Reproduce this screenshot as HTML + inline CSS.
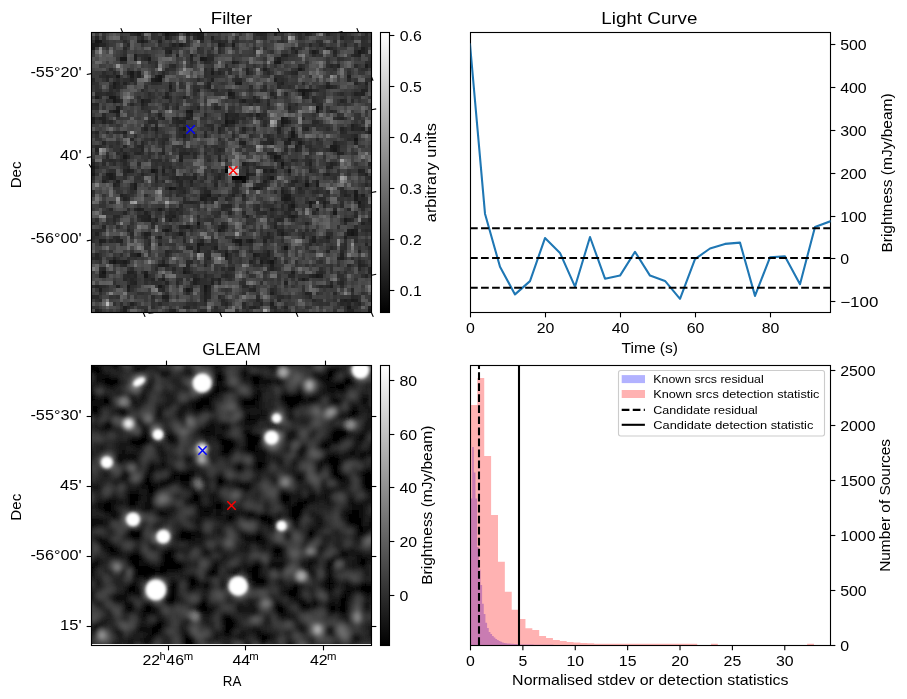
<!DOCTYPE html>
<html><head><meta charset="utf-8"><title>figure</title>
<style>html,body{margin:0;padding:0;background:#fff;}svg{display:block;will-change:transform;}text{font-family:"Liberation Sans",sans-serif;}</style></head><body>
<svg width="907" height="699" viewBox="0 0 907 699">
<defs>
<clipPath id="cF"><rect x="91.5" y="32.5" width="280.0" height="280.0"/></clipPath>
<clipPath id="cL"><rect x="470.5" y="32.5" width="360.0" height="280.0"/></clipPath>
<clipPath id="cG"><rect x="91.5" y="365.5" width="280.0" height="278.5"/></clipPath>
<clipPath id="cH"><rect x="470.5" y="365.5" width="360.0" height="280.0"/></clipPath>
<linearGradient id="gr" x1="0" y1="0" x2="0" y2="1"><stop offset="0" stop-color="#fff"/><stop offset="1" stop-color="#000"/></linearGradient>
<filter id="b3" x="-10%" y="-10%" width="120%" height="120%"><feGaussianBlur stdDeviation="2"/></filter>
<filter id="b2" x="-50%" y="-50%" width="200%" height="200%"><feGaussianBlur stdDeviation="1.6"/></filter>
<filter id="b4" x="-80%" y="-80%" width="260%" height="260%"><feGaussianBlur stdDeviation="3.2"/></filter>
<filter id="b26" x="-80%" y="-80%" width="260%" height="260%"><feGaussianBlur stdDeviation="2.6"/></filter>
</defs>
<rect x="0" y="0" width="907" height="699" fill="#fff"/>
<g clip-path="url(#cF)" shape-rendering="crispEdges">
<rect x="91.5" y="32.5" width="280.0" height="280.0" fill="#3a3a3a"/>
<path fill="#030303" d="M224.50 169.00h3.50v3.52h-3.50zM231.50 176.00h10.50v3.52h-10.50z"/>
<path fill="#090909" d="M242.00 176.00h3.50v3.52h-3.50z"/>
<path fill="#0c0c0c" d="M242.00 179.50h3.50v3.52h-3.50z"/>
<path fill="#151515" d="M95.00 39.50h3.50v3.52h-3.50zM158.00 74.50h3.50v3.52h-3.50zM158.00 78.00h3.50v3.52h-3.50zM301.50 92.00h3.50v3.52h-3.50zM315.50 106.00h3.50v3.52h-3.50zM224.50 120.00h3.50v3.52h-3.50zM354.00 137.50h3.50v3.52h-3.50zM273.50 155.00h3.50v3.52h-3.50zM280.50 162.00h3.50v3.52h-3.50zM224.50 165.50h3.50v3.52h-3.50zM151.00 169.00h3.50v3.52h-3.50zM305.00 183.00h3.50v3.52h-3.50zM168.50 186.50h3.50v3.52h-3.50zM196.50 221.50h3.50v3.52h-3.50zM350.50 232.00h3.50v3.52h-3.50zM284.00 246.00h3.50v3.52h-3.50zM112.50 260.00h3.50v3.52h-3.50zM270.00 260.00h3.50v3.52h-3.50zM102.00 270.50h3.50v3.52h-3.50zM203.50 284.50h3.50v3.52h-3.50z"/>
<path fill="#181818" d="M165.00 32.50h3.50v3.52h-3.50zM98.50 39.50h3.50v3.52h-3.50zM91.50 46.50h3.50v3.52h-3.50zM357.50 50.00h3.50v3.52h-3.50zM119.50 57.00h7.00v3.52h-7.00zM200.00 57.00h3.50v3.52h-3.50zM277.00 60.50h3.50v3.52h-3.50zM298.00 67.50h3.50v3.52h-3.50zM130.00 71.00h3.50v3.52h-3.50zM116.00 74.50h3.50v3.52h-3.50zM154.50 78.00h3.50v3.52h-3.50zM301.50 88.50h3.50v3.52h-3.50zM228.00 92.00h3.50v3.52h-3.50zM109.00 95.50h7.00v3.52h-7.00zM112.50 99.00h3.50v3.52h-3.50zM116.00 109.50h3.50v3.52h-3.50zM186.00 109.50h7.00v3.52h-7.00zM280.50 116.50h3.50v3.52h-3.50zM280.50 120.00h3.50v3.52h-3.50zM182.50 127.00h3.50v3.52h-3.50zM291.00 130.50h3.50v3.52h-3.50zM291.00 134.00h3.50v3.52h-3.50zM287.50 137.50h3.50v3.52h-3.50zM333.00 148.00h3.50v3.52h-3.50zM123.00 155.00h3.50v3.52h-3.50zM91.50 165.50h3.50v3.52h-3.50zM287.50 169.00h3.50v3.52h-3.50zM91.50 172.50h3.50v3.52h-3.50zM270.00 176.00h3.50v3.52h-3.50zM252.50 186.50h3.50v3.52h-3.50zM207.00 193.50h3.50v3.52h-3.50zM354.00 193.50h3.50v3.52h-3.50zM284.00 197.00h3.50v3.52h-3.50zM308.50 200.50h3.50v3.52h-3.50zM357.50 200.50h3.50v3.52h-3.50zM291.00 204.00h3.50v3.52h-3.50zM333.00 211.00h3.50v3.52h-3.50zM165.00 228.50h3.50v3.52h-3.50zM350.50 228.50h3.50v3.52h-3.50zM235.00 239.00h7.00v3.52h-7.00zM196.50 242.50h3.50v3.52h-3.50zM137.00 253.00h3.50v3.52h-3.50zM224.50 253.00h3.50v3.52h-3.50zM182.50 270.50h3.50v3.52h-3.50zM144.00 274.00h3.50v3.52h-3.50zM315.50 274.00h3.50v3.52h-3.50zM158.00 284.50h3.50v3.52h-3.50zM186.00 288.00h3.50v3.52h-3.50zM203.50 288.00h3.50v3.52h-3.50zM347.00 305.50h3.50v3.52h-3.50z"/>
<path fill="#1b1b1b" d="M196.50 32.50h3.50v3.52h-3.50zM200.00 36.00h3.50v3.52h-3.50zM140.50 39.50h3.50v3.52h-3.50zM91.50 43.00h7.00v3.52h-7.00zM179.00 43.00h3.50v3.52h-3.50zM217.50 43.00h3.50v3.52h-3.50zM231.50 43.00h3.50v3.52h-3.50zM312.00 50.00h3.50v3.52h-3.50zM147.50 57.00h3.50v3.52h-3.50zM203.50 57.00h3.50v3.52h-3.50zM273.50 60.50h3.50v3.52h-3.50zM364.50 64.00h3.50v3.52h-3.50zM210.50 71.00h3.50v3.52h-3.50zM130.00 74.50h3.50v3.52h-3.50zM112.50 81.50h3.50v3.52h-3.50zM238.50 81.50h3.50v3.52h-3.50zM168.50 85.00h3.50v3.52h-3.50zM298.00 88.50h3.50v3.52h-3.50zM305.00 88.50h3.50v3.52h-3.50zM95.00 95.50h3.50v3.52h-3.50zM140.50 99.00h3.50v3.52h-3.50zM112.50 109.50h3.50v3.52h-3.50zM315.50 109.50h3.50v3.52h-3.50zM91.50 116.50h3.50v3.52h-3.50zM231.50 120.00h3.50v3.52h-3.50zM284.00 120.00h3.50v3.52h-3.50zM298.00 141.00h3.50v3.52h-3.50zM329.50 144.50h7.00v3.52h-7.00zM277.00 155.00h3.50v3.52h-3.50zM270.00 169.00h3.50v3.52h-3.50zM109.00 172.50h3.50v3.52h-3.50zM245.50 172.50h3.50v3.52h-3.50zM109.00 176.00h3.50v3.52h-3.50zM133.50 183.00h3.50v3.52h-3.50zM315.50 183.00h3.50v3.52h-3.50zM133.50 186.50h3.50v3.52h-3.50zM172.00 186.50h3.50v3.52h-3.50zM256.00 186.50h3.50v3.52h-3.50zM354.00 190.00h3.50v3.52h-3.50zM284.00 193.50h7.00v3.52h-7.00zM200.00 197.00h3.50v3.52h-3.50zM287.50 197.00h3.50v3.52h-3.50zM354.00 197.00h3.50v3.52h-3.50zM158.00 207.50h3.50v3.52h-3.50zM291.00 214.50h3.50v3.52h-3.50zM343.50 218.00h3.50v3.52h-3.50zM186.00 225.00h3.50v3.52h-3.50zM217.50 228.50h3.50v3.52h-3.50zM179.00 232.00h3.50v3.52h-3.50zM280.50 232.00h3.50v3.52h-3.50zM347.00 232.00h3.50v3.52h-3.50zM249.00 239.00h3.50v3.52h-3.50zM200.00 242.50h3.50v3.52h-3.50zM238.50 242.50h3.50v3.52h-3.50zM196.50 246.00h3.50v3.52h-3.50zM196.50 249.50h3.50v3.52h-3.50zM252.50 253.00h3.50v3.52h-3.50zM123.00 260.00h3.50v3.52h-3.50zM259.50 260.00h3.50v3.52h-3.50zM161.50 263.50h3.50v3.52h-3.50zM301.50 277.50h3.50v3.52h-3.50zM126.50 284.50h3.50v3.52h-3.50zM350.50 298.50h3.50v3.52h-3.50zM368.00 309.00h3.50v3.52h-3.50z"/>
<path fill="#1e1e1e" d="M137.00 32.50h3.50v3.52h-3.50zM186.00 32.50h3.50v3.52h-3.50zM200.00 32.50h3.50v3.52h-3.50zM196.50 36.00h3.50v3.52h-3.50zM361.00 46.50h3.50v3.52h-3.50zM168.50 50.00h3.50v3.52h-3.50zM133.50 53.50h3.50v3.52h-3.50zM189.50 53.50h3.50v3.52h-3.50zM133.50 57.00h3.50v3.52h-3.50zM277.00 57.00h3.50v3.52h-3.50zM231.50 60.50h3.50v3.52h-3.50zM263.00 67.50h3.50v3.52h-3.50zM347.00 74.50h3.50v3.52h-3.50zM151.00 78.00h3.50v3.52h-3.50zM273.50 78.00h3.50v3.52h-3.50zM235.00 81.50h3.50v3.52h-3.50zM112.50 85.00h3.50v3.52h-3.50zM326.00 85.00h3.50v3.52h-3.50zM308.50 88.50h3.50v3.52h-3.50zM231.50 92.00h3.50v3.52h-3.50zM165.00 95.50h3.50v3.52h-3.50zM242.00 99.00h3.50v3.52h-3.50zM116.00 106.00h3.50v3.52h-3.50zM189.50 113.00h3.50v3.52h-3.50zM224.50 113.00h3.50v3.52h-3.50zM256.00 113.00h3.50v3.52h-3.50zM186.00 116.50h3.50v3.52h-3.50zM224.50 116.50h3.50v3.52h-3.50zM91.50 120.00h3.50v3.52h-3.50zM228.00 120.00h3.50v3.52h-3.50zM224.50 123.50h3.50v3.52h-3.50zM350.50 123.50h3.50v3.52h-3.50zM154.50 127.00h3.50v3.52h-3.50zM368.00 130.50h3.50v3.52h-3.50zM182.50 134.00h3.50v3.52h-3.50zM242.00 141.00h3.50v3.52h-3.50zM294.50 144.50h3.50v3.52h-3.50zM329.50 148.00h3.50v3.52h-3.50zM179.00 158.50h3.50v3.52h-3.50zM273.50 158.50h3.50v3.52h-3.50zM242.00 162.00h3.50v3.52h-3.50zM91.50 169.00h3.50v3.52h-3.50zM126.50 169.00h3.50v3.52h-3.50zM154.50 169.00h3.50v3.52h-3.50zM161.50 169.00h3.50v3.52h-3.50zM263.00 169.00h3.50v3.52h-3.50zM105.50 172.50h3.50v3.52h-3.50zM245.50 176.00h3.50v3.52h-3.50zM116.00 179.50h3.50v3.52h-3.50zM235.00 179.50h3.50v3.52h-3.50zM263.00 179.50h3.50v3.52h-3.50zM315.50 179.50h3.50v3.52h-3.50zM280.50 190.00h3.50v3.52h-3.50zM203.50 193.50h3.50v3.52h-3.50zM361.00 193.50h3.50v3.52h-3.50zM203.50 197.00h3.50v3.52h-3.50zM280.50 197.00h3.50v3.52h-3.50zM322.50 200.50h3.50v3.52h-3.50zM308.50 204.00h3.50v3.52h-3.50zM137.00 207.50h3.50v3.52h-3.50zM270.00 207.50h3.50v3.52h-3.50zM315.50 207.50h3.50v3.52h-3.50zM147.50 214.50h3.50v3.52h-3.50zM172.00 214.50h3.50v3.52h-3.50zM147.50 218.00h3.50v3.52h-3.50zM168.50 218.00h3.50v3.52h-3.50zM221.00 225.00h3.50v3.52h-3.50zM347.00 228.50h3.50v3.52h-3.50zM354.00 228.50h3.50v3.52h-3.50zM144.00 232.00h3.50v3.52h-3.50zM354.00 232.00h3.50v3.52h-3.50zM158.00 235.50h3.50v3.52h-3.50zM326.00 235.50h3.50v3.52h-3.50zM343.50 235.50h3.50v3.52h-3.50zM98.50 239.00h3.50v3.52h-3.50zM312.00 239.00h3.50v3.52h-3.50zM214.00 246.00h3.50v3.52h-3.50zM266.50 253.00h3.50v3.52h-3.50zM340.00 256.50h3.50v3.52h-3.50zM109.00 260.00h3.50v3.52h-3.50zM266.50 260.00h3.50v3.52h-3.50zM158.00 263.50h3.50v3.52h-3.50zM270.00 263.50h3.50v3.52h-3.50zM144.00 270.50h3.50v3.52h-3.50zM291.00 270.50h3.50v3.52h-3.50zM98.50 274.00h7.00v3.52h-7.00zM319.00 274.00h3.50v3.52h-3.50zM161.50 277.50h3.50v3.52h-3.50zM193.00 277.50h3.50v3.52h-3.50zM193.00 281.00h3.50v3.52h-3.50zM329.50 284.50h3.50v3.52h-3.50zM98.50 288.00h3.50v3.52h-3.50zM203.50 291.50h3.50v3.52h-3.50zM270.00 291.50h3.50v3.52h-3.50zM161.50 295.00h7.00v3.52h-7.00zM343.50 298.50h3.50v3.52h-3.50zM354.00 298.50h3.50v3.52h-3.50zM270.00 302.00h3.50v3.52h-3.50zM123.00 305.50h3.50v3.52h-3.50zM123.00 309.00h3.50v3.52h-3.50z"/>
<path fill="#212121" d="M168.50 32.50h7.00v3.52h-7.00zM193.00 32.50h3.50v3.52h-3.50zM273.50 32.50h3.50v3.52h-3.50zM165.00 36.00h3.50v3.52h-3.50zM210.50 36.00h3.50v3.52h-3.50zM340.00 36.00h3.50v3.52h-3.50zM158.00 39.50h3.50v3.52h-3.50zM172.00 43.00h3.50v3.52h-3.50zM221.00 43.00h3.50v3.52h-3.50zM326.00 46.50h3.50v3.52h-3.50zM294.50 50.00h3.50v3.52h-3.50zM361.00 50.00h3.50v3.52h-3.50zM284.00 53.50h3.50v3.52h-3.50zM357.50 53.50h3.50v3.52h-3.50zM336.50 64.00h3.50v3.52h-3.50zM245.50 67.50h3.50v3.52h-3.50zM137.00 71.00h3.50v3.52h-3.50zM245.50 71.00h3.50v3.52h-3.50zM137.00 74.50h3.50v3.52h-3.50zM154.50 74.50h3.50v3.52h-3.50zM210.50 78.00h3.50v3.52h-3.50zM123.00 81.50h3.50v3.52h-3.50zM280.50 81.50h3.50v3.52h-3.50zM364.50 81.50h3.50v3.52h-3.50zM207.00 85.00h3.50v3.52h-3.50zM361.00 88.50h3.50v3.52h-3.50zM354.00 92.00h3.50v3.52h-3.50zM361.00 92.00h3.50v3.52h-3.50zM182.50 95.50h3.50v3.52h-3.50zM231.50 95.50h3.50v3.52h-3.50zM116.00 99.00h3.50v3.52h-3.50zM256.00 99.00h3.50v3.52h-3.50zM140.50 102.50h3.50v3.52h-3.50zM287.50 106.00h3.50v3.52h-3.50zM158.00 113.00h3.50v3.52h-3.50zM98.50 116.50h7.00v3.52h-7.00zM161.50 116.50h3.50v3.52h-3.50zM175.50 116.50h3.50v3.52h-3.50zM284.00 116.50h3.50v3.52h-3.50zM102.00 120.00h3.50v3.52h-3.50zM179.00 120.00h3.50v3.52h-3.50zM280.50 123.50h3.50v3.52h-3.50zM144.00 127.00h3.50v3.52h-3.50zM242.00 127.00h3.50v3.52h-3.50zM277.00 127.00h3.50v3.52h-3.50zM305.00 127.00h3.50v3.52h-3.50zM340.00 127.00h3.50v3.52h-3.50zM350.50 127.00h3.50v3.52h-3.50zM361.00 127.00h3.50v3.52h-3.50zM123.00 130.50h3.50v3.52h-3.50zM238.50 141.00h3.50v3.52h-3.50zM270.00 141.00h3.50v3.52h-3.50zM284.00 141.00h7.00v3.52h-7.00zM354.00 141.00h3.50v3.52h-3.50zM95.00 148.00h3.50v3.52h-3.50zM294.50 148.00h3.50v3.52h-3.50zM270.00 151.50h3.50v3.52h-3.50zM336.50 151.50h3.50v3.52h-3.50zM179.00 155.00h3.50v3.52h-3.50zM91.50 162.00h3.50v3.52h-3.50zM308.50 162.00h3.50v3.52h-3.50zM329.50 162.00h3.50v3.52h-3.50zM280.50 165.50h3.50v3.52h-3.50zM357.50 169.00h3.50v3.52h-3.50zM326.00 172.50h3.50v3.52h-3.50zM364.50 172.50h3.50v3.52h-3.50zM112.50 176.00h3.50v3.52h-3.50zM154.50 176.00h3.50v3.52h-3.50zM175.50 176.00h3.50v3.52h-3.50zM193.00 176.00h3.50v3.52h-3.50zM217.50 176.00h3.50v3.52h-3.50zM102.00 179.50h3.50v3.52h-3.50zM189.50 179.50h3.50v3.52h-3.50zM238.50 179.50h3.50v3.52h-3.50zM294.50 179.50h3.50v3.52h-3.50zM112.50 183.00h3.50v3.52h-3.50zM119.50 193.50h3.50v3.52h-3.50zM200.00 193.50h3.50v3.52h-3.50zM231.50 193.50h3.50v3.52h-3.50zM343.50 193.50h3.50v3.52h-3.50zM123.00 197.00h3.50v3.52h-3.50zM287.50 204.00h3.50v3.52h-3.50zM357.50 204.00h3.50v3.52h-3.50zM140.50 207.50h3.50v3.52h-3.50zM287.50 207.50h3.50v3.52h-3.50zM144.00 211.00h3.50v3.52h-3.50zM245.50 214.50h3.50v3.52h-3.50zM287.50 214.50h3.50v3.52h-3.50zM144.00 218.00h3.50v3.52h-3.50zM154.50 218.00h3.50v3.52h-3.50zM361.00 221.50h3.50v3.52h-3.50zM273.50 225.00h3.50v3.52h-3.50zM161.50 228.50h3.50v3.52h-3.50zM95.00 232.00h3.50v3.52h-3.50zM147.50 232.00h3.50v3.52h-3.50zM312.00 235.50h3.50v3.52h-3.50zM102.00 239.00h3.50v3.52h-3.50zM119.50 239.00h3.50v3.52h-3.50zM231.50 239.00h3.50v3.52h-3.50zM245.50 239.00h3.50v3.52h-3.50zM263.00 239.00h3.50v3.52h-3.50zM224.50 249.50h3.50v3.52h-3.50zM266.50 249.50h3.50v3.52h-3.50zM256.00 253.00h3.50v3.52h-3.50zM340.00 253.00h3.50v3.52h-3.50zM224.50 256.50h3.50v3.52h-3.50zM116.00 260.00h7.00v3.52h-7.00zM165.00 263.50h3.50v3.52h-3.50zM357.50 263.50h3.50v3.52h-3.50zM182.50 267.00h3.50v3.52h-3.50zM270.00 267.00h3.50v3.52h-3.50zM98.50 270.50h3.50v3.52h-3.50zM126.50 270.50h7.00v3.52h-7.00zM186.00 270.50h3.50v3.52h-3.50zM312.00 274.00h3.50v3.52h-3.50zM196.50 277.50h3.50v3.52h-3.50zM217.50 277.50h3.50v3.52h-3.50zM133.50 281.00h3.50v3.52h-3.50zM210.50 281.00h3.50v3.52h-3.50zM284.00 281.00h3.50v3.52h-3.50zM95.00 284.50h3.50v3.52h-3.50zM116.00 284.50h3.50v3.52h-3.50zM207.00 284.50h3.50v3.52h-3.50zM126.50 288.00h3.50v3.52h-3.50zM305.00 291.50h3.50v3.52h-3.50zM203.50 295.00h3.50v3.52h-3.50zM203.50 298.50h3.50v3.52h-3.50zM130.00 302.00h3.50v3.52h-3.50zM252.50 305.50h3.50v3.52h-3.50zM368.00 305.50h3.50v3.52h-3.50zM95.00 309.00h3.50v3.52h-3.50zM172.00 309.00h3.50v3.52h-3.50zM347.00 309.00h7.00v3.52h-7.00z"/>
<path fill="#242424" d="M259.50 32.50h3.50v3.52h-3.50zM305.00 32.50h3.50v3.52h-3.50zM95.00 36.00h3.50v3.52h-3.50zM137.00 39.50h3.50v3.52h-3.50zM144.00 39.50h3.50v3.52h-3.50zM98.50 43.00h7.00v3.52h-7.00zM291.00 46.50h3.50v3.52h-3.50zM165.00 50.00h3.50v3.52h-3.50zM315.50 50.00h3.50v3.52h-3.50zM333.00 50.00h3.50v3.52h-3.50zM175.50 53.50h3.50v3.52h-3.50zM280.50 53.50h3.50v3.52h-3.50zM354.00 53.50h3.50v3.52h-3.50zM189.50 57.00h3.50v3.52h-3.50zM235.00 60.50h3.50v3.52h-3.50zM329.50 64.00h3.50v3.52h-3.50zM210.50 67.50h3.50v3.52h-3.50zM126.50 71.00h3.50v3.52h-3.50zM217.50 71.00h3.50v3.52h-3.50zM294.50 71.00h3.50v3.52h-3.50zM105.50 74.50h3.50v3.52h-3.50zM130.00 78.00h3.50v3.52h-3.50zM116.00 81.50h3.50v3.52h-3.50zM207.00 81.50h3.50v3.52h-3.50zM354.00 81.50h3.50v3.52h-3.50zM329.50 85.00h3.50v3.52h-3.50zM168.50 88.50h3.50v3.52h-3.50zM196.50 88.50h3.50v3.52h-3.50zM364.50 88.50h3.50v3.52h-3.50zM165.00 92.00h3.50v3.52h-3.50zM270.00 92.00h3.50v3.52h-3.50zM305.00 92.00h3.50v3.52h-3.50zM357.50 92.00h3.50v3.52h-3.50zM252.50 95.50h3.50v3.52h-3.50zM305.00 95.50h3.50v3.52h-3.50zM144.00 99.00h7.00v3.52h-7.00zM340.00 99.00h3.50v3.52h-3.50zM95.00 102.50h3.50v3.52h-3.50zM266.50 102.50h3.50v3.52h-3.50zM196.50 106.00h3.50v3.52h-3.50zM214.00 106.00h3.50v3.52h-3.50zM109.00 109.50h3.50v3.52h-3.50zM329.50 109.50h3.50v3.52h-3.50zM116.00 113.00h3.50v3.52h-3.50zM186.00 113.00h3.50v3.52h-3.50zM235.00 113.00h3.50v3.52h-3.50zM231.50 116.50h3.50v3.52h-3.50zM340.00 116.50h3.50v3.52h-3.50zM175.50 120.00h3.50v3.52h-3.50zM182.50 120.00h3.50v3.52h-3.50zM287.50 120.00h3.50v3.52h-3.50zM179.00 127.00h3.50v3.52h-3.50zM217.50 127.00h3.50v3.52h-3.50zM368.00 127.00h3.50v3.52h-3.50zM95.00 130.50h3.50v3.52h-3.50zM277.00 130.50h3.50v3.52h-3.50zM203.50 134.00h3.50v3.52h-3.50zM354.00 134.00h3.50v3.52h-3.50zM291.00 137.50h3.50v3.52h-3.50zM102.00 141.00h3.50v3.52h-3.50zM333.00 141.00h3.50v3.52h-3.50zM123.00 144.50h3.50v3.52h-3.50zM140.50 144.50h3.50v3.52h-3.50zM336.50 144.50h3.50v3.52h-3.50zM140.50 148.00h3.50v3.52h-3.50zM217.50 148.00h3.50v3.52h-3.50zM123.00 151.50h3.50v3.52h-3.50zM137.00 151.50h3.50v3.52h-3.50zM161.50 151.50h3.50v3.52h-3.50zM179.00 151.50h10.50v3.52h-10.50zM266.50 151.50h3.50v3.52h-3.50zM340.00 151.50h3.50v3.52h-3.50zM126.50 155.00h3.50v3.52h-3.50zM217.50 158.50h3.50v3.52h-3.50zM326.00 165.50h7.00v3.52h-7.00zM123.00 169.00h3.50v3.52h-3.50zM130.00 169.00h3.50v3.52h-3.50zM245.50 169.00h3.50v3.52h-3.50zM308.50 169.00h3.50v3.52h-3.50zM361.00 169.00h3.50v3.52h-3.50zM112.50 172.50h3.50v3.52h-3.50zM140.50 172.50h3.50v3.52h-3.50zM249.00 172.50h3.50v3.52h-3.50zM105.50 176.00h3.50v3.52h-3.50zM266.50 176.00h3.50v3.52h-3.50zM179.00 179.50h3.50v3.52h-3.50zM291.00 179.50h3.50v3.52h-3.50zM305.00 179.50h3.50v3.52h-3.50zM179.00 183.00h3.50v3.52h-3.50zM214.00 183.00h3.50v3.52h-3.50zM259.50 183.00h3.50v3.52h-3.50zM298.00 186.50h3.50v3.52h-3.50zM182.50 190.00h3.50v3.52h-3.50zM203.50 190.00h7.00v3.52h-7.00zM242.00 193.50h3.50v3.52h-3.50zM280.50 193.50h3.50v3.52h-3.50zM210.50 197.00h7.00v3.52h-7.00zM189.50 200.50h3.50v3.52h-3.50zM291.00 200.50h3.50v3.52h-3.50zM312.00 200.50h3.50v3.52h-3.50zM224.50 204.00h7.00v3.52h-7.00zM322.50 204.00h3.50v3.52h-3.50zM133.50 207.50h3.50v3.52h-3.50zM175.50 207.50h3.50v3.52h-3.50zM291.00 207.50h3.50v3.52h-3.50zM123.00 211.00h3.50v3.52h-3.50zM168.50 211.00h3.50v3.52h-3.50zM228.00 211.00h3.50v3.52h-3.50zM140.50 214.50h7.00v3.52h-7.00zM165.00 214.50h7.00v3.52h-7.00zM294.50 214.50h3.50v3.52h-3.50zM140.50 218.00h3.50v3.52h-3.50zM277.00 218.00h3.50v3.52h-3.50zM347.00 218.00h3.50v3.52h-3.50zM368.00 218.00h3.50v3.52h-3.50zM305.00 221.50h3.50v3.52h-3.50zM102.00 225.00h3.50v3.52h-3.50zM179.00 225.00h7.00v3.52h-7.00zM196.50 225.00h3.50v3.52h-3.50zM126.50 228.50h3.50v3.52h-3.50zM221.00 228.50h3.50v3.52h-3.50zM277.00 228.50h7.00v3.52h-7.00zM266.50 232.00h3.50v3.52h-3.50zM144.00 235.50h3.50v3.52h-3.50zM266.50 235.50h3.50v3.52h-3.50zM301.50 235.50h3.50v3.52h-3.50zM116.00 239.00h3.50v3.52h-3.50zM200.00 239.00h3.50v3.52h-3.50zM158.00 242.50h3.50v3.52h-3.50zM364.50 242.50h3.50v3.52h-3.50zM189.50 246.00h3.50v3.52h-3.50zM165.00 249.50h3.50v3.52h-3.50zM326.00 249.50h3.50v3.52h-3.50zM357.50 249.50h3.50v3.52h-3.50zM95.00 253.00h3.50v3.52h-3.50zM133.50 253.00h3.50v3.52h-3.50zM95.00 256.50h3.50v3.52h-3.50zM112.50 256.50h3.50v3.52h-3.50zM207.00 256.50h3.50v3.52h-3.50zM259.50 256.50h7.00v3.52h-7.00zM273.50 256.50h3.50v3.52h-3.50zM336.50 256.50h3.50v3.52h-3.50zM161.50 260.00h3.50v3.52h-3.50zM249.00 260.00h3.50v3.52h-3.50zM357.50 260.00h3.50v3.52h-3.50zM186.00 263.50h3.50v3.52h-3.50zM203.50 263.50h3.50v3.52h-3.50zM361.00 263.50h3.50v3.52h-3.50zM231.50 267.00h3.50v3.52h-3.50zM133.50 274.00h3.50v3.52h-3.50zM224.50 274.00h3.50v3.52h-3.50zM364.50 274.00h3.50v3.52h-3.50zM130.00 277.50h3.50v3.52h-3.50zM151.00 277.50h3.50v3.52h-3.50zM210.50 277.50h3.50v3.52h-3.50zM130.00 281.00h3.50v3.52h-3.50zM165.00 281.00h3.50v3.52h-3.50zM340.00 281.00h3.50v3.52h-3.50zM189.50 288.00h3.50v3.52h-3.50zM207.00 288.00h3.50v3.52h-3.50zM252.50 288.00h3.50v3.52h-3.50zM308.50 291.50h3.50v3.52h-3.50zM256.00 298.50h3.50v3.52h-3.50zM340.00 298.50h3.50v3.52h-3.50zM347.00 298.50h3.50v3.52h-3.50zM224.50 302.00h3.50v3.52h-3.50zM259.50 302.00h3.50v3.52h-3.50zM347.00 302.00h3.50v3.52h-3.50zM357.50 302.00h3.50v3.52h-3.50zM186.00 305.50h3.50v3.52h-3.50zM249.00 305.50h3.50v3.52h-3.50zM273.50 305.50h3.50v3.52h-3.50zM284.00 305.50h3.50v3.52h-3.50zM168.50 309.00h3.50v3.52h-3.50z"/>
<path fill="#272727" d="M133.50 32.50h3.50v3.52h-3.50zM256.00 32.50h3.50v3.52h-3.50zM263.00 32.50h3.50v3.52h-3.50zM326.00 32.50h3.50v3.52h-3.50zM140.50 36.00h3.50v3.52h-3.50zM217.50 39.50h3.50v3.52h-3.50zM126.50 43.00h3.50v3.52h-3.50zM182.50 43.00h3.50v3.52h-3.50zM308.50 43.00h3.50v3.52h-3.50zM319.00 43.00h3.50v3.52h-3.50zM343.50 43.00h3.50v3.52h-3.50zM123.00 46.50h3.50v3.52h-3.50zM165.00 46.50h7.00v3.52h-7.00zM329.50 46.50h3.50v3.52h-3.50zM354.00 50.00h3.50v3.52h-3.50zM144.00 57.00h3.50v3.52h-3.50zM207.00 57.00h7.00v3.52h-7.00zM203.50 60.50h3.50v3.52h-3.50zM172.00 64.00h3.50v3.52h-3.50zM301.50 67.50h3.50v3.52h-3.50zM112.50 71.00h3.50v3.52h-3.50zM161.50 71.00h3.50v3.52h-3.50zM266.50 71.00h3.50v3.52h-3.50zM291.00 71.00h3.50v3.52h-3.50zM91.50 78.00h3.50v3.52h-3.50zM105.50 78.00h3.50v3.52h-3.50zM235.00 78.00h7.00v3.52h-7.00zM347.00 78.00h3.50v3.52h-3.50zM168.50 81.50h3.50v3.52h-3.50zM277.00 81.50h3.50v3.52h-3.50zM326.00 81.50h3.50v3.52h-3.50zM116.00 85.00h3.50v3.52h-3.50zM277.00 85.00h3.50v3.52h-3.50zM228.00 88.50h3.50v3.52h-3.50zM312.00 88.50h7.00v3.52h-7.00zM95.00 92.00h3.50v3.52h-3.50zM105.50 92.00h7.00v3.52h-7.00zM284.00 92.00h3.50v3.52h-3.50zM228.00 95.50h3.50v3.52h-3.50zM273.50 95.50h3.50v3.52h-3.50zM301.50 95.50h3.50v3.52h-3.50zM238.50 99.00h3.50v3.52h-3.50zM252.50 99.00h3.50v3.52h-3.50zM312.00 99.00h3.50v3.52h-3.50zM91.50 102.50h3.50v3.52h-3.50zM130.00 102.50h3.50v3.52h-3.50zM175.50 106.00h3.50v3.52h-3.50zM319.00 106.00h3.50v3.52h-3.50zM102.00 113.00h3.50v3.52h-3.50zM203.50 113.00h3.50v3.52h-3.50zM228.00 113.00h7.00v3.52h-7.00zM249.00 113.00h3.50v3.52h-3.50zM158.00 116.50h3.50v3.52h-3.50zM172.00 116.50h3.50v3.52h-3.50zM182.50 116.50h3.50v3.52h-3.50zM189.50 116.50h3.50v3.52h-3.50zM235.00 116.50h3.50v3.52h-3.50zM259.50 116.50h3.50v3.52h-3.50zM336.50 116.50h3.50v3.52h-3.50zM109.00 120.00h3.50v3.52h-3.50zM147.50 120.00h7.00v3.52h-7.00zM312.00 120.00h7.00v3.52h-7.00zM154.50 123.50h3.50v3.52h-3.50zM221.00 123.50h3.50v3.52h-3.50zM263.00 123.50h3.50v3.52h-3.50zM354.00 123.50h3.50v3.52h-3.50zM210.50 127.00h3.50v3.52h-3.50zM301.50 127.00h3.50v3.52h-3.50zM354.00 127.00h7.00v3.52h-7.00zM217.50 130.50h3.50v3.52h-3.50zM340.00 130.50h3.50v3.52h-3.50zM231.50 134.00h3.50v3.52h-3.50zM266.50 134.00h3.50v3.52h-3.50zM294.50 134.00h3.50v3.52h-3.50zM130.00 137.50h3.50v3.52h-3.50zM165.00 137.50h3.50v3.52h-3.50zM266.50 137.50h7.00v3.52h-7.00zM294.50 137.50h3.50v3.52h-3.50zM315.50 137.50h3.50v3.52h-3.50zM140.50 141.00h3.50v3.52h-3.50zM161.50 141.00h3.50v3.52h-3.50zM263.00 141.00h7.00v3.52h-7.00zM95.00 144.50h3.50v3.52h-3.50zM137.00 144.50h3.50v3.52h-3.50zM298.00 144.50h3.50v3.52h-3.50zM119.50 148.00h3.50v3.52h-3.50zM284.00 148.00h3.50v3.52h-3.50zM336.50 148.00h3.50v3.52h-3.50zM133.50 151.50h3.50v3.52h-3.50zM193.00 151.50h3.50v3.52h-3.50zM273.50 151.50h3.50v3.52h-3.50zM105.50 155.00h3.50v3.52h-3.50zM217.50 155.00h3.50v3.52h-3.50zM109.00 158.50h3.50v3.52h-3.50zM119.50 158.50h7.00v3.52h-7.00zM277.00 158.50h3.50v3.52h-3.50zM291.00 158.50h3.50v3.52h-3.50zM308.50 158.50h3.50v3.52h-3.50zM123.00 162.00h3.50v3.52h-3.50zM245.50 162.00h3.50v3.52h-3.50zM333.00 162.00h3.50v3.52h-3.50zM368.00 162.00h3.50v3.52h-3.50zM95.00 165.50h3.50v3.52h-3.50zM126.50 165.50h3.50v3.52h-3.50zM161.50 165.50h3.50v3.52h-3.50zM168.50 165.50h3.50v3.52h-3.50zM256.00 165.50h3.50v3.52h-3.50zM172.00 169.00h3.50v3.52h-3.50zM266.50 169.00h3.50v3.52h-3.50zM123.00 172.50h3.50v3.52h-3.50zM154.50 172.50h3.50v3.52h-3.50zM161.50 172.50h3.50v3.52h-3.50zM217.50 172.50h3.50v3.52h-3.50zM252.50 172.50h3.50v3.52h-3.50zM322.50 172.50h3.50v3.52h-3.50zM172.00 176.00h3.50v3.52h-3.50zM182.50 176.00h7.00v3.52h-7.00zM154.50 179.50h3.50v3.52h-3.50zM175.50 179.50h3.50v3.52h-3.50zM116.00 183.00h3.50v3.52h-3.50zM130.00 183.00h3.50v3.52h-3.50zM189.50 183.00h3.50v3.52h-3.50zM256.00 183.00h3.50v3.52h-3.50zM263.00 183.00h3.50v3.52h-3.50zM364.50 183.00h3.50v3.52h-3.50zM130.00 186.50h3.50v3.52h-3.50zM179.00 186.50h3.50v3.52h-3.50zM203.50 186.50h3.50v3.52h-3.50zM259.50 186.50h3.50v3.52h-3.50zM280.50 186.50h3.50v3.52h-3.50zM235.00 190.00h3.50v3.52h-3.50zM284.00 190.00h3.50v3.52h-3.50zM315.50 190.00h3.50v3.52h-3.50zM343.50 190.00h3.50v3.52h-3.50zM123.00 193.50h3.50v3.52h-3.50zM217.50 193.50h3.50v3.52h-3.50zM347.00 193.50h3.50v3.52h-3.50zM126.50 197.00h3.50v3.52h-3.50zM224.50 197.00h3.50v3.52h-3.50zM319.00 197.00h3.50v3.52h-3.50zM361.00 197.00h3.50v3.52h-3.50zM182.50 200.50h7.00v3.52h-7.00zM193.00 200.50h3.50v3.52h-3.50zM203.50 200.50h3.50v3.52h-3.50zM284.00 200.50h3.50v3.52h-3.50zM221.00 204.00h3.50v3.52h-3.50zM361.00 204.00h3.50v3.52h-3.50zM109.00 207.50h3.50v3.52h-3.50zM221.00 207.50h3.50v3.52h-3.50zM256.00 207.50h3.50v3.52h-3.50zM333.00 207.50h3.50v3.52h-3.50zM347.00 207.50h3.50v3.52h-3.50zM172.00 211.00h3.50v3.52h-3.50zM242.00 211.00h3.50v3.52h-3.50zM263.00 211.00h3.50v3.52h-3.50zM284.00 211.00h7.00v3.52h-7.00zM312.00 211.00h3.50v3.52h-3.50zM112.50 214.50h7.00v3.52h-7.00zM137.00 214.50h3.50v3.52h-3.50zM354.00 214.50h3.50v3.52h-3.50zM112.50 218.00h3.50v3.52h-3.50zM280.50 218.00h3.50v3.52h-3.50zM291.00 218.00h3.50v3.52h-3.50zM151.00 221.50h3.50v3.52h-3.50zM273.50 221.50h3.50v3.52h-3.50zM343.50 221.50h3.50v3.52h-3.50zM217.50 225.00h3.50v3.52h-3.50zM224.50 225.00h3.50v3.52h-3.50zM168.50 228.50h3.50v3.52h-3.50zM364.50 228.50h3.50v3.52h-3.50zM130.00 232.00h3.50v3.52h-3.50zM277.00 232.00h3.50v3.52h-3.50zM301.50 232.00h3.50v3.52h-3.50zM116.00 235.50h3.50v3.52h-3.50zM263.00 235.50h3.50v3.52h-3.50zM109.00 239.00h3.50v3.52h-3.50zM182.50 239.00h3.50v3.52h-3.50zM147.50 242.50h3.50v3.52h-3.50zM308.50 242.50h3.50v3.52h-3.50zM186.00 246.00h3.50v3.52h-3.50zM329.50 246.00h3.50v3.52h-3.50zM235.00 249.50h3.50v3.52h-3.50zM340.00 249.50h3.50v3.52h-3.50zM130.00 253.00h3.50v3.52h-3.50zM165.00 253.00h3.50v3.52h-3.50zM263.00 253.00h3.50v3.52h-3.50zM252.50 256.50h3.50v3.52h-3.50zM126.50 260.00h3.50v3.52h-3.50zM186.00 260.00h7.00v3.52h-7.00zM263.00 260.00h3.50v3.52h-3.50zM123.00 263.50h3.50v3.52h-3.50zM347.00 263.50h3.50v3.52h-3.50zM102.00 267.00h3.50v3.52h-3.50zM172.00 267.00h3.50v3.52h-3.50zM186.00 267.00h3.50v3.52h-3.50zM228.00 267.00h3.50v3.52h-3.50zM357.50 267.00h3.50v3.52h-3.50zM368.00 267.00h3.50v3.52h-3.50zM319.00 270.50h3.50v3.52h-3.50zM368.00 270.50h3.50v3.52h-3.50zM126.50 274.00h3.50v3.52h-3.50zM193.00 274.00h3.50v3.52h-3.50zM203.50 274.00h3.50v3.52h-3.50zM287.50 274.00h7.00v3.52h-7.00zM308.50 274.00h3.50v3.52h-3.50zM123.00 277.50h3.50v3.52h-3.50zM305.00 277.50h3.50v3.52h-3.50zM175.50 281.00h3.50v3.52h-3.50zM196.50 281.00h3.50v3.52h-3.50zM217.50 281.00h3.50v3.52h-3.50zM329.50 281.00h3.50v3.52h-3.50zM98.50 284.50h3.50v3.52h-3.50zM161.50 284.50h3.50v3.52h-3.50zM242.00 284.50h3.50v3.52h-3.50zM319.00 284.50h3.50v3.52h-3.50zM326.00 284.50h3.50v3.52h-3.50zM161.50 288.00h3.50v3.52h-3.50zM249.00 288.00h3.50v3.52h-3.50zM270.00 288.00h3.50v3.52h-3.50zM350.50 288.00h3.50v3.52h-3.50zM207.00 291.50h3.50v3.52h-3.50zM333.00 291.50h3.50v3.52h-3.50zM91.50 295.00h7.00v3.52h-7.00zM207.00 295.00h3.50v3.52h-3.50zM308.50 295.00h3.50v3.52h-3.50zM350.50 295.00h3.50v3.52h-3.50zM165.00 298.50h3.50v3.52h-3.50zM221.00 298.50h3.50v3.52h-3.50zM277.00 298.50h3.50v3.52h-3.50zM312.00 298.50h3.50v3.52h-3.50zM242.00 302.00h3.50v3.52h-3.50zM340.00 302.00h3.50v3.52h-3.50zM126.50 305.50h3.50v3.52h-3.50zM182.50 305.50h3.50v3.52h-3.50zM270.00 305.50h3.50v3.52h-3.50z"/>
<path fill="#2a2a2a" d="M130.00 32.50h3.50v3.52h-3.50zM175.50 32.50h3.50v3.52h-3.50zM298.00 32.50h3.50v3.52h-3.50zM308.50 32.50h3.50v3.52h-3.50zM364.50 32.50h3.50v3.52h-3.50zM168.50 36.00h3.50v3.52h-3.50zM193.00 36.00h3.50v3.52h-3.50zM263.00 36.00h3.50v3.52h-3.50zM298.00 36.00h3.50v3.52h-3.50zM350.50 36.00h3.50v3.52h-3.50zM361.00 36.00h3.50v3.52h-3.50zM123.00 39.50h3.50v3.52h-3.50zM200.00 39.50h3.50v3.52h-3.50zM224.50 39.50h3.50v3.52h-3.50zM231.50 39.50h3.50v3.52h-3.50zM280.50 39.50h3.50v3.52h-3.50zM175.50 43.00h3.50v3.52h-3.50zM217.50 46.50h3.50v3.52h-3.50zM252.50 46.50h3.50v3.52h-3.50zM364.50 46.50h3.50v3.52h-3.50zM217.50 50.00h3.50v3.52h-3.50zM364.50 50.00h3.50v3.52h-3.50zM144.00 53.50h3.50v3.52h-3.50zM207.00 53.50h7.00v3.52h-7.00zM312.00 53.50h3.50v3.52h-3.50zM333.00 53.50h3.50v3.52h-3.50zM350.50 53.50h3.50v3.52h-3.50zM273.50 57.00h3.50v3.52h-3.50zM189.50 60.50h3.50v3.52h-3.50zM207.00 60.50h3.50v3.52h-3.50zM168.50 64.00h3.50v3.52h-3.50zM224.50 64.00h3.50v3.52h-3.50zM298.00 64.00h3.50v3.52h-3.50zM333.00 64.00h3.50v3.52h-3.50zM354.00 64.00h3.50v3.52h-3.50zM368.00 64.00h3.50v3.52h-3.50zM109.00 67.50h3.50v3.52h-3.50zM165.00 67.50h3.50v3.52h-3.50zM203.50 67.50h3.50v3.52h-3.50zM228.00 67.50h3.50v3.52h-3.50zM102.00 71.00h3.50v3.52h-3.50zM102.00 74.50h3.50v3.52h-3.50zM109.00 74.50h3.50v3.52h-3.50zM161.50 74.50h3.50v3.52h-3.50zM116.00 78.00h3.50v3.52h-3.50zM196.50 78.00h3.50v3.52h-3.50zM280.50 78.00h3.50v3.52h-3.50zM151.00 81.50h7.00v3.52h-7.00zM301.50 81.50h3.50v3.52h-3.50zM109.00 85.00h3.50v3.52h-3.50zM203.50 85.00h3.50v3.52h-3.50zM249.00 85.00h3.50v3.52h-3.50zM263.00 85.00h3.50v3.52h-3.50zM333.00 85.00h3.50v3.52h-3.50zM364.50 85.00h3.50v3.52h-3.50zM109.00 88.50h3.50v3.52h-3.50zM140.50 88.50h3.50v3.52h-3.50zM193.00 88.50h3.50v3.52h-3.50zM210.50 88.50h7.00v3.52h-7.00zM259.50 88.50h7.00v3.52h-7.00zM98.50 92.00h3.50v3.52h-3.50zM147.50 92.00h3.50v3.52h-3.50zM340.00 92.00h3.50v3.52h-3.50zM98.50 95.50h3.50v3.52h-3.50zM116.00 95.50h3.50v3.52h-3.50zM168.50 95.50h3.50v3.52h-3.50zM312.00 95.50h3.50v3.52h-3.50zM105.50 99.00h3.50v3.52h-3.50zM119.50 99.00h3.50v3.52h-3.50zM266.50 99.00h3.50v3.52h-3.50zM343.50 99.00h3.50v3.52h-3.50zM350.50 99.00h3.50v3.52h-3.50zM144.00 102.50h3.50v3.52h-3.50zM249.00 102.50h3.50v3.52h-3.50zM294.50 102.50h3.50v3.52h-3.50zM319.00 102.50h3.50v3.52h-3.50zM95.00 106.00h3.50v3.52h-3.50zM140.50 106.00h3.50v3.52h-3.50zM165.00 106.00h3.50v3.52h-3.50zM217.50 106.00h3.50v3.52h-3.50zM333.00 109.50h3.50v3.52h-3.50zM259.50 113.00h7.00v3.52h-7.00zM95.00 116.50h3.50v3.52h-3.50zM228.00 116.50h3.50v3.52h-3.50zM242.00 116.50h3.50v3.52h-3.50zM301.50 116.50h3.50v3.52h-3.50zM154.50 120.00h3.50v3.52h-3.50zM172.00 120.00h3.50v3.52h-3.50zM235.00 120.00h3.50v3.52h-3.50zM263.00 120.00h3.50v3.52h-3.50zM175.50 123.50h3.50v3.52h-3.50zM207.00 123.50h7.00v3.52h-7.00zM228.00 123.50h3.50v3.52h-3.50zM312.00 123.50h3.50v3.52h-3.50zM151.00 127.00h3.50v3.52h-3.50zM252.50 127.00h3.50v3.52h-3.50zM291.00 127.00h3.50v3.52h-3.50zM326.00 127.00h3.50v3.52h-3.50zM343.50 127.00h3.50v3.52h-3.50zM105.50 130.50h3.50v3.52h-3.50zM116.00 130.50h3.50v3.52h-3.50zM154.50 130.50h3.50v3.52h-3.50zM179.00 130.50h3.50v3.52h-3.50zM203.50 130.50h3.50v3.52h-3.50zM242.00 130.50h3.50v3.52h-3.50zM343.50 130.50h3.50v3.52h-3.50zM179.00 134.00h3.50v3.52h-3.50zM193.00 134.00h3.50v3.52h-3.50zM350.50 134.00h3.50v3.52h-3.50zM151.00 137.50h3.50v3.52h-3.50zM161.50 137.50h3.50v3.52h-3.50zM298.00 137.50h3.50v3.52h-3.50zM347.00 137.50h3.50v3.52h-3.50zM301.50 141.00h3.50v3.52h-3.50zM98.50 144.50h3.50v3.52h-3.50zM203.50 144.50h3.50v3.52h-3.50zM308.50 144.50h3.50v3.52h-3.50zM161.50 148.00h3.50v3.52h-3.50zM182.50 148.00h3.50v3.52h-3.50zM221.00 148.00h3.50v3.52h-3.50zM298.00 148.00h3.50v3.52h-3.50zM308.50 148.00h3.50v3.52h-3.50zM116.00 151.50h3.50v3.52h-3.50zM140.50 151.50h3.50v3.52h-3.50zM203.50 151.50h3.50v3.52h-3.50zM193.00 155.00h3.50v3.52h-3.50zM270.00 155.00h3.50v3.52h-3.50zM112.50 158.50h3.50v3.52h-3.50zM158.00 158.50h3.50v3.52h-3.50zM207.00 158.50h3.50v3.52h-3.50zM224.50 158.50h3.50v3.52h-3.50zM280.50 158.50h3.50v3.52h-3.50zM294.50 158.50h3.50v3.52h-3.50zM102.00 162.00h3.50v3.52h-3.50zM112.50 162.00h3.50v3.52h-3.50zM137.00 162.00h3.50v3.52h-3.50zM252.50 162.00h3.50v3.52h-3.50zM245.50 165.50h3.50v3.52h-3.50zM308.50 165.50h3.50v3.52h-3.50zM210.50 169.00h3.50v3.52h-3.50zM273.50 169.00h3.50v3.52h-3.50zM193.00 172.50h3.50v3.52h-3.50zM361.00 172.50h3.50v3.52h-3.50zM91.50 176.00h3.50v3.52h-3.50zM102.00 176.00h3.50v3.52h-3.50zM179.00 176.00h3.50v3.52h-3.50zM189.50 176.00h3.50v3.52h-3.50zM203.50 176.00h3.50v3.52h-3.50zM214.00 176.00h3.50v3.52h-3.50zM368.00 176.00h3.50v3.52h-3.50zM161.50 179.50h3.50v3.52h-3.50zM214.00 179.50h3.50v3.52h-3.50zM235.00 183.00h3.50v3.52h-3.50zM291.00 183.00h3.50v3.52h-3.50zM165.00 186.50h3.50v3.52h-3.50zM175.50 186.50h3.50v3.52h-3.50zM182.50 186.50h3.50v3.52h-3.50zM231.50 186.50h7.00v3.52h-7.00zM340.00 186.50h3.50v3.52h-3.50zM179.00 190.00h3.50v3.52h-3.50zM231.50 190.00h3.50v3.52h-3.50zM273.50 190.00h3.50v3.52h-3.50zM298.00 190.00h3.50v3.52h-3.50zM312.00 190.00h3.50v3.52h-3.50zM326.00 190.00h3.50v3.52h-3.50zM340.00 190.00h3.50v3.52h-3.50zM175.50 193.50h3.50v3.52h-3.50zM228.00 193.50h3.50v3.52h-3.50zM182.50 197.00h3.50v3.52h-3.50zM207.00 197.00h3.50v3.52h-3.50zM242.00 197.00h3.50v3.52h-3.50zM291.00 197.00h3.50v3.52h-3.50zM322.50 197.00h3.50v3.52h-3.50zM357.50 197.00h3.50v3.52h-3.50zM210.50 200.50h3.50v3.52h-3.50zM305.00 200.50h3.50v3.52h-3.50zM326.00 200.50h3.50v3.52h-3.50zM361.00 200.50h3.50v3.52h-3.50zM179.00 204.00h3.50v3.52h-3.50zM256.00 204.00h3.50v3.52h-3.50zM280.50 204.00h3.50v3.52h-3.50zM340.00 204.00h3.50v3.52h-3.50zM126.50 207.50h3.50v3.52h-3.50zM161.50 207.50h3.50v3.52h-3.50zM168.50 207.50h3.50v3.52h-3.50zM224.50 207.50h3.50v3.52h-3.50zM273.50 207.50h3.50v3.52h-3.50zM280.50 207.50h3.50v3.52h-3.50zM361.00 207.50h3.50v3.52h-3.50zM179.00 211.00h3.50v3.52h-3.50zM217.50 211.00h3.50v3.52h-3.50zM259.50 211.00h3.50v3.52h-3.50zM354.00 211.00h3.50v3.52h-3.50zM196.50 214.50h3.50v3.52h-3.50zM270.00 214.50h3.50v3.52h-3.50zM280.50 214.50h3.50v3.52h-3.50zM273.50 218.00h3.50v3.52h-3.50zM350.50 218.00h3.50v3.52h-3.50zM91.50 221.50h3.50v3.52h-3.50zM221.00 221.50h3.50v3.52h-3.50zM368.00 221.50h3.50v3.52h-3.50zM168.50 225.00h3.50v3.52h-3.50zM189.50 225.00h3.50v3.52h-3.50zM354.00 225.00h3.50v3.52h-3.50zM95.00 228.50h7.00v3.52h-7.00zM189.50 228.50h3.50v3.52h-3.50zM305.00 228.50h3.50v3.52h-3.50zM368.00 228.50h3.50v3.52h-3.50zM175.50 232.00h3.50v3.52h-3.50zM182.50 232.00h3.50v3.52h-3.50zM284.00 232.00h3.50v3.52h-3.50zM326.00 232.00h7.00v3.52h-7.00zM112.50 235.50h3.50v3.52h-3.50zM270.00 235.50h3.50v3.52h-3.50zM147.50 239.00h3.50v3.52h-3.50zM210.50 239.00h3.50v3.52h-3.50zM308.50 239.00h3.50v3.52h-3.50zM326.00 239.00h3.50v3.52h-3.50zM98.50 242.50h3.50v3.52h-3.50zM207.00 242.50h3.50v3.52h-3.50zM214.00 242.50h3.50v3.52h-3.50zM343.50 242.50h3.50v3.52h-3.50zM210.50 246.00h3.50v3.52h-3.50zM343.50 246.00h3.50v3.52h-3.50zM368.00 246.00h3.50v3.52h-3.50zM168.50 249.50h3.50v3.52h-3.50zM207.00 249.50h3.50v3.52h-3.50zM217.50 249.50h3.50v3.52h-3.50zM231.50 249.50h3.50v3.52h-3.50zM249.00 249.50h3.50v3.52h-3.50zM203.50 253.00h7.00v3.52h-7.00zM228.00 253.00h3.50v3.52h-3.50zM259.50 253.00h3.50v3.52h-3.50zM91.50 256.50h3.50v3.52h-3.50zM98.50 256.50h3.50v3.52h-3.50zM228.00 256.50h3.50v3.52h-3.50zM266.50 256.50h3.50v3.52h-3.50zM119.50 263.50h3.50v3.52h-3.50zM259.50 263.50h3.50v3.52h-3.50zM364.50 263.50h3.50v3.52h-3.50zM98.50 267.00h3.50v3.52h-3.50zM130.00 267.00h3.50v3.52h-3.50zM154.50 267.00h3.50v3.52h-3.50zM221.00 267.00h3.50v3.52h-3.50zM273.50 267.00h3.50v3.52h-3.50zM133.50 270.50h3.50v3.52h-3.50zM189.50 270.50h3.50v3.52h-3.50zM123.00 274.00h3.50v3.52h-3.50zM130.00 274.00h3.50v3.52h-3.50zM221.00 274.00h3.50v3.52h-3.50zM228.00 274.00h3.50v3.52h-3.50zM133.50 277.50h3.50v3.52h-3.50zM144.00 277.50h3.50v3.52h-3.50zM158.00 277.50h3.50v3.52h-3.50zM214.00 277.50h3.50v3.52h-3.50zM298.00 277.50h3.50v3.52h-3.50zM340.00 277.50h3.50v3.52h-3.50zM336.50 281.00h3.50v3.52h-3.50zM91.50 284.50h3.50v3.52h-3.50zM102.00 284.50h3.50v3.52h-3.50zM245.50 284.50h3.50v3.52h-3.50zM340.00 284.50h3.50v3.52h-3.50zM186.00 291.50h3.50v3.52h-3.50zM151.00 295.00h3.50v3.52h-3.50zM217.50 295.00h3.50v3.52h-3.50zM256.00 295.00h3.50v3.52h-3.50zM277.00 295.00h7.00v3.52h-7.00zM354.00 295.00h3.50v3.52h-3.50zM98.50 298.50h3.50v3.52h-3.50zM158.00 302.00h3.50v3.52h-3.50zM193.00 302.00h3.50v3.52h-3.50zM221.00 302.00h3.50v3.52h-3.50zM343.50 302.00h3.50v3.52h-3.50zM354.00 302.00h3.50v3.52h-3.50zM214.00 305.50h3.50v3.52h-3.50zM242.00 305.50h3.50v3.52h-3.50zM256.00 305.50h3.50v3.52h-3.50zM98.50 309.00h3.50v3.52h-3.50zM119.50 309.00h3.50v3.52h-3.50zM144.00 309.00h3.50v3.52h-3.50zM200.00 309.00h7.00v3.52h-7.00zM273.50 309.00h3.50v3.52h-3.50z"/>
<path fill="#2d2d2d" d="M161.50 32.50h3.50v3.52h-3.50zM189.50 32.50h3.50v3.52h-3.50zM340.00 32.50h7.00v3.52h-7.00zM158.00 36.00h3.50v3.52h-3.50zM259.50 36.00h3.50v3.52h-3.50zM343.50 36.00h3.50v3.52h-3.50zM364.50 36.00h3.50v3.52h-3.50zM91.50 39.50h3.50v3.52h-3.50zM102.00 39.50h3.50v3.52h-3.50zM186.00 39.50h3.50v3.52h-3.50zM210.50 39.50h7.00v3.52h-7.00zM221.00 39.50h3.50v3.52h-3.50zM235.00 39.50h3.50v3.52h-3.50zM315.50 39.50h7.00v3.52h-7.00zM333.00 39.50h3.50v3.52h-3.50zM361.00 39.50h3.50v3.52h-3.50zM168.50 43.00h3.50v3.52h-3.50zM354.00 43.00h3.50v3.52h-3.50zM361.00 43.00h7.00v3.52h-7.00zM172.00 46.50h3.50v3.52h-3.50zM196.50 46.50h3.50v3.52h-3.50zM298.00 46.50h3.50v3.52h-3.50zM291.00 50.00h3.50v3.52h-3.50zM308.50 50.00h3.50v3.52h-3.50zM123.00 53.50h3.50v3.52h-3.50zM140.50 53.50h3.50v3.52h-3.50zM140.50 57.00h3.50v3.52h-3.50zM280.50 57.00h3.50v3.52h-3.50zM336.50 57.00h3.50v3.52h-3.50zM147.50 60.50h3.50v3.52h-3.50zM154.50 60.50h3.50v3.52h-3.50zM364.50 60.50h7.00v3.52h-7.00zM154.50 64.00h3.50v3.52h-3.50zM326.00 64.00h3.50v3.52h-3.50zM266.50 67.50h3.50v3.52h-3.50zM333.00 67.50h3.50v3.52h-3.50zM361.00 67.50h7.00v3.52h-7.00zM133.50 71.00h3.50v3.52h-3.50zM203.50 71.00h3.50v3.52h-3.50zM214.00 71.00h3.50v3.52h-3.50zM221.00 71.00h3.50v3.52h-3.50zM228.00 71.00h3.50v3.52h-3.50zM249.00 71.00h3.50v3.52h-3.50zM347.00 71.00h3.50v3.52h-3.50zM98.50 74.50h3.50v3.52h-3.50zM112.50 74.50h3.50v3.52h-3.50zM133.50 74.50h3.50v3.52h-3.50zM203.50 74.50h3.50v3.52h-3.50zM210.50 74.50h3.50v3.52h-3.50zM273.50 74.50h7.00v3.52h-7.00zM123.00 78.00h7.00v3.52h-7.00zM277.00 78.00h3.50v3.52h-3.50zM91.50 81.50h3.50v3.52h-3.50zM133.50 81.50h3.50v3.52h-3.50zM158.00 81.50h3.50v3.52h-3.50zM119.50 85.00h3.50v3.52h-3.50zM193.00 85.00h3.50v3.52h-3.50zM287.50 85.00h3.50v3.52h-3.50zM322.50 85.00h3.50v3.52h-3.50zM116.00 88.50h3.50v3.52h-3.50zM249.00 88.50h3.50v3.52h-3.50zM102.00 92.00h3.50v3.52h-3.50zM112.50 92.00h3.50v3.52h-3.50zM193.00 92.00h3.50v3.52h-3.50zM273.50 92.00h3.50v3.52h-3.50zM137.00 95.50h3.50v3.52h-3.50zM147.50 95.50h3.50v3.52h-3.50zM161.50 95.50h3.50v3.52h-3.50zM109.00 99.00h3.50v3.52h-3.50zM168.50 99.00h3.50v3.52h-3.50zM245.50 99.00h7.00v3.52h-7.00zM315.50 99.00h3.50v3.52h-3.50zM165.00 102.50h3.50v3.52h-3.50zM175.50 102.50h3.50v3.52h-3.50zM287.50 102.50h3.50v3.52h-3.50zM315.50 102.50h3.50v3.52h-3.50zM91.50 106.00h3.50v3.52h-3.50zM266.50 106.00h3.50v3.52h-3.50zM147.50 109.50h3.50v3.52h-3.50zM228.00 109.50h3.50v3.52h-3.50zM287.50 109.50h3.50v3.52h-3.50zM245.50 113.00h3.50v3.52h-3.50zM336.50 113.00h3.50v3.52h-3.50zM151.00 116.50h3.50v3.52h-3.50zM238.50 116.50h3.50v3.52h-3.50zM256.00 116.50h3.50v3.52h-3.50zM333.00 116.50h3.50v3.52h-3.50zM105.50 120.00h3.50v3.52h-3.50zM144.00 123.50h3.50v3.52h-3.50zM182.50 123.50h3.50v3.52h-3.50zM231.50 123.50h3.50v3.52h-3.50zM301.50 123.50h7.00v3.52h-7.00zM319.00 123.50h3.50v3.52h-3.50zM140.50 127.00h3.50v3.52h-3.50zM221.00 127.00h3.50v3.52h-3.50zM91.50 130.50h3.50v3.52h-3.50zM112.50 130.50h3.50v3.52h-3.50zM119.50 130.50h3.50v3.52h-3.50zM182.50 130.50h3.50v3.52h-3.50zM364.50 130.50h3.50v3.52h-3.50zM95.00 134.00h3.50v3.52h-3.50zM133.50 134.00h3.50v3.52h-3.50zM249.00 134.00h3.50v3.52h-3.50zM287.50 134.00h3.50v3.52h-3.50zM182.50 137.50h3.50v3.52h-3.50zM217.50 137.50h3.50v3.52h-3.50zM284.00 137.50h3.50v3.52h-3.50zM350.50 137.50h3.50v3.52h-3.50zM116.00 141.00h3.50v3.52h-3.50zM259.50 141.00h3.50v3.52h-3.50zM336.50 141.00h3.50v3.52h-3.50zM109.00 144.50h3.50v3.52h-3.50zM161.50 144.50h3.50v3.52h-3.50zM175.50 144.50h7.00v3.52h-7.00zM214.00 144.50h3.50v3.52h-3.50zM242.00 144.50h3.50v3.52h-3.50zM305.00 144.50h3.50v3.52h-3.50zM133.50 148.00h3.50v3.52h-3.50zM179.00 148.00h3.50v3.52h-3.50zM189.50 148.00h3.50v3.52h-3.50zM214.00 148.00h3.50v3.52h-3.50zM312.00 148.00h3.50v3.52h-3.50zM326.00 148.00h3.50v3.52h-3.50zM95.00 151.50h3.50v3.52h-3.50zM147.50 151.50h3.50v3.52h-3.50zM158.00 151.50h3.50v3.52h-3.50zM214.00 151.50h7.00v3.52h-7.00zM280.50 151.50h3.50v3.52h-3.50zM119.50 155.00h3.50v3.52h-3.50zM147.50 155.00h3.50v3.52h-3.50zM91.50 158.50h3.50v3.52h-3.50zM102.00 158.50h7.00v3.52h-7.00zM151.00 158.50h7.00v3.52h-7.00zM165.00 158.50h3.50v3.52h-3.50zM305.00 158.50h3.50v3.52h-3.50zM154.50 162.00h3.50v3.52h-3.50zM161.50 162.00h3.50v3.52h-3.50zM284.00 162.00h3.50v3.52h-3.50zM305.00 162.00h3.50v3.52h-3.50zM326.00 162.00h3.50v3.52h-3.50zM123.00 165.50h3.50v3.52h-3.50zM259.50 165.50h7.00v3.52h-7.00zM109.00 169.00h7.00v3.52h-7.00zM312.00 169.00h3.50v3.52h-3.50zM165.00 172.50h3.50v3.52h-3.50zM172.00 172.50h3.50v3.52h-3.50zM203.50 172.50h3.50v3.52h-3.50zM221.00 172.50h3.50v3.52h-3.50zM266.50 172.50h3.50v3.52h-3.50zM287.50 172.50h3.50v3.52h-3.50zM357.50 172.50h3.50v3.52h-3.50zM123.00 176.00h3.50v3.52h-3.50zM137.00 176.00h3.50v3.52h-3.50zM168.50 176.00h3.50v3.52h-3.50zM263.00 176.00h3.50v3.52h-3.50zM294.50 176.00h3.50v3.52h-3.50zM333.00 176.00h3.50v3.52h-3.50zM105.50 179.50h3.50v3.52h-3.50zM140.50 179.50h3.50v3.52h-3.50zM200.00 179.50h3.50v3.52h-3.50zM266.50 179.50h3.50v3.52h-3.50zM287.50 183.00h3.50v3.52h-3.50zM308.50 183.00h3.50v3.52h-3.50zM200.00 186.50h3.50v3.52h-3.50zM91.50 190.00h3.50v3.52h-3.50zM130.00 190.00h3.50v3.52h-3.50zM301.50 190.00h3.50v3.52h-3.50zM126.50 193.50h3.50v3.52h-3.50zM144.00 193.50h3.50v3.52h-3.50zM340.00 193.50h3.50v3.52h-3.50zM357.50 193.50h3.50v3.52h-3.50zM228.00 197.00h3.50v3.52h-3.50zM364.50 197.00h3.50v3.52h-3.50zM109.00 200.50h3.50v3.52h-3.50zM196.50 200.50h3.50v3.52h-3.50zM273.50 200.50h3.50v3.52h-3.50zM287.50 200.50h3.50v3.52h-3.50zM319.00 200.50h3.50v3.52h-3.50zM340.00 200.50h3.50v3.52h-3.50zM266.50 204.00h7.00v3.52h-7.00zM154.50 207.50h3.50v3.52h-3.50zM172.00 207.50h3.50v3.52h-3.50zM179.00 207.50h3.50v3.52h-3.50zM252.50 207.50h3.50v3.52h-3.50zM147.50 211.00h3.50v3.52h-3.50zM256.00 211.00h3.50v3.52h-3.50zM270.00 211.00h3.50v3.52h-3.50zM214.00 214.50h3.50v3.52h-3.50zM95.00 218.00h3.50v3.52h-3.50zM151.00 218.00h3.50v3.52h-3.50zM165.00 218.00h3.50v3.52h-3.50zM175.50 218.00h3.50v3.52h-3.50zM210.50 218.00h3.50v3.52h-3.50zM112.50 221.50h3.50v3.52h-3.50zM245.50 221.50h3.50v3.52h-3.50zM364.50 221.50h3.50v3.52h-3.50zM116.00 225.00h3.50v3.52h-3.50zM126.50 225.00h3.50v3.52h-3.50zM151.00 225.00h3.50v3.52h-3.50zM91.50 228.50h3.50v3.52h-3.50zM102.00 228.50h3.50v3.52h-3.50zM179.00 228.50h3.50v3.52h-3.50zM312.00 228.50h3.50v3.52h-3.50zM361.00 228.50h3.50v3.52h-3.50zM140.50 232.00h3.50v3.52h-3.50zM343.50 232.00h3.50v3.52h-3.50zM91.50 235.50h3.50v3.52h-3.50zM130.00 235.50h3.50v3.52h-3.50zM182.50 235.50h3.50v3.52h-3.50zM322.50 235.50h3.50v3.52h-3.50zM112.50 239.00h3.50v3.52h-3.50zM280.50 239.00h3.50v3.52h-3.50zM319.00 239.00h3.50v3.52h-3.50zM343.50 239.00h3.50v3.52h-3.50zM354.00 239.00h3.50v3.52h-3.50zM203.50 242.50h3.50v3.52h-3.50zM210.50 242.50h3.50v3.52h-3.50zM235.00 242.50h3.50v3.52h-3.50zM249.00 242.50h3.50v3.52h-3.50zM280.50 246.00h3.50v3.52h-3.50zM340.00 246.00h3.50v3.52h-3.50zM221.00 249.50h3.50v3.52h-3.50zM263.00 249.50h3.50v3.52h-3.50zM312.00 249.50h3.50v3.52h-3.50zM119.50 253.00h3.50v3.52h-3.50zM126.50 256.50h3.50v3.52h-3.50zM203.50 256.50h3.50v3.52h-3.50zM350.50 256.50h3.50v3.52h-3.50zM203.50 260.00h3.50v3.52h-3.50zM228.00 260.00h3.50v3.52h-3.50zM252.50 260.00h3.50v3.52h-3.50zM273.50 260.00h3.50v3.52h-3.50zM284.00 260.00h3.50v3.52h-3.50zM294.50 260.00h3.50v3.52h-3.50zM319.00 260.00h3.50v3.52h-3.50zM361.00 260.00h3.50v3.52h-3.50zM252.50 263.50h3.50v3.52h-3.50zM266.50 267.00h3.50v3.52h-3.50zM319.00 267.00h3.50v3.52h-3.50zM140.50 270.50h3.50v3.52h-3.50zM224.50 270.50h3.50v3.52h-3.50zM315.50 270.50h3.50v3.52h-3.50zM322.50 270.50h3.50v3.52h-3.50zM343.50 270.50h3.50v3.52h-3.50zM147.50 274.00h3.50v3.52h-3.50zM336.50 274.00h7.00v3.52h-7.00zM361.00 274.00h3.50v3.52h-3.50zM126.50 277.50h3.50v3.52h-3.50zM147.50 277.50h3.50v3.52h-3.50zM175.50 277.50h7.00v3.52h-7.00zM200.00 277.50h7.00v3.52h-7.00zM228.00 277.50h3.50v3.52h-3.50zM144.00 281.00h3.50v3.52h-3.50zM151.00 281.00h7.00v3.52h-7.00zM189.50 281.00h3.50v3.52h-3.50zM200.00 281.00h7.00v3.52h-7.00zM242.00 281.00h3.50v3.52h-3.50zM130.00 284.50h3.50v3.52h-3.50zM189.50 284.50h3.50v3.52h-3.50zM252.50 284.50h3.50v3.52h-3.50zM322.50 284.50h3.50v3.52h-3.50zM158.00 288.00h3.50v3.52h-3.50zM182.50 288.00h3.50v3.52h-3.50zM273.50 288.00h3.50v3.52h-3.50zM98.50 291.50h3.50v3.52h-3.50zM273.50 291.50h3.50v3.52h-3.50zM287.50 295.00h3.50v3.52h-3.50zM119.50 302.00h3.50v3.52h-3.50zM133.50 302.00h3.50v3.52h-3.50zM186.00 302.00h7.00v3.52h-7.00zM203.50 302.00h3.50v3.52h-3.50zM151.00 305.50h3.50v3.52h-3.50zM193.00 305.50h3.50v3.52h-3.50zM343.50 305.50h3.50v3.52h-3.50zM350.50 305.50h7.00v3.52h-7.00zM214.00 309.00h3.50v3.52h-3.50zM235.00 309.00h3.50v3.52h-3.50zM245.50 309.00h3.50v3.52h-3.50z"/>
<path fill="#303030" d="M151.00 32.50h3.50v3.52h-3.50zM252.50 32.50h3.50v3.52h-3.50zM280.50 32.50h3.50v3.52h-3.50zM102.00 36.00h3.50v3.52h-3.50zM119.50 36.00h3.50v3.52h-3.50zM137.00 36.00h3.50v3.52h-3.50zM151.00 36.00h3.50v3.52h-3.50zM186.00 36.00h3.50v3.52h-3.50zM235.00 36.00h3.50v3.52h-3.50zM252.50 36.00h3.50v3.52h-3.50zM347.00 36.00h3.50v3.52h-3.50zM277.00 39.50h3.50v3.52h-3.50zM364.50 39.50h3.50v3.52h-3.50zM105.50 43.00h3.50v3.52h-3.50zM158.00 43.00h3.50v3.52h-3.50zM186.00 43.00h3.50v3.52h-3.50zM224.50 43.00h3.50v3.52h-3.50zM368.00 43.00h3.50v3.52h-3.50zM175.50 46.50h3.50v3.52h-3.50zM210.50 46.50h3.50v3.52h-3.50zM231.50 46.50h3.50v3.52h-3.50zM263.00 46.50h3.50v3.52h-3.50zM333.00 46.50h3.50v3.52h-3.50zM354.00 46.50h3.50v3.52h-3.50zM123.00 50.00h3.50v3.52h-3.50zM270.00 50.00h3.50v3.52h-3.50zM137.00 53.50h3.50v3.52h-3.50zM147.50 53.50h3.50v3.52h-3.50zM287.50 53.50h3.50v3.52h-3.50zM319.00 53.50h3.50v3.52h-3.50zM284.00 57.00h3.50v3.52h-3.50zM340.00 57.00h3.50v3.52h-3.50zM119.50 60.50h3.50v3.52h-3.50zM189.50 64.00h3.50v3.52h-3.50zM252.50 64.00h3.50v3.52h-3.50zM263.00 64.00h3.50v3.52h-3.50zM273.50 64.00h3.50v3.52h-3.50zM301.50 64.00h3.50v3.52h-3.50zM168.50 67.50h7.00v3.52h-7.00zM217.50 67.50h3.50v3.52h-3.50zM294.50 67.50h3.50v3.52h-3.50zM207.00 71.00h3.50v3.52h-3.50zM263.00 71.00h3.50v3.52h-3.50zM287.50 71.00h3.50v3.52h-3.50zM207.00 74.50h3.50v3.52h-3.50zM214.00 74.50h3.50v3.52h-3.50zM235.00 74.50h3.50v3.52h-3.50zM280.50 74.50h3.50v3.52h-3.50zM133.50 78.00h3.50v3.52h-3.50zM231.50 78.00h3.50v3.52h-3.50zM284.00 78.00h3.50v3.52h-3.50zM364.50 78.00h7.00v3.52h-7.00zM95.00 81.50h3.50v3.52h-3.50zM126.50 81.50h3.50v3.52h-3.50zM179.00 81.50h3.50v3.52h-3.50zM357.50 81.50h3.50v3.52h-3.50zM95.00 85.00h3.50v3.52h-3.50zM144.00 85.00h3.50v3.52h-3.50zM179.00 85.00h3.50v3.52h-3.50zM196.50 85.00h3.50v3.52h-3.50zM280.50 85.00h3.50v3.52h-3.50zM308.50 85.00h3.50v3.52h-3.50zM319.00 85.00h3.50v3.52h-3.50zM95.00 88.50h7.00v3.52h-7.00zM172.00 88.50h3.50v3.52h-3.50zM294.50 88.50h3.50v3.52h-3.50zM214.00 92.00h7.00v3.52h-7.00zM322.50 92.00h3.50v3.52h-3.50zM336.50 92.00h3.50v3.52h-3.50zM350.50 92.00h3.50v3.52h-3.50zM151.00 95.50h3.50v3.52h-3.50zM179.00 95.50h3.50v3.52h-3.50zM186.00 95.50h3.50v3.52h-3.50zM235.00 95.50h3.50v3.52h-3.50zM315.50 95.50h3.50v3.52h-3.50zM322.50 95.50h3.50v3.52h-3.50zM357.50 95.50h3.50v3.52h-3.50zM214.00 102.50h3.50v3.52h-3.50zM336.50 102.50h3.50v3.52h-3.50zM343.50 102.50h3.50v3.52h-3.50zM119.50 106.00h3.50v3.52h-3.50zM144.00 106.00h3.50v3.52h-3.50zM189.50 106.00h7.00v3.52h-7.00zM231.50 106.00h3.50v3.52h-3.50zM291.00 106.00h3.50v3.52h-3.50zM231.50 109.50h3.50v3.52h-3.50zM291.00 109.50h3.50v3.52h-3.50zM326.00 109.50h3.50v3.52h-3.50zM312.00 113.00h3.50v3.52h-3.50zM357.50 113.00h3.50v3.52h-3.50zM179.00 116.50h3.50v3.52h-3.50zM200.00 116.50h7.00v3.52h-7.00zM343.50 116.50h3.50v3.52h-3.50zM357.50 116.50h3.50v3.52h-3.50zM98.50 120.00h3.50v3.52h-3.50zM361.00 120.00h3.50v3.52h-3.50zM203.50 123.50h3.50v3.52h-3.50zM308.50 123.50h3.50v3.52h-3.50zM315.50 123.50h3.50v3.52h-3.50zM357.50 123.50h3.50v3.52h-3.50zM123.00 134.00h3.50v3.52h-3.50zM154.50 134.00h3.50v3.52h-3.50zM161.50 134.00h7.00v3.52h-7.00zM175.50 134.00h3.50v3.52h-3.50zM186.00 134.00h3.50v3.52h-3.50zM263.00 134.00h3.50v3.52h-3.50zM270.00 134.00h3.50v3.52h-3.50zM277.00 134.00h3.50v3.52h-3.50zM340.00 134.00h10.50v3.52h-10.50zM144.00 137.50h3.50v3.52h-3.50zM158.00 137.50h3.50v3.52h-3.50zM280.50 137.50h3.50v3.52h-3.50zM133.50 141.00h3.50v3.52h-3.50zM158.00 141.00h3.50v3.52h-3.50zM221.00 141.00h3.50v3.52h-3.50zM294.50 141.00h3.50v3.52h-3.50zM308.50 141.00h3.50v3.52h-3.50zM319.00 141.00h3.50v3.52h-3.50zM340.00 141.00h3.50v3.52h-3.50zM91.50 144.50h3.50v3.52h-3.50zM133.50 144.50h3.50v3.52h-3.50zM210.50 144.50h3.50v3.52h-3.50zM284.00 144.50h3.50v3.52h-3.50zM130.00 148.00h3.50v3.52h-3.50zM137.00 148.00h3.50v3.52h-3.50zM172.00 148.00h3.50v3.52h-3.50zM105.50 151.50h3.50v3.52h-3.50zM119.50 151.50h3.50v3.52h-3.50zM126.50 151.50h3.50v3.52h-3.50zM308.50 151.50h3.50v3.52h-3.50zM354.00 151.50h3.50v3.52h-3.50zM207.00 155.00h3.50v3.52h-3.50zM305.00 155.00h3.50v3.52h-3.50zM322.50 155.00h3.50v3.52h-3.50zM116.00 158.50h3.50v3.52h-3.50zM95.00 162.00h3.50v3.52h-3.50zM165.00 162.00h7.00v3.52h-7.00zM249.00 162.00h3.50v3.52h-3.50zM287.50 162.00h3.50v3.52h-3.50zM151.00 165.50h7.00v3.52h-7.00zM165.00 165.50h3.50v3.52h-3.50zM242.00 165.50h3.50v3.52h-3.50zM266.50 165.50h7.00v3.52h-7.00zM287.50 165.50h3.50v3.52h-3.50zM140.50 169.00h3.50v3.52h-3.50zM221.00 169.00h3.50v3.52h-3.50zM284.00 169.00h3.50v3.52h-3.50zM336.50 169.00h3.50v3.52h-3.50zM95.00 172.50h3.50v3.52h-3.50zM144.00 172.50h3.50v3.52h-3.50zM182.50 172.50h3.50v3.52h-3.50zM214.00 172.50h3.50v3.52h-3.50zM263.00 172.50h3.50v3.52h-3.50zM329.50 172.50h10.50v3.52h-10.50zM347.00 172.50h3.50v3.52h-3.50zM133.50 176.00h3.50v3.52h-3.50zM221.00 176.00h3.50v3.52h-3.50zM305.00 176.00h3.50v3.52h-3.50zM364.50 176.00h3.50v3.52h-3.50zM112.50 179.50h3.50v3.52h-3.50zM133.50 179.50h3.50v3.52h-3.50zM186.00 179.50h3.50v3.52h-3.50zM231.50 179.50h3.50v3.52h-3.50zM298.00 179.50h3.50v3.52h-3.50zM312.00 179.50h3.50v3.52h-3.50zM154.50 183.00h3.50v3.52h-3.50zM301.50 183.00h3.50v3.52h-3.50zM284.00 186.50h3.50v3.52h-3.50zM305.00 186.50h3.50v3.52h-3.50zM315.50 186.50h3.50v3.52h-3.50zM168.50 190.00h3.50v3.52h-3.50zM175.50 190.00h3.50v3.52h-3.50zM200.00 190.00h3.50v3.52h-3.50zM287.50 190.00h3.50v3.52h-3.50zM319.00 190.00h3.50v3.52h-3.50zM168.50 193.50h3.50v3.52h-3.50zM179.00 193.50h3.50v3.52h-3.50zM214.00 193.50h3.50v3.52h-3.50zM322.50 193.50h7.00v3.52h-7.00zM315.50 197.00h3.50v3.52h-3.50zM364.50 200.50h3.50v3.52h-3.50zM196.50 204.00h3.50v3.52h-3.50zM252.50 204.00h3.50v3.52h-3.50zM263.00 204.00h3.50v3.52h-3.50zM294.50 204.00h3.50v3.52h-3.50zM364.50 204.00h3.50v3.52h-3.50zM228.00 207.50h3.50v3.52h-3.50zM102.00 211.00h3.50v3.52h-3.50zM137.00 211.00h3.50v3.52h-3.50zM158.00 211.00h3.50v3.52h-3.50zM165.00 211.00h3.50v3.52h-3.50zM175.50 211.00h3.50v3.52h-3.50zM214.00 211.00h3.50v3.52h-3.50zM294.50 211.00h3.50v3.52h-3.50zM175.50 214.50h3.50v3.52h-3.50zM242.00 214.50h3.50v3.52h-3.50zM277.00 214.50h3.50v3.52h-3.50zM284.00 214.50h3.50v3.52h-3.50zM105.50 218.00h3.50v3.52h-3.50zM137.00 218.00h3.50v3.52h-3.50zM172.00 218.00h3.50v3.52h-3.50zM196.50 218.00h3.50v3.52h-3.50zM207.00 218.00h3.50v3.52h-3.50zM252.50 218.00h3.50v3.52h-3.50zM105.50 221.50h3.50v3.52h-3.50zM130.00 221.50h3.50v3.52h-3.50zM210.50 221.50h3.50v3.52h-3.50zM224.50 221.50h3.50v3.52h-3.50zM270.00 221.50h3.50v3.52h-3.50zM165.00 225.00h3.50v3.52h-3.50zM280.50 225.00h3.50v3.52h-3.50zM336.50 225.00h3.50v3.52h-3.50zM364.50 225.00h7.00v3.52h-7.00zM130.00 228.50h3.50v3.52h-3.50zM249.00 228.50h7.00v3.52h-7.00zM259.50 228.50h3.50v3.52h-3.50zM291.00 228.50h3.50v3.52h-3.50zM91.50 232.00h3.50v3.52h-3.50zM165.00 232.00h3.50v3.52h-3.50zM172.00 232.00h3.50v3.52h-3.50zM259.50 232.00h3.50v3.52h-3.50zM270.00 232.00h3.50v3.52h-3.50zM298.00 232.00h3.50v3.52h-3.50zM364.50 232.00h3.50v3.52h-3.50zM95.00 235.50h3.50v3.52h-3.50zM154.50 235.50h3.50v3.52h-3.50zM172.00 235.50h3.50v3.52h-3.50zM224.50 235.50h3.50v3.52h-3.50zM231.50 235.50h3.50v3.52h-3.50zM329.50 235.50h3.50v3.52h-3.50zM354.00 235.50h3.50v3.52h-3.50zM91.50 239.00h3.50v3.52h-3.50zM158.00 239.00h3.50v3.52h-3.50zM196.50 239.00h3.50v3.52h-3.50zM214.00 239.00h3.50v3.52h-3.50zM252.50 239.00h3.50v3.52h-3.50zM270.00 239.00h3.50v3.52h-3.50zM322.50 239.00h3.50v3.52h-3.50zM364.50 239.00h3.50v3.52h-3.50zM119.50 242.50h3.50v3.52h-3.50zM186.00 242.50h3.50v3.52h-3.50zM284.00 242.50h3.50v3.52h-3.50zM315.50 242.50h3.50v3.52h-3.50zM144.00 246.00h3.50v3.52h-3.50zM200.00 246.00h7.00v3.52h-7.00zM305.00 246.00h3.50v3.52h-3.50zM333.00 246.00h3.50v3.52h-3.50zM130.00 249.50h3.50v3.52h-3.50zM147.50 249.50h3.50v3.52h-3.50zM175.50 249.50h3.50v3.52h-3.50zM193.00 249.50h3.50v3.52h-3.50zM203.50 249.50h3.50v3.52h-3.50zM284.00 249.50h3.50v3.52h-3.50zM98.50 253.00h3.50v3.52h-3.50zM235.00 253.00h3.50v3.52h-3.50zM116.00 256.50h3.50v3.52h-3.50zM133.50 256.50h3.50v3.52h-3.50zM161.50 256.50h3.50v3.52h-3.50zM343.50 256.50h3.50v3.52h-3.50zM357.50 256.50h3.50v3.52h-3.50zM98.50 260.00h3.50v3.52h-3.50zM154.50 263.50h3.50v3.52h-3.50zM256.00 263.50h3.50v3.52h-3.50zM305.00 263.50h3.50v3.52h-3.50zM329.50 263.50h3.50v3.52h-3.50zM336.50 263.50h3.50v3.52h-3.50zM165.00 267.00h3.50v3.52h-3.50zM277.00 267.00h3.50v3.52h-3.50zM329.50 267.00h3.50v3.52h-3.50zM203.50 270.50h3.50v3.52h-3.50zM228.00 270.50h3.50v3.52h-3.50zM245.50 270.50h3.50v3.52h-3.50zM263.00 270.50h3.50v3.52h-3.50zM336.50 270.50h3.50v3.52h-3.50zM189.50 274.00h3.50v3.52h-3.50zM196.50 274.00h3.50v3.52h-3.50zM207.00 274.00h7.00v3.52h-7.00zM231.50 274.00h3.50v3.52h-3.50zM249.00 274.00h3.50v3.52h-3.50zM343.50 277.50h3.50v3.52h-3.50zM112.50 281.00h3.50v3.52h-3.50zM126.50 281.00h3.50v3.52h-3.50zM158.00 281.00h3.50v3.52h-3.50zM207.00 281.00h3.50v3.52h-3.50zM238.50 281.00h3.50v3.52h-3.50zM259.50 281.00h3.50v3.52h-3.50zM105.50 284.50h3.50v3.52h-3.50zM133.50 284.50h3.50v3.52h-3.50zM200.00 284.50h3.50v3.52h-3.50zM273.50 284.50h3.50v3.52h-3.50zM315.50 284.50h3.50v3.52h-3.50zM130.00 288.00h3.50v3.52h-3.50zM200.00 288.00h3.50v3.52h-3.50zM224.50 288.00h3.50v3.52h-3.50zM301.50 288.00h3.50v3.52h-3.50zM137.00 291.50h7.00v3.52h-7.00zM165.00 291.50h3.50v3.52h-3.50zM242.00 291.50h3.50v3.52h-3.50zM315.50 291.50h3.50v3.52h-3.50zM350.50 291.50h3.50v3.52h-3.50zM361.00 291.50h3.50v3.52h-3.50zM116.00 295.00h3.50v3.52h-3.50zM200.00 295.00h3.50v3.52h-3.50zM305.00 295.00h3.50v3.52h-3.50zM357.50 295.00h3.50v3.52h-3.50zM95.00 298.50h3.50v3.52h-3.50zM151.00 298.50h3.50v3.52h-3.50zM161.50 298.50h3.50v3.52h-3.50zM224.50 298.50h3.50v3.52h-3.50zM259.50 298.50h3.50v3.52h-3.50zM315.50 298.50h7.00v3.52h-7.00zM333.00 298.50h3.50v3.52h-3.50zM357.50 298.50h3.50v3.52h-3.50zM112.50 302.00h3.50v3.52h-3.50zM151.00 302.00h3.50v3.52h-3.50zM252.50 302.00h7.00v3.52h-7.00zM319.00 302.00h3.50v3.52h-3.50zM326.00 302.00h3.50v3.52h-3.50zM336.50 302.00h3.50v3.52h-3.50zM140.50 305.50h3.50v3.52h-3.50zM305.00 305.50h3.50v3.52h-3.50zM284.00 309.00h3.50v3.52h-3.50zM333.00 309.00h3.50v3.52h-3.50zM343.50 309.00h3.50v3.52h-3.50z"/>
<path fill="#333333" d="M140.50 32.50h3.50v3.52h-3.50zM154.50 32.50h3.50v3.52h-3.50zM294.50 32.50h3.50v3.52h-3.50zM329.50 32.50h3.50v3.52h-3.50zM154.50 36.00h3.50v3.52h-3.50zM280.50 36.00h3.50v3.52h-3.50zM301.50 36.00h3.50v3.52h-3.50zM105.50 39.50h3.50v3.52h-3.50zM284.00 39.50h3.50v3.52h-3.50zM343.50 39.50h3.50v3.52h-3.50zM140.50 43.00h3.50v3.52h-3.50zM301.50 43.00h3.50v3.52h-3.50zM315.50 43.00h3.50v3.52h-3.50zM322.50 43.00h3.50v3.52h-3.50zM340.00 43.00h3.50v3.52h-3.50zM105.50 46.50h3.50v3.52h-3.50zM151.00 46.50h3.50v3.52h-3.50zM161.50 46.50h3.50v3.52h-3.50zM294.50 46.50h3.50v3.52h-3.50zM196.50 50.00h7.00v3.52h-7.00zM207.00 50.00h3.50v3.52h-3.50zM252.50 50.00h3.50v3.52h-3.50zM165.00 53.50h3.50v3.52h-3.50zM291.00 53.50h3.50v3.52h-3.50zM315.50 53.50h3.50v3.52h-3.50zM263.00 57.00h3.50v3.52h-3.50zM326.00 57.00h3.50v3.52h-3.50zM368.00 57.00h3.50v3.52h-3.50zM123.00 60.50h3.50v3.52h-3.50zM151.00 60.50h3.50v3.52h-3.50zM193.00 60.50h3.50v3.52h-3.50zM210.50 60.50h3.50v3.52h-3.50zM305.00 60.50h3.50v3.52h-3.50zM326.00 60.50h3.50v3.52h-3.50zM210.50 64.00h3.50v3.52h-3.50zM207.00 67.50h3.50v3.52h-3.50zM221.00 67.50h7.00v3.52h-7.00zM291.00 67.50h3.50v3.52h-3.50zM322.50 67.50h3.50v3.52h-3.50zM347.00 67.50h3.50v3.52h-3.50zM357.50 67.50h3.50v3.52h-3.50zM105.50 71.00h3.50v3.52h-3.50zM165.00 71.00h3.50v3.52h-3.50zM270.00 71.00h3.50v3.52h-3.50zM284.00 71.00h3.50v3.52h-3.50zM217.50 74.50h3.50v3.52h-3.50zM308.50 74.50h3.50v3.52h-3.50zM102.00 78.00h3.50v3.52h-3.50zM112.50 78.00h3.50v3.52h-3.50zM119.50 78.00h3.50v3.52h-3.50zM207.00 78.00h3.50v3.52h-3.50zM354.00 78.00h3.50v3.52h-3.50zM109.00 81.50h3.50v3.52h-3.50zM119.50 81.50h3.50v3.52h-3.50zM221.00 81.50h3.50v3.52h-3.50zM284.00 81.50h3.50v3.52h-3.50zM182.50 85.00h3.50v3.52h-3.50zM284.00 85.00h3.50v3.52h-3.50zM291.00 85.00h3.50v3.52h-3.50zM361.00 85.00h3.50v3.52h-3.50zM112.50 88.50h3.50v3.52h-3.50zM207.00 88.50h3.50v3.52h-3.50zM221.00 88.50h7.00v3.52h-7.00zM270.00 88.50h3.50v3.52h-3.50zM319.00 88.50h7.00v3.52h-7.00zM354.00 88.50h3.50v3.52h-3.50zM151.00 92.00h3.50v3.52h-3.50zM221.00 92.00h3.50v3.52h-3.50zM298.00 92.00h3.50v3.52h-3.50zM284.00 95.50h3.50v3.52h-3.50zM319.00 95.50h3.50v3.52h-3.50zM354.00 95.50h3.50v3.52h-3.50zM137.00 99.00h3.50v3.52h-3.50zM259.50 99.00h3.50v3.52h-3.50zM319.00 99.00h3.50v3.52h-3.50zM336.50 99.00h3.50v3.52h-3.50zM357.50 99.00h3.50v3.52h-3.50zM161.50 102.50h3.50v3.52h-3.50zM193.00 102.50h3.50v3.52h-3.50zM291.00 102.50h3.50v3.52h-3.50zM102.00 106.00h3.50v3.52h-3.50zM172.00 106.00h3.50v3.52h-3.50zM228.00 106.00h3.50v3.52h-3.50zM294.50 106.00h3.50v3.52h-3.50zM326.00 106.00h3.50v3.52h-3.50zM263.00 109.50h3.50v3.52h-3.50zM364.50 109.50h3.50v3.52h-3.50zM147.50 113.00h3.50v3.52h-3.50zM238.50 113.00h7.00v3.52h-7.00zM340.00 113.00h3.50v3.52h-3.50zM354.00 113.00h3.50v3.52h-3.50zM105.50 116.50h3.50v3.52h-3.50zM116.00 116.50h3.50v3.52h-3.50zM263.00 116.50h3.50v3.52h-3.50zM354.00 116.50h3.50v3.52h-3.50zM95.00 120.00h3.50v3.52h-3.50zM217.50 120.00h3.50v3.52h-3.50zM242.00 120.00h3.50v3.52h-3.50zM266.50 120.00h3.50v3.52h-3.50zM319.00 120.00h3.50v3.52h-3.50zM354.00 120.00h3.50v3.52h-3.50zM116.00 123.50h3.50v3.52h-3.50zM168.50 123.50h3.50v3.52h-3.50zM277.00 123.50h3.50v3.52h-3.50zM284.00 123.50h3.50v3.52h-3.50zM322.50 123.50h7.00v3.52h-7.00zM175.50 127.00h3.50v3.52h-3.50zM207.00 127.00h3.50v3.52h-3.50zM245.50 127.00h3.50v3.52h-3.50zM315.50 127.00h3.50v3.52h-3.50zM322.50 127.00h3.50v3.52h-3.50zM347.00 127.00h3.50v3.52h-3.50zM140.50 130.50h7.00v3.52h-7.00zM175.50 130.50h3.50v3.52h-3.50zM221.00 130.50h3.50v3.52h-3.50zM231.50 130.50h3.50v3.52h-3.50zM238.50 130.50h3.50v3.52h-3.50zM287.50 130.50h3.50v3.52h-3.50zM357.50 130.50h3.50v3.52h-3.50zM280.50 134.00h3.50v3.52h-3.50zM95.00 137.50h7.00v3.52h-7.00zM147.50 137.50h3.50v3.52h-3.50zM186.00 137.50h3.50v3.52h-3.50zM231.50 137.50h3.50v3.52h-3.50zM238.50 137.50h3.50v3.52h-3.50zM343.50 137.50h3.50v3.52h-3.50zM109.00 141.00h3.50v3.52h-3.50zM144.00 141.00h3.50v3.52h-3.50zM315.50 141.00h3.50v3.52h-3.50zM343.50 141.00h3.50v3.52h-3.50zM102.00 144.50h3.50v3.52h-3.50zM116.00 144.50h3.50v3.52h-3.50zM172.00 144.50h3.50v3.52h-3.50zM221.00 144.50h3.50v3.52h-3.50zM249.00 144.50h3.50v3.52h-3.50zM319.00 144.50h3.50v3.52h-3.50zM112.50 148.00h7.00v3.52h-7.00zM186.00 148.00h3.50v3.52h-3.50zM193.00 148.00h3.50v3.52h-3.50zM203.50 148.00h7.00v3.52h-7.00zM238.50 148.00h3.50v3.52h-3.50zM315.50 148.00h3.50v3.52h-3.50zM322.50 148.00h3.50v3.52h-3.50zM151.00 151.50h3.50v3.52h-3.50zM189.50 151.50h3.50v3.52h-3.50zM196.50 151.50h3.50v3.52h-3.50zM284.00 151.50h3.50v3.52h-3.50zM350.50 151.50h3.50v3.52h-3.50zM203.50 155.00h3.50v3.52h-3.50zM144.00 158.50h3.50v3.52h-3.50zM301.50 158.50h3.50v3.52h-3.50zM109.00 162.00h3.50v3.52h-3.50zM119.50 162.00h3.50v3.52h-3.50zM126.50 162.00h3.50v3.52h-3.50zM151.00 162.00h3.50v3.52h-3.50zM158.00 162.00h3.50v3.52h-3.50zM179.00 162.00h3.50v3.52h-3.50zM336.50 162.00h3.50v3.52h-3.50zM354.00 162.00h3.50v3.52h-3.50zM252.50 165.50h3.50v3.52h-3.50zM277.00 165.50h3.50v3.52h-3.50zM368.00 165.50h3.50v3.52h-3.50zM147.50 169.00h3.50v3.52h-3.50zM168.50 169.00h3.50v3.52h-3.50zM203.50 169.00h3.50v3.52h-3.50zM214.00 169.00h3.50v3.52h-3.50zM242.00 169.00h3.50v3.52h-3.50zM326.00 169.00h3.50v3.52h-3.50zM347.00 169.00h3.50v3.52h-3.50zM126.50 172.50h3.50v3.52h-3.50zM137.00 172.50h3.50v3.52h-3.50zM168.50 172.50h3.50v3.52h-3.50zM270.00 172.50h7.00v3.52h-7.00zM140.50 176.00h3.50v3.52h-3.50zM298.00 176.00h3.50v3.52h-3.50zM322.50 176.00h3.50v3.52h-3.50zM329.50 176.00h3.50v3.52h-3.50zM91.50 179.50h3.50v3.52h-3.50zM137.00 179.50h3.50v3.52h-3.50zM210.50 179.50h3.50v3.52h-3.50zM364.50 179.50h3.50v3.52h-3.50zM175.50 183.00h3.50v3.52h-3.50zM186.00 183.00h3.50v3.52h-3.50zM193.00 183.00h3.50v3.52h-3.50zM224.50 183.00h3.50v3.52h-3.50zM238.50 183.00h3.50v3.52h-3.50zM312.00 183.00h3.50v3.52h-3.50zM361.00 183.00h3.50v3.52h-3.50zM368.00 183.00h3.50v3.52h-3.50zM112.50 186.50h7.00v3.52h-7.00zM186.00 186.50h3.50v3.52h-3.50zM214.00 186.50h3.50v3.52h-3.50zM249.00 186.50h3.50v3.52h-3.50zM301.50 186.50h3.50v3.52h-3.50zM319.00 186.50h3.50v3.52h-3.50zM116.00 190.00h3.50v3.52h-3.50zM133.50 190.00h3.50v3.52h-3.50zM186.00 190.00h3.50v3.52h-3.50zM322.50 190.00h3.50v3.52h-3.50zM347.00 190.00h7.00v3.52h-7.00zM91.50 193.50h3.50v3.52h-3.50zM102.00 193.50h3.50v3.52h-3.50zM130.00 193.50h3.50v3.52h-3.50zM182.50 193.50h3.50v3.52h-3.50zM210.50 193.50h3.50v3.52h-3.50zM291.00 193.50h3.50v3.52h-3.50zM298.00 193.50h3.50v3.52h-3.50zM312.00 193.50h3.50v3.52h-3.50zM119.50 197.00h3.50v3.52h-3.50zM305.00 197.00h3.50v3.52h-3.50zM336.50 197.00h7.00v3.52h-7.00zM347.00 197.00h3.50v3.52h-3.50zM102.00 200.50h3.50v3.52h-3.50zM263.00 200.50h3.50v3.52h-3.50zM354.00 200.50h3.50v3.52h-3.50zM98.50 204.00h7.00v3.52h-7.00zM137.00 204.00h3.50v3.52h-3.50zM238.50 204.00h3.50v3.52h-3.50zM333.00 204.00h3.50v3.52h-3.50zM105.50 207.50h3.50v3.52h-3.50zM151.00 207.50h3.50v3.52h-3.50zM196.50 207.50h3.50v3.52h-3.50zM277.00 207.50h3.50v3.52h-3.50zM284.00 207.50h3.50v3.52h-3.50zM105.50 211.00h7.00v3.52h-7.00zM119.50 211.00h3.50v3.52h-3.50zM140.50 211.00h3.50v3.52h-3.50zM154.50 211.00h3.50v3.52h-3.50zM210.50 211.00h3.50v3.52h-3.50zM273.50 211.00h3.50v3.52h-3.50zM315.50 211.00h3.50v3.52h-3.50zM154.50 214.50h3.50v3.52h-3.50zM217.50 214.50h3.50v3.52h-3.50zM266.50 214.50h3.50v3.52h-3.50zM273.50 214.50h3.50v3.52h-3.50zM109.00 218.00h3.50v3.52h-3.50zM116.00 218.00h3.50v3.52h-3.50zM203.50 218.00h3.50v3.52h-3.50zM245.50 218.00h7.00v3.52h-7.00zM266.50 218.00h3.50v3.52h-3.50zM340.00 218.00h3.50v3.52h-3.50zM361.00 218.00h7.00v3.52h-7.00zM154.50 221.50h3.50v3.52h-3.50zM249.00 221.50h3.50v3.52h-3.50zM193.00 225.00h3.50v3.52h-3.50zM242.00 225.00h3.50v3.52h-3.50zM270.00 225.00h3.50v3.52h-3.50zM277.00 225.00h3.50v3.52h-3.50zM361.00 225.00h3.50v3.52h-3.50zM182.50 228.50h3.50v3.52h-3.50zM287.50 228.50h3.50v3.52h-3.50zM298.00 228.50h3.50v3.52h-3.50zM242.00 232.00h3.50v3.52h-3.50zM287.50 232.00h3.50v3.52h-3.50zM305.00 232.00h7.00v3.52h-7.00zM210.50 235.50h3.50v3.52h-3.50zM228.00 235.50h3.50v3.52h-3.50zM259.50 235.50h3.50v3.52h-3.50zM308.50 235.50h3.50v3.52h-3.50zM347.00 235.50h7.00v3.52h-7.00zM144.00 239.00h3.50v3.52h-3.50zM242.00 239.00h3.50v3.52h-3.50zM315.50 239.00h3.50v3.52h-3.50zM144.00 242.50h3.50v3.52h-3.50zM168.50 242.50h7.00v3.52h-7.00zM242.00 242.50h7.00v3.52h-7.00zM263.00 242.50h3.50v3.52h-3.50zM305.00 242.50h3.50v3.52h-3.50zM340.00 242.50h3.50v3.52h-3.50zM147.50 246.00h3.50v3.52h-3.50zM207.00 246.00h3.50v3.52h-3.50zM249.00 246.00h3.50v3.52h-3.50zM357.50 246.00h3.50v3.52h-3.50zM109.00 249.50h3.50v3.52h-3.50zM172.00 249.50h3.50v3.52h-3.50zM214.00 249.50h3.50v3.52h-3.50zM270.00 249.50h3.50v3.52h-3.50zM308.50 249.50h3.50v3.52h-3.50zM368.00 249.50h3.50v3.52h-3.50zM168.50 253.00h3.50v3.52h-3.50zM221.00 253.00h3.50v3.52h-3.50zM270.00 253.00h3.50v3.52h-3.50zM130.00 256.50h3.50v3.52h-3.50zM238.50 256.50h3.50v3.52h-3.50zM270.00 256.50h3.50v3.52h-3.50zM158.00 260.00h3.50v3.52h-3.50zM207.00 260.00h3.50v3.52h-3.50zM238.50 260.00h3.50v3.52h-3.50zM315.50 260.00h3.50v3.52h-3.50zM168.50 263.50h3.50v3.52h-3.50zM231.50 263.50h3.50v3.52h-3.50zM266.50 263.50h3.50v3.52h-3.50zM273.50 263.50h3.50v3.52h-3.50zM294.50 263.50h3.50v3.52h-3.50zM312.00 263.50h3.50v3.52h-3.50zM350.50 263.50h3.50v3.52h-3.50zM126.50 267.00h3.50v3.52h-3.50zM214.00 267.00h3.50v3.52h-3.50zM347.00 267.00h3.50v3.52h-3.50zM109.00 270.50h7.00v3.52h-7.00zM172.00 270.50h3.50v3.52h-3.50zM329.50 270.50h3.50v3.52h-3.50zM151.00 274.00h3.50v3.52h-3.50zM252.50 274.00h3.50v3.52h-3.50zM277.00 274.00h3.50v3.52h-3.50zM298.00 274.00h10.50v3.52h-10.50zM186.00 277.50h3.50v3.52h-3.50zM224.50 277.50h3.50v3.52h-3.50zM242.00 277.50h3.50v3.52h-3.50zM263.00 277.50h3.50v3.52h-3.50zM277.00 277.50h3.50v3.52h-3.50zM291.00 277.50h3.50v3.52h-3.50zM354.00 277.50h3.50v3.52h-3.50zM284.00 284.50h3.50v3.52h-3.50zM291.00 284.50h3.50v3.52h-3.50zM301.50 284.50h3.50v3.52h-3.50zM102.00 288.00h3.50v3.52h-3.50zM200.00 291.50h3.50v3.52h-3.50zM301.50 291.50h3.50v3.52h-3.50zM109.00 295.00h3.50v3.52h-3.50zM221.00 295.00h3.50v3.52h-3.50zM284.00 295.00h3.50v3.52h-3.50zM200.00 298.50h3.50v3.52h-3.50zM270.00 298.50h3.50v3.52h-3.50zM196.50 302.00h7.00v3.52h-7.00zM228.00 302.00h3.50v3.52h-3.50zM284.00 302.00h3.50v3.52h-3.50zM315.50 302.00h3.50v3.52h-3.50zM322.50 302.00h3.50v3.52h-3.50zM91.50 305.50h7.00v3.52h-7.00zM119.50 305.50h3.50v3.52h-3.50zM130.00 305.50h3.50v3.52h-3.50zM137.00 305.50h3.50v3.52h-3.50zM144.00 305.50h3.50v3.52h-3.50zM189.50 305.50h3.50v3.52h-3.50zM224.50 305.50h3.50v3.52h-3.50zM245.50 305.50h3.50v3.52h-3.50zM280.50 305.50h3.50v3.52h-3.50zM336.50 305.50h3.50v3.52h-3.50zM210.50 309.00h3.50v3.52h-3.50zM217.50 309.00h3.50v3.52h-3.50zM277.00 309.00h3.50v3.52h-3.50z"/>
<path fill="#363636" d="M102.00 32.50h3.50v3.52h-3.50zM238.50 32.50h3.50v3.52h-3.50zM277.00 32.50h3.50v3.52h-3.50zM301.50 32.50h3.50v3.52h-3.50zM333.00 32.50h3.50v3.52h-3.50zM347.00 32.50h3.50v3.52h-3.50zM256.00 36.00h3.50v3.52h-3.50zM333.00 36.00h3.50v3.52h-3.50zM357.50 36.00h3.50v3.52h-3.50zM126.50 39.50h3.50v3.52h-3.50zM347.00 39.50h3.50v3.52h-3.50zM123.00 43.00h3.50v3.52h-3.50zM298.00 43.00h3.50v3.52h-3.50zM312.00 43.00h3.50v3.52h-3.50zM200.00 46.50h3.50v3.52h-3.50zM221.00 46.50h3.50v3.52h-3.50zM235.00 46.50h3.50v3.52h-3.50zM315.50 46.50h3.50v3.52h-3.50zM322.50 46.50h3.50v3.52h-3.50zM357.50 46.50h3.50v3.52h-3.50zM91.50 50.00h3.50v3.52h-3.50zM221.00 50.00h3.50v3.52h-3.50zM284.00 50.00h3.50v3.52h-3.50zM119.50 53.50h3.50v3.52h-3.50zM193.00 53.50h3.50v3.52h-3.50zM238.50 53.50h3.50v3.52h-3.50zM364.50 53.50h7.00v3.52h-7.00zM116.00 57.00h3.50v3.52h-3.50zM231.50 57.00h3.50v3.52h-3.50zM357.50 57.00h3.50v3.52h-3.50zM245.50 60.50h3.50v3.52h-3.50zM151.00 64.00h3.50v3.52h-3.50zM245.50 64.00h3.50v3.52h-3.50zM357.50 64.00h3.50v3.52h-3.50zM126.50 67.50h3.50v3.52h-3.50zM249.00 67.50h3.50v3.52h-3.50zM259.50 67.50h3.50v3.52h-3.50zM329.50 67.50h3.50v3.52h-3.50zM109.00 71.00h3.50v3.52h-3.50zM116.00 71.00h3.50v3.52h-3.50zM158.00 71.00h3.50v3.52h-3.50zM329.50 71.00h3.50v3.52h-3.50zM357.50 71.00h7.00v3.52h-7.00zM126.50 74.50h3.50v3.52h-3.50zM221.00 74.50h3.50v3.52h-3.50zM266.50 74.50h3.50v3.52h-3.50zM291.00 74.50h7.00v3.52h-7.00zM200.00 78.00h3.50v3.52h-3.50zM147.50 81.50h3.50v3.52h-3.50zM172.00 81.50h3.50v3.52h-3.50zM203.50 81.50h3.50v3.52h-3.50zM291.00 81.50h7.00v3.52h-7.00zM361.00 81.50h3.50v3.52h-3.50zM91.50 85.00h3.50v3.52h-3.50zM123.00 85.00h3.50v3.52h-3.50zM172.00 85.00h3.50v3.52h-3.50zM315.50 85.00h3.50v3.52h-3.50zM357.50 85.00h3.50v3.52h-3.50zM144.00 88.50h3.50v3.52h-3.50zM154.50 88.50h3.50v3.52h-3.50zM245.50 88.50h3.50v3.52h-3.50zM357.50 88.50h3.50v3.52h-3.50zM144.00 92.00h3.50v3.52h-3.50zM158.00 92.00h3.50v3.52h-3.50zM308.50 92.00h3.50v3.52h-3.50zM319.00 92.00h3.50v3.52h-3.50zM343.50 92.00h3.50v3.52h-3.50zM91.50 95.50h3.50v3.52h-3.50zM144.00 95.50h3.50v3.52h-3.50zM175.50 95.50h3.50v3.52h-3.50zM193.00 95.50h3.50v3.52h-3.50zM249.00 95.50h3.50v3.52h-3.50zM256.00 95.50h3.50v3.52h-3.50zM270.00 95.50h3.50v3.52h-3.50zM343.50 95.50h3.50v3.52h-3.50zM350.50 95.50h3.50v3.52h-3.50zM368.00 95.50h3.50v3.52h-3.50zM175.50 99.00h3.50v3.52h-3.50zM186.00 99.00h7.00v3.52h-7.00zM203.50 99.00h3.50v3.52h-3.50zM224.50 99.00h3.50v3.52h-3.50zM231.50 99.00h3.50v3.52h-3.50zM133.50 102.50h3.50v3.52h-3.50zM238.50 102.50h3.50v3.52h-3.50zM245.50 102.50h3.50v3.52h-3.50zM256.00 102.50h7.00v3.52h-7.00zM340.00 102.50h3.50v3.52h-3.50zM347.00 102.50h3.50v3.52h-3.50zM147.50 106.00h3.50v3.52h-3.50zM203.50 106.00h3.50v3.52h-3.50zM210.50 106.00h3.50v3.52h-3.50zM270.00 106.00h3.50v3.52h-3.50zM144.00 109.50h3.50v3.52h-3.50zM154.50 113.00h3.50v3.52h-3.50zM221.00 113.00h3.50v3.52h-3.50zM252.50 113.00h3.50v3.52h-3.50zM119.50 116.50h3.50v3.52h-3.50zM147.50 116.50h3.50v3.52h-3.50zM221.00 116.50h3.50v3.52h-3.50zM249.00 116.50h3.50v3.52h-3.50zM287.50 116.50h3.50v3.52h-3.50zM312.00 116.50h3.50v3.52h-3.50zM112.50 120.00h3.50v3.52h-3.50zM214.00 120.00h3.50v3.52h-3.50zM147.50 123.50h3.50v3.52h-3.50zM172.00 123.50h3.50v3.52h-3.50zM186.00 123.50h3.50v3.52h-3.50zM259.50 123.50h3.50v3.52h-3.50zM158.00 127.00h3.50v3.52h-3.50zM200.00 127.00h3.50v3.52h-3.50zM238.50 127.00h3.50v3.52h-3.50zM319.00 127.00h3.50v3.52h-3.50zM329.50 127.00h3.50v3.52h-3.50zM158.00 130.50h7.00v3.52h-7.00zM280.50 130.50h3.50v3.52h-3.50zM354.00 130.50h3.50v3.52h-3.50zM252.50 134.00h3.50v3.52h-3.50zM228.00 137.50h3.50v3.52h-3.50zM112.50 141.00h3.50v3.52h-3.50zM165.00 141.00h3.50v3.52h-3.50zM305.00 141.00h3.50v3.52h-3.50zM112.50 144.50h3.50v3.52h-3.50zM158.00 144.50h3.50v3.52h-3.50zM217.50 144.50h3.50v3.52h-3.50zM245.50 144.50h3.50v3.52h-3.50zM312.00 144.50h7.00v3.52h-7.00zM340.00 144.50h7.00v3.52h-7.00zM357.50 144.50h7.00v3.52h-7.00zM252.50 148.00h3.50v3.52h-3.50zM263.00 148.00h3.50v3.52h-3.50zM291.00 148.00h3.50v3.52h-3.50zM350.50 148.00h3.50v3.52h-3.50zM221.00 151.50h3.50v3.52h-3.50zM242.00 151.50h7.00v3.52h-7.00zM130.00 155.00h3.50v3.52h-3.50zM140.50 155.00h7.00v3.52h-7.00zM158.00 155.00h3.50v3.52h-3.50zM165.00 155.00h3.50v3.52h-3.50zM182.50 155.00h7.00v3.52h-7.00zM336.50 155.00h3.50v3.52h-3.50zM312.00 158.50h3.50v3.52h-3.50zM322.50 158.50h3.50v3.52h-3.50zM175.50 162.00h3.50v3.52h-3.50zM277.00 162.00h3.50v3.52h-3.50zM294.50 162.00h3.50v3.52h-3.50zM98.50 165.50h7.00v3.52h-7.00zM119.50 165.50h3.50v3.52h-3.50zM137.00 165.50h3.50v3.52h-3.50zM172.00 165.50h3.50v3.52h-3.50zM179.00 165.50h3.50v3.52h-3.50zM207.00 165.50h3.50v3.52h-3.50zM312.00 165.50h3.50v3.52h-3.50zM105.50 169.00h3.50v3.52h-3.50zM315.50 169.00h3.50v3.52h-3.50zM130.00 172.50h3.50v3.52h-3.50zM147.50 172.50h3.50v3.52h-3.50zM210.50 172.50h3.50v3.52h-3.50zM238.50 172.50h7.00v3.52h-7.00zM315.50 172.50h3.50v3.52h-3.50zM119.50 176.00h3.50v3.52h-3.50zM200.00 176.00h3.50v3.52h-3.50zM259.50 176.00h3.50v3.52h-3.50zM158.00 179.50h3.50v3.52h-3.50zM172.00 179.50h3.50v3.52h-3.50zM182.50 179.50h3.50v3.52h-3.50zM196.50 179.50h3.50v3.52h-3.50zM151.00 183.00h3.50v3.52h-3.50zM165.00 183.00h7.00v3.52h-7.00zM196.50 183.00h3.50v3.52h-3.50zM203.50 183.00h3.50v3.52h-3.50zM252.50 183.00h3.50v3.52h-3.50zM266.50 183.00h3.50v3.52h-3.50zM298.00 183.00h3.50v3.52h-3.50zM196.50 186.50h3.50v3.52h-3.50zM294.50 186.50h3.50v3.52h-3.50zM336.50 186.50h3.50v3.52h-3.50zM119.50 190.00h3.50v3.52h-3.50zM126.50 190.00h3.50v3.52h-3.50zM238.50 190.00h3.50v3.52h-3.50zM294.50 190.00h3.50v3.52h-3.50zM308.50 190.00h3.50v3.52h-3.50zM165.00 193.50h3.50v3.52h-3.50zM193.00 193.50h3.50v3.52h-3.50zM235.00 193.50h3.50v3.52h-3.50zM294.50 193.50h3.50v3.52h-3.50zM301.50 193.50h3.50v3.52h-3.50zM350.50 197.00h3.50v3.52h-3.50zM112.50 200.50h3.50v3.52h-3.50zM280.50 200.50h3.50v3.52h-3.50zM158.00 204.00h7.00v3.52h-7.00zM193.00 204.00h3.50v3.52h-3.50zM242.00 204.00h3.50v3.52h-3.50zM284.00 204.00h3.50v3.52h-3.50zM368.00 204.00h3.50v3.52h-3.50zM182.50 207.50h3.50v3.52h-3.50zM203.50 207.50h3.50v3.52h-3.50zM266.50 207.50h3.50v3.52h-3.50zM301.50 207.50h3.50v3.52h-3.50zM312.00 207.50h3.50v3.52h-3.50zM112.50 211.00h7.00v3.52h-7.00zM266.50 211.00h3.50v3.52h-3.50zM280.50 211.00h3.50v3.52h-3.50zM329.50 211.00h3.50v3.52h-3.50zM368.00 211.00h3.50v3.52h-3.50zM207.00 214.50h3.50v3.52h-3.50zM249.00 214.50h3.50v3.52h-3.50zM256.00 214.50h3.50v3.52h-3.50zM343.50 214.50h3.50v3.52h-3.50zM350.50 214.50h3.50v3.52h-3.50zM130.00 218.00h3.50v3.52h-3.50zM95.00 221.50h3.50v3.52h-3.50zM109.00 221.50h3.50v3.52h-3.50zM266.50 221.50h3.50v3.52h-3.50zM301.50 221.50h3.50v3.52h-3.50zM308.50 221.50h3.50v3.52h-3.50zM130.00 225.00h3.50v3.52h-3.50zM161.50 225.00h3.50v3.52h-3.50zM200.00 225.00h3.50v3.52h-3.50zM214.00 225.00h3.50v3.52h-3.50zM357.50 225.00h3.50v3.52h-3.50zM224.50 228.50h3.50v3.52h-3.50zM284.00 228.50h3.50v3.52h-3.50zM98.50 232.00h3.50v3.52h-3.50zM263.00 232.00h3.50v3.52h-3.50zM361.00 232.00h3.50v3.52h-3.50zM98.50 235.50h3.50v3.52h-3.50zM140.50 235.50h3.50v3.52h-3.50zM147.50 235.50h3.50v3.52h-3.50zM280.50 235.50h3.50v3.52h-3.50zM319.00 235.50h3.50v3.52h-3.50zM95.00 239.00h3.50v3.52h-3.50zM105.50 239.00h3.50v3.52h-3.50zM165.00 242.50h3.50v3.52h-3.50zM182.50 242.50h3.50v3.52h-3.50zM319.00 242.50h3.50v3.52h-3.50zM329.50 242.50h3.50v3.52h-3.50zM263.00 246.00h3.50v3.52h-3.50zM326.00 246.00h3.50v3.52h-3.50zM98.50 249.50h3.50v3.52h-3.50zM179.00 249.50h3.50v3.52h-3.50zM200.00 249.50h3.50v3.52h-3.50zM280.50 249.50h3.50v3.52h-3.50zM343.50 249.50h3.50v3.52h-3.50zM91.50 253.00h3.50v3.52h-3.50zM112.50 253.00h3.50v3.52h-3.50zM147.50 253.00h3.50v3.52h-3.50zM284.00 253.00h3.50v3.52h-3.50zM368.00 253.00h3.50v3.52h-3.50zM105.50 256.50h7.00v3.52h-7.00zM140.50 256.50h3.50v3.52h-3.50zM165.00 256.50h3.50v3.52h-3.50zM193.00 256.50h3.50v3.52h-3.50zM256.00 256.50h3.50v3.52h-3.50zM368.00 256.50h3.50v3.52h-3.50zM196.50 260.00h3.50v3.52h-3.50zM336.50 260.00h3.50v3.52h-3.50zM354.00 260.00h3.50v3.52h-3.50zM112.50 263.50h3.50v3.52h-3.50zM172.00 263.50h3.50v3.52h-3.50zM214.00 263.50h3.50v3.52h-3.50zM228.00 263.50h3.50v3.52h-3.50zM277.00 263.50h3.50v3.52h-3.50zM326.00 263.50h3.50v3.52h-3.50zM168.50 267.00h3.50v3.52h-3.50zM189.50 267.00h3.50v3.52h-3.50zM224.50 267.00h3.50v3.52h-3.50zM322.50 267.00h3.50v3.52h-3.50zM361.00 267.00h3.50v3.52h-3.50zM105.50 270.50h3.50v3.52h-3.50zM151.00 270.50h3.50v3.52h-3.50zM179.00 270.50h3.50v3.52h-3.50zM196.50 270.50h7.00v3.52h-7.00zM231.50 270.50h3.50v3.52h-3.50zM284.00 270.50h7.00v3.52h-7.00zM161.50 274.00h3.50v3.52h-3.50zM186.00 274.00h3.50v3.52h-3.50zM263.00 274.00h3.50v3.52h-3.50zM137.00 277.50h3.50v3.52h-3.50zM207.00 277.50h3.50v3.52h-3.50zM270.00 277.50h3.50v3.52h-3.50zM284.00 277.50h3.50v3.52h-3.50zM147.50 281.00h3.50v3.52h-3.50zM161.50 281.00h3.50v3.52h-3.50zM179.00 281.00h3.50v3.52h-3.50zM294.50 281.00h3.50v3.52h-3.50zM343.50 281.00h3.50v3.52h-3.50zM154.50 284.50h3.50v3.52h-3.50zM175.50 284.50h3.50v3.52h-3.50zM95.00 288.00h3.50v3.52h-3.50zM105.50 288.00h3.50v3.52h-3.50zM221.00 288.00h3.50v3.52h-3.50zM228.00 288.00h3.50v3.52h-3.50zM242.00 288.00h7.00v3.52h-7.00zM322.50 288.00h3.50v3.52h-3.50zM144.00 291.50h3.50v3.52h-3.50zM319.00 291.50h3.50v3.52h-3.50zM364.50 291.50h3.50v3.52h-3.50zM98.50 295.00h3.50v3.52h-3.50zM112.50 295.00h3.50v3.52h-3.50zM133.50 295.00h3.50v3.52h-3.50zM175.50 295.00h3.50v3.52h-3.50zM273.50 295.00h3.50v3.52h-3.50zM301.50 295.00h3.50v3.52h-3.50zM333.00 295.00h3.50v3.52h-3.50zM340.00 295.00h3.50v3.52h-3.50zM347.00 295.00h3.50v3.52h-3.50zM252.50 298.50h3.50v3.52h-3.50zM368.00 298.50h3.50v3.52h-3.50zM126.50 302.00h3.50v3.52h-3.50zM154.50 302.00h3.50v3.52h-3.50zM161.50 302.00h7.00v3.52h-7.00zM312.00 302.00h3.50v3.52h-3.50zM350.50 302.00h3.50v3.52h-3.50zM168.50 305.50h3.50v3.52h-3.50zM294.50 305.50h3.50v3.52h-3.50zM308.50 305.50h3.50v3.52h-3.50zM165.00 309.00h3.50v3.52h-3.50zM196.50 309.00h3.50v3.52h-3.50zM270.00 309.00h3.50v3.52h-3.50zM354.00 309.00h3.50v3.52h-3.50z"/>
<path fill="#393939" d="M312.00 32.50h3.50v3.52h-3.50zM123.00 36.00h3.50v3.52h-3.50zM172.00 36.00h3.50v3.52h-3.50zM214.00 36.00h7.00v3.52h-7.00zM368.00 36.00h3.50v3.52h-3.50zM112.50 39.50h3.50v3.52h-3.50zM119.50 39.50h3.50v3.52h-3.50zM168.50 39.50h3.50v3.52h-3.50zM238.50 39.50h7.00v3.52h-7.00zM249.00 39.50h7.00v3.52h-7.00zM270.00 39.50h3.50v3.52h-3.50zM350.50 39.50h3.50v3.52h-3.50zM109.00 43.00h3.50v3.52h-3.50zM161.50 43.00h3.50v3.52h-3.50zM228.00 43.00h3.50v3.52h-3.50zM252.50 43.00h3.50v3.52h-3.50zM263.00 43.00h3.50v3.52h-3.50zM329.50 43.00h3.50v3.52h-3.50zM126.50 46.50h3.50v3.52h-3.50zM154.50 46.50h3.50v3.52h-3.50zM119.50 50.00h3.50v3.52h-3.50zM175.50 50.00h3.50v3.52h-3.50zM186.00 50.00h3.50v3.52h-3.50zM266.50 50.00h3.50v3.52h-3.50zM280.50 50.00h3.50v3.52h-3.50zM336.50 50.00h3.50v3.52h-3.50zM168.50 53.50h3.50v3.52h-3.50zM200.00 53.50h3.50v3.52h-3.50zM214.00 53.50h3.50v3.52h-3.50zM249.00 53.50h7.00v3.52h-7.00zM294.50 53.50h3.50v3.52h-3.50zM175.50 57.00h3.50v3.52h-3.50zM186.00 57.00h3.50v3.52h-3.50zM287.50 57.00h7.00v3.52h-7.00zM343.50 57.00h3.50v3.52h-3.50zM200.00 60.50h3.50v3.52h-3.50zM238.50 60.50h3.50v3.52h-3.50zM280.50 60.50h3.50v3.52h-3.50zM336.50 60.50h3.50v3.52h-3.50zM175.50 64.00h3.50v3.52h-3.50zM186.00 64.00h3.50v3.52h-3.50zM207.00 64.00h3.50v3.52h-3.50zM231.50 64.00h3.50v3.52h-3.50zM284.00 64.00h3.50v3.52h-3.50zM112.50 67.50h3.50v3.52h-3.50zM326.00 67.50h3.50v3.52h-3.50zM95.00 71.00h7.00v3.52h-7.00zM151.00 71.00h3.50v3.52h-3.50zM91.50 74.50h3.50v3.52h-3.50zM119.50 74.50h3.50v3.52h-3.50zM140.50 74.50h3.50v3.52h-3.50zM263.00 74.50h3.50v3.52h-3.50zM284.00 74.50h3.50v3.52h-3.50zM193.00 78.00h3.50v3.52h-3.50zM242.00 78.00h3.50v3.52h-3.50zM294.50 78.00h3.50v3.52h-3.50zM350.50 78.00h3.50v3.52h-3.50zM193.00 81.50h3.50v3.52h-3.50zM217.50 81.50h3.50v3.52h-3.50zM224.50 81.50h3.50v3.52h-3.50zM287.50 81.50h3.50v3.52h-3.50zM200.00 85.00h3.50v3.52h-3.50zM214.00 85.00h3.50v3.52h-3.50zM336.50 85.00h3.50v3.52h-3.50zM91.50 88.50h3.50v3.52h-3.50zM217.50 88.50h3.50v3.52h-3.50zM231.50 88.50h3.50v3.52h-3.50zM252.50 88.50h3.50v3.52h-3.50zM350.50 88.50h3.50v3.52h-3.50zM116.00 92.00h3.50v3.52h-3.50zM168.50 92.00h3.50v3.52h-3.50zM182.50 92.00h3.50v3.52h-3.50zM235.00 92.00h3.50v3.52h-3.50zM249.00 92.00h3.50v3.52h-3.50zM333.00 92.00h3.50v3.52h-3.50zM347.00 92.00h3.50v3.52h-3.50zM154.50 95.50h3.50v3.52h-3.50zM196.50 95.50h3.50v3.52h-3.50zM238.50 95.50h3.50v3.52h-3.50zM151.00 99.00h3.50v3.52h-3.50zM158.00 99.00h3.50v3.52h-3.50zM179.00 99.00h3.50v3.52h-3.50zM193.00 99.00h3.50v3.52h-3.50zM235.00 99.00h3.50v3.52h-3.50zM284.00 99.00h7.00v3.52h-7.00zM126.50 102.50h3.50v3.52h-3.50zM137.00 102.50h3.50v3.52h-3.50zM172.00 102.50h3.50v3.52h-3.50zM196.50 102.50h3.50v3.52h-3.50zM263.00 102.50h3.50v3.52h-3.50zM312.00 102.50h3.50v3.52h-3.50zM364.50 102.50h3.50v3.52h-3.50zM238.50 106.00h3.50v3.52h-3.50zM263.00 106.00h3.50v3.52h-3.50zM126.50 109.50h3.50v3.52h-3.50zM193.00 109.50h7.00v3.52h-7.00zM221.00 109.50h3.50v3.52h-3.50zM319.00 109.50h3.50v3.52h-3.50zM350.50 109.50h3.50v3.52h-3.50zM91.50 113.00h3.50v3.52h-3.50zM105.50 113.00h3.50v3.52h-3.50zM112.50 113.00h3.50v3.52h-3.50zM126.50 113.00h3.50v3.52h-3.50zM207.00 113.00h3.50v3.52h-3.50zM308.50 113.00h3.50v3.52h-3.50zM364.50 113.00h3.50v3.52h-3.50zM123.00 116.50h7.00v3.52h-7.00zM137.00 116.50h3.50v3.52h-3.50zM210.50 116.50h3.50v3.52h-3.50zM266.50 116.50h3.50v3.52h-3.50zM144.00 120.00h3.50v3.52h-3.50zM165.00 120.00h3.50v3.52h-3.50zM203.50 120.00h3.50v3.52h-3.50zM221.00 120.00h3.50v3.52h-3.50zM245.50 120.00h3.50v3.52h-3.50zM259.50 120.00h3.50v3.52h-3.50zM277.00 120.00h3.50v3.52h-3.50zM291.00 120.00h3.50v3.52h-3.50zM109.00 123.50h3.50v3.52h-3.50zM179.00 123.50h3.50v3.52h-3.50zM189.50 123.50h3.50v3.52h-3.50zM347.00 123.50h3.50v3.52h-3.50zM147.50 127.00h3.50v3.52h-3.50zM203.50 127.00h3.50v3.52h-3.50zM228.00 127.00h3.50v3.52h-3.50zM273.50 127.00h3.50v3.52h-3.50zM280.50 127.00h3.50v3.52h-3.50zM186.00 130.50h3.50v3.52h-3.50zM210.50 130.50h3.50v3.52h-3.50zM252.50 130.50h3.50v3.52h-3.50zM301.50 130.50h3.50v3.52h-3.50zM326.00 130.50h3.50v3.52h-3.50zM350.50 130.50h3.50v3.52h-3.50zM361.00 130.50h3.50v3.52h-3.50zM91.50 134.00h3.50v3.52h-3.50zM235.00 134.00h3.50v3.52h-3.50zM175.50 137.50h3.50v3.52h-3.50zM273.50 137.50h3.50v3.52h-3.50zM301.50 137.50h3.50v3.52h-3.50zM308.50 137.50h3.50v3.52h-3.50zM319.00 137.50h3.50v3.52h-3.50zM357.50 137.50h3.50v3.52h-3.50zM105.50 141.00h3.50v3.52h-3.50zM151.00 141.00h3.50v3.52h-3.50zM182.50 141.00h3.50v3.52h-3.50zM217.50 141.00h3.50v3.52h-3.50zM123.00 148.00h7.00v3.52h-7.00zM147.50 148.00h3.50v3.52h-3.50zM245.50 148.00h7.00v3.52h-7.00zM319.00 148.00h3.50v3.52h-3.50zM340.00 148.00h7.00v3.52h-7.00zM130.00 151.50h3.50v3.52h-3.50zM172.00 151.50h3.50v3.52h-3.50zM294.50 151.50h3.50v3.52h-3.50zM343.50 151.50h3.50v3.52h-3.50zM189.50 155.00h3.50v3.52h-3.50zM280.50 155.00h3.50v3.52h-3.50zM287.50 155.00h3.50v3.52h-3.50zM294.50 155.00h3.50v3.52h-3.50zM308.50 155.00h3.50v3.52h-3.50zM203.50 158.50h3.50v3.52h-3.50zM259.50 158.50h3.50v3.52h-3.50zM270.00 158.50h3.50v3.52h-3.50zM287.50 158.50h3.50v3.52h-3.50zM298.00 158.50h3.50v3.52h-3.50zM333.00 158.50h3.50v3.52h-3.50zM322.50 162.00h3.50v3.52h-3.50zM105.50 165.50h3.50v3.52h-3.50zM305.00 165.50h3.50v3.52h-3.50zM357.50 165.50h7.00v3.52h-7.00zM95.00 169.00h3.50v3.52h-3.50zM133.50 169.00h3.50v3.52h-3.50zM144.00 169.00h3.50v3.52h-3.50zM189.50 169.00h3.50v3.52h-3.50zM207.00 169.00h3.50v3.52h-3.50zM238.50 169.00h3.50v3.52h-3.50zM252.50 169.00h3.50v3.52h-3.50zM350.50 169.00h7.00v3.52h-7.00zM102.00 172.50h3.50v3.52h-3.50zM116.00 176.00h3.50v3.52h-3.50zM161.50 176.00h7.00v3.52h-7.00zM273.50 176.00h3.50v3.52h-3.50zM326.00 176.00h3.50v3.52h-3.50zM119.50 179.50h3.50v3.52h-3.50zM221.00 179.50h3.50v3.52h-3.50zM259.50 179.50h3.50v3.52h-3.50zM301.50 179.50h3.50v3.52h-3.50zM158.00 183.00h3.50v3.52h-3.50zM182.50 183.00h3.50v3.52h-3.50zM277.00 183.00h3.50v3.52h-3.50zM284.00 183.00h3.50v3.52h-3.50zM294.50 183.00h3.50v3.52h-3.50zM357.50 183.00h3.50v3.52h-3.50zM126.50 186.50h3.50v3.52h-3.50zM147.50 186.50h3.50v3.52h-3.50zM207.00 186.50h7.00v3.52h-7.00zM263.00 186.50h3.50v3.52h-3.50zM308.50 186.50h3.50v3.52h-3.50zM172.00 190.00h3.50v3.52h-3.50zM368.00 190.00h3.50v3.52h-3.50zM221.00 193.50h3.50v3.52h-3.50zM350.50 193.50h3.50v3.52h-3.50zM259.50 197.00h3.50v3.52h-3.50zM343.50 197.00h3.50v3.52h-3.50zM207.00 200.50h3.50v3.52h-3.50zM228.00 200.50h3.50v3.52h-3.50zM294.50 200.50h3.50v3.52h-3.50zM144.00 204.00h3.50v3.52h-3.50zM154.50 204.00h3.50v3.52h-3.50zM168.50 204.00h3.50v3.52h-3.50zM273.50 204.00h3.50v3.52h-3.50zM301.50 204.00h3.50v3.52h-3.50zM326.00 204.00h3.50v3.52h-3.50zM91.50 207.50h3.50v3.52h-3.50zM144.00 207.50h7.00v3.52h-7.00zM217.50 207.50h3.50v3.52h-3.50zM126.50 211.00h3.50v3.52h-3.50zM182.50 211.00h7.00v3.52h-7.00zM231.50 211.00h3.50v3.52h-3.50zM291.00 211.00h3.50v3.52h-3.50zM361.00 211.00h3.50v3.52h-3.50zM119.50 214.50h3.50v3.52h-3.50zM158.00 214.50h3.50v3.52h-3.50zM228.00 214.50h3.50v3.52h-3.50zM329.50 214.50h3.50v3.52h-3.50zM368.00 214.50h3.50v3.52h-3.50zM91.50 218.00h3.50v3.52h-3.50zM200.00 218.00h3.50v3.52h-3.50zM287.50 218.00h3.50v3.52h-3.50zM294.50 218.00h3.50v3.52h-3.50zM301.50 218.00h3.50v3.52h-3.50zM102.00 221.50h3.50v3.52h-3.50zM200.00 221.50h3.50v3.52h-3.50zM252.50 221.50h3.50v3.52h-3.50zM298.00 221.50h3.50v3.52h-3.50zM340.00 221.50h3.50v3.52h-3.50zM357.50 221.50h3.50v3.52h-3.50zM252.50 225.00h3.50v3.52h-3.50zM287.50 225.00h3.50v3.52h-3.50zM305.00 225.00h3.50v3.52h-3.50zM193.00 228.50h3.50v3.52h-3.50zM203.50 228.50h3.50v3.52h-3.50zM231.50 228.50h3.50v3.52h-3.50zM266.50 228.50h3.50v3.52h-3.50zM273.50 228.50h3.50v3.52h-3.50zM326.00 228.50h3.50v3.52h-3.50zM168.50 232.00h3.50v3.52h-3.50zM189.50 232.00h3.50v3.52h-3.50zM312.00 232.00h3.50v3.52h-3.50zM357.50 232.00h3.50v3.52h-3.50zM368.00 232.00h3.50v3.52h-3.50zM102.00 235.50h3.50v3.52h-3.50zM175.50 235.50h3.50v3.52h-3.50zM277.00 239.00h3.50v3.52h-3.50zM361.00 239.00h3.50v3.52h-3.50zM368.00 239.00h3.50v3.52h-3.50zM95.00 242.50h3.50v3.52h-3.50zM189.50 242.50h7.00v3.52h-7.00zM277.00 242.50h7.00v3.52h-7.00zM312.00 242.50h3.50v3.52h-3.50zM172.00 246.00h3.50v3.52h-3.50zM193.00 246.00h3.50v3.52h-3.50zM238.50 246.00h3.50v3.52h-3.50zM294.50 246.00h3.50v3.52h-3.50zM364.50 246.00h3.50v3.52h-3.50zM102.00 249.50h3.50v3.52h-3.50zM123.00 249.50h3.50v3.52h-3.50zM245.50 249.50h3.50v3.52h-3.50zM259.50 249.50h3.50v3.52h-3.50zM294.50 249.50h3.50v3.52h-3.50zM158.00 253.00h7.00v3.52h-7.00zM231.50 253.00h3.50v3.52h-3.50zM294.50 253.00h3.50v3.52h-3.50zM137.00 256.50h3.50v3.52h-3.50zM249.00 256.50h3.50v3.52h-3.50zM301.50 256.50h3.50v3.52h-3.50zM319.00 256.50h3.50v3.52h-3.50zM95.00 260.00h3.50v3.52h-3.50zM235.00 260.00h3.50v3.52h-3.50zM277.00 260.00h3.50v3.52h-3.50zM364.50 260.00h3.50v3.52h-3.50zM151.00 263.50h3.50v3.52h-3.50zM207.00 263.50h3.50v3.52h-3.50zM217.50 263.50h3.50v3.52h-3.50zM280.50 263.50h3.50v3.52h-3.50zM298.00 263.50h3.50v3.52h-3.50zM322.50 263.50h3.50v3.52h-3.50zM151.00 267.00h3.50v3.52h-3.50zM175.50 267.00h7.00v3.52h-7.00zM343.50 267.00h3.50v3.52h-3.50zM193.00 270.50h3.50v3.52h-3.50zM214.00 270.50h3.50v3.52h-3.50zM221.00 270.50h3.50v3.52h-3.50zM266.50 270.50h3.50v3.52h-3.50zM357.50 270.50h7.00v3.52h-7.00zM182.50 274.00h3.50v3.52h-3.50zM368.00 274.00h3.50v3.52h-3.50zM112.50 277.50h3.50v3.52h-3.50zM231.50 277.50h3.50v3.52h-3.50zM266.50 277.50h3.50v3.52h-3.50zM319.00 277.50h3.50v3.52h-3.50zM326.00 277.50h3.50v3.52h-3.50zM137.00 281.00h3.50v3.52h-3.50zM277.00 281.00h3.50v3.52h-3.50zM137.00 284.50h3.50v3.52h-3.50zM165.00 284.50h3.50v3.52h-3.50zM186.00 284.50h3.50v3.52h-3.50zM270.00 284.50h3.50v3.52h-3.50zM147.50 291.50h3.50v3.52h-3.50zM182.50 291.50h3.50v3.52h-3.50zM224.50 291.50h3.50v3.52h-3.50zM256.00 291.50h3.50v3.52h-3.50zM277.00 291.50h3.50v3.52h-3.50zM126.50 295.00h3.50v3.52h-3.50zM144.00 295.00h3.50v3.52h-3.50zM154.50 295.00h3.50v3.52h-3.50zM343.50 295.00h3.50v3.52h-3.50zM368.00 295.00h3.50v3.52h-3.50zM144.00 298.50h3.50v3.52h-3.50zM189.50 298.50h3.50v3.52h-3.50zM249.00 298.50h3.50v3.52h-3.50zM287.50 298.50h3.50v3.52h-3.50zM326.00 298.50h7.00v3.52h-7.00zM182.50 302.00h3.50v3.52h-3.50zM245.50 302.00h3.50v3.52h-3.50zM266.50 302.00h3.50v3.52h-3.50zM287.50 302.00h7.00v3.52h-7.00zM361.00 302.00h3.50v3.52h-3.50zM154.50 305.50h3.50v3.52h-3.50zM196.50 305.50h3.50v3.52h-3.50zM319.00 305.50h3.50v3.52h-3.50zM333.00 305.50h3.50v3.52h-3.50zM357.50 305.50h3.50v3.52h-3.50zM109.00 309.00h3.50v3.52h-3.50zM116.00 309.00h3.50v3.52h-3.50zM242.00 309.00h3.50v3.52h-3.50zM280.50 309.00h3.50v3.52h-3.50zM287.50 309.00h3.50v3.52h-3.50zM294.50 309.00h3.50v3.52h-3.50zM301.50 309.00h3.50v3.52h-3.50zM357.50 309.00h3.50v3.52h-3.50z"/>
<path fill="#3c3c3c" d="M95.00 32.50h3.50v3.52h-3.50zM119.50 32.50h3.50v3.52h-3.50zM182.50 32.50h3.50v3.52h-3.50zM217.50 32.50h3.50v3.52h-3.50zM361.00 32.50h3.50v3.52h-3.50zM224.50 36.00h3.50v3.52h-3.50zM284.00 36.00h3.50v3.52h-3.50zM326.00 36.00h7.00v3.52h-7.00zM354.00 36.00h3.50v3.52h-3.50zM109.00 39.50h3.50v3.52h-3.50zM147.50 39.50h3.50v3.52h-3.50zM161.50 39.50h3.50v3.52h-3.50zM263.00 39.50h3.50v3.52h-3.50zM112.50 43.00h3.50v3.52h-3.50zM165.00 43.00h3.50v3.52h-3.50zM210.50 43.00h3.50v3.52h-3.50zM305.00 43.00h3.50v3.52h-3.50zM333.00 43.00h3.50v3.52h-3.50zM347.00 43.00h3.50v3.52h-3.50zM179.00 46.50h3.50v3.52h-3.50zM256.00 46.50h3.50v3.52h-3.50zM301.50 46.50h3.50v3.52h-3.50zM308.50 46.50h3.50v3.52h-3.50zM340.00 46.50h7.00v3.52h-7.00zM133.50 50.00h3.50v3.52h-3.50zM144.00 50.00h3.50v3.52h-3.50zM235.00 50.00h3.50v3.52h-3.50zM249.00 50.00h3.50v3.52h-3.50zM91.50 53.50h3.50v3.52h-3.50zM116.00 53.50h3.50v3.52h-3.50zM231.50 53.50h7.00v3.52h-7.00zM242.00 53.50h7.00v3.52h-7.00zM308.50 53.50h3.50v3.52h-3.50zM151.00 57.00h3.50v3.52h-3.50zM294.50 57.00h3.50v3.52h-3.50zM347.00 57.00h3.50v3.52h-3.50zM354.00 57.00h3.50v3.52h-3.50zM175.50 60.50h3.50v3.52h-3.50zM224.50 60.50h7.00v3.52h-7.00zM98.50 64.00h3.50v3.52h-3.50zM140.50 64.00h3.50v3.52h-3.50zM147.50 64.00h3.50v3.52h-3.50zM203.50 64.00h3.50v3.52h-3.50zM249.00 64.00h3.50v3.52h-3.50zM256.00 64.00h3.50v3.52h-3.50zM270.00 64.00h3.50v3.52h-3.50zM305.00 64.00h3.50v3.52h-3.50zM361.00 64.00h3.50v3.52h-3.50zM151.00 67.50h3.50v3.52h-3.50zM242.00 67.50h3.50v3.52h-3.50zM270.00 67.50h3.50v3.52h-3.50zM91.50 71.00h3.50v3.52h-3.50zM252.50 71.00h3.50v3.52h-3.50zM333.00 71.00h3.50v3.52h-3.50zM350.50 71.00h3.50v3.52h-3.50zM95.00 74.50h3.50v3.52h-3.50zM245.50 74.50h3.50v3.52h-3.50zM326.00 74.50h3.50v3.52h-3.50zM336.50 74.50h3.50v3.52h-3.50zM95.00 78.00h3.50v3.52h-3.50zM189.50 78.00h3.50v3.52h-3.50zM291.00 78.00h3.50v3.52h-3.50zM315.50 78.00h3.50v3.52h-3.50zM336.50 78.00h3.50v3.52h-3.50zM130.00 81.50h3.50v3.52h-3.50zM144.00 81.50h3.50v3.52h-3.50zM182.50 81.50h3.50v3.52h-3.50zM263.00 81.50h3.50v3.52h-3.50zM312.00 81.50h3.50v3.52h-3.50zM98.50 85.00h3.50v3.52h-3.50zM151.00 85.00h7.00v3.52h-7.00zM165.00 85.00h3.50v3.52h-3.50zM189.50 85.00h3.50v3.52h-3.50zM270.00 85.00h3.50v3.52h-3.50zM298.00 85.00h7.00v3.52h-7.00zM165.00 88.50h3.50v3.52h-3.50zM203.50 88.50h3.50v3.52h-3.50zM235.00 88.50h7.00v3.52h-7.00zM291.00 88.50h3.50v3.52h-3.50zM343.50 88.50h3.50v3.52h-3.50zM137.00 92.00h3.50v3.52h-3.50zM179.00 92.00h3.50v3.52h-3.50zM196.50 92.00h3.50v3.52h-3.50zM315.50 92.00h3.50v3.52h-3.50zM133.50 95.50h3.50v3.52h-3.50zM203.50 95.50h3.50v3.52h-3.50zM280.50 95.50h3.50v3.52h-3.50zM308.50 95.50h3.50v3.52h-3.50zM98.50 99.00h3.50v3.52h-3.50zM130.00 99.00h3.50v3.52h-3.50zM228.00 99.00h3.50v3.52h-3.50zM263.00 99.00h3.50v3.52h-3.50zM301.50 99.00h3.50v3.52h-3.50zM361.00 99.00h3.50v3.52h-3.50zM102.00 102.50h3.50v3.52h-3.50zM112.50 102.50h3.50v3.52h-3.50zM119.50 102.50h3.50v3.52h-3.50zM168.50 102.50h3.50v3.52h-3.50zM179.00 102.50h3.50v3.52h-3.50zM231.50 102.50h3.50v3.52h-3.50zM242.00 102.50h3.50v3.52h-3.50zM252.50 102.50h3.50v3.52h-3.50zM368.00 102.50h3.50v3.52h-3.50zM151.00 106.00h3.50v3.52h-3.50zM161.50 106.00h3.50v3.52h-3.50zM186.00 106.00h3.50v3.52h-3.50zM221.00 106.00h3.50v3.52h-3.50zM284.00 106.00h3.50v3.52h-3.50zM140.50 109.50h3.50v3.52h-3.50zM182.50 109.50h3.50v3.52h-3.50zM203.50 109.50h3.50v3.52h-3.50zM214.00 109.50h7.00v3.52h-7.00zM109.00 113.00h3.50v3.52h-3.50zM130.00 113.00h3.50v3.52h-3.50zM301.50 113.00h7.00v3.52h-7.00zM308.50 116.50h3.50v3.52h-3.50zM361.00 116.50h3.50v3.52h-3.50zM161.50 120.00h3.50v3.52h-3.50zM186.00 120.00h7.00v3.52h-7.00zM200.00 120.00h3.50v3.52h-3.50zM294.50 120.00h3.50v3.52h-3.50zM350.50 120.00h3.50v3.52h-3.50zM91.50 123.50h7.00v3.52h-7.00zM112.50 123.50h3.50v3.52h-3.50zM119.50 123.50h3.50v3.52h-3.50zM217.50 123.50h3.50v3.52h-3.50zM287.50 123.50h3.50v3.52h-3.50zM329.50 123.50h3.50v3.52h-3.50zM340.00 123.50h3.50v3.52h-3.50zM98.50 127.00h3.50v3.52h-3.50zM161.50 127.00h3.50v3.52h-3.50zM231.50 127.00h3.50v3.52h-3.50zM249.00 127.00h3.50v3.52h-3.50zM308.50 127.00h3.50v3.52h-3.50zM336.50 127.00h3.50v3.52h-3.50zM102.00 130.50h3.50v3.52h-3.50zM151.00 130.50h3.50v3.52h-3.50zM322.50 130.50h3.50v3.52h-3.50zM329.50 130.50h3.50v3.52h-3.50zM347.00 130.50h3.50v3.52h-3.50zM109.00 134.00h3.50v3.52h-3.50zM144.00 134.00h3.50v3.52h-3.50zM151.00 134.00h3.50v3.52h-3.50zM168.50 134.00h3.50v3.52h-3.50zM207.00 134.00h3.50v3.52h-3.50zM256.00 134.00h3.50v3.52h-3.50zM116.00 137.50h3.50v3.52h-3.50zM140.50 137.50h3.50v3.52h-3.50zM154.50 137.50h3.50v3.52h-3.50zM221.00 137.50h3.50v3.52h-3.50zM312.00 137.50h3.50v3.52h-3.50zM329.50 137.50h7.00v3.52h-7.00zM119.50 141.00h3.50v3.52h-3.50zM200.00 141.00h3.50v3.52h-3.50zM273.50 141.00h3.50v3.52h-3.50zM147.50 144.50h3.50v3.52h-3.50zM189.50 144.50h3.50v3.52h-3.50zM196.50 144.50h3.50v3.52h-3.50zM207.00 144.50h3.50v3.52h-3.50zM368.00 144.50h3.50v3.52h-3.50zM175.50 148.00h3.50v3.52h-3.50zM196.50 148.00h3.50v3.52h-3.50zM210.50 148.00h3.50v3.52h-3.50zM235.00 148.00h3.50v3.52h-3.50zM270.00 148.00h3.50v3.52h-3.50zM175.50 151.50h3.50v3.52h-3.50zM210.50 151.50h3.50v3.52h-3.50zM291.00 151.50h3.50v3.52h-3.50zM312.00 151.50h3.50v3.52h-3.50zM333.00 151.50h3.50v3.52h-3.50zM91.50 155.00h3.50v3.52h-3.50zM116.00 155.00h3.50v3.52h-3.50zM224.50 155.00h3.50v3.52h-3.50zM291.00 155.00h3.50v3.52h-3.50zM126.50 158.50h3.50v3.52h-3.50zM137.00 158.50h7.00v3.52h-7.00zM161.50 158.50h3.50v3.52h-3.50zM210.50 158.50h3.50v3.52h-3.50zM319.00 158.50h3.50v3.52h-3.50zM329.50 158.50h3.50v3.52h-3.50zM98.50 162.00h3.50v3.52h-3.50zM116.00 162.00h3.50v3.52h-3.50zM203.50 162.00h3.50v3.52h-3.50zM224.50 162.00h3.50v3.52h-3.50zM256.00 162.00h3.50v3.52h-3.50zM298.00 162.00h3.50v3.52h-3.50zM312.00 162.00h3.50v3.52h-3.50zM319.00 162.00h3.50v3.52h-3.50zM175.50 165.50h3.50v3.52h-3.50zM182.50 165.50h3.50v3.52h-3.50zM301.50 165.50h3.50v3.52h-3.50zM158.00 169.00h3.50v3.52h-3.50zM165.00 169.00h3.50v3.52h-3.50zM249.00 169.00h3.50v3.52h-3.50zM133.50 172.50h3.50v3.52h-3.50zM151.00 172.50h3.50v3.52h-3.50zM158.00 172.50h3.50v3.52h-3.50zM284.00 172.50h3.50v3.52h-3.50zM298.00 172.50h3.50v3.52h-3.50zM312.00 172.50h3.50v3.52h-3.50zM291.00 176.00h3.50v3.52h-3.50zM193.00 179.50h3.50v3.52h-3.50zM333.00 179.50h3.50v3.52h-3.50zM200.00 183.00h3.50v3.52h-3.50zM210.50 183.00h3.50v3.52h-3.50zM119.50 186.50h3.50v3.52h-3.50zM154.50 186.50h3.50v3.52h-3.50zM193.00 186.50h3.50v3.52h-3.50zM312.00 186.50h3.50v3.52h-3.50zM361.00 186.50h3.50v3.52h-3.50zM165.00 190.00h3.50v3.52h-3.50zM270.00 190.00h3.50v3.52h-3.50zM361.00 190.00h3.50v3.52h-3.50zM189.50 193.50h3.50v3.52h-3.50zM224.50 193.50h3.50v3.52h-3.50zM308.50 193.50h3.50v3.52h-3.50zM364.50 193.50h3.50v3.52h-3.50zM186.00 197.00h3.50v3.52h-3.50zM231.50 197.00h3.50v3.52h-3.50zM245.50 197.00h3.50v3.52h-3.50zM256.00 197.00h3.50v3.52h-3.50zM298.00 197.00h3.50v3.52h-3.50zM98.50 200.50h3.50v3.52h-3.50zM179.00 200.50h3.50v3.52h-3.50zM242.00 200.50h3.50v3.52h-3.50zM266.50 200.50h3.50v3.52h-3.50zM277.00 200.50h3.50v3.52h-3.50zM151.00 204.00h3.50v3.52h-3.50zM172.00 204.00h3.50v3.52h-3.50zM186.00 204.00h7.00v3.52h-7.00zM231.50 204.00h3.50v3.52h-3.50zM259.50 204.00h3.50v3.52h-3.50zM298.00 204.00h3.50v3.52h-3.50zM305.00 204.00h3.50v3.52h-3.50zM336.50 204.00h3.50v3.52h-3.50zM102.00 207.50h3.50v3.52h-3.50zM165.00 207.50h3.50v3.52h-3.50zM242.00 207.50h3.50v3.52h-3.50zM343.50 207.50h3.50v3.52h-3.50zM224.50 211.00h3.50v3.52h-3.50zM343.50 211.00h3.50v3.52h-3.50zM105.50 214.50h7.00v3.52h-7.00zM203.50 214.50h3.50v3.52h-3.50zM259.50 214.50h3.50v3.52h-3.50zM298.00 214.50h7.00v3.52h-7.00zM347.00 214.50h3.50v3.52h-3.50zM305.00 218.00h3.50v3.52h-3.50zM214.00 221.50h3.50v3.52h-3.50zM294.50 221.50h3.50v3.52h-3.50zM119.50 225.00h3.50v3.52h-3.50zM175.50 225.00h3.50v3.52h-3.50zM259.50 225.00h3.50v3.52h-3.50zM315.50 225.00h3.50v3.52h-3.50zM147.50 228.50h3.50v3.52h-3.50zM186.00 228.50h3.50v3.52h-3.50zM214.00 228.50h3.50v3.52h-3.50zM270.00 228.50h3.50v3.52h-3.50zM329.50 228.50h3.50v3.52h-3.50zM126.50 232.00h3.50v3.52h-3.50zM210.50 232.00h3.50v3.52h-3.50zM217.50 232.00h3.50v3.52h-3.50zM294.50 232.00h3.50v3.52h-3.50zM109.00 235.50h3.50v3.52h-3.50zM196.50 235.50h3.50v3.52h-3.50zM238.50 235.50h14.00v3.52h-14.00zM298.00 235.50h3.50v3.52h-3.50zM340.00 235.50h3.50v3.52h-3.50zM364.50 235.50h3.50v3.52h-3.50zM161.50 239.00h7.00v3.52h-7.00zM256.00 239.00h7.00v3.52h-7.00zM266.50 239.00h3.50v3.52h-3.50zM329.50 239.00h3.50v3.52h-3.50zM357.50 239.00h3.50v3.52h-3.50zM266.50 242.50h3.50v3.52h-3.50zM326.00 242.50h3.50v3.52h-3.50zM333.00 242.50h3.50v3.52h-3.50zM287.50 246.00h3.50v3.52h-3.50zM228.00 249.50h3.50v3.52h-3.50zM252.50 249.50h7.00v3.52h-7.00zM277.00 249.50h3.50v3.52h-3.50zM322.50 249.50h3.50v3.52h-3.50zM102.00 253.00h3.50v3.52h-3.50zM116.00 253.00h3.50v3.52h-3.50zM119.50 256.50h3.50v3.52h-3.50zM231.50 256.50h7.00v3.52h-7.00zM284.00 256.50h3.50v3.52h-3.50zM312.00 256.50h3.50v3.52h-3.50zM354.00 256.50h3.50v3.52h-3.50zM361.00 256.50h3.50v3.52h-3.50zM165.00 260.00h3.50v3.52h-3.50zM322.50 260.00h3.50v3.52h-3.50zM196.50 263.50h3.50v3.52h-3.50zM249.00 263.50h3.50v3.52h-3.50zM263.00 263.50h3.50v3.52h-3.50zM315.50 263.50h3.50v3.52h-3.50zM354.00 263.50h3.50v3.52h-3.50zM368.00 263.50h3.50v3.52h-3.50zM217.50 267.00h3.50v3.52h-3.50zM291.00 267.00h3.50v3.52h-3.50zM154.50 270.50h3.50v3.52h-3.50zM175.50 270.50h3.50v3.52h-3.50zM277.00 270.50h3.50v3.52h-3.50zM294.50 270.50h3.50v3.52h-3.50zM301.50 270.50h3.50v3.52h-3.50zM340.00 270.50h3.50v3.52h-3.50zM347.00 270.50h7.00v3.52h-7.00zM105.50 274.00h3.50v3.52h-3.50zM137.00 274.00h7.00v3.52h-7.00zM179.00 274.00h3.50v3.52h-3.50zM200.00 274.00h3.50v3.52h-3.50zM294.50 274.00h3.50v3.52h-3.50zM322.50 274.00h3.50v3.52h-3.50zM343.50 274.00h3.50v3.52h-3.50zM354.00 274.00h3.50v3.52h-3.50zM140.50 277.50h3.50v3.52h-3.50zM165.00 277.50h3.50v3.52h-3.50zM312.00 277.50h7.00v3.52h-7.00zM140.50 281.00h3.50v3.52h-3.50zM270.00 281.00h3.50v3.52h-3.50zM326.00 281.00h3.50v3.52h-3.50zM350.50 281.00h3.50v3.52h-3.50zM112.50 284.50h3.50v3.52h-3.50zM119.50 284.50h3.50v3.52h-3.50zM249.00 284.50h3.50v3.52h-3.50zM256.00 284.50h3.50v3.52h-3.50zM294.50 284.50h3.50v3.52h-3.50zM312.00 284.50h3.50v3.52h-3.50zM333.00 284.50h3.50v3.52h-3.50zM361.00 284.50h3.50v3.52h-3.50zM133.50 288.00h3.50v3.52h-3.50zM147.50 288.00h3.50v3.52h-3.50zM277.00 288.00h3.50v3.52h-3.50zM329.50 288.00h7.00v3.52h-7.00zM102.00 291.50h3.50v3.52h-3.50zM133.50 291.50h3.50v3.52h-3.50zM189.50 291.50h3.50v3.52h-3.50zM238.50 291.50h3.50v3.52h-3.50zM298.00 291.50h3.50v3.52h-3.50zM326.00 291.50h3.50v3.52h-3.50zM140.50 295.00h3.50v3.52h-3.50zM158.00 295.00h3.50v3.52h-3.50zM189.50 295.00h3.50v3.52h-3.50zM235.00 295.00h3.50v3.52h-3.50zM270.00 295.00h3.50v3.52h-3.50zM294.50 295.00h7.00v3.52h-7.00zM326.00 295.00h3.50v3.52h-3.50zM336.50 295.00h3.50v3.52h-3.50zM364.50 295.00h3.50v3.52h-3.50zM217.50 298.50h3.50v3.52h-3.50zM228.00 298.50h3.50v3.52h-3.50zM305.00 298.50h7.00v3.52h-7.00zM137.00 302.00h3.50v3.52h-3.50zM172.00 302.00h3.50v3.52h-3.50zM179.00 302.00h3.50v3.52h-3.50zM263.00 302.00h3.50v3.52h-3.50zM179.00 305.50h3.50v3.52h-3.50zM102.00 309.00h3.50v3.52h-3.50zM221.00 309.00h3.50v3.52h-3.50zM249.00 309.00h3.50v3.52h-3.50zM298.00 309.00h3.50v3.52h-3.50z"/>
<path fill="#3f3f3f" d="M266.50 32.50h3.50v3.52h-3.50zM368.00 32.50h3.50v3.52h-3.50zM91.50 36.00h3.50v3.52h-3.50zM207.00 36.00h3.50v3.52h-3.50zM294.50 36.00h3.50v3.52h-3.50zM305.00 36.00h3.50v3.52h-3.50zM116.00 39.50h3.50v3.52h-3.50zM175.50 39.50h3.50v3.52h-3.50zM189.50 39.50h3.50v3.52h-3.50zM245.50 39.50h3.50v3.52h-3.50zM298.00 39.50h7.00v3.52h-7.00zM340.00 39.50h3.50v3.52h-3.50zM144.00 43.00h3.50v3.52h-3.50zM235.00 43.00h3.50v3.52h-3.50zM266.50 43.00h3.50v3.52h-3.50zM350.50 43.00h3.50v3.52h-3.50zM95.00 46.50h3.50v3.52h-3.50zM112.50 46.50h3.50v3.52h-3.50zM158.00 46.50h3.50v3.52h-3.50zM319.00 46.50h3.50v3.52h-3.50zM336.50 46.50h3.50v3.52h-3.50zM116.00 50.00h3.50v3.52h-3.50zM151.00 50.00h3.50v3.52h-3.50zM210.50 50.00h3.50v3.52h-3.50zM242.00 50.00h7.00v3.52h-7.00zM151.00 53.50h3.50v3.52h-3.50zM186.00 53.50h3.50v3.52h-3.50zM347.00 53.50h3.50v3.52h-3.50zM137.00 57.00h3.50v3.52h-3.50zM179.00 57.00h3.50v3.52h-3.50zM235.00 57.00h3.50v3.52h-3.50zM259.50 57.00h3.50v3.52h-3.50zM298.00 57.00h3.50v3.52h-3.50zM329.50 57.00h3.50v3.52h-3.50zM105.50 60.50h3.50v3.52h-3.50zM186.00 60.50h3.50v3.52h-3.50zM102.00 64.00h3.50v3.52h-3.50zM193.00 64.00h3.50v3.52h-3.50zM228.00 64.00h3.50v3.52h-3.50zM287.50 64.00h3.50v3.52h-3.50zM105.50 67.50h3.50v3.52h-3.50zM130.00 67.50h3.50v3.52h-3.50zM137.00 67.50h3.50v3.52h-3.50zM277.00 67.50h7.00v3.52h-7.00zM343.50 67.50h3.50v3.52h-3.50zM350.50 67.50h3.50v3.52h-3.50zM368.00 67.50h3.50v3.52h-3.50zM123.00 71.00h3.50v3.52h-3.50zM172.00 71.00h3.50v3.52h-3.50zM235.00 71.00h3.50v3.52h-3.50zM326.00 71.00h3.50v3.52h-3.50zM259.50 74.50h3.50v3.52h-3.50zM368.00 74.50h3.50v3.52h-3.50zM98.50 78.00h3.50v3.52h-3.50zM179.00 78.00h3.50v3.52h-3.50zM203.50 78.00h3.50v3.52h-3.50zM224.50 78.00h3.50v3.52h-3.50zM287.50 78.00h3.50v3.52h-3.50zM161.50 81.50h7.00v3.52h-7.00zM214.00 81.50h3.50v3.52h-3.50zM245.50 81.50h3.50v3.52h-3.50zM273.50 81.50h3.50v3.52h-3.50zM305.00 81.50h3.50v3.52h-3.50zM315.50 81.50h3.50v3.52h-3.50zM322.50 81.50h3.50v3.52h-3.50zM158.00 85.00h7.00v3.52h-7.00zM217.50 85.00h7.00v3.52h-7.00zM259.50 85.00h3.50v3.52h-3.50zM354.00 85.00h3.50v3.52h-3.50zM105.50 88.50h3.50v3.52h-3.50zM242.00 88.50h3.50v3.52h-3.50zM266.50 88.50h3.50v3.52h-3.50zM347.00 88.50h3.50v3.52h-3.50zM133.50 92.00h3.50v3.52h-3.50zM140.50 92.00h3.50v3.52h-3.50zM154.50 92.00h3.50v3.52h-3.50zM161.50 92.00h3.50v3.52h-3.50zM175.50 92.00h3.50v3.52h-3.50zM189.50 92.00h3.50v3.52h-3.50zM287.50 92.00h3.50v3.52h-3.50zM105.50 95.50h3.50v3.52h-3.50zM140.50 95.50h3.50v3.52h-3.50zM172.00 95.50h3.50v3.52h-3.50zM245.50 95.50h3.50v3.52h-3.50zM277.00 95.50h3.50v3.52h-3.50zM287.50 95.50h3.50v3.52h-3.50zM340.00 95.50h3.50v3.52h-3.50zM165.00 99.00h3.50v3.52h-3.50zM172.00 99.00h3.50v3.52h-3.50zM221.00 99.00h3.50v3.52h-3.50zM273.50 99.00h3.50v3.52h-3.50zM333.00 99.00h3.50v3.52h-3.50zM354.00 99.00h3.50v3.52h-3.50zM364.50 99.00h3.50v3.52h-3.50zM210.50 102.50h3.50v3.52h-3.50zM298.00 102.50h14.00v3.52h-14.00zM333.00 102.50h3.50v3.52h-3.50zM350.50 102.50h3.50v3.52h-3.50zM112.50 106.00h3.50v3.52h-3.50zM130.00 106.00h3.50v3.52h-3.50zM154.50 106.00h3.50v3.52h-3.50zM235.00 106.00h3.50v3.52h-3.50zM259.50 106.00h3.50v3.52h-3.50zM368.00 106.00h3.50v3.52h-3.50zM95.00 109.50h3.50v3.52h-3.50zM130.00 109.50h3.50v3.52h-3.50zM137.00 109.50h3.50v3.52h-3.50zM158.00 109.50h3.50v3.52h-3.50zM238.50 109.50h3.50v3.52h-3.50zM137.00 113.00h3.50v3.52h-3.50zM151.00 113.00h3.50v3.52h-3.50zM315.50 113.00h3.50v3.52h-3.50zM133.50 116.50h3.50v3.52h-3.50zM207.00 116.50h3.50v3.52h-3.50zM245.50 116.50h3.50v3.52h-3.50zM291.00 116.50h3.50v3.52h-3.50zM305.00 116.50h3.50v3.52h-3.50zM193.00 120.00h3.50v3.52h-3.50zM210.50 120.00h3.50v3.52h-3.50zM357.50 120.00h3.50v3.52h-3.50zM102.00 123.50h3.50v3.52h-3.50zM193.00 123.50h3.50v3.52h-3.50zM242.00 123.50h3.50v3.52h-3.50zM336.50 123.50h3.50v3.52h-3.50zM361.00 123.50h3.50v3.52h-3.50zM116.00 127.00h3.50v3.52h-3.50zM109.00 130.50h3.50v3.52h-3.50zM189.50 130.50h7.00v3.52h-7.00zM224.50 130.50h3.50v3.52h-3.50zM294.50 130.50h3.50v3.52h-3.50zM305.00 130.50h3.50v3.52h-3.50zM333.00 130.50h3.50v3.52h-3.50zM137.00 134.00h3.50v3.52h-3.50zM158.00 134.00h3.50v3.52h-3.50zM200.00 134.00h3.50v3.52h-3.50zM217.50 134.00h3.50v3.52h-3.50zM273.50 134.00h3.50v3.52h-3.50zM336.50 134.00h3.50v3.52h-3.50zM357.50 134.00h3.50v3.52h-3.50zM242.00 137.50h3.50v3.52h-3.50zM249.00 137.50h3.50v3.52h-3.50zM259.50 137.50h3.50v3.52h-3.50zM277.00 137.50h3.50v3.52h-3.50zM326.00 137.50h3.50v3.52h-3.50zM340.00 137.50h3.50v3.52h-3.50zM361.00 137.50h3.50v3.52h-3.50zM98.50 141.00h3.50v3.52h-3.50zM312.00 141.00h3.50v3.52h-3.50zM329.50 141.00h3.50v3.52h-3.50zM350.50 141.00h3.50v3.52h-3.50zM119.50 144.50h3.50v3.52h-3.50zM126.50 144.50h3.50v3.52h-3.50zM238.50 144.50h3.50v3.52h-3.50zM252.50 144.50h3.50v3.52h-3.50zM322.50 144.50h3.50v3.52h-3.50zM364.50 148.00h7.00v3.52h-7.00zM91.50 151.50h3.50v3.52h-3.50zM144.00 151.50h3.50v3.52h-3.50zM207.00 151.50h3.50v3.52h-3.50zM256.00 151.50h3.50v3.52h-3.50zM277.00 151.50h3.50v3.52h-3.50zM298.00 151.50h3.50v3.52h-3.50zM102.00 155.00h3.50v3.52h-3.50zM133.50 155.00h3.50v3.52h-3.50zM151.00 155.00h3.50v3.52h-3.50zM168.50 155.00h3.50v3.52h-3.50zM210.50 155.00h3.50v3.52h-3.50zM245.50 155.00h3.50v3.52h-3.50zM284.00 158.50h3.50v3.52h-3.50zM361.00 158.50h3.50v3.52h-3.50zM172.00 162.00h3.50v3.52h-3.50zM186.00 162.00h3.50v3.52h-3.50zM207.00 162.00h3.50v3.52h-3.50zM291.00 162.00h3.50v3.52h-3.50zM249.00 165.50h3.50v3.52h-3.50zM333.00 165.50h3.50v3.52h-3.50zM354.00 165.50h3.50v3.52h-3.50zM98.50 169.00h3.50v3.52h-3.50zM277.00 169.00h3.50v3.52h-3.50zM329.50 169.00h3.50v3.52h-3.50zM186.00 172.50h3.50v3.52h-3.50zM196.50 172.50h3.50v3.52h-3.50zM305.00 172.50h3.50v3.52h-3.50zM319.00 172.50h3.50v3.52h-3.50zM343.50 172.50h3.50v3.52h-3.50zM249.00 176.00h3.50v3.52h-3.50zM287.50 176.00h3.50v3.52h-3.50zM357.50 176.00h3.50v3.52h-3.50zM109.00 179.50h3.50v3.52h-3.50zM151.00 179.50h3.50v3.52h-3.50zM277.00 179.50h3.50v3.52h-3.50zM287.50 179.50h3.50v3.52h-3.50zM357.50 179.50h3.50v3.52h-3.50zM368.00 179.50h3.50v3.52h-3.50zM144.00 183.00h3.50v3.52h-3.50zM161.50 183.00h3.50v3.52h-3.50zM172.00 183.00h3.50v3.52h-3.50zM221.00 183.00h3.50v3.52h-3.50zM350.50 183.00h3.50v3.52h-3.50zM123.00 186.50h3.50v3.52h-3.50zM287.50 186.50h3.50v3.52h-3.50zM228.00 190.00h3.50v3.52h-3.50zM263.00 190.00h3.50v3.52h-3.50zM305.00 190.00h3.50v3.52h-3.50zM133.50 193.50h3.50v3.52h-3.50zM147.50 193.50h3.50v3.52h-3.50zM238.50 193.50h3.50v3.52h-3.50zM256.00 193.50h3.50v3.52h-3.50zM277.00 193.50h3.50v3.52h-3.50zM305.00 193.50h3.50v3.52h-3.50zM315.50 193.50h3.50v3.52h-3.50zM333.00 193.50h3.50v3.52h-3.50zM102.00 197.00h3.50v3.52h-3.50zM168.50 197.00h3.50v3.52h-3.50zM196.50 197.00h3.50v3.52h-3.50zM294.50 197.00h3.50v3.52h-3.50zM312.00 197.00h3.50v3.52h-3.50zM123.00 200.50h3.50v3.52h-3.50zM200.00 200.50h3.50v3.52h-3.50zM231.50 200.50h3.50v3.52h-3.50zM259.50 200.50h3.50v3.52h-3.50zM298.00 200.50h3.50v3.52h-3.50zM347.00 200.50h3.50v3.52h-3.50zM91.50 204.00h7.00v3.52h-7.00zM123.00 204.00h3.50v3.52h-3.50zM140.50 204.00h3.50v3.52h-3.50zM182.50 204.00h3.50v3.52h-3.50zM329.50 204.00h3.50v3.52h-3.50zM130.00 207.50h3.50v3.52h-3.50zM214.00 207.50h3.50v3.52h-3.50zM263.00 207.50h3.50v3.52h-3.50zM357.50 207.50h3.50v3.52h-3.50zM133.50 211.00h3.50v3.52h-3.50zM200.00 211.00h7.00v3.52h-7.00zM322.50 211.00h3.50v3.52h-3.50zM350.50 211.00h3.50v3.52h-3.50zM179.00 214.50h3.50v3.52h-3.50zM210.50 214.50h3.50v3.52h-3.50zM231.50 214.50h3.50v3.52h-3.50zM179.00 218.00h3.50v3.52h-3.50zM270.00 218.00h3.50v3.52h-3.50zM133.50 221.50h3.50v3.52h-3.50zM158.00 221.50h3.50v3.52h-3.50zM165.00 221.50h3.50v3.52h-3.50zM186.00 221.50h3.50v3.52h-3.50zM193.00 221.50h3.50v3.52h-3.50zM98.50 225.00h3.50v3.52h-3.50zM109.00 225.00h3.50v3.52h-3.50zM158.00 225.00h3.50v3.52h-3.50zM203.50 225.00h3.50v3.52h-3.50zM291.00 225.00h7.00v3.52h-7.00zM123.00 228.50h3.50v3.52h-3.50zM200.00 228.50h3.50v3.52h-3.50zM263.00 228.50h3.50v3.52h-3.50zM336.50 228.50h3.50v3.52h-3.50zM158.00 232.00h3.50v3.52h-3.50zM273.50 232.00h3.50v3.52h-3.50zM291.00 232.00h3.50v3.52h-3.50zM137.00 235.50h3.50v3.52h-3.50zM179.00 235.50h3.50v3.52h-3.50zM256.00 235.50h3.50v3.52h-3.50zM333.00 235.50h3.50v3.52h-3.50zM130.00 239.00h3.50v3.52h-3.50zM175.50 239.00h3.50v3.52h-3.50zM193.00 239.00h3.50v3.52h-3.50zM228.00 239.00h3.50v3.52h-3.50zM273.50 239.00h3.50v3.52h-3.50zM333.00 239.00h3.50v3.52h-3.50zM123.00 242.50h3.50v3.52h-3.50zM161.50 242.50h3.50v3.52h-3.50zM287.50 242.50h3.50v3.52h-3.50zM301.50 242.50h3.50v3.52h-3.50zM354.00 242.50h7.00v3.52h-7.00zM368.00 242.50h3.50v3.52h-3.50zM221.00 246.00h7.00v3.52h-7.00zM259.50 246.00h3.50v3.52h-3.50zM298.00 246.00h3.50v3.52h-3.50zM361.00 246.00h3.50v3.52h-3.50zM305.00 249.50h3.50v3.52h-3.50zM249.00 253.00h3.50v3.52h-3.50zM301.50 253.00h3.50v3.52h-3.50zM336.50 253.00h3.50v3.52h-3.50zM343.50 253.00h3.50v3.52h-3.50zM123.00 256.50h3.50v3.52h-3.50zM144.00 256.50h3.50v3.52h-3.50zM186.00 256.50h3.50v3.52h-3.50zM277.00 256.50h3.50v3.52h-3.50zM287.50 256.50h3.50v3.52h-3.50zM322.50 256.50h3.50v3.52h-3.50zM364.50 256.50h3.50v3.52h-3.50zM91.50 260.00h3.50v3.52h-3.50zM175.50 260.00h3.50v3.52h-3.50zM193.00 260.00h3.50v3.52h-3.50zM231.50 260.00h3.50v3.52h-3.50zM116.00 263.50h3.50v3.52h-3.50zM175.50 263.50h3.50v3.52h-3.50zM200.00 263.50h3.50v3.52h-3.50zM221.00 263.50h3.50v3.52h-3.50zM301.50 263.50h3.50v3.52h-3.50zM308.50 263.50h3.50v3.52h-3.50zM319.00 263.50h3.50v3.52h-3.50zM333.00 263.50h3.50v3.52h-3.50zM112.50 267.00h3.50v3.52h-3.50zM193.00 267.00h3.50v3.52h-3.50zM256.00 267.00h3.50v3.52h-3.50zM364.50 267.00h3.50v3.52h-3.50zM91.50 270.50h3.50v3.52h-3.50zM147.50 270.50h3.50v3.52h-3.50zM207.00 270.50h7.00v3.52h-7.00zM217.50 270.50h3.50v3.52h-3.50zM280.50 270.50h3.50v3.52h-3.50zM95.00 274.00h3.50v3.52h-3.50zM175.50 274.00h3.50v3.52h-3.50zM214.00 274.00h7.00v3.52h-7.00zM357.50 274.00h3.50v3.52h-3.50zM221.00 277.50h3.50v3.52h-3.50zM336.50 277.50h3.50v3.52h-3.50zM116.00 281.00h3.50v3.52h-3.50zM168.50 281.00h3.50v3.52h-3.50zM214.00 281.00h3.50v3.52h-3.50zM109.00 284.50h3.50v3.52h-3.50zM193.00 284.50h3.50v3.52h-3.50zM238.50 284.50h3.50v3.52h-3.50zM109.00 288.00h3.50v3.52h-3.50zM165.00 288.00h3.50v3.52h-3.50zM256.00 288.00h3.50v3.52h-3.50zM266.50 288.00h3.50v3.52h-3.50zM319.00 288.00h3.50v3.52h-3.50zM326.00 288.00h3.50v3.52h-3.50zM340.00 288.00h3.50v3.52h-3.50zM126.50 291.50h7.00v3.52h-7.00zM161.50 291.50h3.50v3.52h-3.50zM266.50 291.50h3.50v3.52h-3.50zM336.50 291.50h3.50v3.52h-3.50zM137.00 295.00h3.50v3.52h-3.50zM168.50 295.00h3.50v3.52h-3.50zM291.00 295.00h3.50v3.52h-3.50zM315.50 295.00h3.50v3.52h-3.50zM91.50 298.50h3.50v3.52h-3.50zM109.00 298.50h3.50v3.52h-3.50zM207.00 298.50h3.50v3.52h-3.50zM280.50 298.50h7.00v3.52h-7.00zM116.00 302.00h3.50v3.52h-3.50zM168.50 302.00h3.50v3.52h-3.50zM175.50 302.00h3.50v3.52h-3.50zM98.50 305.50h3.50v3.52h-3.50zM217.50 305.50h3.50v3.52h-3.50zM175.50 309.00h3.50v3.52h-3.50zM186.00 309.00h3.50v3.52h-3.50zM305.00 309.00h3.50v3.52h-3.50z"/>
<path fill="#424242" d="M123.00 32.50h7.00v3.52h-7.00zM207.00 32.50h7.00v3.52h-7.00zM322.50 32.50h3.50v3.52h-3.50zM336.50 32.50h3.50v3.52h-3.50zM350.50 32.50h3.50v3.52h-3.50zM126.50 36.00h3.50v3.52h-3.50zM144.00 36.00h3.50v3.52h-3.50zM161.50 36.00h3.50v3.52h-3.50zM203.50 36.00h3.50v3.52h-3.50zM154.50 39.50h3.50v3.52h-3.50zM203.50 39.50h3.50v3.52h-3.50zM312.00 39.50h3.50v3.52h-3.50zM368.00 39.50h3.50v3.52h-3.50zM147.50 43.00h7.00v3.52h-7.00zM203.50 43.00h3.50v3.52h-3.50zM245.50 43.00h3.50v3.52h-3.50zM270.00 43.00h3.50v3.52h-3.50zM326.00 43.00h3.50v3.52h-3.50zM102.00 46.50h3.50v3.52h-3.50zM207.00 46.50h3.50v3.52h-3.50zM249.00 46.50h3.50v3.52h-3.50zM266.50 46.50h3.50v3.52h-3.50zM287.50 46.50h3.50v3.52h-3.50zM312.00 46.50h3.50v3.52h-3.50zM368.00 46.50h3.50v3.52h-3.50zM137.00 50.00h3.50v3.52h-3.50zM147.50 50.00h3.50v3.52h-3.50zM154.50 50.00h3.50v3.52h-3.50zM172.00 50.00h3.50v3.52h-3.50zM182.50 50.00h3.50v3.52h-3.50zM287.50 50.00h3.50v3.52h-3.50zM329.50 50.00h3.50v3.52h-3.50zM112.50 53.50h3.50v3.52h-3.50zM182.50 53.50h3.50v3.52h-3.50zM203.50 53.50h3.50v3.52h-3.50zM217.50 53.50h3.50v3.52h-3.50zM259.50 53.50h3.50v3.52h-3.50zM329.50 53.50h3.50v3.52h-3.50zM154.50 57.00h3.50v3.52h-3.50zM238.50 57.00h3.50v3.52h-3.50zM305.00 57.00h3.50v3.52h-3.50zM322.50 57.00h3.50v3.52h-3.50zM333.00 57.00h3.50v3.52h-3.50zM214.00 60.50h3.50v3.52h-3.50zM242.00 60.50h3.50v3.52h-3.50zM354.00 60.50h10.50v3.52h-10.50zM109.00 64.00h3.50v3.52h-3.50zM130.00 64.00h3.50v3.52h-3.50zM144.00 64.00h3.50v3.52h-3.50zM165.00 64.00h3.50v3.52h-3.50zM235.00 64.00h3.50v3.52h-3.50zM277.00 64.00h3.50v3.52h-3.50zM193.00 67.50h3.50v3.52h-3.50zM305.00 67.50h3.50v3.52h-3.50zM168.50 71.00h3.50v3.52h-3.50zM231.50 71.00h3.50v3.52h-3.50zM151.00 74.50h3.50v3.52h-3.50zM224.50 74.50h3.50v3.52h-3.50zM249.00 74.50h3.50v3.52h-3.50zM322.50 74.50h3.50v3.52h-3.50zM364.50 74.50h3.50v3.52h-3.50zM186.00 78.00h3.50v3.52h-3.50zM214.00 78.00h3.50v3.52h-3.50zM210.50 81.50h3.50v3.52h-3.50zM242.00 81.50h3.50v3.52h-3.50zM147.50 85.00h3.50v3.52h-3.50zM245.50 85.00h3.50v3.52h-3.50zM147.50 88.50h3.50v3.52h-3.50zM182.50 88.50h3.50v3.52h-3.50zM189.50 88.50h3.50v3.52h-3.50zM256.00 88.50h3.50v3.52h-3.50zM340.00 88.50h3.50v3.52h-3.50zM207.00 92.00h3.50v3.52h-3.50zM326.00 92.00h3.50v3.52h-3.50zM158.00 95.50h3.50v3.52h-3.50zM333.00 95.50h7.00v3.52h-7.00zM95.00 99.00h3.50v3.52h-3.50zM102.00 99.00h3.50v3.52h-3.50zM154.50 99.00h3.50v3.52h-3.50zM161.50 99.00h3.50v3.52h-3.50zM270.00 99.00h3.50v3.52h-3.50zM189.50 102.50h3.50v3.52h-3.50zM203.50 102.50h3.50v3.52h-3.50zM270.00 102.50h3.50v3.52h-3.50zM284.00 102.50h3.50v3.52h-3.50zM123.00 106.00h3.50v3.52h-3.50zM137.00 106.00h3.50v3.52h-3.50zM273.50 106.00h3.50v3.52h-3.50zM298.00 106.00h3.50v3.52h-3.50zM91.50 109.50h3.50v3.52h-3.50zM294.50 109.50h3.50v3.52h-3.50zM140.50 113.00h3.50v3.52h-3.50zM161.50 113.00h3.50v3.52h-3.50zM175.50 113.00h3.50v3.52h-3.50zM210.50 113.00h3.50v3.52h-3.50zM154.50 116.50h3.50v3.52h-3.50zM214.00 116.50h3.50v3.52h-3.50zM119.50 120.00h3.50v3.52h-3.50zM238.50 120.00h3.50v3.52h-3.50zM130.00 123.50h3.50v3.52h-3.50zM137.00 123.50h3.50v3.52h-3.50zM165.00 123.50h3.50v3.52h-3.50zM200.00 123.50h3.50v3.52h-3.50zM238.50 123.50h3.50v3.52h-3.50zM266.50 123.50h3.50v3.52h-3.50zM95.00 127.00h3.50v3.52h-3.50zM130.00 127.00h3.50v3.52h-3.50zM165.00 127.00h3.50v3.52h-3.50zM196.50 127.00h3.50v3.52h-3.50zM147.50 130.50h3.50v3.52h-3.50zM214.00 130.50h3.50v3.52h-3.50zM245.50 130.50h3.50v3.52h-3.50zM263.00 130.50h3.50v3.52h-3.50zM284.00 134.00h3.50v3.52h-3.50zM133.50 137.50h3.50v3.52h-3.50zM203.50 141.00h3.50v3.52h-3.50zM224.50 141.00h3.50v3.52h-3.50zM245.50 141.00h3.50v3.52h-3.50zM347.00 141.00h3.50v3.52h-3.50zM357.50 141.00h3.50v3.52h-3.50zM105.50 144.50h3.50v3.52h-3.50zM144.00 144.50h3.50v3.52h-3.50zM182.50 144.50h3.50v3.52h-3.50zM224.50 144.50h3.50v3.52h-3.50zM109.00 148.00h3.50v3.52h-3.50zM266.50 148.00h3.50v3.52h-3.50zM305.00 148.00h3.50v3.52h-3.50zM354.00 148.00h3.50v3.52h-3.50zM361.00 148.00h3.50v3.52h-3.50zM165.00 151.50h3.50v3.52h-3.50zM322.50 151.50h3.50v3.52h-3.50zM347.00 151.50h3.50v3.52h-3.50zM109.00 155.00h3.50v3.52h-3.50zM137.00 155.00h3.50v3.52h-3.50zM298.00 155.00h3.50v3.52h-3.50zM350.50 155.00h3.50v3.52h-3.50zM130.00 158.50h3.50v3.52h-3.50zM221.00 158.50h3.50v3.52h-3.50zM350.50 158.50h3.50v3.52h-3.50zM182.50 162.00h3.50v3.52h-3.50zM189.50 162.00h3.50v3.52h-3.50zM350.50 162.00h3.50v3.52h-3.50zM357.50 162.00h3.50v3.52h-3.50zM158.00 165.50h3.50v3.52h-3.50zM189.50 165.50h3.50v3.52h-3.50zM238.50 165.50h3.50v3.52h-3.50zM284.00 165.50h3.50v3.52h-3.50zM319.00 165.50h3.50v3.52h-3.50zM364.50 165.50h3.50v3.52h-3.50zM119.50 169.00h3.50v3.52h-3.50zM280.50 169.00h3.50v3.52h-3.50zM340.00 169.00h7.00v3.52h-7.00zM364.50 169.00h3.50v3.52h-3.50zM207.00 172.50h3.50v3.52h-3.50zM224.50 172.50h3.50v3.52h-3.50zM277.00 172.50h3.50v3.52h-3.50zM308.50 172.50h3.50v3.52h-3.50zM368.00 172.50h3.50v3.52h-3.50zM151.00 176.00h3.50v3.52h-3.50zM158.00 176.00h3.50v3.52h-3.50zM196.50 176.00h3.50v3.52h-3.50zM210.50 176.00h3.50v3.52h-3.50zM252.50 176.00h3.50v3.52h-3.50zM301.50 176.00h3.50v3.52h-3.50zM319.00 176.00h3.50v3.52h-3.50zM224.50 179.50h3.50v3.52h-3.50zM245.50 179.50h3.50v3.52h-3.50zM270.00 179.50h3.50v3.52h-3.50zM350.50 179.50h3.50v3.52h-3.50zM119.50 183.00h3.50v3.52h-3.50zM126.50 183.00h3.50v3.52h-3.50zM137.00 183.00h3.50v3.52h-3.50zM207.00 183.00h3.50v3.52h-3.50zM231.50 183.00h3.50v3.52h-3.50zM151.00 186.50h3.50v3.52h-3.50zM322.50 186.50h3.50v3.52h-3.50zM98.50 190.00h3.50v3.52h-3.50zM161.50 190.00h3.50v3.52h-3.50zM249.00 190.00h3.50v3.52h-3.50zM277.00 190.00h3.50v3.52h-3.50zM105.50 193.50h3.50v3.52h-3.50zM161.50 193.50h3.50v3.52h-3.50zM196.50 193.50h3.50v3.52h-3.50zM151.00 197.00h3.50v3.52h-3.50zM221.00 197.00h3.50v3.52h-3.50zM301.50 197.00h3.50v3.52h-3.50zM308.50 197.00h3.50v3.52h-3.50zM144.00 200.50h3.50v3.52h-3.50zM301.50 200.50h3.50v3.52h-3.50zM105.50 204.00h3.50v3.52h-3.50zM133.50 204.00h3.50v3.52h-3.50zM249.00 204.00h3.50v3.52h-3.50zM277.00 204.00h3.50v3.52h-3.50zM95.00 207.50h3.50v3.52h-3.50zM186.00 207.50h3.50v3.52h-3.50zM193.00 207.50h3.50v3.52h-3.50zM200.00 207.50h3.50v3.52h-3.50zM322.50 207.50h3.50v3.52h-3.50zM364.50 207.50h3.50v3.52h-3.50zM151.00 211.00h3.50v3.52h-3.50zM196.50 211.00h3.50v3.52h-3.50zM252.50 211.00h3.50v3.52h-3.50zM277.00 211.00h3.50v3.52h-3.50zM301.50 211.00h3.50v3.52h-3.50zM340.00 211.00h3.50v3.52h-3.50zM347.00 211.00h3.50v3.52h-3.50zM130.00 214.50h3.50v3.52h-3.50zM158.00 218.00h3.50v3.52h-3.50zM214.00 218.00h3.50v3.52h-3.50zM298.00 218.00h3.50v3.52h-3.50zM308.50 218.00h3.50v3.52h-3.50zM172.00 221.50h3.50v3.52h-3.50zM280.50 221.50h3.50v3.52h-3.50zM210.50 225.00h3.50v3.52h-3.50zM228.00 225.00h7.00v3.52h-7.00zM245.50 225.00h3.50v3.52h-3.50zM350.50 225.00h3.50v3.52h-3.50zM119.50 228.50h3.50v3.52h-3.50zM172.00 228.50h3.50v3.52h-3.50zM196.50 228.50h3.50v3.52h-3.50zM245.50 228.50h3.50v3.52h-3.50zM301.50 228.50h3.50v3.52h-3.50zM308.50 228.50h3.50v3.52h-3.50zM193.00 232.00h3.50v3.52h-3.50zM207.00 232.00h3.50v3.52h-3.50zM221.00 232.00h3.50v3.52h-3.50zM245.50 232.00h3.50v3.52h-3.50zM333.00 232.00h3.50v3.52h-3.50zM119.50 235.50h7.00v3.52h-7.00zM161.50 235.50h3.50v3.52h-3.50zM186.00 235.50h3.50v3.52h-3.50zM273.50 235.50h3.50v3.52h-3.50zM305.00 235.50h3.50v3.52h-3.50zM315.50 235.50h3.50v3.52h-3.50zM336.50 235.50h3.50v3.52h-3.50zM123.00 239.00h3.50v3.52h-3.50zM179.00 239.00h3.50v3.52h-3.50zM203.50 239.00h3.50v3.52h-3.50zM102.00 242.50h3.50v3.52h-3.50zM221.00 242.50h3.50v3.52h-3.50zM361.00 242.50h3.50v3.52h-3.50zM95.00 246.00h3.50v3.52h-3.50zM112.50 246.00h3.50v3.52h-3.50zM158.00 246.00h3.50v3.52h-3.50zM168.50 246.00h3.50v3.52h-3.50zM245.50 246.00h3.50v3.52h-3.50zM266.50 246.00h7.00v3.52h-7.00zM277.00 246.00h3.50v3.52h-3.50zM319.00 246.00h3.50v3.52h-3.50zM95.00 249.50h3.50v3.52h-3.50zM126.50 249.50h3.50v3.52h-3.50zM158.00 249.50h7.00v3.52h-7.00zM361.00 249.50h3.50v3.52h-3.50zM123.00 253.00h3.50v3.52h-3.50zM140.50 253.00h3.50v3.52h-3.50zM182.50 253.00h3.50v3.52h-3.50zM245.50 253.00h3.50v3.52h-3.50zM326.00 253.00h3.50v3.52h-3.50zM357.50 253.00h3.50v3.52h-3.50zM151.00 256.50h3.50v3.52h-3.50zM182.50 256.50h3.50v3.52h-3.50zM242.00 256.50h3.50v3.52h-3.50zM347.00 256.50h3.50v3.52h-3.50zM105.50 260.00h3.50v3.52h-3.50zM210.50 260.00h3.50v3.52h-3.50zM242.00 260.00h3.50v3.52h-3.50zM298.00 260.00h3.50v3.52h-3.50zM340.00 260.00h3.50v3.52h-3.50zM238.50 263.50h3.50v3.52h-3.50zM340.00 263.50h3.50v3.52h-3.50zM133.50 267.00h3.50v3.52h-3.50zM140.50 267.00h3.50v3.52h-3.50zM203.50 267.00h7.00v3.52h-7.00zM252.50 267.00h3.50v3.52h-3.50zM308.50 267.00h3.50v3.52h-3.50zM350.50 267.00h3.50v3.52h-3.50zM333.00 270.50h3.50v3.52h-3.50zM245.50 274.00h3.50v3.52h-3.50zM280.50 274.00h7.00v3.52h-7.00zM102.00 277.50h3.50v3.52h-3.50zM116.00 277.50h7.00v3.52h-7.00zM256.00 277.50h3.50v3.52h-3.50zM273.50 277.50h3.50v3.52h-3.50zM119.50 281.00h7.00v3.52h-7.00zM266.50 281.00h3.50v3.52h-3.50zM273.50 281.00h3.50v3.52h-3.50zM291.00 281.00h3.50v3.52h-3.50zM312.00 281.00h3.50v3.52h-3.50zM333.00 281.00h3.50v3.52h-3.50zM354.00 281.00h3.50v3.52h-3.50zM210.50 284.50h3.50v3.52h-3.50zM263.00 284.50h3.50v3.52h-3.50zM336.50 284.50h3.50v3.52h-3.50zM343.50 284.50h3.50v3.52h-3.50zM350.50 284.50h3.50v3.52h-3.50zM217.50 288.00h3.50v3.52h-3.50zM284.00 288.00h3.50v3.52h-3.50zM347.00 288.00h3.50v3.52h-3.50zM361.00 288.00h3.50v3.52h-3.50zM91.50 291.50h3.50v3.52h-3.50zM252.50 291.50h3.50v3.52h-3.50zM287.50 291.50h3.50v3.52h-3.50zM322.50 291.50h3.50v3.52h-3.50zM357.50 291.50h3.50v3.52h-3.50zM319.00 295.00h7.00v3.52h-7.00zM329.50 295.00h3.50v3.52h-3.50zM112.50 298.50h3.50v3.52h-3.50zM245.50 298.50h3.50v3.52h-3.50zM291.00 298.50h3.50v3.52h-3.50zM249.00 302.00h3.50v3.52h-3.50zM273.50 302.00h3.50v3.52h-3.50zM305.00 302.00h3.50v3.52h-3.50zM333.00 302.00h3.50v3.52h-3.50zM158.00 305.50h3.50v3.52h-3.50zM172.00 305.50h3.50v3.52h-3.50zM221.00 305.50h3.50v3.52h-3.50zM298.00 305.50h3.50v3.52h-3.50zM340.00 305.50h3.50v3.52h-3.50zM126.50 309.00h3.50v3.52h-3.50zM140.50 309.00h3.50v3.52h-3.50zM361.00 309.00h7.00v3.52h-7.00z"/>
<path fill="#454545" d="M105.50 32.50h3.50v3.52h-3.50zM158.00 32.50h3.50v3.52h-3.50zM270.00 32.50h3.50v3.52h-3.50zM284.00 32.50h3.50v3.52h-3.50zM291.00 32.50h3.50v3.52h-3.50zM98.50 36.00h3.50v3.52h-3.50zM175.50 36.00h3.50v3.52h-3.50zM266.50 36.00h3.50v3.52h-3.50zM319.00 36.00h7.00v3.52h-7.00zM336.50 36.00h3.50v3.52h-3.50zM165.00 39.50h3.50v3.52h-3.50zM273.50 39.50h3.50v3.52h-3.50zM329.50 39.50h3.50v3.52h-3.50zM200.00 43.00h3.50v3.52h-3.50zM133.50 46.50h3.50v3.52h-3.50zM140.50 46.50h3.50v3.52h-3.50zM203.50 46.50h3.50v3.52h-3.50zM270.00 46.50h3.50v3.52h-3.50zM126.50 50.00h7.00v3.52h-7.00zM140.50 50.00h3.50v3.52h-3.50zM263.00 50.00h3.50v3.52h-3.50zM319.00 50.00h3.50v3.52h-3.50zM263.00 53.50h3.50v3.52h-3.50zM273.50 53.50h7.00v3.52h-7.00zM256.00 57.00h3.50v3.52h-3.50zM116.00 60.50h3.50v3.52h-3.50zM140.50 60.50h3.50v3.52h-3.50zM168.50 60.50h3.50v3.52h-3.50zM263.00 60.50h3.50v3.52h-3.50zM294.50 60.50h3.50v3.52h-3.50zM329.50 60.50h3.50v3.52h-3.50zM179.00 64.00h3.50v3.52h-3.50zM259.50 64.00h3.50v3.52h-3.50zM91.50 67.50h3.50v3.52h-3.50zM147.50 67.50h3.50v3.52h-3.50zM175.50 67.50h3.50v3.52h-3.50zM284.00 67.50h3.50v3.52h-3.50zM154.50 71.00h3.50v3.52h-3.50zM280.50 71.00h3.50v3.52h-3.50zM301.50 71.00h7.00v3.52h-7.00zM343.50 71.00h3.50v3.52h-3.50zM196.50 74.50h3.50v3.52h-3.50zM242.00 74.50h3.50v3.52h-3.50zM287.50 74.50h3.50v3.52h-3.50zM305.00 74.50h3.50v3.52h-3.50zM109.00 78.00h3.50v3.52h-3.50zM256.00 78.00h3.50v3.52h-3.50zM322.50 78.00h3.50v3.52h-3.50zM343.50 78.00h3.50v3.52h-3.50zM98.50 81.50h3.50v3.52h-3.50zM298.00 81.50h3.50v3.52h-3.50zM333.00 81.50h7.00v3.52h-7.00zM238.50 85.00h7.00v3.52h-7.00zM273.50 85.00h3.50v3.52h-3.50zM312.00 85.00h3.50v3.52h-3.50zM102.00 88.50h3.50v3.52h-3.50zM151.00 88.50h3.50v3.52h-3.50zM158.00 88.50h3.50v3.52h-3.50zM273.50 88.50h3.50v3.52h-3.50zM287.50 88.50h3.50v3.52h-3.50zM326.00 88.50h3.50v3.52h-3.50zM172.00 92.00h3.50v3.52h-3.50zM210.50 92.00h3.50v3.52h-3.50zM224.50 92.00h3.50v3.52h-3.50zM280.50 92.00h3.50v3.52h-3.50zM364.50 92.00h3.50v3.52h-3.50zM242.00 95.50h3.50v3.52h-3.50zM305.00 99.00h3.50v3.52h-3.50zM322.50 99.00h3.50v3.52h-3.50zM361.00 102.50h3.50v3.52h-3.50zM109.00 106.00h3.50v3.52h-3.50zM207.00 106.00h3.50v3.52h-3.50zM329.50 106.00h3.50v3.52h-3.50zM343.50 106.00h3.50v3.52h-3.50zM123.00 109.50h3.50v3.52h-3.50zM175.50 109.50h7.00v3.52h-7.00zM210.50 109.50h3.50v3.52h-3.50zM235.00 109.50h3.50v3.52h-3.50zM95.00 113.00h3.50v3.52h-3.50zM350.50 113.00h3.50v3.52h-3.50zM109.00 116.50h3.50v3.52h-3.50zM140.50 116.50h3.50v3.52h-3.50zM347.00 116.50h3.50v3.52h-3.50zM158.00 120.00h3.50v3.52h-3.50zM249.00 120.00h3.50v3.52h-3.50zM308.50 120.00h3.50v3.52h-3.50zM235.00 123.50h3.50v3.52h-3.50zM102.00 127.00h3.50v3.52h-3.50zM126.50 127.00h3.50v3.52h-3.50zM168.50 127.00h3.50v3.52h-3.50zM186.00 127.00h3.50v3.52h-3.50zM214.00 127.00h3.50v3.52h-3.50zM263.00 127.00h3.50v3.52h-3.50zM98.50 130.50h3.50v3.52h-3.50zM137.00 130.50h3.50v3.52h-3.50zM165.00 130.50h3.50v3.52h-3.50zM207.00 130.50h3.50v3.52h-3.50zM270.00 130.50h7.00v3.52h-7.00zM308.50 130.50h3.50v3.52h-3.50zM105.50 134.00h3.50v3.52h-3.50zM116.00 134.00h3.50v3.52h-3.50zM126.50 134.00h7.00v3.52h-7.00zM147.50 134.00h3.50v3.52h-3.50zM189.50 134.00h3.50v3.52h-3.50zM224.50 134.00h3.50v3.52h-3.50zM102.00 137.50h3.50v3.52h-3.50zM179.00 137.50h3.50v3.52h-3.50zM91.50 141.00h3.50v3.52h-3.50zM137.00 141.00h3.50v3.52h-3.50zM154.50 141.00h3.50v3.52h-3.50zM168.50 141.00h3.50v3.52h-3.50zM291.00 141.00h3.50v3.52h-3.50zM322.50 141.00h7.00v3.52h-7.00zM368.00 141.00h3.50v3.52h-3.50zM154.50 144.50h3.50v3.52h-3.50zM193.00 144.50h3.50v3.52h-3.50zM287.50 148.00h3.50v3.52h-3.50zM259.50 151.50h3.50v3.52h-3.50zM161.50 155.00h3.50v3.52h-3.50zM214.00 155.00h3.50v3.52h-3.50zM249.00 155.00h3.50v3.52h-3.50zM266.50 155.00h3.50v3.52h-3.50zM312.00 155.00h3.50v3.52h-3.50zM228.00 162.00h3.50v3.52h-3.50zM361.00 162.00h3.50v3.52h-3.50zM109.00 165.50h3.50v3.52h-3.50zM116.00 165.50h3.50v3.52h-3.50zM193.00 165.50h3.50v3.52h-3.50zM298.00 165.50h3.50v3.52h-3.50zM315.50 165.50h3.50v3.52h-3.50zM336.50 165.50h3.50v3.52h-3.50zM291.00 169.00h3.50v3.52h-3.50zM259.50 172.50h3.50v3.52h-3.50zM350.50 172.50h3.50v3.52h-3.50zM126.50 176.00h3.50v3.52h-3.50zM224.50 176.00h3.50v3.52h-3.50zM315.50 176.00h3.50v3.52h-3.50zM347.00 176.00h3.50v3.52h-3.50zM98.50 179.50h3.50v3.52h-3.50zM203.50 179.50h3.50v3.52h-3.50zM217.50 179.50h3.50v3.52h-3.50zM252.50 179.50h3.50v3.52h-3.50zM322.50 179.50h7.00v3.52h-7.00zM361.00 179.50h3.50v3.52h-3.50zM354.00 183.00h3.50v3.52h-3.50zM161.50 186.50h3.50v3.52h-3.50zM238.50 186.50h3.50v3.52h-3.50zM343.50 186.50h3.50v3.52h-3.50zM123.00 190.00h3.50v3.52h-3.50zM210.50 190.00h3.50v3.52h-3.50zM357.50 190.00h3.50v3.52h-3.50zM364.50 190.00h3.50v3.52h-3.50zM172.00 193.50h3.50v3.52h-3.50zM186.00 193.50h3.50v3.52h-3.50zM249.00 193.50h3.50v3.52h-3.50zM329.50 193.50h3.50v3.52h-3.50zM130.00 197.00h3.50v3.52h-3.50zM144.00 197.00h7.00v3.52h-7.00zM193.00 197.00h3.50v3.52h-3.50zM217.50 197.00h3.50v3.52h-3.50zM326.00 197.00h3.50v3.52h-3.50zM126.50 200.50h3.50v3.52h-3.50zM221.00 200.50h3.50v3.52h-3.50zM270.00 200.50h3.50v3.52h-3.50zM217.50 204.00h3.50v3.52h-3.50zM312.00 204.00h3.50v3.52h-3.50zM319.00 204.00h3.50v3.52h-3.50zM112.50 207.50h3.50v3.52h-3.50zM210.50 207.50h3.50v3.52h-3.50zM161.50 211.00h3.50v3.52h-3.50zM193.00 214.50h3.50v3.52h-3.50zM200.00 214.50h3.50v3.52h-3.50zM305.00 214.50h3.50v3.52h-3.50zM333.00 214.50h3.50v3.52h-3.50zM340.00 214.50h3.50v3.52h-3.50zM217.50 218.00h3.50v3.52h-3.50zM238.50 218.00h3.50v3.52h-3.50zM329.50 218.00h3.50v3.52h-3.50zM354.00 218.00h3.50v3.52h-3.50zM242.00 221.50h3.50v3.52h-3.50zM347.00 221.50h3.50v3.52h-3.50zM133.50 225.00h3.50v3.52h-3.50zM147.50 225.00h3.50v3.52h-3.50zM284.00 225.00h3.50v3.52h-3.50zM298.00 225.00h3.50v3.52h-3.50zM347.00 225.00h3.50v3.52h-3.50zM109.00 228.50h3.50v3.52h-3.50zM116.00 228.50h3.50v3.52h-3.50zM333.00 228.50h3.50v3.52h-3.50zM340.00 228.50h3.50v3.52h-3.50zM151.00 232.00h7.00v3.52h-7.00zM165.00 235.50h3.50v3.52h-3.50zM277.00 235.50h3.50v3.52h-3.50zM357.50 235.50h3.50v3.52h-3.50zM154.50 239.00h3.50v3.52h-3.50zM172.00 239.00h3.50v3.52h-3.50zM186.00 239.00h3.50v3.52h-3.50zM105.50 242.50h10.50v3.52h-10.50zM179.00 242.50h3.50v3.52h-3.50zM231.50 242.50h3.50v3.52h-3.50zM98.50 246.00h3.50v3.52h-3.50zM109.00 246.00h3.50v3.52h-3.50zM130.00 246.00h3.50v3.52h-3.50zM242.00 246.00h3.50v3.52h-3.50zM322.50 246.00h3.50v3.52h-3.50zM354.00 246.00h3.50v3.52h-3.50zM105.50 249.50h3.50v3.52h-3.50zM133.50 249.50h3.50v3.52h-3.50zM210.50 249.50h3.50v3.52h-3.50zM364.50 249.50h3.50v3.52h-3.50zM151.00 253.00h3.50v3.52h-3.50zM179.00 253.00h3.50v3.52h-3.50zM193.00 253.00h3.50v3.52h-3.50zM308.50 253.00h3.50v3.52h-3.50zM158.00 256.50h3.50v3.52h-3.50zM245.50 256.50h3.50v3.52h-3.50zM298.00 256.50h3.50v3.52h-3.50zM308.50 256.50h3.50v3.52h-3.50zM130.00 260.00h3.50v3.52h-3.50zM256.00 260.00h3.50v3.52h-3.50zM287.50 260.00h3.50v3.52h-3.50zM368.00 260.00h3.50v3.52h-3.50zM126.50 263.50h3.50v3.52h-3.50zM235.00 263.50h3.50v3.52h-3.50zM158.00 267.00h3.50v3.52h-3.50zM245.50 267.00h3.50v3.52h-3.50zM326.00 267.00h3.50v3.52h-3.50zM123.00 270.50h3.50v3.52h-3.50zM137.00 270.50h3.50v3.52h-3.50zM364.50 270.50h3.50v3.52h-3.50zM91.50 274.00h3.50v3.52h-3.50zM119.50 274.00h3.50v3.52h-3.50zM266.50 274.00h3.50v3.52h-3.50zM326.00 274.00h3.50v3.52h-3.50zM154.50 277.50h3.50v3.52h-3.50zM259.50 277.50h3.50v3.52h-3.50zM294.50 277.50h3.50v3.52h-3.50zM308.50 277.50h3.50v3.52h-3.50zM322.50 277.50h3.50v3.52h-3.50zM350.50 277.50h3.50v3.52h-3.50zM364.50 277.50h3.50v3.52h-3.50zM95.00 281.00h3.50v3.52h-3.50zM172.00 281.00h3.50v3.52h-3.50zM347.00 281.00h3.50v3.52h-3.50zM123.00 284.50h3.50v3.52h-3.50zM259.50 284.50h3.50v3.52h-3.50zM277.00 284.50h3.50v3.52h-3.50zM287.50 284.50h3.50v3.52h-3.50zM298.00 284.50h3.50v3.52h-3.50zM238.50 288.00h3.50v3.52h-3.50zM95.00 291.50h3.50v3.52h-3.50zM210.50 291.50h3.50v3.52h-3.50zM228.00 291.50h3.50v3.52h-3.50zM249.00 291.50h3.50v3.52h-3.50zM280.50 291.50h3.50v3.52h-3.50zM294.50 291.50h3.50v3.52h-3.50zM102.00 295.00h7.00v3.52h-7.00zM312.00 295.00h3.50v3.52h-3.50zM116.00 298.50h3.50v3.52h-3.50zM147.50 298.50h3.50v3.52h-3.50zM186.00 298.50h3.50v3.52h-3.50zM193.00 298.50h3.50v3.52h-3.50zM231.50 298.50h3.50v3.52h-3.50zM95.00 302.00h3.50v3.52h-3.50zM123.00 302.00h3.50v3.52h-3.50zM144.00 302.00h3.50v3.52h-3.50zM116.00 305.50h3.50v3.52h-3.50zM133.50 305.50h3.50v3.52h-3.50zM210.50 305.50h3.50v3.52h-3.50zM277.00 305.50h3.50v3.52h-3.50zM287.50 305.50h3.50v3.52h-3.50zM105.50 309.00h3.50v3.52h-3.50zM112.50 309.00h3.50v3.52h-3.50zM151.00 309.00h7.00v3.52h-7.00zM161.50 309.00h3.50v3.52h-3.50zM319.00 309.00h3.50v3.52h-3.50zM326.00 309.00h3.50v3.52h-3.50z"/>
<path fill="#484848" d="M214.00 32.50h3.50v3.52h-3.50zM224.50 32.50h3.50v3.52h-3.50zM242.00 32.50h3.50v3.52h-3.50zM354.00 32.50h3.50v3.52h-3.50zM221.00 36.00h3.50v3.52h-3.50zM207.00 39.50h3.50v3.52h-3.50zM214.00 43.00h3.50v3.52h-3.50zM357.50 43.00h3.50v3.52h-3.50zM182.50 46.50h3.50v3.52h-3.50zM105.50 50.00h3.50v3.52h-3.50zM112.50 50.00h3.50v3.52h-3.50zM158.00 50.00h3.50v3.52h-3.50zM203.50 50.00h3.50v3.52h-3.50zM298.00 50.00h3.50v3.52h-3.50zM224.50 53.50h7.00v3.52h-7.00zM326.00 53.50h3.50v3.52h-3.50zM315.50 57.00h7.00v3.52h-7.00zM112.50 60.50h3.50v3.52h-3.50zM144.00 60.50h3.50v3.52h-3.50zM298.00 60.50h3.50v3.52h-3.50zM105.50 64.00h3.50v3.52h-3.50zM291.00 64.00h7.00v3.52h-7.00zM340.00 64.00h3.50v3.52h-3.50zM161.50 67.50h3.50v3.52h-3.50zM252.50 67.50h3.50v3.52h-3.50zM273.50 67.50h3.50v3.52h-3.50zM319.00 67.50h3.50v3.52h-3.50zM273.50 71.00h3.50v3.52h-3.50zM354.00 71.00h3.50v3.52h-3.50zM364.50 71.00h3.50v3.52h-3.50zM123.00 74.50h3.50v3.52h-3.50zM175.50 74.50h7.00v3.52h-7.00zM343.50 74.50h3.50v3.52h-3.50zM350.50 74.50h3.50v3.52h-3.50zM161.50 78.00h3.50v3.52h-3.50zM182.50 78.00h3.50v3.52h-3.50zM217.50 78.00h7.00v3.52h-7.00zM305.00 78.00h7.00v3.52h-7.00zM231.50 81.50h3.50v3.52h-3.50zM270.00 81.50h3.50v3.52h-3.50zM329.50 81.50h3.50v3.52h-3.50zM368.00 81.50h3.50v3.52h-3.50zM347.00 85.00h3.50v3.52h-3.50zM119.50 88.50h3.50v3.52h-3.50zM137.00 88.50h3.50v3.52h-3.50zM203.50 92.00h3.50v3.52h-3.50zM245.50 92.00h3.50v3.52h-3.50zM266.50 92.00h3.50v3.52h-3.50zM294.50 92.00h3.50v3.52h-3.50zM329.50 92.00h3.50v3.52h-3.50zM189.50 95.50h3.50v3.52h-3.50zM347.00 95.50h3.50v3.52h-3.50zM364.50 95.50h3.50v3.52h-3.50zM196.50 99.00h3.50v3.52h-3.50zM277.00 99.00h7.00v3.52h-7.00zM347.00 99.00h3.50v3.52h-3.50zM105.50 102.50h3.50v3.52h-3.50zM116.00 102.50h3.50v3.52h-3.50zM151.00 102.50h3.50v3.52h-3.50zM158.00 102.50h3.50v3.52h-3.50zM221.00 102.50h3.50v3.52h-3.50zM228.00 102.50h3.50v3.52h-3.50zM126.50 106.00h3.50v3.52h-3.50zM182.50 106.00h3.50v3.52h-3.50zM200.00 106.00h3.50v3.52h-3.50zM333.00 106.00h3.50v3.52h-3.50zM161.50 109.50h3.50v3.52h-3.50zM207.00 109.50h3.50v3.52h-3.50zM252.50 109.50h3.50v3.52h-3.50zM259.50 109.50h3.50v3.52h-3.50zM354.00 109.50h3.50v3.52h-3.50zM98.50 113.00h3.50v3.52h-3.50zM182.50 113.00h3.50v3.52h-3.50zM200.00 113.00h3.50v3.52h-3.50zM214.00 113.00h3.50v3.52h-3.50zM294.50 116.50h3.50v3.52h-3.50zM368.00 116.50h3.50v3.52h-3.50zM137.00 120.00h7.00v3.52h-7.00zM301.50 120.00h3.50v3.52h-3.50zM343.50 120.00h3.50v3.52h-3.50zM126.50 123.50h3.50v3.52h-3.50zM214.00 123.50h3.50v3.52h-3.50zM252.50 123.50h3.50v3.52h-3.50zM291.00 123.50h3.50v3.52h-3.50zM343.50 123.50h3.50v3.52h-3.50zM133.50 127.00h3.50v3.52h-3.50zM284.00 127.00h3.50v3.52h-3.50zM294.50 127.00h3.50v3.52h-3.50zM249.00 130.50h3.50v3.52h-3.50zM336.50 130.50h3.50v3.52h-3.50zM98.50 134.00h3.50v3.52h-3.50zM140.50 134.00h3.50v3.52h-3.50zM196.50 134.00h3.50v3.52h-3.50zM214.00 134.00h3.50v3.52h-3.50zM228.00 134.00h3.50v3.52h-3.50zM119.50 137.50h3.50v3.52h-3.50zM189.50 137.50h3.50v3.52h-3.50zM305.00 137.50h3.50v3.52h-3.50zM336.50 137.50h3.50v3.52h-3.50zM130.00 141.00h3.50v3.52h-3.50zM147.50 141.00h3.50v3.52h-3.50zM196.50 141.00h3.50v3.52h-3.50zM361.00 141.00h3.50v3.52h-3.50zM165.00 144.50h3.50v3.52h-3.50zM200.00 144.50h3.50v3.52h-3.50zM350.50 144.50h3.50v3.52h-3.50zM364.50 144.50h3.50v3.52h-3.50zM91.50 148.00h3.50v3.52h-3.50zM168.50 148.00h3.50v3.52h-3.50zM280.50 148.00h3.50v3.52h-3.50zM154.50 151.50h3.50v3.52h-3.50zM224.50 151.50h7.00v3.52h-7.00zM172.00 155.00h3.50v3.52h-3.50zM284.00 155.00h3.50v3.52h-3.50zM319.00 155.00h3.50v3.52h-3.50zM147.50 158.50h3.50v3.52h-3.50zM168.50 158.50h3.50v3.52h-3.50zM175.50 158.50h3.50v3.52h-3.50zM182.50 158.50h7.00v3.52h-7.00zM263.00 158.50h3.50v3.52h-3.50zM336.50 158.50h3.50v3.52h-3.50zM105.50 162.00h3.50v3.52h-3.50zM210.50 162.00h3.50v3.52h-3.50zM270.00 162.00h3.50v3.52h-3.50zM112.50 165.50h3.50v3.52h-3.50zM130.00 165.50h3.50v3.52h-3.50zM186.00 165.50h3.50v3.52h-3.50zM273.50 165.50h3.50v3.52h-3.50zM322.50 165.50h3.50v3.52h-3.50zM137.00 169.00h3.50v3.52h-3.50zM186.00 169.00h3.50v3.52h-3.50zM217.50 169.00h3.50v3.52h-3.50zM298.00 169.00h3.50v3.52h-3.50zM333.00 169.00h3.50v3.52h-3.50zM291.00 172.50h3.50v3.52h-3.50zM354.00 172.50h3.50v3.52h-3.50zM95.00 176.00h3.50v3.52h-3.50zM207.00 176.00h3.50v3.52h-3.50zM284.00 176.00h3.50v3.52h-3.50zM319.00 179.50h3.50v3.52h-3.50zM228.00 183.00h3.50v3.52h-3.50zM329.50 183.00h3.50v3.52h-3.50zM189.50 186.50h3.50v3.52h-3.50zM217.50 186.50h3.50v3.52h-3.50zM357.50 186.50h3.50v3.52h-3.50zM95.00 190.00h3.50v3.52h-3.50zM112.50 190.00h3.50v3.52h-3.50zM189.50 190.00h3.50v3.52h-3.50zM214.00 190.00h3.50v3.52h-3.50zM252.50 190.00h3.50v3.52h-3.50zM116.00 193.50h3.50v3.52h-3.50zM336.50 193.50h3.50v3.52h-3.50zM175.50 197.00h7.00v3.52h-7.00zM263.00 197.00h3.50v3.52h-3.50zM277.00 197.00h3.50v3.52h-3.50zM217.50 200.50h3.50v3.52h-3.50zM238.50 200.50h3.50v3.52h-3.50zM336.50 200.50h3.50v3.52h-3.50zM109.00 204.00h3.50v3.52h-3.50zM147.50 204.00h3.50v3.52h-3.50zM175.50 204.00h3.50v3.52h-3.50zM203.50 204.00h3.50v3.52h-3.50zM123.00 207.50h3.50v3.52h-3.50zM245.50 207.50h3.50v3.52h-3.50zM368.00 207.50h3.50v3.52h-3.50zM238.50 211.00h3.50v3.52h-3.50zM319.00 211.00h3.50v3.52h-3.50zM326.00 211.00h3.50v3.52h-3.50zM336.50 211.00h3.50v3.52h-3.50zM364.50 211.00h3.50v3.52h-3.50zM235.00 214.50h7.00v3.52h-7.00zM133.50 218.00h3.50v3.52h-3.50zM98.50 221.50h3.50v3.52h-3.50zM144.00 221.50h7.00v3.52h-7.00zM179.00 221.50h3.50v3.52h-3.50zM291.00 221.50h3.50v3.52h-3.50zM350.50 221.50h3.50v3.52h-3.50zM95.00 225.00h3.50v3.52h-3.50zM172.00 225.00h3.50v3.52h-3.50zM140.50 228.50h3.50v3.52h-3.50zM158.00 228.50h3.50v3.52h-3.50zM175.50 228.50h3.50v3.52h-3.50zM228.00 228.50h3.50v3.52h-3.50zM256.00 228.50h3.50v3.52h-3.50zM315.50 228.50h3.50v3.52h-3.50zM357.50 228.50h3.50v3.52h-3.50zM137.00 232.00h3.50v3.52h-3.50zM161.50 232.00h3.50v3.52h-3.50zM249.00 232.00h3.50v3.52h-3.50zM133.50 235.50h3.50v3.52h-3.50zM217.50 235.50h3.50v3.52h-3.50zM140.50 239.00h3.50v3.52h-3.50zM224.50 239.00h3.50v3.52h-3.50zM284.00 239.00h3.50v3.52h-3.50zM305.00 239.00h3.50v3.52h-3.50zM347.00 239.00h3.50v3.52h-3.50zM217.50 242.50h3.50v3.52h-3.50zM175.50 246.00h3.50v3.52h-3.50zM217.50 246.00h3.50v3.52h-3.50zM301.50 246.00h3.50v3.52h-3.50zM308.50 246.00h3.50v3.52h-3.50zM137.00 249.50h3.50v3.52h-3.50zM319.00 249.50h3.50v3.52h-3.50zM333.00 249.50h3.50v3.52h-3.50zM105.50 253.00h3.50v3.52h-3.50zM172.00 253.00h3.50v3.52h-3.50zM186.00 253.00h3.50v3.52h-3.50zM312.00 253.00h3.50v3.52h-3.50zM140.50 260.00h3.50v3.52h-3.50zM182.50 260.00h3.50v3.52h-3.50zM245.50 260.00h3.50v3.52h-3.50zM305.00 260.00h3.50v3.52h-3.50zM312.00 260.00h3.50v3.52h-3.50zM329.50 260.00h3.50v3.52h-3.50zM98.50 263.50h3.50v3.52h-3.50zM189.50 263.50h3.50v3.52h-3.50zM119.50 267.00h3.50v3.52h-3.50zM137.00 267.00h3.50v3.52h-3.50zM235.00 267.00h3.50v3.52h-3.50zM249.00 267.00h3.50v3.52h-3.50zM259.50 267.00h3.50v3.52h-3.50zM280.50 267.00h3.50v3.52h-3.50zM340.00 267.00h3.50v3.52h-3.50zM326.00 270.50h3.50v3.52h-3.50zM112.50 274.00h3.50v3.52h-3.50zM350.50 274.00h3.50v3.52h-3.50zM172.00 277.50h3.50v3.52h-3.50zM238.50 277.50h3.50v3.52h-3.50zM245.50 277.50h3.50v3.52h-3.50zM252.50 277.50h3.50v3.52h-3.50zM280.50 277.50h3.50v3.52h-3.50zM287.50 277.50h3.50v3.52h-3.50zM186.00 281.00h3.50v3.52h-3.50zM301.50 281.00h3.50v3.52h-3.50zM361.00 281.00h3.50v3.52h-3.50zM182.50 284.50h3.50v3.52h-3.50zM196.50 284.50h3.50v3.52h-3.50zM112.50 288.00h3.50v3.52h-3.50zM210.50 288.00h3.50v3.52h-3.50zM298.00 288.00h3.50v3.52h-3.50zM175.50 291.50h3.50v3.52h-3.50zM196.50 291.50h3.50v3.52h-3.50zM235.00 291.50h3.50v3.52h-3.50zM329.50 291.50h3.50v3.52h-3.50zM193.00 295.00h3.50v3.52h-3.50zM210.50 295.00h3.50v3.52h-3.50zM123.00 298.50h3.50v3.52h-3.50zM137.00 298.50h7.00v3.52h-7.00zM158.00 298.50h3.50v3.52h-3.50zM294.50 298.50h3.50v3.52h-3.50zM301.50 298.50h3.50v3.52h-3.50zM214.00 302.00h7.00v3.52h-7.00zM294.50 302.00h3.50v3.52h-3.50zM308.50 302.00h3.50v3.52h-3.50zM329.50 302.00h3.50v3.52h-3.50zM203.50 305.50h3.50v3.52h-3.50zM259.50 305.50h3.50v3.52h-3.50zM301.50 305.50h3.50v3.52h-3.50zM312.00 305.50h3.50v3.52h-3.50z"/>
<path fill="#4b4b4b" d="M221.00 32.50h3.50v3.52h-3.50zM235.00 32.50h3.50v3.52h-3.50zM130.00 36.00h3.50v3.52h-3.50zM270.00 36.00h3.50v3.52h-3.50zM315.50 36.00h3.50v3.52h-3.50zM151.00 39.50h3.50v3.52h-3.50zM266.50 39.50h3.50v3.52h-3.50zM305.00 39.50h3.50v3.52h-3.50zM133.50 43.00h7.00v3.52h-7.00zM189.50 43.00h3.50v3.52h-3.50zM259.50 43.00h3.50v3.52h-3.50zM291.00 43.00h3.50v3.52h-3.50zM284.00 46.50h3.50v3.52h-3.50zM273.50 50.00h3.50v3.52h-3.50zM154.50 53.50h3.50v3.52h-3.50zM196.50 53.50h3.50v3.52h-3.50zM221.00 53.50h3.50v3.52h-3.50zM305.00 53.50h3.50v3.52h-3.50zM336.50 53.50h3.50v3.52h-3.50zM361.00 53.50h3.50v3.52h-3.50zM95.00 57.00h3.50v3.52h-3.50zM193.00 57.00h7.00v3.52h-7.00zM214.00 57.00h3.50v3.52h-3.50zM308.50 57.00h3.50v3.52h-3.50zM350.50 57.00h3.50v3.52h-3.50zM361.00 57.00h7.00v3.52h-7.00zM91.50 60.50h3.50v3.52h-3.50zM172.00 60.50h3.50v3.52h-3.50zM270.00 60.50h3.50v3.52h-3.50zM284.00 60.50h7.00v3.52h-7.00zM308.50 60.50h3.50v3.52h-3.50zM340.00 60.50h3.50v3.52h-3.50zM133.50 64.00h3.50v3.52h-3.50zM350.50 64.00h3.50v3.52h-3.50zM95.00 67.50h3.50v3.52h-3.50zM196.50 67.50h3.50v3.52h-3.50zM140.50 71.00h3.50v3.52h-3.50zM189.50 71.00h3.50v3.52h-3.50zM242.00 71.00h3.50v3.52h-3.50zM298.00 71.00h3.50v3.52h-3.50zM298.00 74.50h3.50v3.52h-3.50zM361.00 74.50h3.50v3.52h-3.50zM168.50 78.00h7.00v3.52h-7.00zM102.00 81.50h3.50v3.52h-3.50zM228.00 81.50h3.50v3.52h-3.50zM249.00 81.50h3.50v3.52h-3.50zM266.50 81.50h3.50v3.52h-3.50zM319.00 81.50h3.50v3.52h-3.50zM133.50 85.00h3.50v3.52h-3.50zM252.50 85.00h3.50v3.52h-3.50zM350.50 85.00h3.50v3.52h-3.50zM368.00 85.00h3.50v3.52h-3.50zM161.50 88.50h3.50v3.52h-3.50zM200.00 88.50h3.50v3.52h-3.50zM284.00 88.50h3.50v3.52h-3.50zM336.50 88.50h3.50v3.52h-3.50zM238.50 92.00h3.50v3.52h-3.50zM102.00 95.50h3.50v3.52h-3.50zM133.50 99.00h3.50v3.52h-3.50zM291.00 99.00h3.50v3.52h-3.50zM98.50 102.50h3.50v3.52h-3.50zM109.00 102.50h3.50v3.52h-3.50zM147.50 102.50h3.50v3.52h-3.50zM235.00 102.50h3.50v3.52h-3.50zM357.50 102.50h3.50v3.52h-3.50zM98.50 106.00h3.50v3.52h-3.50zM105.50 106.00h3.50v3.52h-3.50zM133.50 106.00h3.50v3.52h-3.50zM179.00 106.00h3.50v3.52h-3.50zM200.00 109.50h3.50v3.52h-3.50zM336.50 109.50h3.50v3.52h-3.50zM357.50 109.50h3.50v3.52h-3.50zM133.50 113.00h3.50v3.52h-3.50zM144.00 113.00h3.50v3.52h-3.50zM193.00 113.00h3.50v3.52h-3.50zM217.50 113.00h3.50v3.52h-3.50zM326.00 113.00h3.50v3.52h-3.50zM333.00 113.00h3.50v3.52h-3.50zM315.50 116.50h3.50v3.52h-3.50zM116.00 120.00h3.50v3.52h-3.50zM123.00 120.00h3.50v3.52h-3.50zM168.50 120.00h3.50v3.52h-3.50zM207.00 120.00h3.50v3.52h-3.50zM305.00 120.00h3.50v3.52h-3.50zM322.50 120.00h3.50v3.52h-3.50zM347.00 120.00h3.50v3.52h-3.50zM98.50 123.50h3.50v3.52h-3.50zM298.00 123.50h3.50v3.52h-3.50zM368.00 123.50h3.50v3.52h-3.50zM137.00 127.00h3.50v3.52h-3.50zM172.00 127.00h3.50v3.52h-3.50zM259.50 127.00h3.50v3.52h-3.50zM270.00 127.00h3.50v3.52h-3.50zM196.50 130.50h7.00v3.52h-7.00zM235.00 130.50h3.50v3.52h-3.50zM256.00 130.50h3.50v3.52h-3.50zM315.50 134.00h3.50v3.52h-3.50zM322.50 134.00h3.50v3.52h-3.50zM333.00 134.00h3.50v3.52h-3.50zM91.50 137.50h3.50v3.52h-3.50zM245.50 137.50h3.50v3.52h-3.50zM263.00 137.50h3.50v3.52h-3.50zM95.00 141.00h3.50v3.52h-3.50zM235.00 141.00h3.50v3.52h-3.50zM263.00 144.50h3.50v3.52h-3.50zM280.50 144.50h3.50v3.52h-3.50zM301.50 144.50h3.50v3.52h-3.50zM347.00 144.50h3.50v3.52h-3.50zM165.00 148.00h3.50v3.52h-3.50zM109.00 151.50h3.50v3.52h-3.50zM200.00 151.50h3.50v3.52h-3.50zM263.00 151.50h3.50v3.52h-3.50zM154.50 155.00h3.50v3.52h-3.50zM196.50 155.00h3.50v3.52h-3.50zM221.00 155.00h3.50v3.52h-3.50zM259.50 155.00h3.50v3.52h-3.50zM301.50 155.00h3.50v3.52h-3.50zM189.50 158.50h3.50v3.52h-3.50zM214.00 158.50h3.50v3.52h-3.50zM238.50 158.50h3.50v3.52h-3.50zM259.50 162.00h3.50v3.52h-3.50zM301.50 162.00h3.50v3.52h-3.50zM221.00 165.50h3.50v3.52h-3.50zM350.50 165.50h3.50v3.52h-3.50zM102.00 169.00h3.50v3.52h-3.50zM305.00 169.00h3.50v3.52h-3.50zM189.50 172.50h3.50v3.52h-3.50zM98.50 176.00h3.50v3.52h-3.50zM308.50 176.00h3.50v3.52h-3.50zM336.50 176.00h3.50v3.52h-3.50zM361.00 176.00h3.50v3.52h-3.50zM130.00 179.50h3.50v3.52h-3.50zM168.50 179.50h3.50v3.52h-3.50zM308.50 179.50h3.50v3.52h-3.50zM123.00 183.00h3.50v3.52h-3.50zM147.50 183.00h3.50v3.52h-3.50zM217.50 183.00h3.50v3.52h-3.50zM280.50 183.00h3.50v3.52h-3.50zM343.50 183.00h3.50v3.52h-3.50zM98.50 186.50h3.50v3.52h-3.50zM144.00 186.50h3.50v3.52h-3.50zM221.00 186.50h3.50v3.52h-3.50zM228.00 186.50h3.50v3.52h-3.50zM242.00 186.50h3.50v3.52h-3.50zM277.00 186.50h3.50v3.52h-3.50zM105.50 190.00h3.50v3.52h-3.50zM217.50 190.00h3.50v3.52h-3.50zM242.00 190.00h3.50v3.52h-3.50zM291.00 190.00h3.50v3.52h-3.50zM112.50 193.50h3.50v3.52h-3.50zM245.50 193.50h3.50v3.52h-3.50zM259.50 193.50h7.00v3.52h-7.00zM270.00 193.50h7.00v3.52h-7.00zM368.00 193.50h3.50v3.52h-3.50zM172.00 197.00h3.50v3.52h-3.50zM189.50 197.00h3.50v3.52h-3.50zM105.50 200.50h3.50v3.52h-3.50zM126.50 204.00h3.50v3.52h-3.50zM308.50 207.50h3.50v3.52h-3.50zM130.00 211.00h3.50v3.52h-3.50zM189.50 211.00h3.50v3.52h-3.50zM207.00 211.00h3.50v3.52h-3.50zM221.00 211.00h3.50v3.52h-3.50zM245.50 211.00h7.00v3.52h-7.00zM357.50 211.00h3.50v3.52h-3.50zM123.00 214.50h3.50v3.52h-3.50zM151.00 214.50h3.50v3.52h-3.50zM263.00 214.50h3.50v3.52h-3.50zM315.50 214.50h3.50v3.52h-3.50zM221.00 218.00h3.50v3.52h-3.50zM256.00 218.00h3.50v3.52h-3.50zM336.50 218.00h3.50v3.52h-3.50zM116.00 221.50h3.50v3.52h-3.50zM126.50 221.50h3.50v3.52h-3.50zM161.50 221.50h3.50v3.52h-3.50zM175.50 221.50h3.50v3.52h-3.50zM217.50 221.50h3.50v3.52h-3.50zM329.50 221.50h3.50v3.52h-3.50zM112.50 225.00h3.50v3.52h-3.50zM123.00 225.00h3.50v3.52h-3.50zM249.00 225.00h3.50v3.52h-3.50zM266.50 225.00h3.50v3.52h-3.50zM308.50 225.00h3.50v3.52h-3.50zM329.50 225.00h3.50v3.52h-3.50zM144.00 228.50h3.50v3.52h-3.50zM207.00 228.50h3.50v3.52h-3.50zM196.50 232.00h3.50v3.52h-3.50zM256.00 232.00h3.50v3.52h-3.50zM322.50 232.00h3.50v3.52h-3.50zM105.50 235.50h3.50v3.52h-3.50zM193.00 235.50h3.50v3.52h-3.50zM200.00 235.50h3.50v3.52h-3.50zM221.00 235.50h3.50v3.52h-3.50zM235.00 235.50h3.50v3.52h-3.50zM291.00 235.50h7.00v3.52h-7.00zM361.00 235.50h3.50v3.52h-3.50zM221.00 239.00h3.50v3.52h-3.50zM175.50 242.50h3.50v3.52h-3.50zM224.50 242.50h7.00v3.52h-7.00zM270.00 242.50h3.50v3.52h-3.50zM322.50 242.50h3.50v3.52h-3.50zM347.00 242.50h3.50v3.52h-3.50zM161.50 246.00h3.50v3.52h-3.50zM235.00 246.00h3.50v3.52h-3.50zM347.00 246.00h3.50v3.52h-3.50zM112.50 249.50h3.50v3.52h-3.50zM151.00 249.50h7.00v3.52h-7.00zM238.50 249.50h3.50v3.52h-3.50zM291.00 249.50h3.50v3.52h-3.50zM301.50 249.50h3.50v3.52h-3.50zM329.50 249.50h3.50v3.52h-3.50zM280.50 253.00h3.50v3.52h-3.50zM305.00 253.00h3.50v3.52h-3.50zM329.50 253.00h3.50v3.52h-3.50zM102.00 256.50h3.50v3.52h-3.50zM154.50 256.50h3.50v3.52h-3.50zM154.50 260.00h3.50v3.52h-3.50zM301.50 260.00h3.50v3.52h-3.50zM102.00 263.50h3.50v3.52h-3.50zM130.00 263.50h3.50v3.52h-3.50zM140.50 263.50h3.50v3.52h-3.50zM291.00 263.50h3.50v3.52h-3.50zM343.50 263.50h3.50v3.52h-3.50zM200.00 267.00h3.50v3.52h-3.50zM315.50 267.00h3.50v3.52h-3.50zM119.50 270.50h3.50v3.52h-3.50zM242.00 270.50h3.50v3.52h-3.50zM249.00 270.50h3.50v3.52h-3.50zM312.00 270.50h3.50v3.52h-3.50zM154.50 274.00h3.50v3.52h-3.50zM91.50 277.50h3.50v3.52h-3.50zM105.50 277.50h7.00v3.52h-7.00zM249.00 277.50h3.50v3.52h-3.50zM368.00 277.50h3.50v3.52h-3.50zM221.00 281.00h3.50v3.52h-3.50zM228.00 281.00h3.50v3.52h-3.50zM256.00 281.00h3.50v3.52h-3.50zM298.00 281.00h3.50v3.52h-3.50zM364.50 281.00h3.50v3.52h-3.50zM354.00 284.50h3.50v3.52h-3.50zM91.50 288.00h3.50v3.52h-3.50zM123.00 288.00h3.50v3.52h-3.50zM137.00 288.00h3.50v3.52h-3.50zM175.50 288.00h3.50v3.52h-3.50zM280.50 288.00h3.50v3.52h-3.50zM287.50 288.00h3.50v3.52h-3.50zM168.50 291.50h3.50v3.52h-3.50zM214.00 291.50h3.50v3.52h-3.50zM284.00 291.50h3.50v3.52h-3.50zM354.00 291.50h3.50v3.52h-3.50zM147.50 295.00h3.50v3.52h-3.50zM172.00 295.00h3.50v3.52h-3.50zM186.00 295.00h3.50v3.52h-3.50zM196.50 295.00h3.50v3.52h-3.50zM224.50 295.00h3.50v3.52h-3.50zM231.50 295.00h3.50v3.52h-3.50zM126.50 298.50h3.50v3.52h-3.50zM133.50 298.50h3.50v3.52h-3.50zM214.00 298.50h3.50v3.52h-3.50zM273.50 298.50h3.50v3.52h-3.50zM147.50 302.00h3.50v3.52h-3.50zM231.50 302.00h3.50v3.52h-3.50zM102.00 305.50h3.50v3.52h-3.50zM165.00 305.50h3.50v3.52h-3.50zM200.00 305.50h3.50v3.52h-3.50zM322.50 305.50h10.50v3.52h-10.50zM364.50 305.50h3.50v3.52h-3.50zM238.50 309.00h3.50v3.52h-3.50zM259.50 309.00h3.50v3.52h-3.50zM329.50 309.00h3.50v3.52h-3.50z"/>
<path fill="#4e4e4e" d="M105.50 36.00h3.50v3.52h-3.50zM231.50 36.00h3.50v3.52h-3.50zM242.00 36.00h3.50v3.52h-3.50zM308.50 39.50h3.50v3.52h-3.50zM116.00 46.50h7.00v3.52h-7.00zM137.00 46.50h3.50v3.52h-3.50zM186.00 46.50h3.50v3.52h-3.50zM161.50 50.00h3.50v3.52h-3.50zM193.00 50.00h3.50v3.52h-3.50zM340.00 50.00h3.50v3.52h-3.50zM347.00 50.00h7.00v3.52h-7.00zM161.50 53.50h3.50v3.52h-3.50zM130.00 57.00h3.50v3.52h-3.50zM242.00 57.00h7.00v3.52h-7.00zM312.00 57.00h3.50v3.52h-3.50zM165.00 60.50h3.50v3.52h-3.50zM179.00 60.50h3.50v3.52h-3.50zM221.00 60.50h3.50v3.52h-3.50zM123.00 64.00h7.00v3.52h-7.00zM266.50 64.00h3.50v3.52h-3.50zM280.50 64.00h3.50v3.52h-3.50zM322.50 64.00h3.50v3.52h-3.50zM98.50 67.50h3.50v3.52h-3.50zM287.50 67.50h3.50v3.52h-3.50zM308.50 67.50h7.00v3.52h-7.00zM336.50 67.50h3.50v3.52h-3.50zM354.00 67.50h3.50v3.52h-3.50zM259.50 71.00h3.50v3.52h-3.50zM322.50 71.00h3.50v3.52h-3.50zM231.50 74.50h3.50v3.52h-3.50zM354.00 74.50h3.50v3.52h-3.50zM228.00 78.00h3.50v3.52h-3.50zM252.50 78.00h3.50v3.52h-3.50zM301.50 78.00h3.50v3.52h-3.50zM340.00 78.00h3.50v3.52h-3.50zM105.50 81.50h3.50v3.52h-3.50zM189.50 81.50h3.50v3.52h-3.50zM252.50 81.50h3.50v3.52h-3.50zM340.00 81.50h7.00v3.52h-7.00zM105.50 85.00h3.50v3.52h-3.50zM266.50 85.00h3.50v3.52h-3.50zM179.00 88.50h3.50v3.52h-3.50zM329.50 88.50h7.00v3.52h-7.00zM368.00 88.50h3.50v3.52h-3.50zM119.50 92.00h3.50v3.52h-3.50zM252.50 92.00h3.50v3.52h-3.50zM312.00 92.00h3.50v3.52h-3.50zM119.50 95.50h3.50v3.52h-3.50zM308.50 99.00h3.50v3.52h-3.50zM326.00 102.50h7.00v3.52h-7.00zM158.00 106.00h3.50v3.52h-3.50zM168.50 106.00h3.50v3.52h-3.50zM322.50 106.00h3.50v3.52h-3.50zM357.50 106.00h3.50v3.52h-3.50zM224.50 109.50h3.50v3.52h-3.50zM322.50 109.50h3.50v3.52h-3.50zM266.50 113.00h3.50v3.52h-3.50zM165.00 116.50h3.50v3.52h-3.50zM319.00 116.50h3.50v3.52h-3.50zM105.50 123.50h3.50v3.52h-3.50zM245.50 123.50h3.50v3.52h-3.50zM112.50 127.00h3.50v3.52h-3.50zM193.00 127.00h3.50v3.52h-3.50zM224.50 127.00h3.50v3.52h-3.50zM266.50 127.00h3.50v3.52h-3.50zM364.50 127.00h3.50v3.52h-3.50zM126.50 130.50h3.50v3.52h-3.50zM259.50 130.50h3.50v3.52h-3.50zM319.00 130.50h3.50v3.52h-3.50zM172.00 134.00h3.50v3.52h-3.50zM301.50 134.00h3.50v3.52h-3.50zM137.00 137.50h3.50v3.52h-3.50zM200.00 137.50h3.50v3.52h-3.50zM322.50 137.50h3.50v3.52h-3.50zM368.00 137.50h3.50v3.52h-3.50zM189.50 141.00h3.50v3.52h-3.50zM214.00 141.00h3.50v3.52h-3.50zM249.00 141.00h3.50v3.52h-3.50zM256.00 141.00h3.50v3.52h-3.50zM277.00 141.00h7.00v3.52h-7.00zM364.50 141.00h3.50v3.52h-3.50zM130.00 144.50h3.50v3.52h-3.50zM168.50 144.50h3.50v3.52h-3.50zM326.00 144.50h3.50v3.52h-3.50zM228.00 148.00h3.50v3.52h-3.50zM242.00 148.00h3.50v3.52h-3.50zM329.50 151.50h3.50v3.52h-3.50zM368.00 151.50h3.50v3.52h-3.50zM315.50 155.00h3.50v3.52h-3.50zM326.00 155.00h3.50v3.52h-3.50zM354.00 155.00h3.50v3.52h-3.50zM217.50 162.00h3.50v3.52h-3.50zM133.50 165.50h3.50v3.52h-3.50zM144.00 165.50h3.50v3.52h-3.50zM196.50 165.50h3.50v3.52h-3.50zM210.50 165.50h7.00v3.52h-7.00zM294.50 165.50h3.50v3.52h-3.50zM179.00 169.00h3.50v3.52h-3.50zM193.00 169.00h3.50v3.52h-3.50zM280.50 172.50h3.50v3.52h-3.50zM256.00 176.00h3.50v3.52h-3.50zM144.00 179.50h3.50v3.52h-3.50zM207.00 179.50h3.50v3.52h-3.50zM280.50 179.50h3.50v3.52h-3.50zM354.00 179.50h3.50v3.52h-3.50zM140.50 183.00h3.50v3.52h-3.50zM137.00 186.50h7.00v3.52h-7.00zM368.00 186.50h3.50v3.52h-3.50zM196.50 190.00h3.50v3.52h-3.50zM259.50 190.00h3.50v3.52h-3.50zM266.50 190.00h3.50v3.52h-3.50zM336.50 190.00h3.50v3.52h-3.50zM98.50 193.50h3.50v3.52h-3.50zM151.00 193.50h3.50v3.52h-3.50zM91.50 197.00h3.50v3.52h-3.50zM158.00 200.50h3.50v3.52h-3.50zM343.50 200.50h3.50v3.52h-3.50zM130.00 204.00h3.50v3.52h-3.50zM119.50 207.50h3.50v3.52h-3.50zM249.00 207.50h3.50v3.52h-3.50zM259.50 207.50h3.50v3.52h-3.50zM298.00 207.50h3.50v3.52h-3.50zM319.00 207.50h3.50v3.52h-3.50zM340.00 207.50h3.50v3.52h-3.50zM354.00 207.50h3.50v3.52h-3.50zM193.00 211.00h3.50v3.52h-3.50zM133.50 214.50h3.50v3.52h-3.50zM161.50 214.50h3.50v3.52h-3.50zM186.00 214.50h3.50v3.52h-3.50zM312.00 214.50h3.50v3.52h-3.50zM361.00 214.50h3.50v3.52h-3.50zM193.00 218.00h3.50v3.52h-3.50zM123.00 221.50h3.50v3.52h-3.50zM168.50 221.50h3.50v3.52h-3.50zM333.00 221.50h7.00v3.52h-7.00zM91.50 225.00h3.50v3.52h-3.50zM105.50 225.00h3.50v3.52h-3.50zM333.00 225.00h3.50v3.52h-3.50zM340.00 225.00h7.00v3.52h-7.00zM151.00 228.50h3.50v3.52h-3.50zM343.50 228.50h3.50v3.52h-3.50zM102.00 232.00h3.50v3.52h-3.50zM186.00 232.00h3.50v3.52h-3.50zM228.00 232.00h7.00v3.52h-7.00zM315.50 232.00h3.50v3.52h-3.50zM368.00 235.50h3.50v3.52h-3.50zM207.00 239.00h3.50v3.52h-3.50zM287.50 239.00h3.50v3.52h-3.50zM340.00 239.00h3.50v3.52h-3.50zM182.50 246.00h3.50v3.52h-3.50zM312.00 246.00h3.50v3.52h-3.50zM315.50 249.50h3.50v3.52h-3.50zM336.50 249.50h3.50v3.52h-3.50zM354.00 249.50h3.50v3.52h-3.50zM238.50 253.00h3.50v3.52h-3.50zM210.50 256.50h3.50v3.52h-3.50zM305.00 256.50h3.50v3.52h-3.50zM315.50 256.50h3.50v3.52h-3.50zM137.00 260.00h3.50v3.52h-3.50zM224.50 260.00h3.50v3.52h-3.50zM343.50 260.00h3.50v3.52h-3.50zM123.00 267.00h3.50v3.52h-3.50zM144.00 267.00h3.50v3.52h-3.50zM161.50 267.00h3.50v3.52h-3.50zM196.50 267.00h3.50v3.52h-3.50zM238.50 267.00h3.50v3.52h-3.50zM333.00 267.00h7.00v3.52h-7.00zM98.50 277.50h3.50v3.52h-3.50zM168.50 277.50h3.50v3.52h-3.50zM189.50 277.50h3.50v3.52h-3.50zM357.50 277.50h7.00v3.52h-7.00zM231.50 281.00h7.00v3.52h-7.00zM280.50 281.00h3.50v3.52h-3.50zM357.50 281.00h3.50v3.52h-3.50zM172.00 284.50h3.50v3.52h-3.50zM266.50 284.50h3.50v3.52h-3.50zM305.00 284.50h3.50v3.52h-3.50zM144.00 288.00h3.50v3.52h-3.50zM291.00 288.00h7.00v3.52h-7.00zM354.00 288.00h7.00v3.52h-7.00zM221.00 291.50h3.50v3.52h-3.50zM179.00 295.00h3.50v3.52h-3.50zM210.50 298.50h3.50v3.52h-3.50zM266.50 298.50h3.50v3.52h-3.50zM322.50 298.50h3.50v3.52h-3.50zM336.50 298.50h3.50v3.52h-3.50zM280.50 302.00h3.50v3.52h-3.50zM109.00 305.50h7.00v3.52h-7.00zM189.50 309.00h3.50v3.52h-3.50zM312.00 309.00h3.50v3.52h-3.50z"/>
<path fill="#515151" d="M116.00 32.50h3.50v3.52h-3.50zM228.00 32.50h3.50v3.52h-3.50zM133.50 36.00h3.50v3.52h-3.50zM238.50 36.00h3.50v3.52h-3.50zM133.50 39.50h3.50v3.52h-3.50zM172.00 39.50h3.50v3.52h-3.50zM228.00 39.50h3.50v3.52h-3.50zM154.50 43.00h3.50v3.52h-3.50zM242.00 43.00h3.50v3.52h-3.50zM249.00 43.00h3.50v3.52h-3.50zM256.00 43.00h3.50v3.52h-3.50zM238.50 46.50h3.50v3.52h-3.50zM245.50 46.50h3.50v3.52h-3.50zM350.50 46.50h3.50v3.52h-3.50zM231.50 50.00h3.50v3.52h-3.50zM305.00 50.00h3.50v3.52h-3.50zM158.00 53.50h3.50v3.52h-3.50zM172.00 53.50h3.50v3.52h-3.50zM112.50 57.00h3.50v3.52h-3.50zM182.50 57.00h3.50v3.52h-3.50zM252.50 57.00h3.50v3.52h-3.50zM102.00 60.50h3.50v3.52h-3.50zM301.50 60.50h3.50v3.52h-3.50zM350.50 60.50h3.50v3.52h-3.50zM91.50 64.00h3.50v3.52h-3.50zM161.50 64.00h3.50v3.52h-3.50zM315.50 64.00h3.50v3.52h-3.50zM123.00 67.50h3.50v3.52h-3.50zM133.50 67.50h3.50v3.52h-3.50zM140.50 67.50h7.00v3.52h-7.00zM214.00 67.50h3.50v3.52h-3.50zM224.50 71.00h3.50v3.52h-3.50zM368.00 71.00h3.50v3.52h-3.50zM182.50 74.50h3.50v3.52h-3.50zM200.00 74.50h3.50v3.52h-3.50zM252.50 74.50h7.00v3.52h-7.00zM175.50 78.00h3.50v3.52h-3.50zM270.00 78.00h3.50v3.52h-3.50zM308.50 81.50h3.50v3.52h-3.50zM235.00 85.00h3.50v3.52h-3.50zM305.00 85.00h3.50v3.52h-3.50zM123.00 88.50h3.50v3.52h-3.50zM130.00 92.00h3.50v3.52h-3.50zM266.50 95.50h3.50v3.52h-3.50zM291.00 95.50h3.50v3.52h-3.50zM361.00 95.50h3.50v3.52h-3.50zM91.50 99.00h3.50v3.52h-3.50zM294.50 99.00h3.50v3.52h-3.50zM336.50 106.00h3.50v3.52h-3.50zM354.00 106.00h3.50v3.52h-3.50zM133.50 109.50h3.50v3.52h-3.50zM172.00 109.50h3.50v3.52h-3.50zM280.50 109.50h3.50v3.52h-3.50zM343.50 109.50h3.50v3.52h-3.50zM368.00 109.50h3.50v3.52h-3.50zM196.50 113.00h3.50v3.52h-3.50zM294.50 113.00h3.50v3.52h-3.50zM347.00 113.00h3.50v3.52h-3.50zM361.00 113.00h3.50v3.52h-3.50zM368.00 113.00h3.50v3.52h-3.50zM340.00 120.00h3.50v3.52h-3.50zM133.50 123.50h3.50v3.52h-3.50zM151.00 123.50h3.50v3.52h-3.50zM161.50 123.50h3.50v3.52h-3.50zM123.00 127.00h3.50v3.52h-3.50zM189.50 127.00h3.50v3.52h-3.50zM287.50 127.00h3.50v3.52h-3.50zM333.00 127.00h3.50v3.52h-3.50zM266.50 130.50h3.50v3.52h-3.50zM284.00 130.50h3.50v3.52h-3.50zM221.00 134.00h3.50v3.52h-3.50zM368.00 134.00h3.50v3.52h-3.50zM168.50 137.50h3.50v3.52h-3.50zM256.00 137.50h3.50v3.52h-3.50zM193.00 141.00h3.50v3.52h-3.50zM277.00 144.50h3.50v3.52h-3.50zM154.50 148.00h3.50v3.52h-3.50zM301.50 148.00h3.50v3.52h-3.50zM347.00 148.00h3.50v3.52h-3.50zM249.00 151.50h7.00v3.52h-7.00zM287.50 151.50h3.50v3.52h-3.50zM228.00 155.00h7.00v3.52h-7.00zM333.00 155.00h3.50v3.52h-3.50zM347.00 155.00h3.50v3.52h-3.50zM133.50 158.50h3.50v3.52h-3.50zM242.00 158.50h3.50v3.52h-3.50zM266.50 158.50h3.50v3.52h-3.50zM315.50 158.50h3.50v3.52h-3.50zM364.50 158.50h3.50v3.52h-3.50zM315.50 162.00h3.50v3.52h-3.50zM364.50 162.00h3.50v3.52h-3.50zM147.50 165.50h3.50v3.52h-3.50zM217.50 165.50h3.50v3.52h-3.50zM322.50 169.00h3.50v3.52h-3.50zM98.50 172.50h3.50v3.52h-3.50zM130.00 176.00h3.50v3.52h-3.50zM95.00 179.50h3.50v3.52h-3.50zM329.50 179.50h3.50v3.52h-3.50zM347.00 179.50h3.50v3.52h-3.50zM105.50 186.50h3.50v3.52h-3.50zM224.50 186.50h3.50v3.52h-3.50zM273.50 186.50h3.50v3.52h-3.50zM354.00 186.50h3.50v3.52h-3.50zM102.00 190.00h3.50v3.52h-3.50zM144.00 190.00h10.50v3.52h-10.50zM333.00 190.00h3.50v3.52h-3.50zM266.50 193.50h3.50v3.52h-3.50zM105.50 197.00h10.50v3.52h-10.50zM161.50 197.00h3.50v3.52h-3.50zM238.50 197.00h3.50v3.52h-3.50zM249.00 197.00h3.50v3.52h-3.50zM266.50 197.00h3.50v3.52h-3.50zM273.50 197.00h3.50v3.52h-3.50zM147.50 200.50h3.50v3.52h-3.50zM224.50 200.50h3.50v3.52h-3.50zM235.00 200.50h3.50v3.52h-3.50zM252.50 200.50h3.50v3.52h-3.50zM112.50 204.00h3.50v3.52h-3.50zM210.50 204.00h3.50v3.52h-3.50zM245.50 204.00h3.50v3.52h-3.50zM343.50 204.00h7.00v3.52h-7.00zM116.00 207.50h3.50v3.52h-3.50zM126.50 214.50h3.50v3.52h-3.50zM252.50 214.50h3.50v3.52h-3.50zM98.50 218.00h3.50v3.52h-3.50zM119.50 218.00h3.50v3.52h-3.50zM182.50 218.00h3.50v3.52h-3.50zM231.50 218.00h3.50v3.52h-3.50zM242.00 218.00h3.50v3.52h-3.50zM319.00 218.00h3.50v3.52h-3.50zM333.00 218.00h3.50v3.52h-3.50zM256.00 221.50h7.00v3.52h-7.00zM315.50 221.50h3.50v3.52h-3.50zM354.00 221.50h3.50v3.52h-3.50zM301.50 225.00h3.50v3.52h-3.50zM312.00 225.00h3.50v3.52h-3.50zM319.00 225.00h3.50v3.52h-3.50zM235.00 228.50h3.50v3.52h-3.50zM242.00 228.50h3.50v3.52h-3.50zM322.50 228.50h3.50v3.52h-3.50zM109.00 232.00h3.50v3.52h-3.50zM116.00 232.00h3.50v3.52h-3.50zM224.50 232.00h3.50v3.52h-3.50zM336.50 232.00h3.50v3.52h-3.50zM168.50 235.50h3.50v3.52h-3.50zM252.50 235.50h3.50v3.52h-3.50zM137.00 239.00h3.50v3.52h-3.50zM217.50 239.00h3.50v3.52h-3.50zM301.50 239.00h3.50v3.52h-3.50zM116.00 242.50h3.50v3.52h-3.50zM252.50 242.50h3.50v3.52h-3.50zM119.50 246.00h3.50v3.52h-3.50zM165.00 246.00h3.50v3.52h-3.50zM256.00 246.00h3.50v3.52h-3.50zM144.00 249.50h3.50v3.52h-3.50zM109.00 253.00h3.50v3.52h-3.50zM126.50 253.00h3.50v3.52h-3.50zM175.50 253.00h3.50v3.52h-3.50zM273.50 253.00h3.50v3.52h-3.50zM291.00 253.00h3.50v3.52h-3.50zM322.50 253.00h3.50v3.52h-3.50zM329.50 256.50h3.50v3.52h-3.50zM200.00 260.00h3.50v3.52h-3.50zM280.50 260.00h3.50v3.52h-3.50zM333.00 260.00h3.50v3.52h-3.50zM137.00 263.50h3.50v3.52h-3.50zM144.00 263.50h7.00v3.52h-7.00zM224.50 263.50h3.50v3.52h-3.50zM105.50 267.00h3.50v3.52h-3.50zM147.50 267.00h3.50v3.52h-3.50zM294.50 267.00h3.50v3.52h-3.50zM312.00 267.00h3.50v3.52h-3.50zM116.00 274.00h3.50v3.52h-3.50zM256.00 274.00h3.50v3.52h-3.50zM95.00 277.50h3.50v3.52h-3.50zM347.00 277.50h3.50v3.52h-3.50zM182.50 281.00h3.50v3.52h-3.50zM287.50 281.00h3.50v3.52h-3.50zM305.00 281.00h3.50v3.52h-3.50zM315.50 281.00h3.50v3.52h-3.50zM140.50 284.50h3.50v3.52h-3.50zM280.50 284.50h3.50v3.52h-3.50zM347.00 284.50h3.50v3.52h-3.50zM357.50 284.50h3.50v3.52h-3.50zM140.50 288.00h3.50v3.52h-3.50zM172.00 288.00h3.50v3.52h-3.50zM235.00 288.00h3.50v3.52h-3.50zM305.00 288.00h3.50v3.52h-3.50zM151.00 291.50h3.50v3.52h-3.50zM217.50 291.50h3.50v3.52h-3.50zM182.50 295.00h3.50v3.52h-3.50zM214.00 295.00h3.50v3.52h-3.50zM175.50 298.50h3.50v3.52h-3.50zM242.00 298.50h3.50v3.52h-3.50zM263.00 298.50h3.50v3.52h-3.50zM98.50 302.00h3.50v3.52h-3.50zM364.50 302.00h3.50v3.52h-3.50zM228.00 305.50h3.50v3.52h-3.50zM235.00 305.50h3.50v3.52h-3.50zM291.00 305.50h3.50v3.52h-3.50zM91.50 309.00h3.50v3.52h-3.50zM137.00 309.00h3.50v3.52h-3.50zM147.50 309.00h3.50v3.52h-3.50zM340.00 309.00h3.50v3.52h-3.50z"/>
<path fill="#545454" d="M109.00 32.50h3.50v3.52h-3.50zM273.50 36.00h7.00v3.52h-7.00zM294.50 39.50h3.50v3.52h-3.50zM116.00 43.00h3.50v3.52h-3.50zM207.00 43.00h3.50v3.52h-3.50zM224.50 46.50h3.50v3.52h-3.50zM242.00 46.50h3.50v3.52h-3.50zM347.00 46.50h3.50v3.52h-3.50zM214.00 50.00h3.50v3.52h-3.50zM224.50 50.00h3.50v3.52h-3.50zM238.50 50.00h3.50v3.52h-3.50zM301.50 50.00h3.50v3.52h-3.50zM343.50 50.00h3.50v3.52h-3.50zM95.00 53.50h3.50v3.52h-3.50zM130.00 53.50h3.50v3.52h-3.50zM270.00 53.50h3.50v3.52h-3.50zM91.50 57.00h3.50v3.52h-3.50zM105.50 57.00h3.50v3.52h-3.50zM172.00 57.00h3.50v3.52h-3.50zM221.00 57.00h3.50v3.52h-3.50zM109.00 60.50h3.50v3.52h-3.50zM126.50 60.50h3.50v3.52h-3.50zM196.50 60.50h3.50v3.52h-3.50zM333.00 60.50h3.50v3.52h-3.50zM95.00 64.00h3.50v3.52h-3.50zM112.50 64.00h3.50v3.52h-3.50zM221.00 64.00h3.50v3.52h-3.50zM242.00 64.00h3.50v3.52h-3.50zM308.50 64.00h3.50v3.52h-3.50zM102.00 67.50h3.50v3.52h-3.50zM235.00 67.50h3.50v3.52h-3.50zM147.50 71.00h3.50v3.52h-3.50zM175.50 71.00h3.50v3.52h-3.50zM189.50 74.50h3.50v3.52h-3.50zM147.50 78.00h3.50v3.52h-3.50zM259.50 78.00h7.00v3.52h-7.00zM137.00 85.00h3.50v3.52h-3.50zM224.50 85.00h7.00v3.52h-7.00zM294.50 85.00h3.50v3.52h-3.50zM340.00 85.00h3.50v3.52h-3.50zM126.50 88.50h3.50v3.52h-3.50zM291.00 92.00h3.50v3.52h-3.50zM207.00 95.50h3.50v3.52h-3.50zM214.00 95.50h3.50v3.52h-3.50zM259.50 95.50h3.50v3.52h-3.50zM326.00 95.50h3.50v3.52h-3.50zM182.50 99.00h3.50v3.52h-3.50zM154.50 102.50h3.50v3.52h-3.50zM273.50 102.50h3.50v3.52h-3.50zM354.00 102.50h3.50v3.52h-3.50zM340.00 106.00h3.50v3.52h-3.50zM105.50 109.50h3.50v3.52h-3.50zM284.00 109.50h3.50v3.52h-3.50zM312.00 109.50h3.50v3.52h-3.50zM172.00 113.00h3.50v3.52h-3.50zM179.00 113.00h3.50v3.52h-3.50zM168.50 116.50h3.50v3.52h-3.50zM130.00 120.00h3.50v3.52h-3.50zM336.50 120.00h3.50v3.52h-3.50zM249.00 123.50h3.50v3.52h-3.50zM294.50 123.50h3.50v3.52h-3.50zM333.00 123.50h3.50v3.52h-3.50zM119.50 127.00h3.50v3.52h-3.50zM312.00 127.00h3.50v3.52h-3.50zM133.50 130.50h3.50v3.52h-3.50zM168.50 130.50h3.50v3.52h-3.50zM112.50 134.00h3.50v3.52h-3.50zM210.50 134.00h3.50v3.52h-3.50zM245.50 134.00h3.50v3.52h-3.50zM329.50 134.00h3.50v3.52h-3.50zM193.00 137.50h3.50v3.52h-3.50zM203.50 137.50h3.50v3.52h-3.50zM364.50 137.50h3.50v3.52h-3.50zM123.00 141.00h3.50v3.52h-3.50zM231.50 141.00h3.50v3.52h-3.50zM151.00 144.50h3.50v3.52h-3.50zM228.00 144.50h3.50v3.52h-3.50zM105.50 148.00h3.50v3.52h-3.50zM144.00 148.00h3.50v3.52h-3.50zM158.00 148.00h3.50v3.52h-3.50zM200.00 148.00h3.50v3.52h-3.50zM238.50 151.50h3.50v3.52h-3.50zM326.00 151.50h3.50v3.52h-3.50zM95.00 155.00h3.50v3.52h-3.50zM112.50 155.00h3.50v3.52h-3.50zM340.00 155.00h7.00v3.52h-7.00zM193.00 158.50h3.50v3.52h-3.50zM354.00 158.50h3.50v3.52h-3.50zM133.50 162.00h3.50v3.52h-3.50zM214.00 162.00h3.50v3.52h-3.50zM238.50 162.00h3.50v3.52h-3.50zM347.00 165.50h3.50v3.52h-3.50zM182.50 169.00h3.50v3.52h-3.50zM294.50 172.50h3.50v3.52h-3.50zM312.00 176.00h3.50v3.52h-3.50zM350.50 176.00h3.50v3.52h-3.50zM336.50 179.50h3.50v3.52h-3.50zM102.00 183.00h3.50v3.52h-3.50zM109.00 183.00h3.50v3.52h-3.50zM270.00 183.00h3.50v3.52h-3.50zM322.50 183.00h3.50v3.52h-3.50zM95.00 186.50h3.50v3.52h-3.50zM347.00 186.50h3.50v3.52h-3.50zM137.00 190.00h3.50v3.52h-3.50zM193.00 190.00h3.50v3.52h-3.50zM137.00 193.50h3.50v3.52h-3.50zM252.50 193.50h3.50v3.52h-3.50zM119.50 200.50h3.50v3.52h-3.50zM137.00 200.50h3.50v3.52h-3.50zM256.00 200.50h3.50v3.52h-3.50zM294.50 207.50h3.50v3.52h-3.50zM98.50 211.00h3.50v3.52h-3.50zM235.00 211.00h3.50v3.52h-3.50zM308.50 211.00h3.50v3.52h-3.50zM224.50 214.50h3.50v3.52h-3.50zM186.00 218.00h3.50v3.52h-3.50zM224.50 218.00h3.50v3.52h-3.50zM235.00 218.00h3.50v3.52h-3.50zM284.00 218.00h3.50v3.52h-3.50zM137.00 221.50h3.50v3.52h-3.50zM189.50 221.50h3.50v3.52h-3.50zM277.00 221.50h3.50v3.52h-3.50zM207.00 225.00h3.50v3.52h-3.50zM256.00 225.00h3.50v3.52h-3.50zM294.50 228.50h3.50v3.52h-3.50zM319.00 228.50h3.50v3.52h-3.50zM112.50 232.00h3.50v3.52h-3.50zM189.50 235.50h3.50v3.52h-3.50zM91.50 246.00h3.50v3.52h-3.50zM123.00 246.00h3.50v3.52h-3.50zM154.50 246.00h3.50v3.52h-3.50zM252.50 246.00h3.50v3.52h-3.50zM273.50 246.00h3.50v3.52h-3.50zM291.00 246.00h3.50v3.52h-3.50zM116.00 249.50h7.00v3.52h-7.00zM182.50 249.50h7.00v3.52h-7.00zM347.00 249.50h3.50v3.52h-3.50zM277.00 253.00h3.50v3.52h-3.50zM298.00 253.00h3.50v3.52h-3.50zM333.00 253.00h3.50v3.52h-3.50zM364.50 253.00h3.50v3.52h-3.50zM147.50 256.50h3.50v3.52h-3.50zM179.00 256.50h3.50v3.52h-3.50zM189.50 256.50h3.50v3.52h-3.50zM291.00 256.50h3.50v3.52h-3.50zM102.00 260.00h3.50v3.52h-3.50zM172.00 260.00h3.50v3.52h-3.50zM179.00 260.00h3.50v3.52h-3.50zM116.00 267.00h3.50v3.52h-3.50zM354.00 267.00h3.50v3.52h-3.50zM95.00 270.50h3.50v3.52h-3.50zM235.00 270.50h3.50v3.52h-3.50zM270.00 270.50h3.50v3.52h-3.50zM298.00 270.50h3.50v3.52h-3.50zM354.00 270.50h3.50v3.52h-3.50zM109.00 274.00h3.50v3.52h-3.50zM329.50 274.00h3.50v3.52h-3.50zM182.50 277.50h3.50v3.52h-3.50zM224.50 281.00h3.50v3.52h-3.50zM263.00 281.00h3.50v3.52h-3.50zM319.00 281.00h3.50v3.52h-3.50zM368.00 281.00h3.50v3.52h-3.50zM364.50 288.00h3.50v3.52h-3.50zM116.00 291.50h3.50v3.52h-3.50zM154.50 291.50h3.50v3.52h-3.50zM172.00 291.50h3.50v3.52h-3.50zM179.00 291.50h3.50v3.52h-3.50zM231.50 291.50h3.50v3.52h-3.50zM340.00 291.50h3.50v3.52h-3.50zM368.00 291.50h3.50v3.52h-3.50zM130.00 295.00h3.50v3.52h-3.50zM259.50 295.00h3.50v3.52h-3.50zM361.00 295.00h3.50v3.52h-3.50zM168.50 298.50h3.50v3.52h-3.50zM235.00 298.50h3.50v3.52h-3.50zM140.50 302.00h3.50v3.52h-3.50zM175.50 305.50h3.50v3.52h-3.50zM256.00 309.00h3.50v3.52h-3.50zM336.50 309.00h3.50v3.52h-3.50z"/>
<path fill="#575757" d="M179.00 32.50h3.50v3.52h-3.50zM203.50 32.50h3.50v3.52h-3.50zM357.50 32.50h3.50v3.52h-3.50zM189.50 36.00h3.50v3.52h-3.50zM308.50 36.00h7.00v3.52h-7.00zM193.00 39.50h3.50v3.52h-3.50zM259.50 39.50h3.50v3.52h-3.50zM322.50 39.50h3.50v3.52h-3.50zM238.50 43.00h3.50v3.52h-3.50zM284.00 43.00h7.00v3.52h-7.00zM336.50 43.00h3.50v3.52h-3.50zM305.00 46.50h3.50v3.52h-3.50zM102.00 50.00h3.50v3.52h-3.50zM277.00 50.00h3.50v3.52h-3.50zM102.00 53.50h3.50v3.52h-3.50zM179.00 53.50h3.50v3.52h-3.50zM340.00 53.50h3.50v3.52h-3.50zM109.00 57.00h3.50v3.52h-3.50zM126.50 57.00h3.50v3.52h-3.50zM217.50 57.00h3.50v3.52h-3.50zM130.00 60.50h3.50v3.52h-3.50zM161.50 60.50h3.50v3.52h-3.50zM252.50 60.50h3.50v3.52h-3.50zM137.00 64.00h3.50v3.52h-3.50zM238.50 64.00h3.50v3.52h-3.50zM312.00 64.00h3.50v3.52h-3.50zM343.50 64.00h3.50v3.52h-3.50zM116.00 67.50h3.50v3.52h-3.50zM179.00 67.50h3.50v3.52h-3.50zM196.50 71.00h3.50v3.52h-3.50zM238.50 74.50h3.50v3.52h-3.50zM270.00 74.50h3.50v3.52h-3.50zM357.50 74.50h3.50v3.52h-3.50zM312.00 78.00h3.50v3.52h-3.50zM347.00 81.50h7.00v3.52h-7.00zM140.50 85.00h3.50v3.52h-3.50zM175.50 85.00h3.50v3.52h-3.50zM256.00 85.00h3.50v3.52h-3.50zM343.50 85.00h3.50v3.52h-3.50zM175.50 88.50h3.50v3.52h-3.50zM368.00 92.00h3.50v3.52h-3.50zM200.00 95.50h3.50v3.52h-3.50zM210.50 95.50h3.50v3.52h-3.50zM329.50 95.50h3.50v3.52h-3.50zM200.00 99.00h3.50v3.52h-3.50zM217.50 99.00h3.50v3.52h-3.50zM322.50 102.50h3.50v3.52h-3.50zM350.50 106.00h3.50v3.52h-3.50zM119.50 113.00h3.50v3.52h-3.50zM277.00 113.00h3.50v3.52h-3.50zM252.50 116.50h3.50v3.52h-3.50zM256.00 123.50h3.50v3.52h-3.50zM91.50 127.00h3.50v3.52h-3.50zM105.50 127.00h3.50v3.52h-3.50zM235.00 127.00h3.50v3.52h-3.50zM256.00 127.00h3.50v3.52h-3.50zM172.00 130.50h3.50v3.52h-3.50zM312.00 130.50h7.00v3.52h-7.00zM119.50 134.00h3.50v3.52h-3.50zM238.50 134.00h3.50v3.52h-3.50zM109.00 137.50h3.50v3.52h-3.50zM214.00 137.50h3.50v3.52h-3.50zM224.50 137.50h3.50v3.52h-3.50zM252.50 137.50h3.50v3.52h-3.50zM231.50 144.50h3.50v3.52h-3.50zM273.50 144.50h3.50v3.52h-3.50zM357.50 148.00h3.50v3.52h-3.50zM112.50 151.50h3.50v3.52h-3.50zM98.50 155.00h3.50v3.52h-3.50zM200.00 155.00h3.50v3.52h-3.50zM329.50 155.00h3.50v3.52h-3.50zM228.00 158.50h3.50v3.52h-3.50zM326.00 158.50h3.50v3.52h-3.50zM130.00 162.00h3.50v3.52h-3.50zM140.50 162.00h3.50v3.52h-3.50zM263.00 162.00h7.00v3.52h-7.00zM343.50 162.00h3.50v3.52h-3.50zM140.50 165.50h3.50v3.52h-3.50zM116.00 169.00h3.50v3.52h-3.50zM116.00 172.50h3.50v3.52h-3.50zM179.00 172.50h3.50v3.52h-3.50zM200.00 172.50h3.50v3.52h-3.50zM301.50 172.50h3.50v3.52h-3.50zM126.50 179.50h3.50v3.52h-3.50zM228.00 179.50h3.50v3.52h-3.50zM273.50 179.50h3.50v3.52h-3.50zM98.50 183.00h3.50v3.52h-3.50zM319.00 183.00h3.50v3.52h-3.50zM333.00 183.00h3.50v3.52h-3.50zM221.00 190.00h7.00v3.52h-7.00zM319.00 193.50h3.50v3.52h-3.50zM133.50 197.00h3.50v3.52h-3.50zM235.00 197.00h3.50v3.52h-3.50zM140.50 200.50h3.50v3.52h-3.50zM161.50 200.50h3.50v3.52h-3.50zM350.50 200.50h3.50v3.52h-3.50zM207.00 204.00h3.50v3.52h-3.50zM235.00 204.00h3.50v3.52h-3.50zM354.00 204.00h3.50v3.52h-3.50zM98.50 207.50h3.50v3.52h-3.50zM329.50 207.50h3.50v3.52h-3.50zM95.00 214.50h3.50v3.52h-3.50zM221.00 214.50h3.50v3.52h-3.50zM308.50 214.50h3.50v3.52h-3.50zM326.00 214.50h3.50v3.52h-3.50zM123.00 218.00h7.00v3.52h-7.00zM140.50 221.50h3.50v3.52h-3.50zM228.00 221.50h3.50v3.52h-3.50zM210.50 228.50h3.50v3.52h-3.50zM238.50 232.00h3.50v3.52h-3.50zM340.00 232.00h3.50v3.52h-3.50zM91.50 242.50h3.50v3.52h-3.50zM140.50 242.50h3.50v3.52h-3.50zM256.00 242.50h3.50v3.52h-3.50zM116.00 246.00h3.50v3.52h-3.50zM231.50 246.00h3.50v3.52h-3.50zM315.50 246.00h3.50v3.52h-3.50zM287.50 249.50h3.50v3.52h-3.50zM168.50 256.50h3.50v3.52h-3.50zM294.50 256.50h3.50v3.52h-3.50zM333.00 256.50h3.50v3.52h-3.50zM221.00 260.00h3.50v3.52h-3.50zM347.00 260.00h3.50v3.52h-3.50zM193.00 263.50h3.50v3.52h-3.50zM284.00 263.50h3.50v3.52h-3.50zM242.00 267.00h3.50v3.52h-3.50zM301.50 267.00h3.50v3.52h-3.50zM165.00 270.50h3.50v3.52h-3.50zM273.50 270.50h3.50v3.52h-3.50zM242.00 274.00h3.50v3.52h-3.50zM235.00 277.50h3.50v3.52h-3.50zM193.00 288.00h3.50v3.52h-3.50zM231.50 288.00h3.50v3.52h-3.50zM259.50 288.00h7.00v3.52h-7.00zM105.50 291.50h3.50v3.52h-3.50zM112.50 291.50h3.50v3.52h-3.50zM119.50 291.50h3.50v3.52h-3.50zM263.00 291.50h3.50v3.52h-3.50zM291.00 291.50h3.50v3.52h-3.50zM238.50 295.00h3.50v3.52h-3.50zM249.00 295.00h3.50v3.52h-3.50zM196.50 298.50h3.50v3.52h-3.50zM364.50 298.50h3.50v3.52h-3.50zM238.50 302.00h3.50v3.52h-3.50zM277.00 302.00h3.50v3.52h-3.50zM158.00 309.00h3.50v3.52h-3.50zM193.00 309.00h3.50v3.52h-3.50zM291.00 309.00h3.50v3.52h-3.50zM308.50 309.00h3.50v3.52h-3.50z"/>
<path fill="#5a5a5a" d="M98.50 32.50h3.50v3.52h-3.50zM249.00 32.50h3.50v3.52h-3.50zM287.50 32.50h3.50v3.52h-3.50zM147.50 36.00h3.50v3.52h-3.50zM228.00 36.00h3.50v3.52h-3.50zM249.00 36.00h3.50v3.52h-3.50zM130.00 46.50h3.50v3.52h-3.50zM228.00 46.50h3.50v3.52h-3.50zM102.00 57.00h3.50v3.52h-3.50zM224.50 57.00h7.00v3.52h-7.00zM133.50 60.50h3.50v3.52h-3.50zM312.00 60.50h3.50v3.52h-3.50zM322.50 60.50h3.50v3.52h-3.50zM343.50 60.50h3.50v3.52h-3.50zM196.50 64.00h3.50v3.52h-3.50zM154.50 67.50h3.50v3.52h-3.50zM277.00 71.00h3.50v3.52h-3.50zM319.00 71.00h3.50v3.52h-3.50zM336.50 71.00h3.50v3.52h-3.50zM172.00 74.50h3.50v3.52h-3.50zM245.50 78.00h3.50v3.52h-3.50zM326.00 78.00h3.50v3.52h-3.50zM333.00 78.00h3.50v3.52h-3.50zM137.00 81.50h7.00v3.52h-7.00zM126.50 85.00h3.50v3.52h-3.50zM210.50 85.00h3.50v3.52h-3.50zM280.50 88.50h3.50v3.52h-3.50zM91.50 92.00h3.50v3.52h-3.50zM224.50 95.50h3.50v3.52h-3.50zM126.50 99.00h3.50v3.52h-3.50zM368.00 99.00h3.50v3.52h-3.50zM186.00 102.50h3.50v3.52h-3.50zM217.50 102.50h3.50v3.52h-3.50zM252.50 106.00h3.50v3.52h-3.50zM301.50 106.00h7.00v3.52h-7.00zM347.00 106.00h3.50v3.52h-3.50zM364.50 106.00h3.50v3.52h-3.50zM249.00 109.50h3.50v3.52h-3.50zM270.00 109.50h7.00v3.52h-7.00zM165.00 113.00h7.00v3.52h-7.00zM280.50 113.00h3.50v3.52h-3.50zM217.50 116.50h3.50v3.52h-3.50zM126.50 120.00h3.50v3.52h-3.50zM133.50 120.00h3.50v3.52h-3.50zM326.00 120.00h3.50v3.52h-3.50zM140.50 123.50h3.50v3.52h-3.50zM196.50 123.50h3.50v3.52h-3.50zM228.00 130.50h3.50v3.52h-3.50zM298.00 134.00h3.50v3.52h-3.50zM105.50 137.50h3.50v3.52h-3.50zM112.50 137.50h3.50v3.52h-3.50zM172.00 137.50h3.50v3.52h-3.50zM235.00 137.50h3.50v3.52h-3.50zM179.00 141.00h3.50v3.52h-3.50zM151.00 148.00h3.50v3.52h-3.50zM224.50 148.00h3.50v3.52h-3.50zM357.50 158.50h3.50v3.52h-3.50zM273.50 162.00h3.50v3.52h-3.50zM203.50 165.50h3.50v3.52h-3.50zM291.00 165.50h3.50v3.52h-3.50zM294.50 169.00h3.50v3.52h-3.50zM119.50 172.50h3.50v3.52h-3.50zM228.00 176.00h3.50v3.52h-3.50zM354.00 176.00h3.50v3.52h-3.50zM123.00 179.50h3.50v3.52h-3.50zM242.00 183.00h3.50v3.52h-3.50zM102.00 186.50h3.50v3.52h-3.50zM350.50 186.50h3.50v3.52h-3.50zM252.50 197.00h3.50v3.52h-3.50zM175.50 200.50h3.50v3.52h-3.50zM119.50 204.00h3.50v3.52h-3.50zM315.50 204.00h3.50v3.52h-3.50zM91.50 214.50h3.50v3.52h-3.50zM203.50 221.50h3.50v3.52h-3.50zM322.50 225.00h3.50v3.52h-3.50zM133.50 228.50h3.50v3.52h-3.50zM123.00 232.00h3.50v3.52h-3.50zM154.50 242.50h3.50v3.52h-3.50zM298.00 242.50h3.50v3.52h-3.50zM102.00 246.00h3.50v3.52h-3.50zM242.00 249.50h3.50v3.52h-3.50zM154.50 253.00h3.50v3.52h-3.50zM168.50 260.00h3.50v3.52h-3.50zM350.50 260.00h3.50v3.52h-3.50zM91.50 263.50h3.50v3.52h-3.50zM287.50 263.50h3.50v3.52h-3.50zM210.50 267.00h3.50v3.52h-3.50zM305.00 267.00h3.50v3.52h-3.50zM259.50 270.50h3.50v3.52h-3.50zM158.00 274.00h3.50v3.52h-3.50zM322.50 281.00h3.50v3.52h-3.50zM217.50 284.50h3.50v3.52h-3.50zM228.00 284.50h3.50v3.52h-3.50zM196.50 288.00h3.50v3.52h-3.50zM315.50 288.00h3.50v3.52h-3.50zM245.50 291.50h3.50v3.52h-3.50zM123.00 295.00h3.50v3.52h-3.50zM130.00 298.50h3.50v3.52h-3.50zM154.50 298.50h3.50v3.52h-3.50zM361.00 298.50h3.50v3.52h-3.50zM91.50 302.00h3.50v3.52h-3.50zM368.00 302.00h3.50v3.52h-3.50zM147.50 305.50h3.50v3.52h-3.50zM161.50 305.50h3.50v3.52h-3.50zM252.50 309.00h3.50v3.52h-3.50zM315.50 309.00h3.50v3.52h-3.50z"/>
<path fill="#5d5d5d" d="M91.50 32.50h3.50v3.52h-3.50zM112.50 32.50h3.50v3.52h-3.50zM130.00 39.50h3.50v3.52h-3.50zM179.00 39.50h3.50v3.52h-3.50zM336.50 39.50h3.50v3.52h-3.50zM354.00 39.50h3.50v3.52h-3.50zM130.00 43.00h3.50v3.52h-3.50zM144.00 46.50h3.50v3.52h-3.50zM193.00 46.50h3.50v3.52h-3.50zM273.50 46.50h3.50v3.52h-3.50zM105.50 53.50h7.00v3.52h-7.00zM126.50 53.50h3.50v3.52h-3.50zM98.50 57.00h3.50v3.52h-3.50zM158.00 57.00h3.50v3.52h-3.50zM266.50 57.00h3.50v3.52h-3.50zM256.00 60.50h7.00v3.52h-7.00zM238.50 71.00h3.50v3.52h-3.50zM312.00 71.00h3.50v3.52h-3.50zM165.00 74.50h3.50v3.52h-3.50zM228.00 74.50h3.50v3.52h-3.50zM315.50 74.50h3.50v3.52h-3.50zM259.50 81.50h3.50v3.52h-3.50zM130.00 85.00h3.50v3.52h-3.50zM130.00 88.50h7.00v3.52h-7.00zM186.00 92.00h3.50v3.52h-3.50zM256.00 92.00h7.00v3.52h-7.00zM217.50 95.50h3.50v3.52h-3.50zM294.50 95.50h3.50v3.52h-3.50zM298.00 99.00h3.50v3.52h-3.50zM242.00 109.50h3.50v3.52h-3.50zM277.00 109.50h3.50v3.52h-3.50zM361.00 109.50h3.50v3.52h-3.50zM287.50 113.00h3.50v3.52h-3.50zM343.50 113.00h3.50v3.52h-3.50zM112.50 116.50h3.50v3.52h-3.50zM270.00 116.50h3.50v3.52h-3.50zM322.50 116.50h3.50v3.52h-3.50zM364.50 116.50h3.50v3.52h-3.50zM196.50 120.00h3.50v3.52h-3.50zM123.00 123.50h3.50v3.52h-3.50zM158.00 123.50h3.50v3.52h-3.50zM298.00 130.50h3.50v3.52h-3.50zM102.00 134.00h3.50v3.52h-3.50zM259.50 134.00h3.50v3.52h-3.50zM319.00 134.00h3.50v3.52h-3.50zM207.00 137.50h3.50v3.52h-3.50zM207.00 141.00h3.50v3.52h-3.50zM228.00 141.00h3.50v3.52h-3.50zM252.50 141.00h3.50v3.52h-3.50zM235.00 144.50h3.50v3.52h-3.50zM354.00 144.50h3.50v3.52h-3.50zM301.50 151.50h3.50v3.52h-3.50zM361.00 151.50h3.50v3.52h-3.50zM175.50 155.00h3.50v3.52h-3.50zM238.50 155.00h3.50v3.52h-3.50zM256.00 155.00h3.50v3.52h-3.50zM364.50 155.00h3.50v3.52h-3.50zM347.00 158.50h3.50v3.52h-3.50zM144.00 162.00h3.50v3.52h-3.50zM200.00 162.00h3.50v3.52h-3.50zM301.50 169.00h3.50v3.52h-3.50zM319.00 169.00h3.50v3.52h-3.50zM340.00 172.50h3.50v3.52h-3.50zM165.00 179.50h3.50v3.52h-3.50zM249.00 179.50h3.50v3.52h-3.50zM256.00 179.50h3.50v3.52h-3.50zM245.50 186.50h3.50v3.52h-3.50zM270.00 186.50h3.50v3.52h-3.50zM364.50 186.50h3.50v3.52h-3.50zM140.50 193.50h3.50v3.52h-3.50zM98.50 197.00h3.50v3.52h-3.50zM137.00 197.00h3.50v3.52h-3.50zM165.00 197.00h3.50v3.52h-3.50zM329.50 200.50h3.50v3.52h-3.50zM116.00 204.00h3.50v3.52h-3.50zM189.50 207.50h3.50v3.52h-3.50zM326.00 207.50h3.50v3.52h-3.50zM336.50 207.50h3.50v3.52h-3.50zM298.00 211.00h3.50v3.52h-3.50zM182.50 214.50h3.50v3.52h-3.50zM336.50 214.50h3.50v3.52h-3.50zM315.50 218.00h3.50v3.52h-3.50zM322.50 218.00h3.50v3.52h-3.50zM207.00 221.50h3.50v3.52h-3.50zM231.50 221.50h3.50v3.52h-3.50zM263.00 221.50h3.50v3.52h-3.50zM287.50 221.50h3.50v3.52h-3.50zM312.00 221.50h3.50v3.52h-3.50zM319.00 221.50h3.50v3.52h-3.50zM105.50 228.50h3.50v3.52h-3.50zM137.00 228.50h3.50v3.52h-3.50zM133.50 232.00h3.50v3.52h-3.50zM214.00 232.00h3.50v3.52h-3.50zM287.50 235.50h3.50v3.52h-3.50zM151.00 239.00h3.50v3.52h-3.50zM259.50 242.50h3.50v3.52h-3.50zM273.50 242.50h3.50v3.52h-3.50zM336.50 246.00h3.50v3.52h-3.50zM189.50 249.50h3.50v3.52h-3.50zM273.50 249.50h3.50v3.52h-3.50zM287.50 253.00h3.50v3.52h-3.50zM354.00 253.00h3.50v3.52h-3.50zM175.50 256.50h3.50v3.52h-3.50zM291.00 260.00h3.50v3.52h-3.50zM308.50 260.00h3.50v3.52h-3.50zM109.00 263.50h3.50v3.52h-3.50zM168.50 270.50h3.50v3.52h-3.50zM252.50 270.50h3.50v3.52h-3.50zM333.00 274.00h3.50v3.52h-3.50zM102.00 281.00h3.50v3.52h-3.50zM144.00 284.50h3.50v3.52h-3.50zM168.50 284.50h3.50v3.52h-3.50zM179.00 284.50h3.50v3.52h-3.50zM221.00 284.50h3.50v3.52h-3.50zM364.50 284.50h3.50v3.52h-3.50zM116.00 288.00h7.00v3.52h-7.00zM214.00 288.00h3.50v3.52h-3.50zM312.00 291.50h3.50v3.52h-3.50zM245.50 295.00h3.50v3.52h-3.50zM252.50 295.00h3.50v3.52h-3.50zM102.00 298.50h3.50v3.52h-3.50zM119.50 298.50h3.50v3.52h-3.50zM179.00 298.50h7.00v3.52h-7.00zM210.50 302.00h3.50v3.52h-3.50zM235.00 302.00h3.50v3.52h-3.50zM298.00 302.00h3.50v3.52h-3.50zM266.50 305.50h3.50v3.52h-3.50zM315.50 305.50h3.50v3.52h-3.50z"/>
<path fill="#606060" d="M109.00 36.00h3.50v3.52h-3.50zM245.50 36.00h3.50v3.52h-3.50zM291.00 39.50h3.50v3.52h-3.50zM357.50 39.50h3.50v3.52h-3.50zM196.50 43.00h3.50v3.52h-3.50zM273.50 43.00h3.50v3.52h-3.50zM109.00 46.50h3.50v3.52h-3.50zM214.00 46.50h3.50v3.52h-3.50zM259.50 46.50h3.50v3.52h-3.50zM179.00 50.00h3.50v3.52h-3.50zM266.50 53.50h3.50v3.52h-3.50zM322.50 53.50h3.50v3.52h-3.50zM119.50 64.00h3.50v3.52h-3.50zM200.00 64.00h3.50v3.52h-3.50zM214.00 64.00h3.50v3.52h-3.50zM200.00 71.00h3.50v3.52h-3.50zM168.50 74.50h3.50v3.52h-3.50zM301.50 74.50h3.50v3.52h-3.50zM298.00 78.00h3.50v3.52h-3.50zM319.00 78.00h3.50v3.52h-3.50zM357.50 78.00h3.50v3.52h-3.50zM186.00 81.50h3.50v3.52h-3.50zM196.50 81.50h7.00v3.52h-7.00zM102.00 85.00h3.50v3.52h-3.50zM200.00 92.00h3.50v3.52h-3.50zM263.00 92.00h3.50v3.52h-3.50zM224.50 102.50h3.50v3.52h-3.50zM224.50 106.00h3.50v3.52h-3.50zM242.00 106.00h3.50v3.52h-3.50zM277.00 106.00h3.50v3.52h-3.50zM102.00 109.50h3.50v3.52h-3.50zM305.00 109.50h3.50v3.52h-3.50zM340.00 109.50h3.50v3.52h-3.50zM322.50 113.00h3.50v3.52h-3.50zM130.00 116.50h3.50v3.52h-3.50zM196.50 116.50h3.50v3.52h-3.50zM333.00 120.00h3.50v3.52h-3.50zM242.00 134.00h3.50v3.52h-3.50zM312.00 134.00h3.50v3.52h-3.50zM361.00 134.00h3.50v3.52h-3.50zM287.50 144.50h7.00v3.52h-7.00zM357.50 151.50h3.50v3.52h-3.50zM263.00 155.00h3.50v3.52h-3.50zM357.50 155.00h3.50v3.52h-3.50zM245.50 158.50h3.50v3.52h-3.50zM256.00 158.50h3.50v3.52h-3.50zM259.50 169.00h3.50v3.52h-3.50zM256.00 172.50h3.50v3.52h-3.50zM91.50 183.00h3.50v3.52h-3.50zM273.50 183.00h3.50v3.52h-3.50zM326.00 183.00h3.50v3.52h-3.50zM91.50 186.50h3.50v3.52h-3.50zM291.00 186.50h3.50v3.52h-3.50zM154.50 193.50h3.50v3.52h-3.50zM368.00 197.00h3.50v3.52h-3.50zM333.00 200.50h3.50v3.52h-3.50zM165.00 204.00h3.50v3.52h-3.50zM200.00 204.00h3.50v3.52h-3.50zM207.00 207.50h3.50v3.52h-3.50zM319.00 214.50h3.50v3.52h-3.50zM102.00 218.00h3.50v3.52h-3.50zM326.00 218.00h3.50v3.52h-3.50zM182.50 221.50h3.50v3.52h-3.50zM284.00 221.50h3.50v3.52h-3.50zM238.50 225.00h3.50v3.52h-3.50zM319.00 232.00h3.50v3.52h-3.50zM214.00 235.50h3.50v3.52h-3.50zM284.00 235.50h3.50v3.52h-3.50zM126.50 239.00h3.50v3.52h-3.50zM350.50 239.00h3.50v3.52h-3.50zM133.50 242.50h3.50v3.52h-3.50zM133.50 246.00h3.50v3.52h-3.50zM179.00 246.00h3.50v3.52h-3.50zM91.50 249.50h3.50v3.52h-3.50zM140.50 249.50h3.50v3.52h-3.50zM217.50 253.00h3.50v3.52h-3.50zM350.50 253.00h3.50v3.52h-3.50zM133.50 260.00h3.50v3.52h-3.50zM144.00 260.00h3.50v3.52h-3.50zM151.00 260.00h3.50v3.52h-3.50zM210.50 263.50h3.50v3.52h-3.50zM109.00 267.00h3.50v3.52h-3.50zM263.00 267.00h3.50v3.52h-3.50zM284.00 267.00h7.00v3.52h-7.00zM116.00 270.50h3.50v3.52h-3.50zM98.50 281.00h3.50v3.52h-3.50zM105.50 281.00h3.50v3.52h-3.50zM308.50 281.00h3.50v3.52h-3.50zM147.50 284.50h3.50v3.52h-3.50zM235.00 284.50h3.50v3.52h-3.50zM168.50 288.00h3.50v3.52h-3.50zM336.50 288.00h3.50v3.52h-3.50zM347.00 291.50h3.50v3.52h-3.50zM228.00 295.00h3.50v3.52h-3.50zM266.50 295.00h3.50v3.52h-3.50zM238.50 298.50h3.50v3.52h-3.50zM301.50 302.00h3.50v3.52h-3.50zM207.00 309.00h3.50v3.52h-3.50zM322.50 309.00h3.50v3.52h-3.50z"/>
<path fill="#636363" d="M315.50 32.50h3.50v3.52h-3.50zM193.00 43.00h3.50v3.52h-3.50zM294.50 43.00h3.50v3.52h-3.50zM147.50 46.50h3.50v3.52h-3.50zM189.50 46.50h3.50v3.52h-3.50zM189.50 50.00h3.50v3.52h-3.50zM368.00 50.00h3.50v3.52h-3.50zM158.00 60.50h3.50v3.52h-3.50zM291.00 60.50h3.50v3.52h-3.50zM315.50 60.50h3.50v3.52h-3.50zM347.00 64.00h3.50v3.52h-3.50zM189.50 67.50h3.50v3.52h-3.50zM193.00 71.00h3.50v3.52h-3.50zM256.00 71.00h3.50v3.52h-3.50zM312.00 74.50h3.50v3.52h-3.50zM340.00 74.50h3.50v3.52h-3.50zM361.00 78.00h3.50v3.52h-3.50zM256.00 81.50h3.50v3.52h-3.50zM231.50 85.00h3.50v3.52h-3.50zM123.00 92.00h3.50v3.52h-3.50zM123.00 99.00h3.50v3.52h-3.50zM245.50 106.00h3.50v3.52h-3.50zM280.50 106.00h3.50v3.52h-3.50zM119.50 109.50h3.50v3.52h-3.50zM151.00 109.50h7.00v3.52h-7.00zM266.50 109.50h3.50v3.52h-3.50zM123.00 113.00h3.50v3.52h-3.50zM329.50 113.00h3.50v3.52h-3.50zM193.00 116.50h3.50v3.52h-3.50zM273.50 116.50h7.00v3.52h-7.00zM256.00 120.00h3.50v3.52h-3.50zM210.50 141.00h3.50v3.52h-3.50zM259.50 148.00h3.50v3.52h-3.50zM277.00 148.00h3.50v3.52h-3.50zM102.00 151.50h3.50v3.52h-3.50zM305.00 151.50h3.50v3.52h-3.50zM242.00 155.00h3.50v3.52h-3.50zM200.00 158.50h3.50v3.52h-3.50zM147.50 162.00h3.50v3.52h-3.50zM340.00 165.50h3.50v3.52h-3.50zM175.50 169.00h3.50v3.52h-3.50zM175.50 172.50h3.50v3.52h-3.50zM280.50 176.00h3.50v3.52h-3.50zM105.50 183.00h3.50v3.52h-3.50zM109.00 186.50h3.50v3.52h-3.50zM158.00 186.50h3.50v3.52h-3.50zM270.00 197.00h3.50v3.52h-3.50zM151.00 200.50h3.50v3.52h-3.50zM214.00 204.00h3.50v3.52h-3.50zM238.50 207.50h3.50v3.52h-3.50zM350.50 207.50h3.50v3.52h-3.50zM91.50 211.00h3.50v3.52h-3.50zM364.50 214.50h3.50v3.52h-3.50zM322.50 221.50h3.50v3.52h-3.50zM140.50 225.00h3.50v3.52h-3.50zM263.00 225.00h3.50v3.52h-3.50zM112.50 228.50h3.50v3.52h-3.50zM238.50 228.50h3.50v3.52h-3.50zM252.50 232.00h3.50v3.52h-3.50zM126.50 235.50h3.50v3.52h-3.50zM291.00 242.50h3.50v3.52h-3.50zM298.00 249.50h3.50v3.52h-3.50zM214.00 253.00h3.50v3.52h-3.50zM242.00 253.00h3.50v3.52h-3.50zM200.00 256.50h3.50v3.52h-3.50zM280.50 256.50h3.50v3.52h-3.50zM326.00 260.00h3.50v3.52h-3.50zM158.00 270.50h3.50v3.52h-3.50zM305.00 270.50h3.50v3.52h-3.50zM259.50 274.00h3.50v3.52h-3.50zM347.00 274.00h3.50v3.52h-3.50zM329.50 277.50h3.50v3.52h-3.50zM109.00 281.00h3.50v3.52h-3.50zM252.50 281.00h3.50v3.52h-3.50zM343.50 288.00h3.50v3.52h-3.50zM119.50 295.00h3.50v3.52h-3.50zM172.00 298.50h3.50v3.52h-3.50zM207.00 302.00h3.50v3.52h-3.50zM105.50 305.50h3.50v3.52h-3.50zM238.50 305.50h3.50v3.52h-3.50zM263.00 305.50h3.50v3.52h-3.50zM361.00 305.50h3.50v3.52h-3.50z"/>
<path fill="#666666" d="M245.50 32.50h3.50v3.52h-3.50zM116.00 36.00h3.50v3.52h-3.50zM326.00 39.50h3.50v3.52h-3.50zM256.00 53.50h3.50v3.52h-3.50zM161.50 57.00h7.00v3.52h-7.00zM270.00 57.00h3.50v3.52h-3.50zM98.50 60.50h3.50v3.52h-3.50zM347.00 60.50h3.50v3.52h-3.50zM182.50 64.00h3.50v3.52h-3.50zM186.00 67.50h3.50v3.52h-3.50zM231.50 67.50h3.50v3.52h-3.50zM119.50 71.00h3.50v3.52h-3.50zM165.00 78.00h3.50v3.52h-3.50zM175.50 81.50h3.50v3.52h-3.50zM186.00 88.50h3.50v3.52h-3.50zM329.50 99.00h3.50v3.52h-3.50zM123.00 102.50h3.50v3.52h-3.50zM280.50 102.50h3.50v3.52h-3.50zM98.50 109.50h3.50v3.52h-3.50zM301.50 109.50h3.50v3.52h-3.50zM347.00 109.50h3.50v3.52h-3.50zM291.00 113.00h3.50v3.52h-3.50zM298.00 113.00h3.50v3.52h-3.50zM350.50 116.50h3.50v3.52h-3.50zM298.00 127.00h3.50v3.52h-3.50zM123.00 137.50h3.50v3.52h-3.50zM210.50 137.50h3.50v3.52h-3.50zM186.00 141.00h3.50v3.52h-3.50zM168.50 151.50h3.50v3.52h-3.50zM368.00 155.00h3.50v3.52h-3.50zM95.00 158.50h3.50v3.52h-3.50zM347.00 162.00h3.50v3.52h-3.50zM368.00 169.00h3.50v3.52h-3.50zM147.50 176.00h3.50v3.52h-3.50zM140.50 197.00h3.50v3.52h-3.50zM329.50 197.00h7.00v3.52h-7.00zM95.00 200.50h3.50v3.52h-3.50zM154.50 200.50h3.50v3.52h-3.50zM249.00 200.50h3.50v3.52h-3.50zM357.50 214.50h3.50v3.52h-3.50zM312.00 218.00h3.50v3.52h-3.50zM238.50 221.50h3.50v3.52h-3.50zM326.00 221.50h3.50v3.52h-3.50zM144.00 225.00h3.50v3.52h-3.50zM326.00 225.00h3.50v3.52h-3.50zM151.00 235.50h3.50v3.52h-3.50zM291.00 239.00h3.50v3.52h-3.50zM294.50 242.50h3.50v3.52h-3.50zM228.00 246.00h3.50v3.52h-3.50zM189.50 253.00h3.50v3.52h-3.50zM210.50 253.00h3.50v3.52h-3.50zM326.00 256.50h3.50v3.52h-3.50zM95.00 263.50h3.50v3.52h-3.50zM179.00 263.50h7.00v3.52h-7.00zM238.50 270.50h3.50v3.52h-3.50zM308.50 270.50h3.50v3.52h-3.50zM245.50 281.00h3.50v3.52h-3.50zM179.00 288.00h3.50v3.52h-3.50zM312.00 288.00h3.50v3.52h-3.50zM259.50 291.50h3.50v3.52h-3.50zM130.00 309.00h7.00v3.52h-7.00zM179.00 309.00h3.50v3.52h-3.50z"/>
<path fill="#696969" d="M147.50 32.50h3.50v3.52h-3.50zM112.50 36.00h3.50v3.52h-3.50zM256.00 39.50h3.50v3.52h-3.50zM119.50 43.00h3.50v3.52h-3.50zM277.00 43.00h7.00v3.52h-7.00zM280.50 46.50h3.50v3.52h-3.50zM95.00 50.00h3.50v3.52h-3.50zM98.50 53.50h3.50v3.52h-3.50zM343.50 53.50h3.50v3.52h-3.50zM249.00 57.00h3.50v3.52h-3.50zM301.50 57.00h3.50v3.52h-3.50zM95.00 60.50h3.50v3.52h-3.50zM249.00 60.50h3.50v3.52h-3.50zM238.50 67.50h3.50v3.52h-3.50zM315.50 67.50h3.50v3.52h-3.50zM186.00 71.00h3.50v3.52h-3.50zM308.50 71.00h3.50v3.52h-3.50zM193.00 74.50h3.50v3.52h-3.50zM137.00 78.00h3.50v3.52h-3.50zM266.50 78.00h3.50v3.52h-3.50zM242.00 92.00h3.50v3.52h-3.50zM130.00 95.50h3.50v3.52h-3.50zM182.50 102.50h3.50v3.52h-3.50zM200.00 102.50h3.50v3.52h-3.50zM361.00 106.00h3.50v3.52h-3.50zM245.50 109.50h3.50v3.52h-3.50zM256.00 109.50h3.50v3.52h-3.50zM329.50 116.50h3.50v3.52h-3.50zM109.00 127.00h3.50v3.52h-3.50zM308.50 134.00h3.50v3.52h-3.50zM196.50 137.50h3.50v3.52h-3.50zM172.00 141.00h7.00v3.52h-7.00zM186.00 144.50h3.50v3.52h-3.50zM266.50 144.50h3.50v3.52h-3.50zM231.50 148.00h3.50v3.52h-3.50zM235.00 151.50h3.50v3.52h-3.50zM315.50 151.50h3.50v3.52h-3.50zM252.50 155.00h3.50v3.52h-3.50zM98.50 158.50h3.50v3.52h-3.50zM343.50 158.50h3.50v3.52h-3.50zM193.00 162.00h7.00v3.52h-7.00zM343.50 165.50h3.50v3.52h-3.50zM284.00 179.50h3.50v3.52h-3.50zM336.50 183.00h3.50v3.52h-3.50zM347.00 183.00h3.50v3.52h-3.50zM333.00 186.50h3.50v3.52h-3.50zM140.50 190.00h3.50v3.52h-3.50zM329.50 190.00h3.50v3.52h-3.50zM95.00 193.50h3.50v3.52h-3.50zM154.50 197.00h3.50v3.52h-3.50zM168.50 200.50h7.00v3.52h-7.00zM214.00 200.50h3.50v3.52h-3.50zM245.50 200.50h3.50v3.52h-3.50zM368.00 200.50h3.50v3.52h-3.50zM350.50 204.00h3.50v3.52h-3.50zM231.50 207.50h3.50v3.52h-3.50zM189.50 214.50h3.50v3.52h-3.50zM322.50 214.50h3.50v3.52h-3.50zM263.00 218.00h3.50v3.52h-3.50zM168.50 239.00h3.50v3.52h-3.50zM130.00 242.50h3.50v3.52h-3.50zM144.00 253.00h3.50v3.52h-3.50zM95.00 267.00h3.50v3.52h-3.50zM256.00 270.50h3.50v3.52h-3.50zM165.00 274.00h3.50v3.52h-3.50zM235.00 274.00h3.50v3.52h-3.50zM91.50 281.00h3.50v3.52h-3.50zM224.50 284.50h3.50v3.52h-3.50zM231.50 284.50h3.50v3.52h-3.50zM158.00 291.50h3.50v3.52h-3.50zM193.00 291.50h3.50v3.52h-3.50zM182.50 309.00h3.50v3.52h-3.50z"/>
<path fill="#6c6c6c" d="M168.50 57.00h3.50v3.52h-3.50zM217.50 64.00h3.50v3.52h-3.50zM119.50 67.50h3.50v3.52h-3.50zM140.50 78.00h3.50v3.52h-3.50zM249.00 78.00h3.50v3.52h-3.50zM186.00 85.00h3.50v3.52h-3.50zM277.00 92.00h3.50v3.52h-3.50zM298.00 95.50h3.50v3.52h-3.50zM273.50 113.00h3.50v3.52h-3.50zM326.00 116.50h3.50v3.52h-3.50zM326.00 134.00h3.50v3.52h-3.50zM172.00 158.50h3.50v3.52h-3.50zM196.50 158.50h3.50v3.52h-3.50zM249.00 158.50h7.00v3.52h-7.00zM368.00 158.50h3.50v3.52h-3.50zM340.00 162.00h3.50v3.52h-3.50zM196.50 169.00h7.00v3.52h-7.00zM326.00 186.50h3.50v3.52h-3.50zM91.50 200.50h3.50v3.52h-3.50zM235.00 225.00h3.50v3.52h-3.50zM119.50 232.00h3.50v3.52h-3.50zM133.50 239.00h3.50v3.52h-3.50zM126.50 242.50h3.50v3.52h-3.50zM137.00 242.50h3.50v3.52h-3.50zM105.50 246.00h3.50v3.52h-3.50zM140.50 246.00h3.50v3.52h-3.50zM151.00 246.00h3.50v3.52h-3.50zM350.50 249.50h3.50v3.52h-3.50zM221.00 256.50h3.50v3.52h-3.50zM214.00 260.00h3.50v3.52h-3.50zM245.50 263.50h3.50v3.52h-3.50zM273.50 274.00h3.50v3.52h-3.50zM151.00 284.50h3.50v3.52h-3.50zM214.00 284.50h3.50v3.52h-3.50zM308.50 288.00h3.50v3.52h-3.50zM102.00 302.00h3.50v3.52h-3.50zM109.00 302.00h3.50v3.52h-3.50z"/>
<path fill="#6f6f6f" d="M182.50 39.50h3.50v3.52h-3.50zM287.50 39.50h3.50v3.52h-3.50zM277.00 46.50h3.50v3.52h-3.50zM228.00 50.00h3.50v3.52h-3.50zM326.00 50.00h3.50v3.52h-3.50zM298.00 53.50h3.50v3.52h-3.50zM319.00 64.00h3.50v3.52h-3.50zM200.00 67.50h3.50v3.52h-3.50zM340.00 67.50h3.50v3.52h-3.50zM182.50 71.00h3.50v3.52h-3.50zM340.00 71.00h3.50v3.52h-3.50zM147.50 74.50h3.50v3.52h-3.50zM277.00 88.50h3.50v3.52h-3.50zM126.50 92.00h3.50v3.52h-3.50zM263.00 95.50h3.50v3.52h-3.50zM207.00 99.00h3.50v3.52h-3.50zM312.00 106.00h3.50v3.52h-3.50zM165.00 109.50h3.50v3.52h-3.50zM308.50 109.50h3.50v3.52h-3.50zM284.00 113.00h3.50v3.52h-3.50zM144.00 116.50h3.50v3.52h-3.50zM329.50 120.00h3.50v3.52h-3.50zM368.00 120.00h3.50v3.52h-3.50zM305.00 134.00h3.50v3.52h-3.50zM364.50 134.00h3.50v3.52h-3.50zM144.00 176.00h3.50v3.52h-3.50zM343.50 179.50h3.50v3.52h-3.50zM266.50 186.50h3.50v3.52h-3.50zM109.00 190.00h3.50v3.52h-3.50zM109.00 193.50h3.50v3.52h-3.50zM158.00 197.00h3.50v3.52h-3.50zM95.00 211.00h3.50v3.52h-3.50zM154.50 225.00h3.50v3.52h-3.50zM105.50 232.00h3.50v3.52h-3.50zM203.50 232.00h3.50v3.52h-3.50zM207.00 235.50h3.50v3.52h-3.50zM126.50 246.00h3.50v3.52h-3.50zM361.00 253.00h3.50v3.52h-3.50zM217.50 260.00h3.50v3.52h-3.50zM133.50 263.50h3.50v3.52h-3.50zM298.00 267.00h3.50v3.52h-3.50zM270.00 274.00h3.50v3.52h-3.50zM308.50 284.50h3.50v3.52h-3.50zM298.00 298.50h3.50v3.52h-3.50z"/>
<path fill="#727272" d="M231.50 32.50h3.50v3.52h-3.50zM259.50 50.00h3.50v3.52h-3.50zM315.50 71.00h3.50v3.52h-3.50zM333.00 74.50h3.50v3.52h-3.50zM329.50 78.00h3.50v3.52h-3.50zM123.00 95.50h3.50v3.52h-3.50zM221.00 95.50h3.50v3.52h-3.50zM214.00 99.00h3.50v3.52h-3.50zM326.00 99.00h3.50v3.52h-3.50zM207.00 102.50h3.50v3.52h-3.50zM364.50 120.00h3.50v3.52h-3.50zM273.50 123.50h3.50v3.52h-3.50zM126.50 137.50h3.50v3.52h-3.50zM273.50 148.00h3.50v3.52h-3.50zM231.50 151.50h3.50v3.52h-3.50zM235.00 158.50h3.50v3.52h-3.50zM235.00 162.00h3.50v3.52h-3.50zM277.00 176.00h3.50v3.52h-3.50zM249.00 183.00h3.50v3.52h-3.50zM340.00 183.00h3.50v3.52h-3.50zM158.00 193.50h3.50v3.52h-3.50zM305.00 207.50h3.50v3.52h-3.50zM259.50 218.00h3.50v3.52h-3.50zM168.50 274.00h7.00v3.52h-7.00zM333.00 277.50h3.50v3.52h-3.50zM151.00 288.00h3.50v3.52h-3.50zM368.00 288.00h3.50v3.52h-3.50zM263.00 295.00h3.50v3.52h-3.50zM231.50 305.50h3.50v3.52h-3.50zM224.50 309.00h7.00v3.52h-7.00z"/>
<path fill="#757575" d="M144.00 32.50h3.50v3.52h-3.50zM182.50 36.00h3.50v3.52h-3.50zM109.00 50.00h3.50v3.52h-3.50zM319.00 60.50h3.50v3.52h-3.50zM144.00 71.00h3.50v3.52h-3.50zM319.00 74.50h3.50v3.52h-3.50zM144.00 78.00h3.50v3.52h-3.50zM256.00 106.00h3.50v3.52h-3.50zM319.00 113.00h3.50v3.52h-3.50zM252.50 120.00h3.50v3.52h-3.50zM364.50 123.50h3.50v3.52h-3.50zM126.50 141.00h3.50v3.52h-3.50zM270.00 144.50h3.50v3.52h-3.50zM95.00 197.00h3.50v3.52h-3.50zM161.50 218.00h3.50v3.52h-3.50zM228.00 218.00h3.50v3.52h-3.50zM235.00 221.50h3.50v3.52h-3.50zM137.00 225.00h3.50v3.52h-3.50zM200.00 232.00h3.50v3.52h-3.50zM315.50 253.00h3.50v3.52h-3.50zM214.00 256.50h3.50v3.52h-3.50zM161.50 270.50h3.50v3.52h-3.50zM249.00 281.00h3.50v3.52h-3.50zM242.00 295.00h3.50v3.52h-3.50zM231.50 309.00h3.50v3.52h-3.50zM266.50 309.00h3.50v3.52h-3.50z"/>
<path fill="#787878" d="M196.50 39.50h3.50v3.52h-3.50zM217.50 60.50h3.50v3.52h-3.50zM158.00 64.00h3.50v3.52h-3.50zM210.50 99.00h3.50v3.52h-3.50zM277.00 102.50h3.50v3.52h-3.50zM249.00 106.00h3.50v3.52h-3.50zM298.00 109.50h3.50v3.52h-3.50zM319.00 151.50h3.50v3.52h-3.50zM361.00 155.00h3.50v3.52h-3.50zM231.50 162.00h3.50v3.52h-3.50zM200.00 165.50h3.50v3.52h-3.50zM235.00 165.50h3.50v3.52h-3.50zM256.00 169.00h3.50v3.52h-3.50zM245.50 183.00h3.50v3.52h-3.50zM256.00 190.00h3.50v3.52h-3.50zM116.00 200.50h3.50v3.52h-3.50zM235.00 207.50h3.50v3.52h-3.50zM357.50 218.00h3.50v3.52h-3.50zM189.50 239.00h3.50v3.52h-3.50zM151.00 242.50h3.50v3.52h-3.50zM350.50 246.00h3.50v3.52h-3.50zM347.00 253.00h3.50v3.52h-3.50zM105.50 263.50h3.50v3.52h-3.50zM368.00 284.50h3.50v3.52h-3.50zM123.00 291.50h3.50v3.52h-3.50z"/>
<path fill="#7b7b7b" d="M301.50 53.50h3.50v3.52h-3.50zM256.00 67.50h3.50v3.52h-3.50zM179.00 71.00h3.50v3.52h-3.50zM364.50 151.50h3.50v3.52h-3.50zM235.00 155.00h3.50v3.52h-3.50zM221.00 162.00h3.50v3.52h-3.50zM147.50 179.50h3.50v3.52h-3.50zM154.50 190.00h3.50v3.52h-3.50zM245.50 190.00h3.50v3.52h-3.50zM91.50 267.00h3.50v3.52h-3.50zM238.50 274.00h3.50v3.52h-3.50zM207.00 305.50h3.50v3.52h-3.50z"/>
<path fill="#7e7e7e" d="M322.50 50.00h3.50v3.52h-3.50zM266.50 60.50h3.50v3.52h-3.50zM270.00 113.00h3.50v3.52h-3.50zM298.00 116.50h3.50v3.52h-3.50zM298.00 120.00h3.50v3.52h-3.50zM259.50 144.50h3.50v3.52h-3.50zM102.00 148.00h3.50v3.52h-3.50zM256.00 148.00h3.50v3.52h-3.50zM98.50 151.50h3.50v3.52h-3.50zM231.50 158.50h3.50v3.52h-3.50zM315.50 200.50h3.50v3.52h-3.50zM305.00 211.00h3.50v3.52h-3.50zM203.50 235.50h3.50v3.52h-3.50zM298.00 239.00h3.50v3.52h-3.50zM137.00 246.00h3.50v3.52h-3.50zM200.00 253.00h3.50v3.52h-3.50zM172.00 256.50h3.50v3.52h-3.50zM196.50 256.50h3.50v3.52h-3.50zM242.00 263.50h3.50v3.52h-3.50zM154.50 288.00h3.50v3.52h-3.50zM105.50 298.50h3.50v3.52h-3.50z"/>
<path fill="#818181" d="M319.00 32.50h3.50v3.52h-3.50zM186.00 74.50h3.50v3.52h-3.50zM126.50 95.50h3.50v3.52h-3.50zM228.00 165.50h3.50v3.52h-3.50zM95.00 183.00h3.50v3.52h-3.50zM329.50 186.50h3.50v3.52h-3.50zM119.50 221.50h3.50v3.52h-3.50zM336.50 239.00h3.50v3.52h-3.50zM319.00 253.00h3.50v3.52h-3.50zM109.00 291.50h3.50v3.52h-3.50zM343.50 291.50h3.50v3.52h-3.50z"/>
<path fill="#848484" d="M291.00 36.00h3.50v3.52h-3.50zM98.50 46.50h3.50v3.52h-3.50zM182.50 60.50h3.50v3.52h-3.50zM189.50 218.00h3.50v3.52h-3.50zM294.50 239.00h3.50v3.52h-3.50zM147.50 260.00h3.50v3.52h-3.50z"/>
<path fill="#878787" d="M144.00 74.50h3.50v3.52h-3.50zM308.50 106.00h3.50v3.52h-3.50zM343.50 176.00h3.50v3.52h-3.50zM340.00 179.50h3.50v3.52h-3.50zM98.50 214.50h3.50v3.52h-3.50zM154.50 228.50h3.50v3.52h-3.50zM336.50 242.50h3.50v3.52h-3.50z"/>
<path fill="#8a8a8a" d="M256.00 50.00h3.50v3.52h-3.50zM168.50 109.50h3.50v3.52h-3.50zM116.00 197.00h3.50v3.52h-3.50zM102.00 214.50h3.50v3.52h-3.50z"/>
<path fill="#8d8d8d" d="M179.00 36.00h3.50v3.52h-3.50zM182.50 67.50h3.50v3.52h-3.50zM329.50 74.50h3.50v3.52h-3.50zM273.50 120.00h3.50v3.52h-3.50zM270.00 123.50h3.50v3.52h-3.50zM228.00 172.50h3.50v3.52h-3.50zM350.50 242.50h3.50v3.52h-3.50z"/>
<path fill="#909090" d="M158.00 190.00h3.50v3.52h-3.50zM235.00 232.00h3.50v3.52h-3.50z"/>
<path fill="#939393" d="M98.50 50.00h3.50v3.52h-3.50zM116.00 64.00h3.50v3.52h-3.50zM158.00 67.50h3.50v3.52h-3.50zM130.00 130.50h3.50v3.52h-3.50zM217.50 256.50h3.50v3.52h-3.50z"/>
<path fill="#969696" d="M137.00 60.50h3.50v3.52h-3.50zM256.00 144.50h3.50v3.52h-3.50zM98.50 148.00h3.50v3.52h-3.50zM130.00 200.50h3.50v3.52h-3.50zM196.50 253.00h3.50v3.52h-3.50z"/>
<path fill="#9c9c9c" d="M340.00 158.50h3.50v3.52h-3.50z"/>
<path fill="#9f9f9f" d="M340.00 176.00h3.50v3.52h-3.50zM165.00 200.50h3.50v3.52h-3.50z"/>
<path fill="#a2a2a2" d="M133.50 200.50h3.50v3.52h-3.50z"/>
<path fill="#a5a5a5" d="M287.50 36.00h3.50v3.52h-3.50zM270.00 120.00h3.50v3.52h-3.50z"/>
<path fill="#a8a8a8" d="M263.00 309.00h3.50v3.52h-3.50z"/>
<path fill="#ababab" d="M235.00 172.50h3.50v3.52h-3.50z"/>
<path fill="#bdbdbd" d="M231.50 165.50h3.50v3.52h-3.50zM105.50 302.00h3.50v3.52h-3.50z"/>
<path fill="#c9c9c9" d="M228.00 169.00h3.50v3.52h-3.50zM231.50 172.50h3.50v3.52h-3.50z"/>
<path fill="#dbdbdb" d="M235.00 169.00h3.50v3.52h-3.50z"/>
<path fill="#ffffff" d="M231.50 169.00h3.50v3.52h-3.50z"/>
</g>
<rect x="91.5" y="32.5" width="280.0" height="280.0" fill="none" stroke="#000" stroke-width="1.11"/>
<path d="M186.43 125.33L194.77 133.67M186.43 133.67L194.77 125.33" stroke="#0000ff" stroke-width="1.5" fill="none"/>
<path d="M229.03 166.33L237.37 174.67M229.03 174.67L237.37 166.33" stroke="#ff0000" stroke-width="1.5" fill="none"/>
<line x1="122.70" y1="32.50" x2="120.80" y2="28.10" stroke="#000" stroke-width="1.11" />
<line x1="201.60" y1="32.50" x2="199.70" y2="28.10" stroke="#000" stroke-width="1.11" />
<line x1="279.60" y1="32.50" x2="277.70" y2="28.10" stroke="#000" stroke-width="1.11" />
<line x1="358.70" y1="32.50" x2="356.80" y2="28.10" stroke="#000" stroke-width="1.11" />
<line x1="143.20" y1="312.50" x2="145.10" y2="316.90" stroke="#000" stroke-width="1.11" />
<line x1="219.80" y1="312.50" x2="221.70" y2="316.90" stroke="#000" stroke-width="1.11" />
<line x1="296.10" y1="312.50" x2="298.00" y2="316.90" stroke="#000" stroke-width="1.11" />
<line x1="371.40" y1="312.50" x2="373.30" y2="316.90" stroke="#000" stroke-width="1.11" />
<line x1="91.50" y1="73.60" x2="86.80" y2="74.50" stroke="#000" stroke-width="1.11" />
<line x1="91.50" y1="156.70" x2="86.80" y2="157.60" stroke="#000" stroke-width="1.11" />
<line x1="91.50" y1="240.00" x2="86.80" y2="240.90" stroke="#000" stroke-width="1.11" />
<line x1="371.50" y1="109.80" x2="376.20" y2="108.90" stroke="#000" stroke-width="1.11" />
<line x1="371.50" y1="192.50" x2="376.20" y2="191.60" stroke="#000" stroke-width="1.11" />
<line x1="371.50" y1="275.20" x2="376.20" y2="274.30" stroke="#000" stroke-width="1.11" />
<line x1="338.00" y1="32.50" x2="342.50" y2="31.50" stroke="#000" stroke-width="1.11" />
<line x1="148.50" y1="313.10" x2="153.50" y2="312.70" stroke="#000" stroke-width="1.11" />
<line x1="91.50" y1="168.00" x2="89.10" y2="164.30" stroke="#000" stroke-width="1.11" />
<line x1="371.50" y1="77.00" x2="373.10" y2="80.80" stroke="#000" stroke-width="1.11" />
<text x="210.86" y="23.70" font-size="17.17" textLength="41.28" lengthAdjust="spacingAndGlyphs" fill="#000">Filter</text>
<text x="30.48" y="76.90" font-size="14.31" textLength="51.12" lengthAdjust="spacingAndGlyphs" fill="#000">-55°20'</text>
<text x="60.11" y="160.00" font-size="14.31" textLength="21.49" lengthAdjust="spacingAndGlyphs" fill="#000">40'</text>
<text x="30.48" y="243.30" font-size="14.31" textLength="51.12" lengthAdjust="spacingAndGlyphs" fill="#000">-56°00'</text>
<text transform="translate(20.60 174.90) rotate(-90)" x="-13.44" y="0" font-size="14.31" textLength="26.88" lengthAdjust="spacingAndGlyphs" fill="#000">Dec</text>
<rect x="380.5" y="32.5" width="9.0" height="280.0" fill="url(#gr)" stroke="#000" stroke-width="1.11"/>
<line x1="389.50" y1="35.50" x2="394.36" y2="35.50" stroke="#000" stroke-width="1.11" />
<text x="399.70" y="40.90" font-size="14.31" textLength="22.09" lengthAdjust="spacingAndGlyphs" fill="#000">0.6</text>
<line x1="389.50" y1="86.50" x2="394.36" y2="86.50" stroke="#000" stroke-width="1.11" />
<text x="399.70" y="91.90" font-size="14.31" textLength="22.09" lengthAdjust="spacingAndGlyphs" fill="#000">0.5</text>
<line x1="389.50" y1="137.50" x2="394.36" y2="137.50" stroke="#000" stroke-width="1.11" />
<text x="399.70" y="142.90" font-size="14.31" textLength="22.09" lengthAdjust="spacingAndGlyphs" fill="#000">0.4</text>
<line x1="389.50" y1="188.50" x2="394.36" y2="188.50" stroke="#000" stroke-width="1.11" />
<text x="399.70" y="193.90" font-size="14.31" textLength="22.09" lengthAdjust="spacingAndGlyphs" fill="#000">0.3</text>
<line x1="389.50" y1="239.50" x2="394.36" y2="239.50" stroke="#000" stroke-width="1.11" />
<text x="399.70" y="244.90" font-size="14.31" textLength="22.09" lengthAdjust="spacingAndGlyphs" fill="#000">0.2</text>
<line x1="389.50" y1="290.50" x2="394.36" y2="290.50" stroke="#000" stroke-width="1.11" />
<text x="399.70" y="295.90" font-size="14.31" textLength="22.09" lengthAdjust="spacingAndGlyphs" fill="#000">0.1</text>
<text transform="translate(436.20 172.70) rotate(-90)" x="-49.53" y="0" font-size="14.31" textLength="99.05" lengthAdjust="spacingAndGlyphs" fill="#000">arbitrary units</text>
<rect x="470.5" y="32.5" width="360.0" height="280.0" fill="none" stroke="#000" stroke-width="1.11"/>
<g clip-path="url(#cL)">
<polyline points="470.00,44.30 485.00,213.70 500.00,266.80 515.00,294.40 530.00,281.10 545.00,238.10 560.00,252.90 575.00,286.70 590.00,237.00 605.00,278.70 620.00,275.60 635.00,251.80 650.00,275.60 665.00,280.90 680.00,298.80 695.00,259.10 710.00,248.50 725.00,243.90 740.00,242.60 755.00,295.90 770.00,257.30 785.00,256.40 800.00,284.20 815.00,226.90 830.00,221.40" fill="none" stroke="#1f77b4" stroke-width="2.08" stroke-linejoin="round" stroke-linecap="square"/>
<line x1="470.00" y1="228.20" x2="830.50" y2="228.20" stroke="#000" stroke-width="2.08" stroke-dasharray="7.71 3.33"/>
<line x1="470.00" y1="258.00" x2="830.50" y2="258.00" stroke="#000" stroke-width="2.08" stroke-dasharray="7.71 3.33"/>
<line x1="470.00" y1="287.80" x2="830.50" y2="287.80" stroke="#000" stroke-width="2.08" stroke-dasharray="7.71 3.33"/>
</g>
<line x1="470.50" y1="312.50" x2="470.50" y2="317.36" stroke="#000" stroke-width="1.11" />
<text x="466.08" y="332.60" font-size="14.31" textLength="8.84" lengthAdjust="spacingAndGlyphs" fill="#000">0</text>
<line x1="545.50" y1="312.50" x2="545.50" y2="317.36" stroke="#000" stroke-width="1.11" />
<text x="536.66" y="332.60" font-size="14.31" textLength="17.67" lengthAdjust="spacingAndGlyphs" fill="#000">20</text>
<line x1="620.50" y1="312.50" x2="620.50" y2="317.36" stroke="#000" stroke-width="1.11" />
<text x="611.66" y="332.60" font-size="14.31" textLength="17.67" lengthAdjust="spacingAndGlyphs" fill="#000">40</text>
<line x1="695.50" y1="312.50" x2="695.50" y2="317.36" stroke="#000" stroke-width="1.11" />
<text x="686.66" y="332.60" font-size="14.31" textLength="17.67" lengthAdjust="spacingAndGlyphs" fill="#000">60</text>
<line x1="770.50" y1="312.50" x2="770.50" y2="317.36" stroke="#000" stroke-width="1.11" />
<text x="761.66" y="332.60" font-size="14.31" textLength="17.67" lengthAdjust="spacingAndGlyphs" fill="#000">80</text>
<line x1="830.50" y1="44.50" x2="835.36" y2="44.50" stroke="#000" stroke-width="1.11" />
<text x="840.20" y="49.90" font-size="14.31" textLength="26.51" lengthAdjust="spacingAndGlyphs" fill="#000">500</text>
<line x1="830.50" y1="87.50" x2="835.36" y2="87.50" stroke="#000" stroke-width="1.11" />
<text x="840.20" y="92.90" font-size="14.31" textLength="26.51" lengthAdjust="spacingAndGlyphs" fill="#000">400</text>
<line x1="830.50" y1="130.50" x2="835.36" y2="130.50" stroke="#000" stroke-width="1.11" />
<text x="840.20" y="135.90" font-size="14.31" textLength="26.51" lengthAdjust="spacingAndGlyphs" fill="#000">300</text>
<line x1="830.50" y1="173.50" x2="835.36" y2="173.50" stroke="#000" stroke-width="1.11" />
<text x="840.20" y="178.90" font-size="14.31" textLength="26.51" lengthAdjust="spacingAndGlyphs" fill="#000">200</text>
<line x1="830.50" y1="216.50" x2="835.36" y2="216.50" stroke="#000" stroke-width="1.11" />
<text x="840.20" y="221.90" font-size="14.31" textLength="26.51" lengthAdjust="spacingAndGlyphs" fill="#000">100</text>
<line x1="830.50" y1="258.50" x2="835.36" y2="258.50" stroke="#000" stroke-width="1.11" />
<text x="840.20" y="263.90" font-size="14.31" textLength="8.84" lengthAdjust="spacingAndGlyphs" fill="#000">0</text>
<line x1="830.50" y1="301.50" x2="835.36" y2="301.50" stroke="#000" stroke-width="1.11" />
<text x="840.20" y="306.90" font-size="14.31" textLength="38.15" lengthAdjust="spacingAndGlyphs" fill="#000">−100</text>
<text x="601.37" y="23.70" font-size="17.17" textLength="96.06" lengthAdjust="spacingAndGlyphs" fill="#000">Light Curve</text>
<text x="621.56" y="352.70" font-size="14.31" textLength="56.48" lengthAdjust="spacingAndGlyphs" fill="#000">Time (s)</text>
<text transform="translate(892.40 173.00) rotate(-90)" x="-79.58" y="0" font-size="14.31" textLength="159.16" lengthAdjust="spacingAndGlyphs" fill="#000">Brightness (mJy/beam)</text>
<g clip-path="url(#cG)">
<rect x="71.5" y="345.5" width="320" height="320" fill="#242424"/>
<g filter="url(#b3)">
<rect x="69.5" y="343.5" width="324.0" height="324.0" fill="#242424"/>
<path fill="#000000" d="M211.5 353.5h4v4h-4zM279.5 353.5h4v4h-4zM347.5 353.5h4v4h-4zM167.5 357.5h4v4h-4zM283.5 357.5h4v4h-4zM307.5 357.5h4v4h-4zM79.5 361.5h12v4h-12zM115.5 361.5h4v4h-4zM79.5 365.5h20v4h-20zM91.5 369.5h8v4h-8zM163.5 369.5h4v4h-4zM243.5 369.5h4v4h-4zM327.5 369.5h8v4h-8zM95.5 373.5h4v4h-4zM215.5 373.5h8v4h-8zM243.5 373.5h4v4h-4zM251.5 373.5h8v4h-8zM327.5 373.5h4v4h-4zM95.5 377.5h4v4h-4zM103.5 377.5h16v4h-16zM147.5 377.5h4v4h-4zM195.5 377.5h4v4h-4zM215.5 377.5h8v4h-8zM251.5 377.5h12v4h-12zM323.5 377.5h8v4h-8zM343.5 377.5h8v4h-8zM103.5 381.5h16v4h-16zM143.5 381.5h8v4h-8zM215.5 381.5h4v4h-4zM251.5 381.5h8v4h-8zM335.5 381.5h16v4h-16zM207.5 385.5h12v4h-12zM331.5 385.5h12v4h-12zM203.5 389.5h16v4h-16zM339.5 389.5h4v4h-4zM87.5 393.5h8v4h-8zM203.5 393.5h8v4h-8zM255.5 393.5h4v4h-4zM283.5 393.5h4v4h-4zM291.5 393.5h12v4h-12zM87.5 397.5h8v4h-8zM103.5 397.5h8v4h-8zM203.5 397.5h4v4h-4zM243.5 397.5h16v4h-16zM283.5 397.5h20v4h-20zM307.5 397.5h8v4h-8zM331.5 397.5h4v4h-4zM363.5 397.5h4v4h-4zM103.5 401.5h8v4h-8zM191.5 401.5h8v4h-8zM203.5 401.5h4v4h-4zM239.5 401.5h16v4h-16zM287.5 401.5h12v4h-12zM331.5 401.5h8v4h-8zM363.5 401.5h4v4h-4zM91.5 405.5h8v4h-8zM195.5 405.5h4v4h-4zM207.5 405.5h4v4h-4zM243.5 405.5h4v4h-4zM287.5 405.5h8v4h-8zM79.5 409.5h4v4h-4zM91.5 409.5h8v4h-8zM119.5 409.5h4v4h-4zM351.5 409.5h8v4h-8zM247.5 413.5h4v4h-4zM347.5 413.5h8v4h-8zM379.5 413.5h4v4h-4zM247.5 417.5h8v4h-8zM343.5 417.5h8v4h-8zM107.5 421.5h4v4h-4zM271.5 421.5h8v4h-8zM343.5 421.5h4v4h-4zM379.5 421.5h4v4h-4zM103.5 425.5h8v4h-8zM223.5 425.5h4v4h-4zM267.5 425.5h12v4h-12zM143.5 429.5h4v4h-4zM163.5 429.5h4v4h-4zM199.5 429.5h8v4h-8zM247.5 429.5h4v4h-4zM331.5 429.5h16v4h-16zM143.5 433.5h4v4h-4zM159.5 433.5h8v4h-8zM247.5 433.5h12v4h-12zM331.5 433.5h16v4h-16zM359.5 433.5h4v4h-4zM131.5 437.5h24v4h-24zM171.5 437.5h4v4h-4zM219.5 437.5h12v4h-12zM247.5 437.5h16v4h-16zM331.5 437.5h8v4h-8zM359.5 437.5h4v4h-4zM131.5 441.5h16v4h-16zM203.5 441.5h4v4h-4zM219.5 441.5h16v4h-16zM247.5 441.5h12v4h-12zM323.5 441.5h8v4h-8zM335.5 441.5h4v4h-4zM203.5 445.5h4v4h-4zM223.5 445.5h8v4h-8zM247.5 445.5h8v4h-8zM319.5 445.5h8v4h-8zM219.5 449.5h12v4h-12zM247.5 449.5h16v4h-16zM299.5 449.5h4v4h-4zM131.5 453.5h4v4h-4zM331.5 453.5h4v4h-4zM115.5 457.5h8v4h-8zM323.5 457.5h16v4h-16zM255.5 461.5h4v4h-4zM319.5 461.5h4v4h-4zM331.5 461.5h8v4h-8zM151.5 465.5h4v4h-4zM235.5 465.5h8v4h-8zM255.5 465.5h4v4h-4zM331.5 465.5h8v4h-8zM379.5 465.5h4v4h-4zM147.5 469.5h4v4h-4zM187.5 469.5h4v4h-4zM331.5 469.5h8v4h-8zM363.5 469.5h4v4h-4zM379.5 469.5h4v4h-4zM123.5 473.5h4v4h-4zM147.5 473.5h4v4h-4zM171.5 473.5h20v4h-20zM331.5 473.5h12v4h-12zM363.5 473.5h8v4h-8zM143.5 477.5h8v4h-8zM167.5 477.5h8v4h-8zM179.5 477.5h12v4h-12zM199.5 477.5h8v4h-8zM215.5 477.5h8v4h-8zM339.5 477.5h8v4h-8zM363.5 477.5h12v4h-12zM143.5 481.5h8v4h-8zM159.5 481.5h8v4h-8zM183.5 481.5h4v4h-4zM195.5 481.5h12v4h-12zM215.5 481.5h8v4h-8zM363.5 481.5h12v4h-12zM147.5 485.5h8v4h-8zM191.5 485.5h4v4h-4zM239.5 485.5h12v4h-12zM363.5 485.5h20v4h-20zM147.5 489.5h8v4h-8zM375.5 489.5h8v4h-8zM127.5 493.5h12v4h-12zM147.5 493.5h4v4h-4zM191.5 493.5h8v4h-8zM279.5 493.5h12v4h-12zM311.5 493.5h4v4h-4zM127.5 497.5h12v4h-12zM191.5 497.5h8v4h-8zM279.5 497.5h12v4h-12zM307.5 497.5h8v4h-8zM103.5 501.5h8v4h-8zM127.5 501.5h8v4h-8zM147.5 501.5h4v4h-4zM283.5 501.5h4v4h-4zM295.5 501.5h12v4h-12zM99.5 505.5h12v4h-12zM131.5 505.5h4v4h-4zM143.5 505.5h8v4h-8zM215.5 505.5h8v4h-8zM291.5 505.5h12v4h-12zM79.5 509.5h4v4h-4zM103.5 509.5h8v4h-8zM131.5 509.5h4v4h-4zM203.5 509.5h4v4h-4zM291.5 509.5h12v4h-12zM351.5 509.5h8v4h-8zM111.5 513.5h8v4h-8zM227.5 513.5h8v4h-8zM247.5 513.5h8v4h-8zM259.5 513.5h8v4h-8zM291.5 513.5h8v4h-8zM347.5 513.5h12v4h-12zM375.5 513.5h8v4h-8zM227.5 517.5h4v4h-4zM259.5 517.5h24v4h-24zM291.5 517.5h8v4h-8zM347.5 517.5h16v4h-16zM371.5 517.5h4v4h-4zM91.5 521.5h12v4h-12zM267.5 521.5h16v4h-16zM347.5 521.5h16v4h-16zM271.5 525.5h8v4h-8zM355.5 525.5h4v4h-4zM127.5 529.5h12v4h-12zM179.5 529.5h12v4h-12zM307.5 529.5h8v4h-8zM359.5 529.5h8v4h-8zM127.5 533.5h12v4h-12zM179.5 533.5h24v4h-24zM255.5 533.5h4v4h-4zM307.5 533.5h8v4h-8zM79.5 537.5h4v4h-4zM99.5 537.5h4v4h-4zM135.5 537.5h4v4h-4zM163.5 537.5h4v4h-4zM179.5 537.5h12v4h-12zM251.5 537.5h12v4h-12zM79.5 541.5h8v4h-8zM99.5 541.5h8v4h-8zM375.5 541.5h8v4h-8zM275.5 545.5h4v4h-4zM375.5 545.5h8v4h-8zM111.5 549.5h4v4h-4zM167.5 549.5h8v4h-8zM271.5 549.5h12v4h-12zM343.5 549.5h4v4h-4zM131.5 553.5h8v4h-8zM163.5 553.5h8v4h-8zM275.5 553.5h4v4h-4zM343.5 553.5h4v4h-4zM127.5 557.5h16v4h-16zM163.5 557.5h12v4h-12zM331.5 557.5h4v4h-4zM359.5 557.5h4v4h-4zM375.5 557.5h4v4h-4zM131.5 561.5h8v4h-8zM163.5 561.5h20v4h-20zM255.5 561.5h4v4h-4zM327.5 561.5h4v4h-4zM359.5 561.5h4v4h-4zM379.5 561.5h4v4h-4zM87.5 565.5h8v4h-8zM135.5 565.5h16v4h-16zM159.5 565.5h24v4h-24zM211.5 565.5h4v4h-4zM251.5 565.5h8v4h-8zM279.5 565.5h4v4h-4zM327.5 565.5h4v4h-4zM87.5 569.5h4v4h-4zM135.5 569.5h32v4h-32zM207.5 569.5h8v4h-8zM231.5 569.5h8v4h-8zM247.5 569.5h12v4h-12zM135.5 573.5h4v4h-4zM143.5 573.5h12v4h-12zM231.5 573.5h8v4h-8zM251.5 573.5h8v4h-8zM327.5 573.5h4v4h-4zM143.5 577.5h8v4h-8zM187.5 577.5h8v4h-8zM231.5 577.5h8v4h-8zM243.5 577.5h24v4h-24zM327.5 577.5h4v4h-4zM131.5 581.5h4v4h-4zM171.5 581.5h4v4h-4zM187.5 581.5h12v4h-12zM231.5 581.5h8v4h-8zM247.5 581.5h4v4h-4zM255.5 581.5h12v4h-12zM327.5 581.5h8v4h-8zM363.5 581.5h4v4h-4zM371.5 581.5h4v4h-4zM127.5 585.5h8v4h-8zM167.5 585.5h8v4h-8zM191.5 585.5h4v4h-4zM227.5 585.5h8v4h-8zM291.5 585.5h8v4h-8zM327.5 585.5h4v4h-4zM355.5 585.5h20v4h-20zM127.5 589.5h12v4h-12zM163.5 589.5h12v4h-12zM287.5 589.5h12v4h-12zM327.5 589.5h4v4h-4zM347.5 589.5h4v4h-4zM359.5 589.5h12v4h-12zM163.5 593.5h12v4h-12zM287.5 593.5h8v4h-8zM343.5 593.5h4v4h-4zM115.5 597.5h4v4h-4zM163.5 597.5h12v4h-12zM339.5 597.5h8v4h-8zM127.5 601.5h4v4h-4zM167.5 601.5h4v4h-4zM199.5 601.5h8v4h-8zM299.5 601.5h8v4h-8zM311.5 601.5h4v4h-4zM327.5 601.5h4v4h-4zM339.5 601.5h8v4h-8zM79.5 605.5h4v4h-4zM127.5 605.5h8v4h-8zM143.5 605.5h8v4h-8zM195.5 605.5h12v4h-12zM239.5 605.5h4v4h-4zM275.5 605.5h8v4h-8zM303.5 605.5h4v4h-4zM327.5 605.5h20v4h-20zM143.5 609.5h12v4h-12zM191.5 609.5h12v4h-12zM251.5 609.5h4v4h-4zM275.5 609.5h8v4h-8zM339.5 609.5h8v4h-8zM223.5 613.5h4v4h-4zM223.5 617.5h8v4h-8zM155.5 621.5h8v4h-8zM223.5 621.5h12v4h-12zM151.5 625.5h12v4h-12zM223.5 625.5h12v4h-12zM151.5 629.5h8v4h-8zM223.5 629.5h8v4h-8zM327.5 629.5h4v4h-4zM371.5 629.5h8v4h-8zM183.5 633.5h4v4h-4zM227.5 633.5h4v4h-4zM259.5 633.5h8v4h-8zM371.5 633.5h12v4h-12zM143.5 637.5h8v4h-8zM183.5 637.5h8v4h-8zM259.5 637.5h8v4h-8zM79.5 641.5h4v4h-4zM183.5 641.5h12v4h-12zM111.5 645.5h4v4h-4zM187.5 645.5h8v4h-8zM287.5 645.5h4v4h-4zM111.5 649.5h8v4h-8zM187.5 649.5h8v4h-8zM319.5 649.5h8v4h-8zM331.5 649.5h20v4h-20zM163.5 653.5h4v4h-4zM171.5 653.5h8v4h-8zM187.5 653.5h8v4h-8zM287.5 653.5h8v4h-8zM307.5 653.5h4v4h-4zM319.5 653.5h8v4h-8zM339.5 653.5h8v4h-8z"/>
<path fill="#040404" d="M283.5 353.5h4v4h-4zM307.5 353.5h4v4h-4zM211.5 357.5h4v4h-4zM267.5 357.5h4v4h-4zM91.5 361.5h4v4h-4zM267.5 361.5h4v4h-4zM135.5 365.5h4v4h-4zM215.5 365.5h4v4h-4zM331.5 365.5h4v4h-4zM359.5 365.5h4v4h-4zM99.5 369.5h4v4h-4zM103.5 373.5h4v4h-4zM163.5 373.5h4v4h-4zM191.5 373.5h8v4h-8zM315.5 373.5h4v4h-4zM331.5 373.5h4v4h-4zM99.5 377.5h4v4h-4zM191.5 377.5h4v4h-4zM319.5 377.5h4v4h-4zM351.5 377.5h4v4h-4zM263.5 381.5h4v4h-4zM327.5 381.5h4v4h-4zM143.5 385.5h4v4h-4zM203.5 385.5h4v4h-4zM327.5 385.5h4v4h-4zM343.5 385.5h4v4h-4zM87.5 389.5h4v4h-4zM199.5 393.5h4v4h-4zM211.5 393.5h4v4h-4zM287.5 393.5h4v4h-4zM199.5 397.5h4v4h-4zM207.5 397.5h4v4h-4zM315.5 397.5h4v4h-4zM99.5 401.5h4v4h-4zM199.5 401.5h4v4h-4zM207.5 401.5h4v4h-4zM283.5 401.5h4v4h-4zM199.5 405.5h4v4h-4zM351.5 405.5h4v4h-4zM123.5 409.5h4v4h-4zM195.5 409.5h4v4h-4zM287.5 413.5h4v4h-4zM243.5 417.5h4v4h-4zM255.5 417.5h4v4h-4zM379.5 417.5h4v4h-4zM103.5 421.5h4v4h-4zM79.5 425.5h4v4h-4zM219.5 425.5h4v4h-4zM379.5 425.5h4v4h-4zM159.5 429.5h4v4h-4zM207.5 429.5h4v4h-4zM243.5 429.5h4v4h-4zM167.5 433.5h4v4h-4zM243.5 433.5h4v4h-4zM259.5 433.5h4v4h-4zM287.5 433.5h4v4h-4zM155.5 437.5h8v4h-8zM167.5 437.5h4v4h-4zM339.5 437.5h4v4h-4zM379.5 437.5h4v4h-4zM127.5 441.5h4v4h-4zM375.5 441.5h4v4h-4zM231.5 445.5h4v4h-4zM243.5 445.5h4v4h-4zM203.5 449.5h4v4h-4zM119.5 453.5h4v4h-4zM127.5 453.5h4v4h-4zM327.5 453.5h4v4h-4zM347.5 453.5h4v4h-4zM359.5 453.5h8v4h-8zM131.5 457.5h4v4h-4zM187.5 457.5h4v4h-4zM255.5 457.5h4v4h-4zM259.5 461.5h8v4h-8zM327.5 461.5h4v4h-4zM159.5 465.5h4v4h-4zM259.5 465.5h4v4h-4zM103.5 469.5h4v4h-4zM367.5 469.5h4v4h-4zM359.5 473.5h4v4h-4zM299.5 477.5h4v4h-4zM335.5 477.5h4v4h-4zM167.5 481.5h4v4h-4zM243.5 481.5h4v4h-4zM375.5 481.5h4v4h-4zM155.5 485.5h4v4h-4zM111.5 497.5h4v4h-4zM147.5 497.5h4v4h-4zM187.5 497.5h4v4h-4zM303.5 497.5h4v4h-4zM195.5 501.5h4v4h-4zM215.5 501.5h8v4h-8zM351.5 501.5h4v4h-4zM95.5 505.5h4v4h-4zM199.5 505.5h4v4h-4zM83.5 509.5h4v4h-4zM111.5 509.5h4v4h-4zM159.5 509.5h4v4h-4zM207.5 509.5h4v4h-4zM163.5 513.5h4v4h-4zM91.5 517.5h4v4h-4zM231.5 517.5h4v4h-4zM87.5 521.5h4v4h-4zM295.5 521.5h4v4h-4zM371.5 521.5h4v4h-4zM155.5 525.5h4v4h-4zM359.5 525.5h4v4h-4zM367.5 525.5h4v4h-4zM243.5 533.5h4v4h-4zM259.5 533.5h4v4h-4zM95.5 537.5h4v4h-4zM247.5 537.5h4v4h-4zM107.5 541.5h4v4h-4zM259.5 541.5h4v4h-4zM107.5 545.5h8v4h-8zM271.5 545.5h4v4h-4zM279.5 545.5h4v4h-4zM107.5 549.5h4v4h-4zM115.5 549.5h4v4h-4zM203.5 549.5h4v4h-4zM127.5 553.5h4v4h-4zM339.5 553.5h4v4h-4zM311.5 557.5h4v4h-4zM363.5 557.5h4v4h-4zM371.5 557.5h4v4h-4zM91.5 561.5h8v4h-8zM279.5 561.5h4v4h-4zM363.5 561.5h4v4h-4zM131.5 565.5h4v4h-4zM151.5 565.5h4v4h-4zM275.5 565.5h4v4h-4zM91.5 569.5h4v4h-4zM327.5 569.5h4v4h-4zM139.5 573.5h4v4h-4zM207.5 573.5h8v4h-8zM223.5 581.5h8v4h-8zM243.5 581.5h4v4h-4zM323.5 581.5h4v4h-4zM187.5 585.5h4v4h-4zM235.5 585.5h4v4h-4zM347.5 585.5h4v4h-4zM159.5 589.5h4v4h-4zM231.5 589.5h4v4h-4zM343.5 589.5h4v4h-4zM115.5 593.5h4v4h-4zM159.5 593.5h4v4h-4zM295.5 593.5h4v4h-4zM119.5 597.5h4v4h-4zM203.5 597.5h4v4h-4zM299.5 597.5h4v4h-4zM147.5 601.5h4v4h-4zM275.5 601.5h4v4h-4zM315.5 601.5h4v4h-4zM299.5 605.5h4v4h-4zM307.5 605.5h4v4h-4zM203.5 609.5h8v4h-8zM327.5 609.5h8v4h-8zM379.5 609.5h4v4h-4zM231.5 617.5h4v4h-4zM91.5 625.5h8v4h-8zM139.5 625.5h4v4h-4zM371.5 625.5h4v4h-4zM147.5 633.5h8v4h-8zM239.5 633.5h4v4h-4zM267.5 633.5h4v4h-4zM355.5 637.5h4v4h-4zM115.5 645.5h4v4h-4zM127.5 645.5h4v4h-4zM287.5 649.5h4v4h-4zM327.5 649.5h4v4h-4zM159.5 653.5h4v4h-4zM303.5 653.5h4v4h-4zM327.5 653.5h4v4h-4zM335.5 653.5h4v4h-4z"/>
<path fill="#080808" d="M207.5 353.5h4v4h-4zM271.5 353.5h8v4h-8zM79.5 357.5h4v4h-4zM143.5 357.5h4v4h-4zM271.5 357.5h4v4h-4zM287.5 357.5h4v4h-4zM111.5 361.5h4v4h-4zM115.5 365.5h4v4h-4zM139.5 365.5h4v4h-4zM271.5 365.5h4v4h-4zM335.5 365.5h4v4h-4zM363.5 365.5h4v4h-4zM87.5 369.5h4v4h-4zM135.5 369.5h4v4h-4zM359.5 369.5h4v4h-4zM99.5 373.5h4v4h-4zM319.5 373.5h8v4h-8zM263.5 377.5h4v4h-4zM139.5 381.5h4v4h-4zM211.5 381.5h4v4h-4zM259.5 381.5h4v4h-4zM275.5 381.5h8v4h-8zM255.5 389.5h4v4h-4zM299.5 389.5h4v4h-4zM327.5 389.5h8v4h-8zM99.5 397.5h4v4h-4zM239.5 397.5h4v4h-4zM303.5 397.5h4v4h-4zM359.5 397.5h4v4h-4zM91.5 401.5h4v4h-4zM255.5 401.5h4v4h-4zM299.5 401.5h4v4h-4zM179.5 405.5h4v4h-4zM191.5 405.5h4v4h-4zM203.5 405.5h4v4h-4zM247.5 405.5h4v4h-4zM83.5 409.5h4v4h-4zM115.5 409.5h4v4h-4zM179.5 409.5h4v4h-4zM95.5 413.5h4v4h-4zM155.5 413.5h4v4h-4zM251.5 413.5h12v4h-12zM343.5 413.5h4v4h-4zM375.5 413.5h4v4h-4zM211.5 421.5h4v4h-4zM251.5 421.5h4v4h-4zM267.5 421.5h4v4h-4zM347.5 421.5h4v4h-4zM367.5 421.5h4v4h-4zM375.5 421.5h4v4h-4zM143.5 425.5h4v4h-4zM343.5 425.5h4v4h-4zM363.5 429.5h4v4h-4zM147.5 433.5h4v4h-4zM207.5 433.5h4v4h-4zM163.5 437.5h4v4h-4zM215.5 437.5h4v4h-4zM243.5 437.5h4v4h-4zM287.5 437.5h4v4h-4zM355.5 437.5h4v4h-4zM319.5 441.5h4v4h-4zM355.5 441.5h4v4h-4zM379.5 441.5h4v4h-4zM135.5 445.5h4v4h-4zM299.5 445.5h4v4h-4zM243.5 449.5h4v4h-4zM367.5 449.5h4v4h-4zM123.5 453.5h4v4h-4zM335.5 453.5h4v4h-4zM343.5 453.5h4v4h-4zM259.5 457.5h4v4h-4zM103.5 465.5h4v4h-4zM147.5 465.5h4v4h-4zM171.5 469.5h4v4h-4zM191.5 469.5h4v4h-4zM299.5 473.5h4v4h-4zM371.5 473.5h4v4h-4zM123.5 477.5h4v4h-4zM151.5 481.5h4v4h-4zM239.5 481.5h4v4h-4zM139.5 485.5h4v4h-4zM187.5 485.5h4v4h-4zM195.5 485.5h4v4h-4zM191.5 489.5h4v4h-4zM211.5 493.5h4v4h-4zM307.5 493.5h4v4h-4zM323.5 493.5h4v4h-4zM299.5 497.5h4v4h-4zM347.5 497.5h4v4h-4zM111.5 501.5h4v4h-4zM187.5 501.5h4v4h-4zM287.5 501.5h4v4h-4zM127.5 505.5h4v4h-4zM207.5 505.5h4v4h-4zM351.5 505.5h12v4h-12zM199.5 509.5h4v4h-4zM359.5 509.5h4v4h-4zM159.5 513.5h4v4h-4zM199.5 513.5h8v4h-8zM243.5 513.5h4v4h-4zM275.5 513.5h8v4h-8zM287.5 513.5h4v4h-4zM343.5 513.5h4v4h-4zM359.5 513.5h4v4h-4zM95.5 517.5h4v4h-4zM223.5 517.5h4v4h-4zM375.5 517.5h4v4h-4zM103.5 521.5h4v4h-4zM319.5 521.5h4v4h-4zM159.5 525.5h4v4h-4zM195.5 529.5h4v4h-4zM355.5 529.5h4v4h-4zM139.5 533.5h4v4h-4zM355.5 533.5h8v4h-8zM167.5 537.5h4v4h-4zM263.5 537.5h4v4h-4zM83.5 545.5h4v4h-4zM103.5 545.5h4v4h-4zM135.5 549.5h4v4h-4zM163.5 549.5h4v4h-4zM339.5 549.5h4v4h-4zM171.5 553.5h4v4h-4zM279.5 553.5h4v4h-4zM359.5 553.5h4v4h-4zM367.5 557.5h4v4h-4zM139.5 561.5h8v4h-8zM215.5 561.5h4v4h-4zM271.5 561.5h4v4h-4zM355.5 561.5h4v4h-4zM375.5 561.5h4v4h-4zM247.5 565.5h4v4h-4zM215.5 569.5h4v4h-4zM307.5 569.5h4v4h-4zM155.5 573.5h4v4h-4zM191.5 573.5h4v4h-4zM195.5 577.5h4v4h-4zM239.5 577.5h4v4h-4zM331.5 577.5h4v4h-4zM203.5 581.5h4v4h-4zM251.5 581.5h4v4h-4zM367.5 581.5h4v4h-4zM135.5 585.5h4v4h-4zM175.5 585.5h4v4h-4zM203.5 585.5h4v4h-4zM223.5 585.5h4v4h-4zM331.5 585.5h4v4h-4zM351.5 585.5h4v4h-4zM227.5 589.5h4v4h-4zM283.5 589.5h4v4h-4zM351.5 589.5h4v4h-4zM87.5 593.5h4v4h-4zM135.5 593.5h4v4h-4zM227.5 593.5h4v4h-4zM339.5 593.5h4v4h-4zM123.5 597.5h4v4h-4zM123.5 601.5h4v4h-4zM171.5 601.5h4v4h-4zM331.5 601.5h4v4h-4zM151.5 605.5h4v4h-4zM251.5 605.5h4v4h-4zM363.5 605.5h4v4h-4zM335.5 609.5h4v4h-4zM287.5 613.5h4v4h-4zM91.5 629.5h4v4h-4zM115.5 629.5h4v4h-4zM147.5 629.5h4v4h-4zM379.5 629.5h4v4h-4zM187.5 633.5h4v4h-4zM223.5 633.5h4v4h-4zM139.5 637.5h4v4h-4zM191.5 637.5h4v4h-4zM267.5 637.5h4v4h-4zM143.5 641.5h4v4h-4zM291.5 645.5h4v4h-4zM331.5 645.5h4v4h-4zM291.5 649.5h4v4h-4zM307.5 649.5h8v4h-8z"/>
<path fill="#0c0c0c" d="M199.5 353.5h4v4h-4zM315.5 353.5h4v4h-4zM343.5 353.5h4v4h-4zM351.5 353.5h4v4h-4zM83.5 357.5h4v4h-4zM207.5 357.5h4v4h-4zM311.5 357.5h4v4h-4zM143.5 361.5h4v4h-4zM251.5 361.5h4v4h-4zM271.5 361.5h4v4h-4zM307.5 361.5h4v4h-4zM99.5 365.5h4v4h-4zM111.5 365.5h4v4h-4zM143.5 365.5h4v4h-4zM83.5 369.5h4v4h-4zM159.5 369.5h4v4h-4zM187.5 369.5h4v4h-4zM215.5 369.5h4v4h-4zM275.5 369.5h4v4h-4zM247.5 373.5h4v4h-4zM347.5 373.5h4v4h-4zM267.5 377.5h4v4h-4zM275.5 377.5h4v4h-4zM219.5 381.5h4v4h-4zM267.5 381.5h4v4h-4zM331.5 381.5h4v4h-4zM111.5 385.5h4v4h-4zM219.5 385.5h8v4h-8zM219.5 389.5h8v4h-8zM323.5 389.5h4v4h-4zM343.5 389.5h4v4h-4zM83.5 393.5h4v4h-4zM259.5 393.5h4v4h-4zM131.5 397.5h4v4h-4zM335.5 397.5h4v4h-4zM87.5 401.5h4v4h-4zM95.5 401.5h4v4h-4zM187.5 401.5h4v4h-4zM211.5 405.5h4v4h-4zM251.5 405.5h4v4h-4zM347.5 409.5h4v4h-4zM79.5 413.5h4v4h-4zM179.5 413.5h4v4h-4zM243.5 413.5h4v4h-4zM263.5 413.5h4v4h-4zM339.5 413.5h4v4h-4zM355.5 413.5h4v4h-4zM367.5 417.5h4v4h-4zM207.5 421.5h4v4h-4zM247.5 421.5h4v4h-4zM207.5 425.5h4v4h-4zM247.5 425.5h4v4h-4zM367.5 425.5h4v4h-4zM139.5 433.5h4v4h-4zM171.5 433.5h4v4h-4zM203.5 433.5h4v4h-4zM211.5 433.5h12v4h-12zM291.5 433.5h4v4h-4zM327.5 437.5h4v4h-4zM375.5 437.5h4v4h-4zM331.5 441.5h4v4h-4zM139.5 445.5h4v4h-4zM199.5 445.5h4v4h-4zM207.5 445.5h4v4h-4zM219.5 445.5h4v4h-4zM255.5 445.5h4v4h-4zM303.5 445.5h4v4h-4zM119.5 449.5h4v4h-4zM159.5 449.5h4v4h-4zM347.5 449.5h4v4h-4zM135.5 453.5h4v4h-4zM255.5 453.5h8v4h-8zM299.5 453.5h4v4h-4zM355.5 453.5h4v4h-4zM123.5 457.5h8v4h-8zM263.5 457.5h4v4h-4zM339.5 457.5h4v4h-4zM159.5 461.5h4v4h-4zM315.5 465.5h4v4h-4zM375.5 465.5h4v4h-4zM151.5 469.5h4v4h-4zM375.5 469.5h4v4h-4zM83.5 473.5h4v4h-4zM295.5 473.5h4v4h-4zM375.5 473.5h4v4h-4zM175.5 477.5h4v4h-4zM195.5 477.5h4v4h-4zM255.5 477.5h4v4h-4zM295.5 477.5h4v4h-4zM179.5 481.5h4v4h-4zM191.5 481.5h4v4h-4zM223.5 481.5h4v4h-4zM235.5 481.5h4v4h-4zM247.5 481.5h4v4h-4zM91.5 485.5h8v4h-8zM143.5 485.5h4v4h-4zM203.5 485.5h4v4h-4zM215.5 485.5h4v4h-4zM307.5 485.5h4v4h-4zM127.5 489.5h8v4h-8zM283.5 489.5h4v4h-4zM367.5 489.5h8v4h-8zM151.5 493.5h4v4h-4zM295.5 493.5h4v4h-4zM107.5 497.5h4v4h-4zM211.5 497.5h4v4h-4zM323.5 497.5h4v4h-4zM367.5 497.5h4v4h-4zM95.5 501.5h8v4h-8zM115.5 501.5h4v4h-4zM135.5 501.5h4v4h-4zM143.5 501.5h4v4h-4zM191.5 501.5h4v4h-4zM211.5 501.5h4v4h-4zM359.5 501.5h8v4h-8zM203.5 505.5h4v4h-4zM211.5 505.5h4v4h-4zM287.5 505.5h4v4h-4zM127.5 509.5h4v4h-4zM239.5 509.5h4v4h-4zM287.5 509.5h4v4h-4zM207.5 513.5h4v4h-4zM215.5 513.5h4v4h-4zM255.5 513.5h4v4h-4zM267.5 513.5h4v4h-4zM299.5 513.5h4v4h-4zM315.5 517.5h4v4h-4zM195.5 521.5h4v4h-4zM263.5 521.5h4v4h-4zM315.5 521.5h4v4h-4zM367.5 521.5h4v4h-4zM83.5 525.5h8v4h-8zM363.5 525.5h4v4h-4zM139.5 529.5h4v4h-4zM155.5 529.5h4v4h-4zM191.5 529.5h4v4h-4zM239.5 533.5h4v4h-4zM247.5 533.5h8v4h-8zM283.5 533.5h4v4h-4zM159.5 537.5h4v4h-4zM171.5 537.5h4v4h-4zM191.5 537.5h4v4h-4zM199.5 537.5h4v4h-4zM243.5 537.5h4v4h-4zM307.5 537.5h4v4h-4zM159.5 541.5h8v4h-8zM255.5 541.5h4v4h-4zM335.5 541.5h4v4h-4zM243.5 545.5h4v4h-4zM347.5 549.5h8v4h-8zM375.5 549.5h4v4h-4zM111.5 553.5h4v4h-4zM139.5 553.5h4v4h-4zM271.5 553.5h4v4h-4zM307.5 557.5h4v4h-4zM355.5 557.5h4v4h-4zM127.5 561.5h4v4h-4zM159.5 561.5h4v4h-4zM211.5 561.5h4v4h-4zM275.5 561.5h4v4h-4zM311.5 561.5h4v4h-4zM351.5 561.5h4v4h-4zM155.5 565.5h4v4h-4zM215.5 565.5h4v4h-4zM243.5 565.5h4v4h-4zM259.5 565.5h4v4h-4zM267.5 565.5h8v4h-8zM303.5 565.5h8v4h-8zM363.5 565.5h4v4h-4zM167.5 569.5h8v4h-8zM247.5 573.5h4v4h-4zM135.5 577.5h4v4h-4zM227.5 577.5h4v4h-4zM167.5 581.5h4v4h-4zM347.5 581.5h4v4h-4zM163.5 585.5h4v4h-4zM247.5 585.5h4v4h-4zM323.5 585.5h4v4h-4zM83.5 589.5h8v4h-8zM119.5 593.5h8v4h-8zM347.5 593.5h4v4h-4zM363.5 593.5h8v4h-8zM295.5 597.5h4v4h-4zM363.5 601.5h4v4h-4zM123.5 605.5h4v4h-4zM235.5 605.5h4v4h-4zM311.5 605.5h4v4h-4zM123.5 609.5h8v4h-8zM155.5 609.5h4v4h-4zM239.5 609.5h4v4h-4zM143.5 613.5h4v4h-4zM191.5 613.5h4v4h-4zM379.5 613.5h4v4h-4zM235.5 621.5h4v4h-4zM143.5 625.5h8v4h-8zM299.5 625.5h4v4h-4zM139.5 629.5h8v4h-8zM259.5 629.5h4v4h-4zM215.5 633.5h4v4h-4zM351.5 637.5h4v4h-4zM83.5 641.5h4v4h-4zM127.5 641.5h4v4h-4zM147.5 641.5h4v4h-4zM259.5 641.5h4v4h-4zM287.5 641.5h4v4h-4zM159.5 649.5h4v4h-4zM315.5 649.5h4v4h-4zM143.5 653.5h4v4h-4zM179.5 653.5h8v4h-8zM311.5 653.5h8v4h-8zM347.5 653.5h4v4h-4z"/>
<path fill="#101010" d="M167.5 353.5h8v4h-8zM195.5 353.5h4v4h-4zM203.5 353.5h4v4h-4zM267.5 353.5h4v4h-4zM87.5 357.5h4v4h-4zM279.5 357.5h4v4h-4zM303.5 357.5h4v4h-4zM211.5 361.5h4v4h-4zM255.5 361.5h4v4h-4zM363.5 361.5h4v4h-4zM131.5 365.5h4v4h-4zM275.5 365.5h4v4h-4zM327.5 365.5h4v4h-4zM355.5 365.5h4v4h-4zM79.5 369.5h4v4h-4zM139.5 369.5h4v4h-4zM335.5 369.5h4v4h-4zM363.5 369.5h4v4h-4zM107.5 373.5h4v4h-4zM351.5 373.5h4v4h-4zM243.5 377.5h4v4h-4zM279.5 377.5h4v4h-4zM95.5 381.5h4v4h-4zM195.5 381.5h4v4h-4zM323.5 381.5h4v4h-4zM379.5 381.5h4v4h-4zM107.5 385.5h4v4h-4zM139.5 385.5h4v4h-4zM147.5 385.5h4v4h-4zM255.5 385.5h4v4h-4zM83.5 389.5h4v4h-4zM199.5 389.5h4v4h-4zM259.5 389.5h4v4h-4zM319.5 389.5h4v4h-4zM103.5 393.5h4v4h-4zM143.5 393.5h4v4h-4zM215.5 393.5h4v4h-4zM251.5 393.5h4v4h-4zM279.5 393.5h4v4h-4zM311.5 393.5h4v4h-4zM331.5 393.5h4v4h-4zM363.5 393.5h4v4h-4zM95.5 397.5h4v4h-4zM127.5 397.5h4v4h-4zM195.5 397.5h4v4h-4zM279.5 397.5h4v4h-4zM167.5 401.5h4v4h-4zM303.5 401.5h4v4h-4zM119.5 405.5h8v4h-8zM159.5 405.5h4v4h-4zM183.5 405.5h4v4h-4zM255.5 405.5h4v4h-4zM355.5 405.5h4v4h-4zM87.5 409.5h4v4h-4zM155.5 409.5h8v4h-8zM191.5 409.5h4v4h-4zM243.5 409.5h4v4h-4zM259.5 409.5h4v4h-4zM379.5 409.5h4v4h-4zM123.5 413.5h4v4h-4zM267.5 413.5h4v4h-4zM123.5 417.5h4v4h-4zM267.5 417.5h4v4h-4zM375.5 417.5h4v4h-4zM223.5 421.5h4v4h-4zM243.5 421.5h4v4h-4zM95.5 425.5h4v4h-4zM203.5 425.5h4v4h-4zM211.5 425.5h4v4h-4zM363.5 425.5h4v4h-4zM211.5 429.5h4v4h-4zM347.5 429.5h4v4h-4zM363.5 433.5h4v4h-4zM127.5 437.5h4v4h-4zM231.5 437.5h4v4h-4zM171.5 441.5h4v4h-4zM243.5 441.5h4v4h-4zM371.5 441.5h4v4h-4zM99.5 445.5h4v4h-4zM327.5 445.5h4v4h-4zM355.5 445.5h4v4h-4zM371.5 445.5h4v4h-4zM123.5 449.5h4v4h-4zM207.5 449.5h4v4h-4zM263.5 449.5h4v4h-4zM351.5 449.5h4v4h-4zM363.5 449.5h4v4h-4zM159.5 453.5h4v4h-4zM219.5 453.5h12v4h-12zM263.5 453.5h4v4h-4zM351.5 453.5h4v4h-4zM367.5 453.5h8v4h-8zM135.5 457.5h4v4h-4zM275.5 457.5h4v4h-4zM359.5 457.5h4v4h-4zM163.5 461.5h4v4h-4zM291.5 461.5h4v4h-4zM315.5 461.5h4v4h-4zM323.5 461.5h4v4h-4zM99.5 465.5h4v4h-4zM155.5 465.5h4v4h-4zM163.5 465.5h4v4h-4zM251.5 465.5h4v4h-4zM263.5 465.5h4v4h-4zM319.5 465.5h4v4h-4zM371.5 465.5h4v4h-4zM123.5 469.5h4v4h-4zM175.5 469.5h4v4h-4zM371.5 469.5h4v4h-4zM143.5 473.5h4v4h-4zM191.5 473.5h4v4h-4zM219.5 473.5h4v4h-4zM119.5 477.5h4v4h-4zM223.5 477.5h4v4h-4zM139.5 481.5h4v4h-4zM155.5 481.5h4v4h-4zM343.5 481.5h4v4h-4zM159.5 485.5h4v4h-4zM183.5 485.5h4v4h-4zM235.5 485.5h4v4h-4zM135.5 489.5h4v4h-4zM279.5 489.5h4v4h-4zM323.5 489.5h8v4h-8zM139.5 493.5h4v4h-4zM207.5 493.5h4v4h-4zM215.5 493.5h4v4h-4zM295.5 497.5h4v4h-4zM315.5 497.5h4v4h-4zM371.5 497.5h4v4h-4zM119.5 501.5h4v4h-4zM279.5 501.5h4v4h-4zM307.5 501.5h4v4h-4zM327.5 501.5h4v4h-4zM347.5 501.5h4v4h-4zM355.5 501.5h4v4h-4zM79.5 505.5h4v4h-4zM111.5 505.5h4v4h-4zM151.5 505.5h4v4h-4zM195.5 505.5h4v4h-4zM223.5 505.5h4v4h-4zM303.5 505.5h4v4h-4zM163.5 509.5h4v4h-4zM215.5 509.5h8v4h-8zM247.5 509.5h4v4h-4zM343.5 509.5h8v4h-8zM219.5 513.5h4v4h-4zM311.5 513.5h4v4h-4zM99.5 517.5h4v4h-4zM319.5 517.5h4v4h-4zM139.5 521.5h4v4h-4zM279.5 525.5h4v4h-4zM315.5 525.5h4v4h-4zM371.5 525.5h4v4h-4zM271.5 529.5h4v4h-4zM367.5 529.5h4v4h-4zM287.5 533.5h4v4h-4zM103.5 537.5h4v4h-4zM131.5 537.5h4v4h-4zM355.5 537.5h4v4h-4zM199.5 541.5h4v4h-4zM263.5 541.5h4v4h-4zM115.5 545.5h4v4h-4zM151.5 545.5h4v4h-4zM319.5 545.5h4v4h-4zM107.5 553.5h4v4h-4zM115.5 553.5h4v4h-4zM159.5 553.5h4v4h-4zM355.5 553.5h4v4h-4zM95.5 557.5h4v4h-4zM379.5 557.5h4v4h-4zM147.5 561.5h4v4h-4zM259.5 561.5h4v4h-4zM267.5 561.5h4v4h-4zM307.5 561.5h4v4h-4zM331.5 561.5h4v4h-4zM323.5 565.5h4v4h-4zM359.5 565.5h4v4h-4zM175.5 569.5h4v4h-4zM87.5 573.5h4v4h-4zM131.5 573.5h4v4h-4zM159.5 573.5h4v4h-4zM227.5 573.5h4v4h-4zM311.5 573.5h4v4h-4zM323.5 577.5h4v4h-4zM143.5 581.5h4v4h-4zM175.5 581.5h4v4h-4zM199.5 581.5h4v4h-4zM207.5 581.5h4v4h-4zM239.5 581.5h4v4h-4zM279.5 581.5h4v4h-4zM343.5 581.5h4v4h-4zM359.5 581.5h4v4h-4zM207.5 585.5h4v4h-4zM343.5 585.5h4v4h-4zM123.5 589.5h4v4h-4zM139.5 589.5h4v4h-4zM371.5 589.5h4v4h-4zM155.5 593.5h4v4h-4zM231.5 593.5h4v4h-4zM111.5 597.5h4v4h-4zM175.5 597.5h4v4h-4zM291.5 597.5h4v4h-4zM143.5 601.5h4v4h-4zM367.5 601.5h4v4h-4zM191.5 605.5h4v4h-4zM207.5 605.5h8v4h-8zM283.5 605.5h4v4h-4zM139.5 609.5h4v4h-4zM283.5 609.5h4v4h-4zM139.5 613.5h4v4h-4zM227.5 613.5h4v4h-4zM279.5 613.5h8v4h-8zM343.5 613.5h4v4h-4zM139.5 617.5h4v4h-4zM159.5 617.5h4v4h-4zM95.5 621.5h4v4h-4zM375.5 625.5h4v4h-4zM183.5 629.5h4v4h-4zM255.5 629.5h4v4h-4zM255.5 633.5h4v4h-4zM271.5 633.5h4v4h-4zM239.5 637.5h4v4h-4zM375.5 637.5h4v4h-4zM183.5 645.5h4v4h-4zM243.5 645.5h8v4h-8zM335.5 645.5h4v4h-4zM163.5 649.5h4v4h-4zM115.5 653.5h4v4h-4zM331.5 653.5h4v4h-4zM371.5 653.5h4v4h-4z"/>
<path fill="#141414" d="M311.5 353.5h4v4h-4zM319.5 353.5h4v4h-4zM163.5 357.5h4v4h-4zM251.5 357.5h4v4h-4zM99.5 361.5h4v4h-4zM215.5 361.5h4v4h-4zM259.5 361.5h4v4h-4zM287.5 361.5h4v4h-4zM219.5 365.5h4v4h-4zM339.5 365.5h4v4h-4zM219.5 369.5h4v4h-4zM271.5 369.5h4v4h-4zM159.5 373.5h4v4h-4zM187.5 373.5h4v4h-4zM239.5 373.5h4v4h-4zM143.5 377.5h4v4h-4zM199.5 377.5h4v4h-4zM247.5 377.5h4v4h-4zM99.5 381.5h4v4h-4zM351.5 381.5h4v4h-4zM251.5 385.5h4v4h-4zM323.5 385.5h4v4h-4zM375.5 385.5h4v4h-4zM79.5 389.5h4v4h-4zM143.5 389.5h4v4h-4zM295.5 389.5h4v4h-4zM335.5 389.5h4v4h-4zM315.5 393.5h4v4h-4zM139.5 397.5h4v4h-4zM167.5 397.5h4v4h-4zM259.5 397.5h4v4h-4zM367.5 397.5h4v4h-4zM135.5 401.5h4v4h-4zM359.5 401.5h4v4h-4zM79.5 405.5h4v4h-4zM87.5 405.5h4v4h-4zM239.5 405.5h4v4h-4zM199.5 409.5h4v4h-4zM263.5 409.5h4v4h-4zM287.5 409.5h4v4h-4zM367.5 409.5h4v4h-4zM375.5 409.5h4v4h-4zM119.5 413.5h4v4h-4zM175.5 413.5h4v4h-4zM127.5 417.5h4v4h-4zM155.5 417.5h4v4h-4zM179.5 417.5h4v4h-4zM259.5 417.5h4v4h-4zM287.5 417.5h4v4h-4zM351.5 417.5h4v4h-4zM79.5 421.5h4v4h-4zM139.5 421.5h4v4h-4zM363.5 421.5h4v4h-4zM83.5 425.5h4v4h-4zM99.5 425.5h4v4h-4zM215.5 425.5h4v4h-4zM243.5 425.5h4v4h-4zM335.5 425.5h8v4h-8zM347.5 425.5h4v4h-4zM195.5 429.5h4v4h-4zM215.5 429.5h8v4h-8zM291.5 429.5h4v4h-4zM359.5 429.5h4v4h-4zM327.5 433.5h4v4h-4zM355.5 433.5h4v4h-4zM175.5 437.5h4v4h-4zM119.5 441.5h4v4h-4zM151.5 441.5h8v4h-8zM207.5 441.5h4v4h-4zM359.5 441.5h4v4h-4zM115.5 445.5h8v4h-8zM131.5 445.5h4v4h-4zM355.5 449.5h4v4h-4zM371.5 449.5h4v4h-4zM83.5 453.5h4v4h-4zM251.5 453.5h4v4h-4zM159.5 457.5h4v4h-4zM183.5 457.5h4v4h-4zM191.5 457.5h4v4h-4zM343.5 457.5h4v4h-4zM239.5 461.5h4v4h-4zM279.5 461.5h4v4h-4zM379.5 461.5h4v4h-4zM327.5 465.5h4v4h-4zM83.5 469.5h4v4h-4zM107.5 469.5h4v4h-4zM183.5 469.5h4v4h-4zM255.5 469.5h4v4h-4zM291.5 469.5h4v4h-4zM315.5 469.5h4v4h-4zM359.5 469.5h4v4h-4zM103.5 473.5h4v4h-4zM271.5 477.5h4v4h-4zM187.5 481.5h4v4h-4zM339.5 481.5h4v4h-4zM359.5 481.5h4v4h-4zM127.5 485.5h4v4h-4zM323.5 485.5h4v4h-4zM339.5 485.5h4v4h-4zM139.5 489.5h4v4h-4zM195.5 489.5h4v4h-4zM243.5 489.5h4v4h-4zM307.5 489.5h4v4h-4zM363.5 489.5h4v4h-4zM111.5 493.5h4v4h-4zM143.5 493.5h4v4h-4zM291.5 493.5h4v4h-4zM327.5 493.5h4v4h-4zM115.5 497.5h4v4h-4zM139.5 497.5h8v4h-8zM207.5 497.5h4v4h-4zM215.5 497.5h4v4h-4zM319.5 497.5h4v4h-4zM351.5 497.5h4v4h-4zM199.5 501.5h4v4h-4zM367.5 501.5h4v4h-4zM83.5 505.5h4v4h-4zM363.5 505.5h4v4h-4zM135.5 509.5h4v4h-4zM171.5 509.5h4v4h-4zM211.5 509.5h4v4h-4zM231.5 509.5h8v4h-8zM243.5 509.5h4v4h-4zM363.5 509.5h4v4h-4zM375.5 509.5h4v4h-4zM131.5 513.5h4v4h-4zM167.5 513.5h4v4h-4zM211.5 513.5h4v4h-4zM235.5 513.5h4v4h-4zM315.5 513.5h4v4h-4zM371.5 513.5h4v4h-4zM195.5 517.5h8v4h-8zM219.5 517.5h4v4h-4zM255.5 517.5h4v4h-4zM343.5 517.5h4v4h-4zM367.5 517.5h4v4h-4zM379.5 517.5h4v4h-4zM223.5 521.5h4v4h-4zM259.5 521.5h4v4h-4zM291.5 521.5h4v4h-4zM91.5 525.5h4v4h-4zM127.5 525.5h8v4h-8zM267.5 525.5h4v4h-4zM295.5 525.5h4v4h-4zM311.5 525.5h4v4h-4zM215.5 529.5h4v4h-4zM79.5 533.5h4v4h-4zM167.5 533.5h4v4h-4zM175.5 533.5h4v4h-4zM175.5 537.5h4v4h-4zM323.5 537.5h4v4h-4zM259.5 545.5h4v4h-4zM131.5 549.5h4v4h-4zM183.5 549.5h4v4h-4zM207.5 549.5h4v4h-4zM243.5 549.5h4v4h-4zM319.5 549.5h4v4h-4zM203.5 553.5h4v4h-4zM371.5 553.5h4v4h-4zM223.5 557.5h4v4h-4zM271.5 557.5h12v4h-12zM327.5 557.5h4v4h-4zM343.5 557.5h4v4h-4zM87.5 561.5h4v4h-4zM99.5 561.5h4v4h-4zM183.5 561.5h4v4h-4zM243.5 561.5h4v4h-4zM251.5 561.5h4v4h-4zM283.5 561.5h4v4h-4zM303.5 561.5h4v4h-4zM347.5 561.5h4v4h-4zM235.5 565.5h8v4h-8zM227.5 569.5h4v4h-4zM243.5 569.5h4v4h-4zM303.5 569.5h4v4h-4zM91.5 573.5h4v4h-4zM163.5 573.5h4v4h-4zM187.5 573.5h4v4h-4zM259.5 573.5h4v4h-4zM95.5 577.5h4v4h-4zM131.5 577.5h4v4h-4zM171.5 577.5h4v4h-4zM223.5 577.5h4v4h-4zM95.5 581.5h4v4h-4zM115.5 581.5h4v4h-4zM319.5 581.5h4v4h-4zM123.5 585.5h4v4h-4zM195.5 585.5h8v4h-8zM259.5 585.5h4v4h-4zM299.5 585.5h4v4h-4zM279.5 589.5h4v4h-4zM355.5 589.5h4v4h-4zM111.5 593.5h4v4h-4zM175.5 593.5h4v4h-4zM203.5 593.5h4v4h-4zM91.5 597.5h4v4h-4zM311.5 597.5h4v4h-4zM331.5 597.5h4v4h-4zM347.5 597.5h4v4h-4zM367.5 597.5h4v4h-4zM95.5 601.5h4v4h-4zM279.5 601.5h4v4h-4zM307.5 601.5h4v4h-4zM335.5 601.5h4v4h-4zM271.5 605.5h4v4h-4zM367.5 605.5h4v4h-4zM79.5 609.5h4v4h-4zM211.5 609.5h4v4h-4zM243.5 609.5h8v4h-8zM255.5 609.5h4v4h-4zM155.5 613.5h4v4h-4zM195.5 613.5h4v4h-4zM203.5 613.5h8v4h-8zM291.5 613.5h4v4h-4zM143.5 617.5h4v4h-4zM99.5 621.5h4v4h-4zM163.5 621.5h4v4h-4zM263.5 621.5h4v4h-4zM251.5 625.5h4v4h-4zM119.5 629.5h4v4h-4zM159.5 629.5h4v4h-4zM247.5 629.5h8v4h-8zM299.5 629.5h4v4h-4zM119.5 633.5h4v4h-4zM219.5 633.5h4v4h-4zM235.5 633.5h4v4h-4zM355.5 633.5h4v4h-4zM131.5 637.5h4v4h-4zM215.5 637.5h4v4h-4zM379.5 637.5h4v4h-4zM99.5 649.5h4v4h-4zM231.5 649.5h4v4h-4zM243.5 649.5h4v4h-4zM271.5 649.5h4v4h-4zM351.5 649.5h4v4h-4zM99.5 653.5h8v4h-8zM167.5 653.5h4v4h-4z"/>
<path fill="#181818" d="M335.5 353.5h4v4h-4zM99.5 357.5h4v4h-4zM203.5 357.5h4v4h-4zM347.5 357.5h4v4h-4zM283.5 361.5h4v4h-4zM367.5 361.5h4v4h-4zM151.5 365.5h4v4h-4zM267.5 365.5h4v4h-4zM343.5 365.5h4v4h-4zM167.5 369.5h4v4h-4zM183.5 369.5h4v4h-4zM239.5 369.5h4v4h-4zM323.5 369.5h4v4h-4zM371.5 369.5h4v4h-4zM259.5 373.5h4v4h-4zM311.5 373.5h4v4h-4zM355.5 373.5h4v4h-4zM211.5 377.5h4v4h-4zM223.5 377.5h4v4h-4zM271.5 377.5h4v4h-4zM315.5 377.5h4v4h-4zM379.5 377.5h4v4h-4zM91.5 381.5h4v4h-4zM119.5 381.5h4v4h-4zM175.5 381.5h4v4h-4zM271.5 381.5h4v4h-4zM227.5 385.5h4v4h-4zM379.5 385.5h4v4h-4zM91.5 389.5h4v4h-4zM163.5 389.5h4v4h-4zM283.5 389.5h4v4h-4zM127.5 393.5h4v4h-4zM139.5 393.5h4v4h-4zM167.5 393.5h4v4h-4zM319.5 393.5h4v4h-4zM143.5 397.5h4v4h-4zM211.5 397.5h4v4h-4zM339.5 397.5h4v4h-4zM131.5 401.5h4v4h-4zM139.5 401.5h4v4h-4zM259.5 401.5h4v4h-4zM307.5 401.5h4v4h-4zM351.5 401.5h4v4h-4zM99.5 405.5h4v4h-4zM135.5 405.5h4v4h-4zM155.5 405.5h4v4h-4zM187.5 405.5h4v4h-4zM259.5 405.5h4v4h-4zM363.5 405.5h8v4h-8zM247.5 409.5h4v4h-4zM255.5 409.5h4v4h-4zM371.5 409.5h4v4h-4zM91.5 413.5h4v4h-4zM159.5 413.5h4v4h-4zM367.5 413.5h4v4h-4zM263.5 417.5h4v4h-4zM271.5 417.5h4v4h-4zM291.5 417.5h4v4h-4zM83.5 421.5h4v4h-4zM123.5 421.5h8v4h-8zM219.5 421.5h4v4h-4zM239.5 421.5h4v4h-4zM255.5 421.5h4v4h-4zM111.5 425.5h4v4h-4zM139.5 425.5h4v4h-4zM227.5 425.5h4v4h-4zM375.5 425.5h4v4h-4zM167.5 429.5h4v4h-4zM223.5 429.5h4v4h-4zM287.5 429.5h4v4h-4zM347.5 433.5h4v4h-4zM323.5 437.5h4v4h-4zM123.5 441.5h4v4h-4zM235.5 441.5h4v4h-4zM123.5 445.5h4v4h-4zM155.5 445.5h8v4h-8zM351.5 445.5h4v4h-4zM367.5 445.5h4v4h-4zM83.5 449.5h4v4h-4zM135.5 449.5h4v4h-4zM295.5 449.5h4v4h-4zM303.5 449.5h4v4h-4zM359.5 449.5h4v4h-4zM87.5 453.5h4v4h-4zM115.5 453.5h4v4h-4zM163.5 453.5h4v4h-4zM267.5 453.5h4v4h-4zM323.5 453.5h4v4h-4zM339.5 453.5h4v4h-4zM163.5 457.5h4v4h-4zM211.5 457.5h4v4h-4zM279.5 457.5h4v4h-4zM319.5 457.5h4v4h-4zM147.5 461.5h8v4h-8zM275.5 461.5h4v4h-4zM339.5 461.5h4v4h-4zM371.5 461.5h8v4h-8zM195.5 465.5h4v4h-4zM291.5 465.5h4v4h-4zM179.5 469.5h4v4h-4zM235.5 469.5h4v4h-4zM259.5 469.5h4v4h-4zM119.5 473.5h4v4h-4zM199.5 473.5h8v4h-8zM215.5 473.5h4v4h-4zM291.5 473.5h4v4h-4zM343.5 473.5h4v4h-4zM163.5 477.5h4v4h-4zM359.5 477.5h4v4h-4zM115.5 481.5h4v4h-4zM171.5 481.5h4v4h-4zM231.5 481.5h4v4h-4zM379.5 481.5h4v4h-4zM135.5 485.5h4v4h-4zM343.5 485.5h4v4h-4zM143.5 489.5h4v4h-4zM295.5 489.5h4v4h-4zM311.5 489.5h4v4h-4zM331.5 489.5h4v4h-4zM199.5 493.5h4v4h-4zM319.5 493.5h4v4h-4zM367.5 493.5h8v4h-8zM199.5 497.5h4v4h-4zM327.5 497.5h4v4h-4zM123.5 501.5h4v4h-4zM291.5 501.5h4v4h-4zM371.5 501.5h4v4h-4zM91.5 505.5h4v4h-4zM135.5 505.5h8v4h-8zM171.5 505.5h4v4h-4zM227.5 505.5h4v4h-4zM283.5 505.5h4v4h-4zM347.5 505.5h4v4h-4zM99.5 509.5h4v4h-4zM115.5 509.5h4v4h-4zM143.5 509.5h4v4h-4zM155.5 509.5h4v4h-4zM167.5 509.5h4v4h-4zM195.5 509.5h4v4h-4zM227.5 509.5h4v4h-4zM79.5 513.5h4v4h-4zM107.5 513.5h4v4h-4zM155.5 513.5h4v4h-4zM195.5 513.5h4v4h-4zM223.5 513.5h4v4h-4zM339.5 513.5h4v4h-4zM363.5 513.5h4v4h-4zM103.5 517.5h4v4h-4zM131.5 517.5h4v4h-4zM215.5 517.5h4v4h-4zM83.5 521.5h4v4h-4zM127.5 521.5h4v4h-4zM199.5 521.5h4v4h-4zM139.5 525.5h4v4h-4zM319.5 525.5h4v4h-4zM159.5 529.5h4v4h-4zM199.5 529.5h4v4h-4zM219.5 529.5h4v4h-4zM259.5 529.5h4v4h-4zM283.5 529.5h4v4h-4zM171.5 533.5h4v4h-4zM195.5 537.5h4v4h-4zM191.5 541.5h8v4h-8zM243.5 541.5h8v4h-8zM79.5 545.5h4v4h-4zM99.5 545.5h4v4h-4zM135.5 545.5h4v4h-4zM167.5 545.5h4v4h-4zM187.5 545.5h4v4h-4zM215.5 545.5h4v4h-4zM239.5 545.5h4v4h-4zM263.5 545.5h4v4h-4zM371.5 545.5h4v4h-4zM103.5 549.5h4v4h-4zM119.5 549.5h4v4h-4zM175.5 549.5h4v4h-4zM355.5 549.5h4v4h-4zM119.5 553.5h8v4h-8zM223.5 553.5h4v4h-4zM347.5 553.5h8v4h-8zM363.5 553.5h8v4h-8zM375.5 553.5h4v4h-4zM83.5 557.5h4v4h-4zM159.5 557.5h4v4h-4zM299.5 561.5h4v4h-4zM351.5 565.5h4v4h-4zM107.5 569.5h4v4h-4zM179.5 569.5h4v4h-4zM259.5 569.5h4v4h-4zM311.5 569.5h4v4h-4zM363.5 569.5h4v4h-4zM179.5 573.5h4v4h-4zM215.5 573.5h4v4h-4zM239.5 573.5h8v4h-8zM363.5 573.5h4v4h-4zM371.5 577.5h4v4h-4zM135.5 581.5h4v4h-4zM219.5 581.5h4v4h-4zM291.5 581.5h8v4h-8zM335.5 581.5h4v4h-4zM95.5 585.5h4v4h-4zM219.5 585.5h4v4h-4zM251.5 585.5h4v4h-4zM283.5 585.5h8v4h-8zM175.5 589.5h4v4h-4zM187.5 589.5h4v4h-4zM203.5 589.5h4v4h-4zM83.5 593.5h4v4h-4zM127.5 593.5h4v4h-4zM139.5 593.5h4v4h-4zM151.5 593.5h4v4h-4zM283.5 593.5h4v4h-4zM327.5 593.5h4v4h-4zM151.5 597.5h4v4h-4zM327.5 597.5h4v4h-4zM335.5 597.5h4v4h-4zM163.5 601.5h4v4h-4zM247.5 601.5h8v4h-8zM295.5 601.5h4v4h-4zM243.5 605.5h8v4h-8zM131.5 609.5h4v4h-4zM375.5 609.5h4v4h-4zM107.5 613.5h4v4h-4zM147.5 613.5h4v4h-4zM199.5 613.5h4v4h-4zM339.5 613.5h4v4h-4zM155.5 617.5h4v4h-4zM187.5 617.5h4v4h-4zM203.5 617.5h4v4h-4zM219.5 617.5h4v4h-4zM343.5 617.5h4v4h-4zM139.5 621.5h4v4h-4zM151.5 621.5h4v4h-4zM295.5 621.5h4v4h-4zM371.5 621.5h4v4h-4zM135.5 625.5h4v4h-4zM179.5 625.5h4v4h-4zM255.5 625.5h4v4h-4zM295.5 625.5h4v4h-4zM303.5 625.5h4v4h-4zM327.5 625.5h4v4h-4zM379.5 625.5h4v4h-4zM135.5 629.5h4v4h-4zM219.5 629.5h4v4h-4zM239.5 629.5h8v4h-8zM155.5 633.5h4v4h-4zM243.5 633.5h4v4h-4zM367.5 633.5h4v4h-4zM79.5 637.5h4v4h-4zM119.5 637.5h4v4h-4zM127.5 637.5h4v4h-4zM135.5 637.5h4v4h-4zM211.5 637.5h4v4h-4zM115.5 641.5h4v4h-4zM131.5 641.5h4v4h-4zM243.5 641.5h8v4h-8zM263.5 641.5h4v4h-4zM291.5 641.5h4v4h-4zM131.5 645.5h4v4h-4zM319.5 645.5h4v4h-4zM95.5 649.5h4v4h-4zM107.5 649.5h4v4h-4zM195.5 649.5h4v4h-4zM239.5 649.5h4v4h-4zM139.5 653.5h4v4h-4zM195.5 653.5h4v4h-4zM203.5 653.5h4v4h-4zM231.5 653.5h4v4h-4zM375.5 653.5h4v4h-4z"/>
<path fill="#1c1c1c" d="M115.5 353.5h4v4h-4zM179.5 353.5h8v4h-8zM115.5 357.5h4v4h-4zM199.5 357.5h4v4h-4zM367.5 357.5h4v4h-4zM95.5 361.5h4v4h-4zM103.5 361.5h4v4h-4zM131.5 361.5h4v4h-4zM263.5 361.5h4v4h-4zM155.5 365.5h4v4h-4zM211.5 365.5h4v4h-4zM243.5 365.5h4v4h-4zM131.5 369.5h4v4h-4zM355.5 369.5h4v4h-4zM367.5 369.5h4v4h-4zM167.5 373.5h4v4h-4zM223.5 373.5h4v4h-4zM371.5 373.5h4v4h-4zM331.5 377.5h4v4h-4zM191.5 381.5h4v4h-4zM207.5 381.5h4v4h-4zM375.5 381.5h4v4h-4zM87.5 385.5h4v4h-4zM103.5 385.5h4v4h-4zM199.5 385.5h4v4h-4zM259.5 385.5h8v4h-8zM115.5 389.5h4v4h-4zM227.5 389.5h4v4h-4zM251.5 389.5h4v4h-4zM163.5 393.5h4v4h-4zM171.5 393.5h4v4h-4zM327.5 393.5h4v4h-4zM359.5 393.5h4v4h-4zM367.5 393.5h4v4h-4zM135.5 397.5h4v4h-4zM171.5 397.5h4v4h-4zM127.5 401.5h4v4h-4zM163.5 401.5h4v4h-4zM211.5 401.5h4v4h-4zM327.5 401.5h4v4h-4zM83.5 405.5h4v4h-4zM163.5 405.5h4v4h-4zM283.5 405.5h4v4h-4zM295.5 405.5h4v4h-4zM111.5 409.5h4v4h-4zM175.5 409.5h4v4h-4zM183.5 409.5h4v4h-4zM207.5 409.5h8v4h-8zM267.5 409.5h4v4h-4zM359.5 409.5h8v4h-8zM83.5 413.5h4v4h-4zM371.5 413.5h4v4h-4zM159.5 417.5h4v4h-4zM211.5 417.5h4v4h-4zM299.5 417.5h4v4h-4zM331.5 417.5h4v4h-4zM215.5 421.5h4v4h-4zM303.5 421.5h4v4h-4zM91.5 425.5h4v4h-4zM163.5 425.5h4v4h-4zM251.5 425.5h4v4h-4zM331.5 425.5h4v4h-4zM371.5 425.5h4v4h-4zM79.5 429.5h4v4h-4zM99.5 429.5h8v4h-8zM115.5 429.5h4v4h-4zM147.5 429.5h4v4h-4zM199.5 433.5h4v4h-4zM223.5 433.5h4v4h-4zM351.5 433.5h4v4h-4zM119.5 437.5h4v4h-4zM203.5 437.5h8v4h-8zM115.5 441.5h4v4h-4zM175.5 441.5h4v4h-4zM235.5 445.5h4v4h-4zM375.5 445.5h4v4h-4zM87.5 449.5h4v4h-4zM99.5 449.5h4v4h-4zM115.5 449.5h4v4h-4zM131.5 449.5h4v4h-4zM155.5 449.5h4v4h-4zM163.5 449.5h4v4h-4zM215.5 449.5h4v4h-4zM231.5 449.5h4v4h-4zM239.5 449.5h4v4h-4zM375.5 449.5h4v4h-4zM207.5 453.5h4v4h-4zM271.5 453.5h4v4h-4zM375.5 453.5h4v4h-4zM295.5 457.5h4v4h-4zM371.5 457.5h4v4h-4zM99.5 461.5h4v4h-4zM115.5 461.5h4v4h-4zM135.5 461.5h4v4h-4zM187.5 461.5h4v4h-4zM235.5 461.5h4v4h-4zM251.5 461.5h4v4h-4zM295.5 461.5h4v4h-4zM167.5 465.5h8v4h-8zM191.5 465.5h4v4h-4zM367.5 465.5h4v4h-4zM99.5 469.5h4v4h-4zM195.5 469.5h4v4h-4zM239.5 469.5h4v4h-4zM287.5 469.5h4v4h-4zM127.5 473.5h4v4h-4zM255.5 473.5h4v4h-4zM267.5 473.5h4v4h-4zM115.5 477.5h4v4h-4zM347.5 477.5h4v4h-4zM95.5 481.5h4v4h-4zM127.5 481.5h4v4h-4zM227.5 481.5h4v4h-4zM323.5 481.5h4v4h-4zM347.5 481.5h4v4h-4zM87.5 485.5h4v4h-4zM99.5 485.5h4v4h-4zM131.5 485.5h4v4h-4zM199.5 485.5h4v4h-4zM219.5 485.5h4v4h-4zM335.5 485.5h4v4h-4zM95.5 489.5h4v4h-4zM215.5 489.5h4v4h-4zM299.5 493.5h4v4h-4zM315.5 493.5h4v4h-4zM347.5 493.5h4v4h-4zM95.5 497.5h12v4h-12zM119.5 497.5h8v4h-8zM219.5 497.5h4v4h-4zM291.5 497.5h4v4h-4zM363.5 497.5h4v4h-4zM183.5 501.5h4v4h-4zM207.5 501.5h4v4h-4zM223.5 501.5h4v4h-4zM311.5 501.5h8v4h-8zM323.5 501.5h4v4h-4zM87.5 505.5h4v4h-4zM167.5 505.5h4v4h-4zM327.5 505.5h4v4h-4zM147.5 509.5h4v4h-4zM251.5 509.5h4v4h-4zM379.5 509.5h4v4h-4zM91.5 513.5h4v4h-4zM239.5 513.5h4v4h-4zM319.5 513.5h4v4h-4zM87.5 517.5h4v4h-4zM107.5 517.5h4v4h-4zM163.5 517.5h4v4h-4zM191.5 517.5h4v4h-4zM247.5 517.5h4v4h-4zM287.5 517.5h4v4h-4zM227.5 521.5h4v4h-4zM363.5 521.5h4v4h-4zM135.5 525.5h4v4h-4zM179.5 525.5h4v4h-4zM195.5 525.5h4v4h-4zM307.5 525.5h4v4h-4zM83.5 529.5h4v4h-4zM211.5 529.5h4v4h-4zM239.5 529.5h4v4h-4zM255.5 529.5h4v4h-4zM315.5 529.5h4v4h-4zM335.5 529.5h4v4h-4zM123.5 533.5h4v4h-4zM203.5 533.5h4v4h-4zM219.5 533.5h4v4h-4zM335.5 533.5h4v4h-4zM363.5 533.5h4v4h-4zM83.5 537.5h4v4h-4zM327.5 537.5h4v4h-4zM167.5 541.5h4v4h-4zM187.5 541.5h4v4h-4zM303.5 541.5h4v4h-4zM323.5 541.5h4v4h-4zM355.5 541.5h4v4h-4zM155.5 545.5h4v4h-4zM199.5 545.5h4v4h-4zM323.5 545.5h4v4h-4zM335.5 545.5h4v4h-4zM83.5 549.5h4v4h-4zM215.5 549.5h8v4h-8zM239.5 549.5h4v4h-4zM247.5 549.5h4v4h-4zM359.5 549.5h4v4h-4zM371.5 549.5h4v4h-4zM83.5 553.5h4v4h-4zM207.5 553.5h4v4h-4zM335.5 553.5h4v4h-4zM99.5 557.5h4v4h-4zM219.5 557.5h4v4h-4zM283.5 557.5h4v4h-4zM351.5 557.5h4v4h-4zM187.5 561.5h4v4h-4zM219.5 561.5h4v4h-4zM315.5 561.5h4v4h-4zM323.5 561.5h4v4h-4zM367.5 561.5h8v4h-8zM95.5 565.5h4v4h-4zM183.5 565.5h4v4h-4zM299.5 565.5h4v4h-4zM311.5 565.5h4v4h-4zM347.5 565.5h4v4h-4zM355.5 565.5h4v4h-4zM323.5 569.5h4v4h-4zM367.5 569.5h4v4h-4zM79.5 573.5h8v4h-8zM119.5 573.5h4v4h-4zM263.5 573.5h4v4h-4zM331.5 573.5h4v4h-4zM91.5 577.5h4v4h-4zM151.5 577.5h4v4h-4zM279.5 577.5h4v4h-4zM99.5 581.5h4v4h-4zM119.5 581.5h4v4h-4zM127.5 581.5h4v4h-4zM275.5 581.5h4v4h-4zM339.5 581.5h4v4h-4zM375.5 581.5h4v4h-4zM83.5 585.5h4v4h-4zM255.5 585.5h4v4h-4zM279.5 585.5h4v4h-4zM375.5 585.5h4v4h-4zM235.5 589.5h4v4h-4zM331.5 589.5h4v4h-4zM339.5 589.5h4v4h-4zM375.5 589.5h4v4h-4zM91.5 593.5h4v4h-4zM131.5 593.5h4v4h-4zM279.5 593.5h4v4h-4zM379.5 593.5h4v4h-4zM87.5 597.5h4v4h-4zM147.5 597.5h4v4h-4zM179.5 597.5h4v4h-4zM199.5 597.5h4v4h-4zM227.5 597.5h4v4h-4zM247.5 597.5h4v4h-4zM287.5 597.5h4v4h-4zM363.5 597.5h4v4h-4zM79.5 601.5h4v4h-4zM99.5 601.5h4v4h-4zM131.5 601.5h4v4h-4zM347.5 601.5h4v4h-4zM139.5 605.5h4v4h-4zM155.5 605.5h4v4h-4zM215.5 605.5h4v4h-4zM107.5 609.5h4v4h-4zM235.5 609.5h4v4h-4zM287.5 609.5h4v4h-4zM303.5 609.5h4v4h-4zM363.5 609.5h4v4h-4zM159.5 613.5h4v4h-4zM219.5 613.5h4v4h-4zM243.5 613.5h4v4h-4zM275.5 613.5h4v4h-4zM83.5 617.5h4v4h-4zM103.5 617.5h8v4h-8zM163.5 617.5h4v4h-4zM207.5 617.5h4v4h-4zM263.5 617.5h8v4h-8zM279.5 617.5h16v4h-16zM103.5 621.5h4v4h-4zM143.5 621.5h4v4h-4zM183.5 621.5h4v4h-4zM203.5 621.5h8v4h-8zM267.5 621.5h4v4h-4zM235.5 625.5h4v4h-4zM367.5 625.5h4v4h-4zM179.5 629.5h4v4h-4zM215.5 629.5h4v4h-4zM263.5 629.5h4v4h-4zM303.5 629.5h4v4h-4zM331.5 629.5h4v4h-4zM367.5 629.5h4v4h-4zM91.5 633.5h4v4h-4zM115.5 633.5h4v4h-4zM131.5 633.5h8v4h-8zM143.5 633.5h4v4h-4zM231.5 633.5h4v4h-4zM351.5 633.5h4v4h-4zM123.5 637.5h4v4h-4zM151.5 637.5h4v4h-4zM163.5 637.5h4v4h-4zM207.5 637.5h4v4h-4zM227.5 637.5h4v4h-4zM235.5 637.5h4v4h-4zM243.5 637.5h4v4h-4zM255.5 637.5h4v4h-4zM271.5 637.5h4v4h-4zM359.5 637.5h4v4h-4zM371.5 637.5h4v4h-4zM111.5 641.5h4v4h-4zM123.5 641.5h4v4h-4zM139.5 641.5h4v4h-4zM223.5 641.5h4v4h-4zM87.5 645.5h8v4h-8zM99.5 645.5h4v4h-4zM163.5 645.5h4v4h-4zM227.5 645.5h4v4h-4zM315.5 645.5h4v4h-4zM323.5 645.5h8v4h-8zM339.5 645.5h4v4h-4zM91.5 649.5h4v4h-4zM171.5 649.5h4v4h-4zM235.5 649.5h4v4h-4zM275.5 649.5h4v4h-4zM111.5 653.5h4v4h-4zM259.5 653.5h4v4h-4z"/>
<path fill="#202020" d="M287.5 353.5h4v4h-4zM339.5 353.5h4v4h-4zM355.5 353.5h4v4h-4zM91.5 357.5h4v4h-4zM103.5 357.5h4v4h-4zM111.5 357.5h4v4h-4zM171.5 357.5h4v4h-4zM195.5 357.5h4v4h-4zM275.5 357.5h4v4h-4zM107.5 361.5h4v4h-4zM139.5 361.5h4v4h-4zM147.5 361.5h4v4h-4zM247.5 361.5h4v4h-4zM303.5 361.5h4v4h-4zM359.5 361.5h4v4h-4zM119.5 365.5h4v4h-4zM259.5 365.5h4v4h-4zM347.5 365.5h8v4h-8zM367.5 365.5h4v4h-4zM103.5 369.5h4v4h-4zM119.5 369.5h4v4h-4zM143.5 369.5h4v4h-4zM155.5 369.5h4v4h-4zM191.5 369.5h4v4h-4zM343.5 369.5h4v4h-4zM115.5 373.5h4v4h-4zM147.5 373.5h4v4h-4zM211.5 373.5h4v4h-4zM343.5 373.5h4v4h-4zM175.5 377.5h4v4h-4zM87.5 381.5h4v4h-4zM151.5 381.5h4v4h-4zM247.5 381.5h4v4h-4zM91.5 385.5h4v4h-4zM179.5 385.5h4v4h-4zM191.5 385.5h8v4h-8zM319.5 385.5h4v4h-4zM347.5 385.5h4v4h-4zM367.5 385.5h4v4h-4zM111.5 389.5h4v4h-4zM267.5 389.5h4v4h-4zM363.5 389.5h4v4h-4zM107.5 393.5h4v4h-4zM115.5 393.5h4v4h-4zM131.5 393.5h4v4h-4zM219.5 393.5h4v4h-4zM303.5 393.5h8v4h-8zM83.5 397.5h4v4h-4zM215.5 397.5h4v4h-4zM271.5 397.5h4v4h-4zM183.5 401.5h4v4h-4zM311.5 401.5h4v4h-4zM339.5 401.5h4v4h-4zM367.5 401.5h4v4h-4zM107.5 405.5h4v4h-4zM263.5 405.5h4v4h-4zM347.5 405.5h4v4h-4zM251.5 409.5h4v4h-4zM291.5 413.5h4v4h-4zM339.5 417.5h4v4h-4zM363.5 417.5h4v4h-4zM95.5 421.5h4v4h-4zM235.5 421.5h4v4h-4zM299.5 421.5h4v4h-4zM371.5 421.5h4v4h-4zM199.5 425.5h4v4h-4zM263.5 425.5h4v4h-4zM311.5 429.5h4v4h-4zM327.5 429.5h4v4h-4zM351.5 429.5h4v4h-4zM367.5 429.5h4v4h-4zM155.5 433.5h4v4h-4zM195.5 433.5h4v4h-4zM295.5 433.5h4v4h-4zM311.5 433.5h4v4h-4zM115.5 437.5h4v4h-4zM211.5 437.5h4v4h-4zM291.5 437.5h4v4h-4zM343.5 437.5h4v4h-4zM363.5 437.5h4v4h-4zM147.5 441.5h4v4h-4zM159.5 441.5h4v4h-4zM199.5 441.5h4v4h-4zM215.5 441.5h4v4h-4zM287.5 441.5h4v4h-4zM95.5 445.5h4v4h-4zM103.5 445.5h4v4h-4zM111.5 445.5h4v4h-4zM127.5 445.5h4v4h-4zM239.5 445.5h4v4h-4zM259.5 445.5h4v4h-4zM139.5 449.5h4v4h-4zM331.5 449.5h8v4h-8zM79.5 453.5h4v4h-4zM275.5 453.5h4v4h-4zM295.5 453.5h4v4h-4zM111.5 457.5h4v4h-4zM267.5 457.5h8v4h-8zM363.5 457.5h4v4h-4zM119.5 461.5h4v4h-4zM187.5 465.5h4v4h-4zM199.5 465.5h4v4h-4zM243.5 465.5h4v4h-4zM279.5 465.5h4v4h-4zM363.5 465.5h4v4h-4zM199.5 469.5h4v4h-4zM327.5 469.5h4v4h-4zM339.5 469.5h4v4h-4zM107.5 473.5h4v4h-4zM167.5 473.5h4v4h-4zM195.5 473.5h4v4h-4zM271.5 473.5h4v4h-4zM379.5 473.5h4v4h-4zM159.5 477.5h4v4h-4zM191.5 477.5h4v4h-4zM251.5 477.5h4v4h-4zM99.5 481.5h4v4h-4zM111.5 481.5h4v4h-4zM251.5 481.5h4v4h-4zM295.5 481.5h8v4h-8zM79.5 485.5h4v4h-4zM163.5 485.5h4v4h-4zM299.5 485.5h8v4h-8zM319.5 485.5h4v4h-4zM359.5 485.5h4v4h-4zM91.5 489.5h4v4h-4zM155.5 489.5h4v4h-4zM203.5 489.5h4v4h-4zM247.5 489.5h4v4h-4zM299.5 489.5h4v4h-4zM319.5 489.5h4v4h-4zM343.5 489.5h4v4h-4zM123.5 493.5h4v4h-4zM175.5 493.5h4v4h-4zM375.5 493.5h8v4h-8zM183.5 497.5h4v4h-4zM139.5 501.5h4v4h-4zM319.5 501.5h4v4h-4zM87.5 509.5h4v4h-4zM139.5 509.5h4v4h-4zM307.5 509.5h8v4h-8zM339.5 509.5h4v4h-4zM83.5 513.5h4v4h-4zM103.5 513.5h4v4h-4zM271.5 513.5h4v4h-4zM283.5 513.5h4v4h-4zM307.5 513.5h4v4h-4zM367.5 513.5h4v4h-4zM111.5 517.5h8v4h-8zM135.5 517.5h4v4h-4zM211.5 517.5h4v4h-4zM311.5 517.5h4v4h-4zM363.5 517.5h4v4h-4zM107.5 521.5h4v4h-4zM131.5 521.5h4v4h-4zM143.5 521.5h4v4h-4zM159.5 521.5h4v4h-4zM191.5 521.5h4v4h-4zM219.5 521.5h4v4h-4zM311.5 521.5h4v4h-4zM323.5 521.5h4v4h-4zM343.5 521.5h4v4h-4zM375.5 521.5h4v4h-4zM103.5 525.5h4v4h-4zM215.5 525.5h8v4h-8zM379.5 525.5h4v4h-4zM107.5 529.5h8v4h-8zM175.5 529.5h4v4h-4zM287.5 529.5h4v4h-4zM91.5 533.5h8v4h-8zM159.5 533.5h8v4h-8zM323.5 533.5h4v4h-4zM351.5 533.5h4v4h-4zM91.5 537.5h4v4h-4zM127.5 537.5h4v4h-4zM139.5 537.5h4v4h-4zM203.5 537.5h4v4h-4zM111.5 541.5h4v4h-4zM251.5 541.5h4v4h-4zM339.5 541.5h4v4h-4zM171.5 545.5h8v4h-8zM203.5 545.5h4v4h-4zM219.5 545.5h4v4h-4zM235.5 545.5h4v4h-4zM247.5 545.5h4v4h-4zM267.5 545.5h4v4h-4zM339.5 545.5h4v4h-4zM351.5 545.5h4v4h-4zM179.5 549.5h4v4h-4zM199.5 549.5h4v4h-4zM235.5 549.5h4v4h-4zM259.5 549.5h4v4h-4zM379.5 549.5h4v4h-4zM227.5 553.5h4v4h-4zM103.5 557.5h8v4h-8zM119.5 557.5h8v4h-8zM143.5 557.5h4v4h-4zM175.5 557.5h4v4h-4zM255.5 557.5h4v4h-4zM303.5 557.5h4v4h-4zM315.5 557.5h4v4h-4zM103.5 561.5h4v4h-4zM191.5 561.5h4v4h-4zM343.5 561.5h4v4h-4zM79.5 569.5h8v4h-8zM131.5 569.5h4v4h-4zM239.5 569.5h4v4h-4zM299.5 569.5h4v4h-4zM371.5 569.5h4v4h-4zM167.5 573.5h4v4h-4zM183.5 573.5h4v4h-4zM307.5 573.5h4v4h-4zM323.5 573.5h4v4h-4zM367.5 573.5h4v4h-4zM79.5 577.5h4v4h-4zM115.5 577.5h4v4h-4zM167.5 577.5h4v4h-4zM175.5 577.5h12v4h-12zM219.5 577.5h4v4h-4zM275.5 577.5h4v4h-4zM283.5 581.5h4v4h-4zM143.5 585.5h4v4h-4zM159.5 585.5h4v4h-4zM335.5 585.5h8v4h-8zM79.5 589.5h4v4h-4zM191.5 589.5h4v4h-4zM379.5 589.5h4v4h-4zM79.5 593.5h4v4h-4zM311.5 593.5h4v4h-4zM331.5 593.5h4v4h-4zM371.5 593.5h8v4h-8zM79.5 597.5h4v4h-4zM127.5 597.5h4v4h-4zM159.5 597.5h4v4h-4zM251.5 597.5h4v4h-4zM315.5 597.5h4v4h-4zM371.5 597.5h4v4h-4zM115.5 601.5h8v4h-8zM151.5 601.5h4v4h-4zM195.5 601.5h4v4h-4zM323.5 601.5h4v4h-4zM315.5 605.5h4v4h-4zM347.5 605.5h4v4h-4zM379.5 605.5h4v4h-4zM135.5 609.5h4v4h-4zM123.5 613.5h4v4h-4zM231.5 613.5h4v4h-4zM247.5 613.5h4v4h-4zM327.5 613.5h4v4h-4zM123.5 617.5h4v4h-4zM199.5 617.5h4v4h-4zM235.5 617.5h4v4h-4zM295.5 617.5h4v4h-4zM179.5 621.5h4v4h-4zM219.5 621.5h4v4h-4zM111.5 625.5h4v4h-4zM183.5 625.5h4v4h-4zM247.5 625.5h4v4h-4zM79.5 629.5h12v4h-12zM231.5 629.5h4v4h-4zM139.5 633.5h4v4h-4zM159.5 633.5h4v4h-4zM179.5 633.5h4v4h-4zM211.5 633.5h4v4h-4zM251.5 633.5h4v4h-4zM275.5 633.5h4v4h-4zM219.5 637.5h8v4h-8zM287.5 637.5h4v4h-4zM119.5 641.5h4v4h-4zM163.5 641.5h4v4h-4zM227.5 641.5h4v4h-4zM351.5 641.5h4v4h-4zM79.5 645.5h4v4h-4zM95.5 645.5h4v4h-4zM107.5 645.5h4v4h-4zM123.5 645.5h4v4h-4zM271.5 645.5h4v4h-4zM311.5 645.5h4v4h-4zM347.5 645.5h8v4h-8zM103.5 649.5h4v4h-4zM127.5 649.5h8v4h-8zM183.5 649.5h4v4h-4zM303.5 649.5h4v4h-4zM371.5 649.5h4v4h-4zM135.5 653.5h4v4h-4zM271.5 653.5h4v4h-4zM283.5 653.5h4v4h-4zM295.5 653.5h8v4h-8zM351.5 653.5h4v4h-4zM363.5 653.5h4v4h-4z"/>
<path fill="#242424" d="M103.5 353.5h4v4h-4zM111.5 353.5h4v4h-4zM143.5 353.5h4v4h-4zM191.5 353.5h4v4h-4zM251.5 353.5h4v4h-4zM263.5 353.5h4v4h-4zM303.5 353.5h4v4h-4zM139.5 357.5h4v4h-4zM247.5 357.5h4v4h-4zM255.5 357.5h4v4h-4zM351.5 357.5h4v4h-4zM371.5 357.5h4v4h-4zM135.5 361.5h4v4h-4zM207.5 361.5h4v4h-4zM219.5 361.5h4v4h-4zM347.5 361.5h4v4h-4zM107.5 365.5h4v4h-4zM147.5 365.5h4v4h-4zM183.5 365.5h8v4h-8zM263.5 365.5h4v4h-4zM107.5 369.5h4v4h-4zM115.5 369.5h4v4h-4zM211.5 369.5h4v4h-4zM79.5 373.5h4v4h-4zM111.5 373.5h4v4h-4zM275.5 373.5h4v4h-4zM359.5 373.5h4v4h-4zM151.5 377.5h4v4h-4zM171.5 377.5h4v4h-4zM239.5 377.5h4v4h-4zM355.5 377.5h4v4h-4zM171.5 381.5h4v4h-4zM179.5 381.5h4v4h-4zM199.5 381.5h4v4h-4zM223.5 381.5h4v4h-4zM243.5 381.5h4v4h-4zM319.5 381.5h4v4h-4zM367.5 381.5h4v4h-4zM115.5 385.5h4v4h-4zM175.5 385.5h4v4h-4zM183.5 385.5h4v4h-4zM267.5 385.5h4v4h-4zM299.5 385.5h4v4h-4zM351.5 385.5h4v4h-4zM363.5 385.5h4v4h-4zM371.5 385.5h4v4h-4zM171.5 389.5h4v4h-4zM263.5 389.5h4v4h-4zM95.5 393.5h8v4h-8zM119.5 393.5h4v4h-4zM271.5 393.5h4v4h-4zM323.5 393.5h4v4h-4zM191.5 397.5h4v4h-4zM267.5 397.5h4v4h-4zM327.5 397.5h4v4h-4zM83.5 401.5h4v4h-4zM123.5 401.5h4v4h-4zM171.5 401.5h4v4h-4zM263.5 401.5h8v4h-8zM279.5 401.5h4v4h-4zM347.5 401.5h4v4h-4zM355.5 401.5h4v4h-4zM131.5 405.5h4v4h-4zM167.5 405.5h4v4h-4zM267.5 405.5h8v4h-8zM359.5 405.5h4v4h-4zM371.5 405.5h4v4h-4zM99.5 409.5h4v4h-4zM187.5 409.5h4v4h-4zM203.5 409.5h4v4h-4zM271.5 409.5h4v4h-4zM195.5 413.5h4v4h-4zM335.5 413.5h4v4h-4zM359.5 413.5h4v4h-4zM95.5 417.5h4v4h-4zM163.5 417.5h4v4h-4zM239.5 417.5h4v4h-4zM275.5 417.5h4v4h-4zM303.5 417.5h4v4h-4zM371.5 417.5h4v4h-4zM91.5 421.5h4v4h-4zM87.5 425.5h4v4h-4zM279.5 425.5h4v4h-4zM119.5 429.5h4v4h-4zM371.5 429.5h4v4h-4zM307.5 433.5h4v4h-4zM79.5 437.5h4v4h-4zM283.5 437.5h4v4h-4zM351.5 437.5h4v4h-4zM103.5 441.5h4v4h-4zM111.5 441.5h4v4h-4zM167.5 441.5h4v4h-4zM259.5 441.5h4v4h-4zM367.5 441.5h4v4h-4zM287.5 445.5h4v4h-4zM315.5 445.5h4v4h-4zM79.5 449.5h4v4h-4zM95.5 449.5h4v4h-4zM127.5 449.5h4v4h-4zM283.5 449.5h4v4h-4zM323.5 449.5h8v4h-8zM343.5 449.5h4v4h-4zM171.5 453.5h4v4h-4zM183.5 453.5h4v4h-4zM215.5 453.5h4v4h-4zM251.5 457.5h4v4h-4zM291.5 457.5h4v4h-4zM299.5 457.5h4v4h-4zM347.5 457.5h4v4h-4zM355.5 457.5h4v4h-4zM375.5 457.5h4v4h-4zM155.5 461.5h4v4h-4zM191.5 461.5h4v4h-4zM267.5 461.5h4v4h-4zM107.5 465.5h4v4h-4zM231.5 465.5h4v4h-4zM167.5 469.5h4v4h-4zM251.5 469.5h4v4h-4zM263.5 469.5h4v4h-4zM295.5 469.5h4v4h-4zM87.5 473.5h4v4h-4zM83.5 477.5h4v4h-4zM99.5 477.5h8v4h-8zM151.5 477.5h4v4h-4zM207.5 477.5h4v4h-4zM235.5 477.5h4v4h-4zM275.5 477.5h4v4h-4zM91.5 481.5h4v4h-4zM123.5 481.5h4v4h-4zM175.5 481.5h4v4h-4zM271.5 481.5h4v4h-4zM319.5 481.5h4v4h-4zM179.5 485.5h4v4h-4zM231.5 485.5h4v4h-4zM251.5 485.5h4v4h-4zM295.5 485.5h4v4h-4zM331.5 485.5h4v4h-4zM123.5 489.5h4v4h-4zM207.5 489.5h4v4h-4zM95.5 493.5h4v4h-4zM255.5 493.5h4v4h-4zM351.5 493.5h4v4h-4zM91.5 501.5h4v4h-4zM227.5 501.5h4v4h-4zM263.5 501.5h4v4h-4zM331.5 501.5h4v4h-4zM115.5 505.5h4v4h-4zM235.5 505.5h8v4h-8zM263.5 505.5h8v4h-8zM315.5 505.5h12v4h-12zM343.5 505.5h4v4h-4zM95.5 509.5h4v4h-4zM223.5 509.5h4v4h-4zM263.5 509.5h4v4h-4zM283.5 509.5h4v4h-4zM95.5 513.5h4v4h-4zM127.5 513.5h4v4h-4zM135.5 513.5h4v4h-4zM171.5 513.5h4v4h-4zM127.5 517.5h4v4h-4zM187.5 517.5h4v4h-4zM203.5 517.5h8v4h-8zM251.5 517.5h4v4h-4zM283.5 517.5h4v4h-4zM135.5 521.5h4v4h-4zM155.5 521.5h4v4h-4zM175.5 521.5h4v4h-4zM231.5 521.5h4v4h-4zM379.5 521.5h4v4h-4zM107.5 525.5h4v4h-4zM163.5 525.5h4v4h-4zM199.5 525.5h4v4h-4zM259.5 525.5h4v4h-4zM351.5 525.5h4v4h-4zM79.5 529.5h4v4h-4zM235.5 529.5h4v4h-4zM275.5 529.5h4v4h-4zM211.5 533.5h4v4h-4zM263.5 533.5h4v4h-4zM303.5 533.5h4v4h-4zM327.5 533.5h8v4h-8zM339.5 533.5h4v4h-4zM239.5 537.5h4v4h-4zM267.5 537.5h4v4h-4zM303.5 537.5h4v4h-4zM335.5 537.5h4v4h-4zM351.5 537.5h4v4h-4zM135.5 541.5h4v4h-4zM267.5 541.5h8v4h-8zM87.5 545.5h4v4h-4zM163.5 545.5h4v4h-4zM183.5 545.5h4v4h-4zM191.5 545.5h4v4h-4zM127.5 549.5h4v4h-4zM159.5 549.5h4v4h-4zM187.5 549.5h4v4h-4zM263.5 549.5h8v4h-8zM283.5 549.5h4v4h-4zM183.5 553.5h4v4h-4zM219.5 553.5h4v4h-4zM231.5 553.5h4v4h-4zM283.5 553.5h4v4h-4zM215.5 557.5h4v4h-4zM243.5 557.5h4v4h-4zM347.5 557.5h4v4h-4zM83.5 561.5h4v4h-4zM155.5 561.5h4v4h-4zM195.5 561.5h4v4h-4zM239.5 561.5h4v4h-4zM207.5 565.5h4v4h-4zM331.5 565.5h4v4h-4zM343.5 565.5h4v4h-4zM375.5 565.5h4v4h-4zM103.5 569.5h4v4h-4zM119.5 569.5h4v4h-4zM279.5 569.5h4v4h-4zM331.5 569.5h4v4h-4zM171.5 573.5h4v4h-4zM203.5 573.5h4v4h-4zM371.5 573.5h4v4h-4zM119.5 577.5h4v4h-4zM139.5 577.5h4v4h-4zM311.5 577.5h4v4h-4zM363.5 577.5h4v4h-4zM375.5 577.5h4v4h-4zM99.5 585.5h4v4h-4zM119.5 585.5h4v4h-4zM139.5 585.5h4v4h-4zM243.5 585.5h4v4h-4zM303.5 585.5h8v4h-8zM319.5 585.5h4v4h-4zM91.5 589.5h4v4h-4zM115.5 589.5h8v4h-8zM155.5 589.5h4v4h-4zM199.5 589.5h4v4h-4zM299.5 589.5h4v4h-4zM311.5 589.5h4v4h-4zM323.5 589.5h4v4h-4zM271.5 593.5h4v4h-4zM299.5 593.5h4v4h-4zM351.5 593.5h4v4h-4zM231.5 597.5h4v4h-4zM255.5 597.5h4v4h-4zM271.5 597.5h8v4h-8zM303.5 597.5h4v4h-4zM375.5 597.5h4v4h-4zM91.5 601.5h4v4h-4zM207.5 601.5h4v4h-4zM235.5 601.5h8v4h-8zM319.5 601.5h4v4h-4zM99.5 605.5h4v4h-4zM323.5 605.5h4v4h-4zM83.5 609.5h4v4h-4zM103.5 609.5h4v4h-4zM347.5 609.5h4v4h-4zM367.5 609.5h4v4h-4zM151.5 613.5h4v4h-4zM187.5 613.5h4v4h-4zM99.5 617.5h4v4h-4zM191.5 617.5h4v4h-4zM339.5 617.5h4v4h-4zM347.5 617.5h4v4h-4zM83.5 621.5h4v4h-4zM107.5 621.5h4v4h-4zM147.5 621.5h4v4h-4zM299.5 621.5h4v4h-4zM367.5 621.5h4v4h-4zM379.5 621.5h4v4h-4zM99.5 625.5h4v4h-4zM163.5 625.5h4v4h-4zM211.5 625.5h4v4h-4zM239.5 625.5h4v4h-4zM259.5 625.5h4v4h-4zM363.5 625.5h4v4h-4zM111.5 629.5h4v4h-4zM211.5 629.5h4v4h-4zM267.5 629.5h4v4h-4zM287.5 629.5h4v4h-4zM163.5 633.5h4v4h-4zM247.5 633.5h4v4h-4zM287.5 633.5h4v4h-4zM327.5 633.5h8v4h-8zM83.5 637.5h4v4h-4zM115.5 637.5h4v4h-4zM167.5 637.5h4v4h-4zM311.5 637.5h4v4h-4zM335.5 641.5h4v4h-4zM379.5 641.5h4v4h-4zM83.5 645.5h4v4h-4zM119.5 645.5h4v4h-4zM159.5 645.5h4v4h-4zM87.5 649.5h4v4h-4zM155.5 649.5h4v4h-4zM147.5 653.5h4v4h-4zM235.5 653.5h8v4h-8zM367.5 653.5h4v4h-4z"/>
<path fill="#282828" d="M99.5 353.5h4v4h-4zM107.5 353.5h4v4h-4zM175.5 353.5h4v4h-4zM255.5 353.5h4v4h-4zM323.5 353.5h4v4h-4zM331.5 353.5h4v4h-4zM375.5 353.5h4v4h-4zM263.5 357.5h4v4h-4zM315.5 357.5h4v4h-4zM151.5 361.5h4v4h-4zM167.5 361.5h4v4h-4zM223.5 361.5h4v4h-4zM351.5 361.5h8v4h-8zM223.5 365.5h4v4h-4zM255.5 365.5h4v4h-4zM111.5 369.5h4v4h-4zM247.5 369.5h4v4h-4zM311.5 369.5h4v4h-4zM339.5 369.5h4v4h-4zM347.5 369.5h8v4h-8zM179.5 373.5h8v4h-8zM199.5 373.5h4v4h-4zM379.5 373.5h4v4h-4zM91.5 377.5h4v4h-4zM119.5 377.5h4v4h-4zM339.5 377.5h4v4h-4zM127.5 381.5h4v4h-4zM203.5 381.5h4v4h-4zM79.5 385.5h8v4h-8zM187.5 385.5h4v4h-4zM103.5 389.5h4v4h-4zM119.5 389.5h4v4h-4zM139.5 389.5h4v4h-4zM147.5 389.5h4v4h-4zM167.5 389.5h4v4h-4zM175.5 389.5h4v4h-4zM231.5 389.5h4v4h-4zM315.5 389.5h4v4h-4zM359.5 389.5h4v4h-4zM375.5 389.5h4v4h-4zM111.5 393.5h4v4h-4zM159.5 393.5h4v4h-4zM195.5 393.5h4v4h-4zM239.5 393.5h4v4h-4zM335.5 393.5h8v4h-8zM163.5 397.5h4v4h-4zM219.5 397.5h4v4h-4zM235.5 397.5h4v4h-4zM263.5 397.5h4v4h-4zM111.5 401.5h4v4h-4zM143.5 401.5h4v4h-4zM155.5 401.5h8v4h-8zM179.5 401.5h4v4h-4zM271.5 401.5h4v4h-4zM315.5 401.5h4v4h-4zM103.5 405.5h4v4h-4zM111.5 405.5h8v4h-8zM127.5 405.5h4v4h-4zM291.5 409.5h4v4h-4zM339.5 409.5h4v4h-4zM183.5 413.5h4v4h-4zM271.5 413.5h4v4h-4zM299.5 413.5h4v4h-4zM363.5 413.5h4v4h-4zM79.5 417.5h4v4h-4zM135.5 417.5h8v4h-8zM207.5 417.5h4v4h-4zM215.5 417.5h4v4h-4zM295.5 417.5h4v4h-4zM307.5 417.5h4v4h-4zM335.5 417.5h4v4h-4zM135.5 421.5h4v4h-4zM203.5 421.5h4v4h-4zM227.5 421.5h4v4h-4zM263.5 421.5h4v4h-4zM327.5 421.5h8v4h-8zM147.5 425.5h4v4h-4zM239.5 425.5h4v4h-4zM255.5 425.5h4v4h-4zM95.5 429.5h4v4h-4zM107.5 429.5h4v4h-4zM139.5 429.5h4v4h-4zM251.5 429.5h4v4h-4zM295.5 429.5h4v4h-4zM375.5 429.5h4v4h-4zM131.5 433.5h4v4h-4zM151.5 433.5h4v4h-4zM175.5 433.5h4v4h-4zM191.5 433.5h4v4h-4zM375.5 433.5h4v4h-4zM123.5 437.5h4v4h-4zM371.5 437.5h4v4h-4zM95.5 441.5h4v4h-4zM351.5 441.5h4v4h-4zM171.5 445.5h4v4h-4zM283.5 445.5h4v4h-4zM359.5 445.5h4v4h-4zM91.5 449.5h4v4h-4zM199.5 449.5h4v4h-4zM211.5 449.5h4v4h-4zM91.5 453.5h8v4h-8zM155.5 453.5h4v4h-4zM167.5 453.5h4v4h-4zM187.5 453.5h4v4h-4zM211.5 453.5h4v4h-4zM303.5 453.5h4v4h-4zM171.5 457.5h4v4h-4zM207.5 457.5h4v4h-4zM215.5 457.5h4v4h-4zM223.5 457.5h8v4h-8zM95.5 461.5h4v4h-4zM167.5 461.5h4v4h-4zM183.5 461.5h4v4h-4zM211.5 461.5h4v4h-4zM287.5 465.5h4v4h-4zM339.5 465.5h4v4h-4zM143.5 469.5h4v4h-4zM155.5 469.5h8v4h-8zM203.5 469.5h4v4h-4zM283.5 469.5h4v4h-4zM299.5 469.5h4v4h-4zM319.5 469.5h4v4h-4zM355.5 469.5h4v4h-4zM79.5 473.5h4v4h-4zM99.5 473.5h4v4h-4zM151.5 473.5h4v4h-4zM259.5 473.5h8v4h-8zM303.5 473.5h4v4h-4zM327.5 473.5h4v4h-4zM347.5 473.5h4v4h-4zM355.5 473.5h4v4h-4zM95.5 477.5h4v4h-4zM107.5 477.5h8v4h-8zM231.5 477.5h4v4h-4zM259.5 477.5h4v4h-4zM303.5 477.5h4v4h-4zM331.5 477.5h4v4h-4zM375.5 477.5h4v4h-4zM87.5 481.5h4v4h-4zM303.5 481.5h4v4h-4zM335.5 481.5h4v4h-4zM83.5 485.5h4v4h-4zM207.5 485.5h4v4h-4zM227.5 485.5h4v4h-4zM327.5 485.5h4v4h-4zM347.5 485.5h4v4h-4zM187.5 489.5h4v4h-4zM211.5 489.5h4v4h-4zM255.5 489.5h4v4h-4zM287.5 489.5h4v4h-4zM335.5 489.5h8v4h-8zM347.5 489.5h4v4h-4zM187.5 493.5h4v4h-4zM203.5 493.5h4v4h-4zM251.5 493.5h4v4h-4zM151.5 497.5h4v4h-4zM239.5 497.5h4v4h-4zM255.5 497.5h4v4h-4zM151.5 501.5h4v4h-4zM155.5 505.5h12v4h-12zM307.5 505.5h4v4h-4zM375.5 505.5h4v4h-4zM91.5 509.5h4v4h-4zM151.5 509.5h4v4h-4zM315.5 509.5h4v4h-4zM327.5 509.5h4v4h-4zM87.5 513.5h4v4h-4zM99.5 513.5h4v4h-4zM139.5 517.5h4v4h-4zM167.5 517.5h4v4h-4zM235.5 517.5h4v4h-4zM243.5 517.5h4v4h-4zM339.5 517.5h4v4h-4zM163.5 521.5h4v4h-4zM307.5 521.5h4v4h-4zM95.5 525.5h8v4h-8zM151.5 525.5h4v4h-4zM175.5 525.5h4v4h-4zM183.5 525.5h4v4h-4zM291.5 525.5h4v4h-4zM151.5 529.5h4v4h-4zM171.5 529.5h4v4h-4zM267.5 529.5h4v4h-4zM303.5 529.5h4v4h-4zM331.5 529.5h4v4h-4zM83.5 533.5h4v4h-4zM107.5 533.5h4v4h-4zM207.5 533.5h4v4h-4zM215.5 533.5h4v4h-4zM107.5 537.5h4v4h-4zM123.5 537.5h4v4h-4zM287.5 537.5h4v4h-4zM339.5 537.5h4v4h-4zM375.5 537.5h4v4h-4zM95.5 541.5h4v4h-4zM147.5 541.5h4v4h-4zM155.5 541.5h4v4h-4zM171.5 541.5h4v4h-4zM235.5 541.5h8v4h-8zM147.5 545.5h4v4h-4zM159.5 545.5h4v4h-4zM179.5 545.5h4v4h-4zM255.5 545.5h4v4h-4zM283.5 545.5h4v4h-4zM315.5 545.5h4v4h-4zM99.5 549.5h4v4h-4zM123.5 549.5h4v4h-4zM211.5 549.5h4v4h-4zM223.5 549.5h8v4h-8zM315.5 549.5h4v4h-4zM363.5 549.5h8v4h-8zM103.5 553.5h4v4h-4zM199.5 553.5h4v4h-4zM243.5 553.5h4v4h-4zM315.5 553.5h4v4h-4zM331.5 553.5h4v4h-4zM91.5 557.5h4v4h-4zM115.5 557.5h4v4h-4zM211.5 557.5h4v4h-4zM227.5 557.5h4v4h-4zM299.5 557.5h4v4h-4zM335.5 557.5h4v4h-4zM151.5 561.5h4v4h-4zM223.5 561.5h4v4h-4zM247.5 561.5h4v4h-4zM83.5 565.5h4v4h-4zM103.5 565.5h4v4h-4zM187.5 565.5h4v4h-4zM231.5 565.5h4v4h-4zM263.5 565.5h4v4h-4zM367.5 565.5h4v4h-4zM183.5 569.5h4v4h-4zM263.5 569.5h4v4h-4zM95.5 573.5h4v4h-4zM111.5 573.5h4v4h-4zM175.5 573.5h4v4h-4zM375.5 573.5h4v4h-4zM99.5 577.5h4v4h-4zM111.5 577.5h4v4h-4zM203.5 577.5h8v4h-8zM335.5 577.5h4v4h-4zM111.5 581.5h4v4h-4zM147.5 581.5h4v4h-4zM163.5 581.5h4v4h-4zM287.5 581.5h4v4h-4zM299.5 581.5h4v4h-4zM315.5 581.5h4v4h-4zM351.5 581.5h4v4h-4zM87.5 585.5h4v4h-4zM115.5 585.5h4v4h-4zM263.5 585.5h4v4h-4zM311.5 585.5h4v4h-4zM207.5 589.5h4v4h-4zM223.5 589.5h4v4h-4zM235.5 593.5h4v4h-4zM335.5 593.5h4v4h-4zM379.5 597.5h4v4h-4zM179.5 601.5h4v4h-4zM243.5 601.5h4v4h-4zM271.5 601.5h4v4h-4zM287.5 601.5h8v4h-8zM371.5 601.5h4v4h-4zM255.5 605.5h4v4h-4zM271.5 609.5h4v4h-4zM299.5 609.5h4v4h-4zM135.5 613.5h4v4h-4zM211.5 613.5h4v4h-4zM235.5 613.5h8v4h-8zM263.5 613.5h8v4h-8zM111.5 617.5h4v4h-4zM183.5 617.5h4v4h-4zM379.5 617.5h4v4h-4zM111.5 621.5h4v4h-4zM167.5 621.5h4v4h-4zM187.5 621.5h4v4h-4zM211.5 621.5h4v4h-4zM363.5 621.5h4v4h-4zM375.5 621.5h4v4h-4zM79.5 625.5h12v4h-12zM103.5 625.5h4v4h-4zM115.5 625.5h4v4h-4zM207.5 625.5h4v4h-4zM243.5 625.5h4v4h-4zM263.5 625.5h4v4h-4zM331.5 625.5h4v4h-4zM131.5 629.5h4v4h-4zM271.5 629.5h8v4h-8zM283.5 629.5h4v4h-4zM323.5 629.5h4v4h-4zM127.5 633.5h4v4h-4zM179.5 637.5h4v4h-4zM307.5 637.5h4v4h-4zM367.5 637.5h4v4h-4zM87.5 641.5h4v4h-4zM167.5 641.5h4v4h-4zM179.5 641.5h4v4h-4zM271.5 641.5h4v4h-4zM355.5 641.5h4v4h-4zM195.5 645.5h4v4h-4zM223.5 645.5h4v4h-4zM231.5 645.5h4v4h-4zM307.5 645.5h4v4h-4zM343.5 645.5h4v4h-4zM175.5 649.5h4v4h-4zM355.5 649.5h12v4h-12zM375.5 649.5h4v4h-4zM95.5 653.5h4v4h-4zM107.5 653.5h4v4h-4zM131.5 653.5h4v4h-4zM227.5 653.5h4v4h-4zM275.5 653.5h4v4h-4zM359.5 653.5h4v4h-4z"/>
<path fill="#2c2c2c" d="M79.5 353.5h4v4h-4zM119.5 353.5h4v4h-4zM139.5 353.5h4v4h-4zM163.5 353.5h4v4h-4zM259.5 353.5h4v4h-4zM371.5 353.5h4v4h-4zM107.5 357.5h4v4h-4zM183.5 357.5h4v4h-4zM259.5 357.5h4v4h-4zM319.5 357.5h4v4h-4zM203.5 361.5h4v4h-4zM275.5 361.5h4v4h-4zM291.5 361.5h4v4h-4zM311.5 361.5h4v4h-4zM103.5 365.5h4v4h-4zM239.5 365.5h4v4h-4zM307.5 365.5h4v4h-4zM123.5 369.5h4v4h-4zM151.5 369.5h4v4h-4zM179.5 369.5h4v4h-4zM267.5 369.5h4v4h-4zM279.5 369.5h4v4h-4zM315.5 369.5h4v4h-4zM91.5 373.5h4v4h-4zM119.5 373.5h4v4h-4zM143.5 373.5h4v4h-4zM175.5 373.5h4v4h-4zM263.5 373.5h12v4h-12zM279.5 373.5h4v4h-4zM367.5 373.5h4v4h-4zM127.5 377.5h4v4h-4zM167.5 377.5h4v4h-4zM123.5 381.5h4v4h-4zM131.5 381.5h8v4h-8zM355.5 381.5h4v4h-4zM363.5 381.5h4v4h-4zM371.5 381.5h4v4h-4zM95.5 385.5h4v4h-4zM119.5 385.5h4v4h-4zM163.5 385.5h4v4h-4zM231.5 385.5h4v4h-4zM279.5 385.5h4v4h-4zM107.5 389.5h4v4h-4zM183.5 389.5h4v4h-4zM195.5 389.5h4v4h-4zM271.5 389.5h4v4h-4zM279.5 389.5h4v4h-4zM367.5 389.5h4v4h-4zM379.5 389.5h4v4h-4zM123.5 393.5h4v4h-4zM263.5 393.5h8v4h-8zM343.5 393.5h4v4h-4zM123.5 397.5h4v4h-4zM175.5 397.5h4v4h-4zM187.5 397.5h4v4h-4zM319.5 397.5h4v4h-4zM175.5 401.5h4v4h-4zM235.5 401.5h4v4h-4zM139.5 405.5h4v4h-4zM107.5 409.5h4v4h-4zM283.5 409.5h4v4h-4zM343.5 409.5h4v4h-4zM87.5 413.5h4v4h-4zM99.5 413.5h4v4h-4zM107.5 413.5h12v4h-12zM127.5 413.5h4v4h-4zM191.5 413.5h4v4h-4zM283.5 413.5h4v4h-4zM107.5 417.5h4v4h-4zM167.5 417.5h4v4h-4zM175.5 417.5h4v4h-4zM131.5 421.5h4v4h-4zM163.5 421.5h4v4h-4zM279.5 421.5h4v4h-4zM291.5 421.5h8v4h-8zM307.5 421.5h4v4h-4zM339.5 421.5h4v4h-4zM115.5 425.5h12v4h-12zM159.5 425.5h4v4h-4zM167.5 425.5h4v4h-4zM259.5 425.5h4v4h-4zM327.5 425.5h4v4h-4zM359.5 425.5h4v4h-4zM111.5 429.5h4v4h-4zM123.5 429.5h4v4h-4zM227.5 429.5h4v4h-4zM239.5 429.5h4v4h-4zM259.5 429.5h4v4h-4zM267.5 429.5h12v4h-12zM315.5 429.5h4v4h-4zM355.5 429.5h4v4h-4zM379.5 429.5h4v4h-4zM79.5 433.5h4v4h-4zM103.5 433.5h4v4h-4zM115.5 433.5h8v4h-8zM127.5 433.5h4v4h-4zM283.5 433.5h4v4h-4zM379.5 433.5h4v4h-4zM235.5 437.5h4v4h-4zM319.5 437.5h4v4h-4zM91.5 441.5h4v4h-4zM99.5 441.5h4v4h-4zM163.5 441.5h4v4h-4zM211.5 441.5h4v4h-4zM239.5 441.5h4v4h-4zM303.5 441.5h4v4h-4zM91.5 445.5h4v4h-4zM107.5 445.5h4v4h-4zM195.5 445.5h4v4h-4zM211.5 445.5h4v4h-4zM347.5 445.5h4v4h-4zM103.5 449.5h4v4h-4zM167.5 449.5h4v4h-4zM287.5 449.5h4v4h-4zM339.5 449.5h4v4h-4zM99.5 453.5h4v4h-4zM139.5 453.5h4v4h-4zM279.5 453.5h4v4h-4zM87.5 457.5h4v4h-4zM175.5 457.5h4v4h-4zM351.5 457.5h4v4h-4zM103.5 461.5h4v4h-4zM123.5 461.5h4v4h-4zM227.5 461.5h4v4h-4zM363.5 461.5h4v4h-4zM135.5 465.5h4v4h-4zM247.5 465.5h4v4h-4zM283.5 465.5h4v4h-4zM295.5 465.5h4v4h-4zM87.5 469.5h4v4h-4zM219.5 469.5h4v4h-4zM211.5 477.5h4v4h-4zM267.5 477.5h4v4h-4zM323.5 477.5h4v4h-4zM83.5 481.5h4v4h-4zM103.5 481.5h4v4h-4zM135.5 481.5h4v4h-4zM207.5 481.5h4v4h-4zM255.5 481.5h4v4h-4zM307.5 481.5h4v4h-4zM99.5 489.5h4v4h-4zM111.5 489.5h4v4h-4zM199.5 489.5h4v4h-4zM291.5 489.5h4v4h-4zM99.5 493.5h4v4h-4zM115.5 493.5h4v4h-4zM171.5 493.5h4v4h-4zM179.5 493.5h4v4h-4zM243.5 493.5h4v4h-4zM243.5 497.5h4v4h-4zM251.5 497.5h4v4h-4zM359.5 497.5h4v4h-4zM375.5 497.5h4v4h-4zM203.5 501.5h4v4h-4zM239.5 501.5h4v4h-4zM267.5 501.5h4v4h-4zM375.5 501.5h4v4h-4zM119.5 505.5h8v4h-8zM231.5 505.5h4v4h-4zM311.5 505.5h4v4h-4zM331.5 505.5h4v4h-4zM367.5 505.5h4v4h-4zM175.5 509.5h4v4h-4zM267.5 509.5h4v4h-4zM279.5 509.5h4v4h-4zM303.5 509.5h4v4h-4zM319.5 509.5h4v4h-4zM119.5 513.5h4v4h-4zM191.5 513.5h4v4h-4zM83.5 517.5h4v4h-4zM159.5 517.5h4v4h-4zM299.5 517.5h4v4h-4zM215.5 521.5h4v4h-4zM171.5 525.5h4v4h-4zM211.5 525.5h4v4h-4zM231.5 525.5h8v4h-8zM263.5 525.5h4v4h-4zM299.5 525.5h4v4h-4zM323.5 525.5h4v4h-4zM347.5 525.5h4v4h-4zM375.5 525.5h4v4h-4zM87.5 529.5h4v4h-4zM243.5 529.5h4v4h-4zM263.5 529.5h4v4h-4zM279.5 529.5h4v4h-4zM371.5 529.5h4v4h-4zM99.5 533.5h8v4h-8zM111.5 533.5h4v4h-4zM223.5 533.5h4v4h-4zM315.5 533.5h8v4h-8zM343.5 533.5h4v4h-4zM207.5 537.5h8v4h-8zM311.5 537.5h4v4h-4zM331.5 537.5h4v4h-4zM359.5 537.5h4v4h-4zM379.5 537.5h4v4h-4zM151.5 541.5h4v4h-4zM175.5 541.5h4v4h-4zM183.5 541.5h4v4h-4zM275.5 541.5h4v4h-4zM319.5 541.5h4v4h-4zM331.5 541.5h4v4h-4zM351.5 541.5h4v4h-4zM371.5 541.5h4v4h-4zM119.5 545.5h4v4h-4zM303.5 545.5h4v4h-4zM347.5 545.5h4v4h-4zM355.5 545.5h4v4h-4zM79.5 549.5h4v4h-4zM231.5 549.5h4v4h-4zM79.5 553.5h4v4h-4zM95.5 553.5h8v4h-8zM235.5 553.5h8v4h-8zM319.5 553.5h4v4h-4zM183.5 557.5h4v4h-4zM239.5 557.5h4v4h-4zM267.5 557.5h4v4h-4zM323.5 557.5h4v4h-4zM339.5 557.5h4v4h-4zM79.5 565.5h4v4h-4zM99.5 565.5h4v4h-4zM191.5 565.5h8v4h-8zM223.5 565.5h4v4h-4zM283.5 565.5h4v4h-4zM315.5 565.5h4v4h-4zM371.5 565.5h4v4h-4zM379.5 565.5h4v4h-4zM123.5 569.5h4v4h-4zM203.5 569.5h4v4h-4zM223.5 569.5h4v4h-4zM339.5 569.5h4v4h-4zM107.5 573.5h4v4h-4zM223.5 573.5h4v4h-4zM163.5 577.5h4v4h-4zM267.5 577.5h4v4h-4zM343.5 577.5h4v4h-4zM367.5 577.5h4v4h-4zM123.5 581.5h4v4h-4zM139.5 581.5h4v4h-4zM267.5 581.5h4v4h-4zM311.5 581.5h4v4h-4zM355.5 581.5h4v4h-4zM79.5 585.5h4v4h-4zM211.5 585.5h4v4h-4zM239.5 585.5h4v4h-4zM95.5 589.5h4v4h-4zM143.5 589.5h4v4h-4zM195.5 589.5h4v4h-4zM307.5 589.5h4v4h-4zM107.5 593.5h4v4h-4zM199.5 593.5h4v4h-4zM267.5 593.5h4v4h-4zM139.5 597.5h4v4h-4zM155.5 597.5h4v4h-4zM243.5 597.5h4v4h-4zM279.5 597.5h4v4h-4zM175.5 601.5h4v4h-4zM183.5 601.5h4v4h-4zM211.5 601.5h8v4h-8zM227.5 601.5h4v4h-4zM283.5 601.5h4v4h-4zM83.5 605.5h4v4h-4zM95.5 605.5h4v4h-4zM103.5 605.5h4v4h-4zM187.5 605.5h4v4h-4zM287.5 605.5h4v4h-4zM375.5 605.5h4v4h-4zM187.5 609.5h4v4h-4zM291.5 609.5h4v4h-4zM371.5 609.5h4v4h-4zM83.5 613.5h4v4h-4zM103.5 613.5h4v4h-4zM251.5 613.5h4v4h-4zM295.5 613.5h4v4h-4zM331.5 613.5h8v4h-8zM347.5 613.5h4v4h-4zM243.5 617.5h4v4h-4zM371.5 617.5h4v4h-4zM91.5 621.5h4v4h-4zM135.5 621.5h4v4h-4zM199.5 621.5h4v4h-4zM239.5 621.5h4v4h-4zM347.5 621.5h4v4h-4zM219.5 625.5h4v4h-4zM267.5 625.5h4v4h-4zM359.5 625.5h4v4h-4zM363.5 629.5h4v4h-4zM359.5 633.5h8v4h-8zM203.5 637.5h4v4h-4zM231.5 637.5h4v4h-4zM363.5 637.5h4v4h-4zM207.5 641.5h4v4h-4zM219.5 641.5h4v4h-4zM311.5 641.5h4v4h-4zM375.5 641.5h4v4h-4zM103.5 645.5h4v4h-4zM147.5 645.5h4v4h-4zM275.5 645.5h4v4h-4zM283.5 645.5h4v4h-4zM371.5 645.5h4v4h-4zM119.5 649.5h4v4h-4zM143.5 649.5h4v4h-4zM167.5 649.5h4v4h-4zM227.5 649.5h4v4h-4zM259.5 649.5h4v4h-4zM283.5 649.5h4v4h-4zM295.5 649.5h4v4h-4zM119.5 653.5h4v4h-4zM355.5 653.5h4v4h-4z"/>
<path fill="#303030" d="M215.5 353.5h4v4h-4zM235.5 353.5h4v4h-4zM359.5 353.5h4v4h-4zM367.5 353.5h4v4h-4zM95.5 357.5h4v4h-4zM147.5 357.5h4v4h-4zM363.5 357.5h4v4h-4zM375.5 357.5h4v4h-4zM183.5 361.5h4v4h-4zM243.5 361.5h4v4h-4zM279.5 361.5h4v4h-4zM299.5 361.5h4v4h-4zM247.5 365.5h8v4h-8zM299.5 365.5h8v4h-8zM323.5 365.5h4v4h-4zM259.5 369.5h4v4h-4zM123.5 373.5h12v4h-12zM171.5 373.5h4v4h-4zM335.5 373.5h4v4h-4zM123.5 377.5h4v4h-4zM131.5 377.5h4v4h-4zM163.5 377.5h4v4h-4zM179.5 377.5h4v4h-4zM283.5 377.5h4v4h-4zM335.5 377.5h4v4h-4zM359.5 377.5h4v4h-4zM163.5 381.5h8v4h-8zM239.5 381.5h4v4h-4zM283.5 381.5h4v4h-4zM359.5 381.5h4v4h-4zM99.5 385.5h4v4h-4zM151.5 385.5h4v4h-4zM171.5 385.5h4v4h-4zM247.5 385.5h4v4h-4zM271.5 385.5h4v4h-4zM283.5 385.5h4v4h-4zM159.5 389.5h4v4h-4zM179.5 389.5h4v4h-4zM79.5 393.5h4v4h-4zM147.5 393.5h4v4h-4zM175.5 393.5h4v4h-4zM235.5 393.5h4v4h-4zM243.5 393.5h8v4h-8zM159.5 397.5h4v4h-4zM275.5 397.5h4v4h-4zM343.5 397.5h4v4h-4zM355.5 397.5h4v4h-4zM79.5 401.5h4v4h-4zM175.5 405.5h4v4h-4zM299.5 405.5h8v4h-8zM135.5 409.5h4v4h-4zM171.5 413.5h4v4h-4zM211.5 413.5h4v4h-4zM303.5 413.5h4v4h-4zM131.5 417.5h4v4h-4zM355.5 417.5h4v4h-4zM87.5 421.5h4v4h-4zM143.5 421.5h4v4h-4zM159.5 421.5h4v4h-4zM167.5 421.5h4v4h-4zM179.5 421.5h4v4h-4zM259.5 421.5h4v4h-4zM351.5 421.5h4v4h-4zM195.5 425.5h4v4h-4zM291.5 425.5h4v4h-4zM323.5 425.5h4v4h-4zM91.5 429.5h4v4h-4zM171.5 429.5h4v4h-4zM255.5 429.5h4v4h-4zM263.5 429.5h4v4h-4zM283.5 429.5h4v4h-4zM123.5 433.5h4v4h-4zM135.5 433.5h4v4h-4zM239.5 433.5h4v4h-4zM323.5 433.5h4v4h-4zM103.5 437.5h4v4h-4zM111.5 437.5h4v4h-4zM191.5 437.5h4v4h-4zM199.5 437.5h4v4h-4zM239.5 437.5h4v4h-4zM295.5 437.5h4v4h-4zM307.5 437.5h4v4h-4zM347.5 437.5h4v4h-4zM107.5 441.5h4v4h-4zM195.5 441.5h4v4h-4zM283.5 441.5h4v4h-4zM315.5 441.5h4v4h-4zM339.5 441.5h4v4h-4zM363.5 441.5h4v4h-4zM83.5 445.5h8v4h-8zM163.5 445.5h4v4h-4zM215.5 445.5h4v4h-4zM263.5 445.5h4v4h-4zM363.5 445.5h4v4h-4zM111.5 449.5h4v4h-4zM171.5 449.5h4v4h-4zM183.5 449.5h4v4h-4zM235.5 449.5h4v4h-4zM267.5 449.5h4v4h-4zM279.5 449.5h4v4h-4zM231.5 453.5h4v4h-4zM247.5 453.5h4v4h-4zM91.5 457.5h12v4h-12zM151.5 457.5h8v4h-8zM167.5 457.5h4v4h-4zM219.5 457.5h4v4h-4zM111.5 461.5h4v4h-4zM171.5 461.5h4v4h-4zM223.5 461.5h4v4h-4zM231.5 461.5h4v4h-4zM287.5 461.5h4v4h-4zM359.5 461.5h4v4h-4zM367.5 461.5h4v4h-4zM95.5 465.5h4v4h-4zM139.5 465.5h8v4h-8zM183.5 465.5h4v4h-4zM227.5 465.5h4v4h-4zM267.5 465.5h4v4h-4zM275.5 465.5h4v4h-4zM323.5 465.5h4v4h-4zM79.5 469.5h4v4h-4zM267.5 469.5h4v4h-4zM275.5 469.5h8v4h-8zM351.5 469.5h4v4h-4zM95.5 473.5h4v4h-4zM251.5 473.5h4v4h-4zM87.5 477.5h4v4h-4zM127.5 477.5h4v4h-4zM139.5 477.5h4v4h-4zM227.5 477.5h4v4h-4zM291.5 477.5h4v4h-4zM79.5 481.5h4v4h-4zM107.5 481.5h4v4h-4zM119.5 481.5h4v4h-4zM131.5 481.5h4v4h-4zM275.5 481.5h4v4h-4zM167.5 485.5h4v4h-4zM223.5 485.5h4v4h-4zM255.5 485.5h4v4h-4zM311.5 485.5h4v4h-4zM79.5 489.5h4v4h-4zM183.5 489.5h4v4h-4zM239.5 489.5h4v4h-4zM251.5 489.5h4v4h-4zM303.5 489.5h4v4h-4zM359.5 489.5h4v4h-4zM119.5 493.5h4v4h-4zM247.5 493.5h4v4h-4zM259.5 493.5h4v4h-4zM275.5 493.5h4v4h-4zM303.5 493.5h4v4h-4zM363.5 493.5h4v4h-4zM175.5 497.5h4v4h-4zM203.5 497.5h4v4h-4zM223.5 497.5h4v4h-4zM263.5 497.5h4v4h-4zM275.5 497.5h4v4h-4zM355.5 497.5h4v4h-4zM231.5 501.5h8v4h-8zM335.5 501.5h4v4h-4zM343.5 501.5h4v4h-4zM175.5 505.5h4v4h-4zM339.5 505.5h4v4h-4zM379.5 505.5h4v4h-4zM123.5 509.5h4v4h-4zM323.5 509.5h4v4h-4zM367.5 509.5h4v4h-4zM323.5 513.5h4v4h-4zM171.5 517.5h8v4h-8zM323.5 517.5h4v4h-4zM171.5 521.5h4v4h-4zM179.5 521.5h4v4h-4zM327.5 521.5h4v4h-4zM79.5 525.5h4v4h-4zM143.5 525.5h4v4h-4zM191.5 525.5h4v4h-4zM223.5 525.5h4v4h-4zM303.5 525.5h4v4h-4zM327.5 525.5h4v4h-4zM103.5 529.5h4v4h-4zM167.5 529.5h4v4h-4zM299.5 529.5h4v4h-4zM319.5 529.5h4v4h-4zM339.5 529.5h4v4h-4zM155.5 533.5h4v4h-4zM235.5 533.5h4v4h-4zM347.5 533.5h4v4h-4zM215.5 537.5h4v4h-4zM235.5 537.5h4v4h-4zM283.5 537.5h4v4h-4zM319.5 537.5h4v4h-4zM343.5 537.5h4v4h-4zM87.5 541.5h4v4h-4zM115.5 541.5h4v4h-4zM139.5 541.5h4v4h-4zM179.5 541.5h4v4h-4zM203.5 541.5h4v4h-4zM215.5 541.5h4v4h-4zM327.5 541.5h4v4h-4zM359.5 541.5h4v4h-4zM131.5 545.5h4v4h-4zM195.5 545.5h4v4h-4zM299.5 545.5h4v4h-4zM343.5 545.5h4v4h-4zM139.5 549.5h4v4h-4zM151.5 549.5h8v4h-8zM267.5 553.5h4v4h-4zM79.5 557.5h4v4h-4zM111.5 557.5h4v4h-4zM147.5 557.5h4v4h-4zM187.5 557.5h12v4h-12zM207.5 557.5h4v4h-4zM287.5 557.5h4v4h-4zM123.5 561.5h4v4h-4zM287.5 561.5h4v4h-4zM123.5 565.5h8v4h-8zM219.5 565.5h4v4h-4zM227.5 565.5h4v4h-4zM95.5 569.5h8v4h-8zM187.5 569.5h8v4h-8zM267.5 569.5h4v4h-4zM275.5 569.5h4v4h-4zM295.5 569.5h4v4h-4zM335.5 569.5h4v4h-4zM351.5 569.5h4v4h-4zM359.5 569.5h4v4h-4zM375.5 569.5h4v4h-4zM99.5 573.5h4v4h-4zM115.5 573.5h4v4h-4zM195.5 573.5h4v4h-4zM219.5 573.5h4v4h-4zM83.5 577.5h8v4h-8zM159.5 577.5h4v4h-4zM315.5 577.5h8v4h-8zM379.5 577.5h4v4h-4zM79.5 581.5h4v4h-4zM271.5 581.5h4v4h-4zM91.5 585.5h4v4h-4zM147.5 585.5h4v4h-4zM183.5 585.5h4v4h-4zM267.5 585.5h4v4h-4zM275.5 585.5h4v4h-4zM315.5 585.5h4v4h-4zM147.5 589.5h4v4h-4zM183.5 589.5h4v4h-4zM239.5 589.5h4v4h-4zM147.5 593.5h4v4h-4zM179.5 593.5h4v4h-4zM207.5 593.5h4v4h-4zM275.5 593.5h4v4h-4zM359.5 593.5h4v4h-4zM83.5 597.5h4v4h-4zM95.5 597.5h4v4h-4zM107.5 597.5h4v4h-4zM135.5 597.5h4v4h-4zM183.5 597.5h4v4h-4zM207.5 597.5h4v4h-4zM235.5 597.5h4v4h-4zM307.5 597.5h4v4h-4zM351.5 597.5h4v4h-4zM111.5 601.5h4v4h-4zM139.5 601.5h4v4h-4zM187.5 601.5h4v4h-4zM255.5 601.5h4v4h-4zM375.5 601.5h4v4h-4zM135.5 605.5h4v4h-4zM295.5 605.5h4v4h-4zM159.5 609.5h4v4h-4zM215.5 609.5h4v4h-4zM223.5 609.5h4v4h-4zM307.5 609.5h4v4h-4zM79.5 613.5h4v4h-4zM111.5 613.5h4v4h-4zM363.5 613.5h4v4h-4zM375.5 613.5h4v4h-4zM179.5 617.5h4v4h-4zM211.5 617.5h4v4h-4zM239.5 617.5h4v4h-4zM275.5 617.5h4v4h-4zM335.5 617.5h4v4h-4zM363.5 617.5h4v4h-4zM79.5 621.5h4v4h-4zM107.5 625.5h4v4h-4zM271.5 625.5h4v4h-4zM235.5 629.5h4v4h-4zM279.5 629.5h4v4h-4zM295.5 629.5h4v4h-4zM87.5 633.5h4v4h-4zM167.5 633.5h4v4h-4zM283.5 633.5h4v4h-4zM303.5 633.5h4v4h-4zM87.5 637.5h4v4h-4zM159.5 637.5h4v4h-4zM247.5 637.5h8v4h-8zM275.5 637.5h4v4h-4zM135.5 641.5h4v4h-4zM151.5 641.5h4v4h-4zM267.5 641.5h4v4h-4zM275.5 641.5h4v4h-4zM283.5 641.5h4v4h-4zM307.5 641.5h4v4h-4zM331.5 641.5h4v4h-4zM371.5 641.5h4v4h-4zM143.5 645.5h4v4h-4zM167.5 645.5h4v4h-4zM259.5 645.5h4v4h-4zM155.5 653.5h4v4h-4zM199.5 653.5h4v4h-4zM207.5 653.5h4v4h-4zM263.5 653.5h8v4h-8z"/>
<path fill="#343434" d="M187.5 353.5h4v4h-4zM231.5 353.5h4v4h-4zM247.5 353.5h4v4h-4zM131.5 357.5h4v4h-4zM159.5 357.5h4v4h-4zM191.5 357.5h4v4h-4zM291.5 357.5h4v4h-4zM343.5 357.5h4v4h-4zM355.5 357.5h4v4h-4zM379.5 357.5h4v4h-4zM119.5 361.5h4v4h-4zM155.5 361.5h4v4h-4zM163.5 361.5h4v4h-4zM343.5 361.5h4v4h-4zM159.5 365.5h8v4h-8zM235.5 365.5h4v4h-4zM279.5 365.5h4v4h-4zM127.5 369.5h4v4h-4zM147.5 369.5h4v4h-4zM171.5 369.5h4v4h-4zM223.5 369.5h4v4h-4zM235.5 369.5h4v4h-4zM255.5 369.5h4v4h-4zM263.5 369.5h4v4h-4zM307.5 369.5h4v4h-4zM319.5 369.5h4v4h-4zM379.5 369.5h4v4h-4zM83.5 373.5h4v4h-4zM139.5 373.5h4v4h-4zM151.5 373.5h4v4h-4zM235.5 373.5h4v4h-4zM307.5 373.5h4v4h-4zM363.5 373.5h4v4h-4zM83.5 377.5h4v4h-4zM139.5 377.5h4v4h-4zM187.5 377.5h4v4h-4zM83.5 381.5h4v4h-4zM295.5 385.5h4v4h-4zM355.5 385.5h8v4h-8zM151.5 389.5h4v4h-4zM187.5 389.5h4v4h-4zM235.5 389.5h4v4h-4zM287.5 389.5h4v4h-4zM135.5 393.5h4v4h-4zM223.5 393.5h4v4h-4zM275.5 393.5h4v4h-4zM371.5 393.5h4v4h-4zM111.5 397.5h4v4h-4zM147.5 397.5h4v4h-4zM371.5 397.5h4v4h-4zM215.5 401.5h4v4h-4zM275.5 401.5h4v4h-4zM275.5 405.5h4v4h-4zM323.5 405.5h4v4h-4zM335.5 405.5h4v4h-4zM127.5 409.5h4v4h-4zM239.5 409.5h4v4h-4zM275.5 409.5h4v4h-4zM299.5 409.5h4v4h-4zM215.5 413.5h4v4h-4zM307.5 413.5h4v4h-4zM83.5 417.5h4v4h-4zM183.5 417.5h4v4h-4zM359.5 417.5h4v4h-4zM99.5 421.5h4v4h-4zM231.5 421.5h4v4h-4zM359.5 421.5h4v4h-4zM127.5 425.5h4v4h-4zM231.5 425.5h8v4h-8zM295.5 425.5h4v4h-4zM303.5 425.5h4v4h-4zM351.5 425.5h4v4h-4zM83.5 429.5h8v4h-8zM191.5 429.5h4v4h-4zM323.5 429.5h4v4h-4zM99.5 433.5h4v4h-4zM227.5 433.5h4v4h-4zM371.5 433.5h4v4h-4zM107.5 437.5h4v4h-4zM195.5 437.5h4v4h-4zM263.5 437.5h4v4h-4zM311.5 437.5h4v4h-4zM191.5 441.5h4v4h-4zM299.5 441.5h4v4h-4zM143.5 445.5h4v4h-4zM167.5 445.5h4v4h-4zM183.5 445.5h4v4h-4zM331.5 445.5h8v4h-8zM111.5 453.5h4v4h-4zM175.5 453.5h4v4h-4zM191.5 453.5h4v4h-4zM83.5 457.5h4v4h-4zM147.5 457.5h4v4h-4zM283.5 457.5h4v4h-4zM303.5 457.5h4v4h-4zM315.5 457.5h4v4h-4zM367.5 457.5h4v4h-4zM379.5 457.5h4v4h-4zM139.5 461.5h4v4h-4zM215.5 461.5h4v4h-4zM243.5 461.5h4v4h-4zM283.5 461.5h4v4h-4zM223.5 465.5h4v4h-4zM351.5 465.5h4v4h-4zM119.5 469.5h4v4h-4zM215.5 469.5h4v4h-4zM231.5 469.5h4v4h-4zM271.5 469.5h4v4h-4zM303.5 469.5h4v4h-4zM287.5 473.5h4v4h-4zM79.5 477.5h4v4h-4zM155.5 477.5h4v4h-4zM247.5 477.5h4v4h-4zM111.5 485.5h8v4h-8zM123.5 485.5h4v4h-4zM87.5 489.5h4v4h-4zM115.5 489.5h4v4h-4zM179.5 489.5h4v4h-4zM259.5 489.5h4v4h-4zM315.5 489.5h4v4h-4zM351.5 489.5h4v4h-4zM91.5 493.5h4v4h-4zM107.5 493.5h4v4h-4zM183.5 493.5h4v4h-4zM219.5 493.5h4v4h-4zM91.5 497.5h4v4h-4zM179.5 497.5h4v4h-4zM247.5 497.5h4v4h-4zM259.5 497.5h4v4h-4zM267.5 497.5h4v4h-4zM87.5 501.5h4v4h-4zM255.5 501.5h4v4h-4zM379.5 501.5h4v4h-4zM187.5 505.5h8v4h-8zM279.5 505.5h4v4h-4zM371.5 505.5h4v4h-4zM119.5 509.5h4v4h-4zM255.5 509.5h4v4h-4zM275.5 509.5h4v4h-4zM175.5 513.5h4v4h-4zM187.5 513.5h4v4h-4zM327.5 513.5h4v4h-4zM123.5 521.5h4v4h-4zM211.5 521.5h4v4h-4zM235.5 521.5h4v4h-4zM255.5 525.5h4v4h-4zM283.5 525.5h4v4h-4zM331.5 525.5h4v4h-4zM343.5 525.5h4v4h-4zM123.5 529.5h4v4h-4zM163.5 529.5h4v4h-4zM223.5 529.5h4v4h-4zM351.5 529.5h4v4h-4zM379.5 529.5h4v4h-4zM267.5 533.5h4v4h-4zM119.5 537.5h4v4h-4zM143.5 537.5h4v4h-4zM219.5 537.5h4v4h-4zM143.5 541.5h4v4h-4zM219.5 541.5h4v4h-4zM307.5 541.5h4v4h-4zM251.5 545.5h4v4h-4zM331.5 545.5h4v4h-4zM251.5 549.5h8v4h-8zM323.5 549.5h4v4h-4zM335.5 549.5h4v4h-4zM91.5 553.5h4v4h-4zM143.5 553.5h4v4h-4zM175.5 553.5h4v4h-4zM187.5 553.5h4v4h-4zM247.5 553.5h4v4h-4zM87.5 557.5h4v4h-4zM179.5 557.5h4v4h-4zM247.5 557.5h4v4h-4zM319.5 557.5h4v4h-4zM79.5 561.5h4v4h-4zM107.5 561.5h4v4h-4zM107.5 565.5h4v4h-4zM219.5 569.5h4v4h-4zM355.5 569.5h4v4h-4zM267.5 573.5h4v4h-4zM315.5 573.5h4v4h-4zM359.5 573.5h4v4h-4zM155.5 577.5h4v4h-4zM199.5 577.5h4v4h-4zM271.5 577.5h4v4h-4zM283.5 577.5h12v4h-12zM339.5 577.5h4v4h-4zM347.5 577.5h4v4h-4zM359.5 577.5h4v4h-4zM91.5 581.5h4v4h-4zM159.5 581.5h4v4h-4zM183.5 581.5h4v4h-4zM211.5 581.5h4v4h-4zM303.5 581.5h4v4h-4zM379.5 585.5h4v4h-4zM247.5 589.5h4v4h-4zM275.5 589.5h4v4h-4zM239.5 593.5h4v4h-4zM307.5 593.5h4v4h-4zM143.5 597.5h4v4h-4zM223.5 597.5h4v4h-4zM239.5 597.5h4v4h-4zM283.5 597.5h4v4h-4zM223.5 601.5h4v4h-4zM231.5 601.5h4v4h-4zM379.5 601.5h4v4h-4zM119.5 605.5h4v4h-4zM167.5 605.5h8v4h-8zM231.5 605.5h4v4h-4zM371.5 605.5h4v4h-4zM119.5 609.5h4v4h-4zM219.5 609.5h4v4h-4zM231.5 609.5h4v4h-4zM119.5 613.5h4v4h-4zM127.5 613.5h4v4h-4zM163.5 613.5h4v4h-4zM119.5 617.5h4v4h-4zM135.5 617.5h4v4h-4zM147.5 617.5h4v4h-4zM167.5 617.5h4v4h-4zM259.5 621.5h4v4h-4zM167.5 625.5h4v4h-4zM203.5 625.5h4v4h-4zM127.5 629.5h4v4h-4zM175.5 629.5h4v4h-4zM187.5 629.5h4v4h-4zM355.5 629.5h8v4h-8zM79.5 633.5h4v4h-4zM123.5 633.5h4v4h-4zM283.5 637.5h4v4h-4zM291.5 637.5h4v4h-4zM303.5 637.5h4v4h-4zM335.5 637.5h4v4h-4zM195.5 641.5h4v4h-4zM211.5 641.5h4v4h-4zM339.5 641.5h4v4h-4zM347.5 641.5h4v4h-4zM359.5 641.5h4v4h-4zM367.5 641.5h4v4h-4zM151.5 645.5h8v4h-8zM171.5 645.5h4v4h-4zM367.5 645.5h4v4h-4zM123.5 649.5h4v4h-4zM139.5 649.5h4v4h-4zM203.5 649.5h4v4h-4zM247.5 649.5h4v4h-4zM299.5 649.5h4v4h-4zM367.5 649.5h4v4h-4zM215.5 653.5h8v4h-8zM243.5 653.5h4v4h-4zM279.5 653.5h4v4h-4z"/>
<path fill="#383838" d="M95.5 353.5h4v4h-4zM123.5 353.5h4v4h-4zM131.5 353.5h4v4h-4zM159.5 353.5h4v4h-4zM327.5 353.5h4v4h-4zM363.5 353.5h4v4h-4zM379.5 353.5h4v4h-4zM179.5 357.5h4v4h-4zM299.5 357.5h4v4h-4zM323.5 357.5h4v4h-4zM295.5 361.5h4v4h-4zM335.5 361.5h4v4h-4zM371.5 361.5h4v4h-4zM167.5 365.5h4v4h-4zM227.5 365.5h4v4h-4zM287.5 365.5h4v4h-4zM295.5 365.5h4v4h-4zM371.5 365.5h4v4h-4zM175.5 369.5h4v4h-4zM195.5 369.5h4v4h-4zM303.5 369.5h4v4h-4zM375.5 369.5h4v4h-4zM135.5 373.5h4v4h-4zM303.5 373.5h4v4h-4zM375.5 373.5h4v4h-4zM87.5 377.5h4v4h-4zM159.5 377.5h4v4h-4zM375.5 377.5h4v4h-4zM159.5 381.5h4v4h-4zM275.5 385.5h4v4h-4zM315.5 385.5h4v4h-4zM123.5 389.5h4v4h-4zM291.5 389.5h4v4h-4zM355.5 389.5h4v4h-4zM371.5 389.5h4v4h-4zM155.5 393.5h4v4h-4zM355.5 393.5h4v4h-4zM155.5 397.5h4v4h-4zM347.5 397.5h4v4h-4zM219.5 401.5h4v4h-4zM319.5 401.5h4v4h-4zM215.5 405.5h4v4h-4zM279.5 405.5h4v4h-4zM319.5 405.5h4v4h-4zM375.5 405.5h4v4h-4zM131.5 409.5h4v4h-4zM163.5 409.5h4v4h-4zM171.5 409.5h4v4h-4zM215.5 409.5h4v4h-4zM151.5 413.5h4v4h-4zM163.5 413.5h8v4h-8zM275.5 413.5h4v4h-4zM295.5 413.5h4v4h-4zM91.5 417.5h4v4h-4zM151.5 417.5h4v4h-4zM171.5 417.5h4v4h-4zM111.5 421.5h4v4h-4zM155.5 421.5h4v4h-4zM183.5 421.5h4v4h-4zM323.5 421.5h4v4h-4zM283.5 425.5h8v4h-8zM299.5 425.5h4v4h-4zM127.5 429.5h4v4h-4zM307.5 429.5h4v4h-4zM187.5 433.5h4v4h-4zM263.5 433.5h4v4h-4zM187.5 437.5h4v4h-4zM79.5 441.5h4v4h-4zM187.5 441.5h4v4h-4zM79.5 445.5h4v4h-4zM151.5 445.5h4v4h-4zM175.5 445.5h4v4h-4zM187.5 445.5h4v4h-4zM279.5 445.5h4v4h-4zM379.5 445.5h4v4h-4zM107.5 449.5h4v4h-4zM275.5 449.5h4v4h-4zM243.5 453.5h4v4h-4zM283.5 453.5h4v4h-4zM379.5 453.5h4v4h-4zM139.5 457.5h4v4h-4zM179.5 457.5h4v4h-4zM107.5 461.5h4v4h-4zM127.5 461.5h8v4h-8zM219.5 461.5h4v4h-4zM271.5 461.5h4v4h-4zM311.5 461.5h4v4h-4zM123.5 465.5h4v4h-4zM203.5 465.5h4v4h-4zM215.5 465.5h8v4h-8zM95.5 469.5h4v4h-4zM135.5 469.5h4v4h-4zM163.5 469.5h4v4h-4zM243.5 469.5h4v4h-4zM91.5 473.5h4v4h-4zM207.5 473.5h8v4h-8zM223.5 473.5h4v4h-4zM275.5 473.5h4v4h-4zM91.5 477.5h4v4h-4zM239.5 477.5h4v4h-4zM319.5 477.5h4v4h-4zM327.5 477.5h4v4h-4zM211.5 481.5h4v4h-4zM351.5 481.5h4v4h-4zM211.5 485.5h4v4h-4zM279.5 485.5h4v4h-4zM355.5 489.5h4v4h-4zM343.5 493.5h4v4h-4zM331.5 497.5h4v4h-4zM343.5 497.5h4v4h-4zM379.5 497.5h4v4h-4zM171.5 501.5h4v4h-4zM259.5 501.5h4v4h-4zM275.5 501.5h4v4h-4zM179.5 505.5h8v4h-8zM271.5 505.5h4v4h-4zM335.5 505.5h4v4h-4zM259.5 509.5h4v4h-4zM331.5 509.5h4v4h-4zM371.5 509.5h4v4h-4zM123.5 513.5h4v4h-4zM139.5 513.5h4v4h-4zM303.5 513.5h4v4h-4zM119.5 517.5h4v4h-4zM155.5 517.5h4v4h-4zM183.5 517.5h4v4h-4zM307.5 517.5h4v4h-4zM327.5 517.5h4v4h-4zM151.5 521.5h4v4h-4zM167.5 521.5h4v4h-4zM187.5 521.5h4v4h-4zM255.5 521.5h4v4h-4zM299.5 521.5h8v4h-8zM167.5 525.5h4v4h-4zM187.5 525.5h4v4h-4zM335.5 525.5h4v4h-4zM91.5 529.5h4v4h-4zM203.5 529.5h4v4h-4zM247.5 529.5h8v4h-8zM327.5 529.5h4v4h-4zM375.5 529.5h4v4h-4zM87.5 533.5h4v4h-4zM119.5 533.5h4v4h-4zM375.5 533.5h4v4h-4zM87.5 537.5h4v4h-4zM147.5 537.5h4v4h-4zM347.5 537.5h4v4h-4zM119.5 541.5h4v4h-4zM279.5 541.5h4v4h-4zM299.5 541.5h4v4h-4zM139.5 545.5h4v4h-4zM211.5 545.5h4v4h-4zM327.5 545.5h4v4h-4zM359.5 545.5h4v4h-4zM87.5 549.5h4v4h-4zM155.5 553.5h4v4h-4zM211.5 553.5h8v4h-8zM311.5 553.5h4v4h-4zM379.5 553.5h4v4h-4zM155.5 557.5h4v4h-4zM231.5 557.5h4v4h-4zM251.5 557.5h4v4h-4zM207.5 561.5h4v4h-4zM235.5 561.5h4v4h-4zM319.5 561.5h4v4h-4zM319.5 565.5h4v4h-4zM111.5 569.5h4v4h-4zM315.5 569.5h4v4h-4zM343.5 569.5h8v4h-8zM123.5 573.5h4v4h-4zM279.5 573.5h4v4h-4zM379.5 573.5h4v4h-4zM83.5 581.5h4v4h-4zM103.5 581.5h4v4h-4zM103.5 585.5h4v4h-4zM155.5 585.5h4v4h-4zM215.5 585.5h4v4h-4zM271.5 585.5h4v4h-4zM151.5 589.5h4v4h-4zM179.5 589.5h4v4h-4zM243.5 589.5h4v4h-4zM267.5 589.5h4v4h-4zM303.5 589.5h4v4h-4zM335.5 589.5h4v4h-4zM223.5 593.5h4v4h-4zM243.5 593.5h4v4h-4zM131.5 597.5h4v4h-4zM159.5 601.5h4v4h-4zM191.5 601.5h4v4h-4zM219.5 601.5h4v4h-4zM351.5 601.5h4v4h-4zM359.5 601.5h4v4h-4zM319.5 605.5h4v4h-4zM359.5 605.5h4v4h-4zM99.5 609.5h4v4h-4zM227.5 609.5h4v4h-4zM259.5 609.5h4v4h-4zM295.5 609.5h4v4h-4zM323.5 609.5h4v4h-4zM167.5 613.5h4v4h-4zM175.5 613.5h4v4h-4zM323.5 613.5h4v4h-4zM371.5 613.5h4v4h-4zM79.5 617.5h4v4h-4zM127.5 617.5h4v4h-4zM195.5 617.5h4v4h-4zM323.5 617.5h8v4h-8zM367.5 617.5h4v4h-4zM375.5 617.5h4v4h-4zM87.5 621.5h4v4h-4zM243.5 621.5h4v4h-4zM291.5 621.5h4v4h-4zM303.5 621.5h4v4h-4zM343.5 621.5h4v4h-4zM359.5 621.5h4v4h-4zM175.5 625.5h4v4h-4zM199.5 625.5h4v4h-4zM351.5 625.5h4v4h-4zM163.5 629.5h4v4h-4zM291.5 629.5h4v4h-4zM83.5 633.5h4v4h-4zM111.5 633.5h4v4h-4zM279.5 633.5h4v4h-4zM307.5 633.5h4v4h-4zM91.5 637.5h4v4h-4zM111.5 637.5h4v4h-4zM155.5 637.5h4v4h-4zM91.5 641.5h4v4h-4zM159.5 641.5h4v4h-4zM215.5 641.5h4v4h-4zM363.5 641.5h4v4h-4zM363.5 645.5h4v4h-4zM375.5 645.5h8v4h-8zM135.5 649.5h4v4h-4zM179.5 649.5h4v4h-4zM91.5 653.5h4v4h-4zM211.5 653.5h4v4h-4zM223.5 653.5h4v4h-4z"/>
<path fill="#3c3c3c" d="M127.5 353.5h4v4h-4zM135.5 353.5h4v4h-4zM151.5 357.5h8v4h-8zM215.5 357.5h4v4h-4zM359.5 357.5h4v4h-4zM171.5 361.5h4v4h-4zM227.5 361.5h4v4h-4zM235.5 361.5h4v4h-4zM339.5 361.5h4v4h-4zM123.5 365.5h4v4h-4zM203.5 365.5h8v4h-8zM231.5 365.5h4v4h-4zM283.5 365.5h4v4h-4zM199.5 369.5h4v4h-4zM299.5 369.5h4v4h-4zM87.5 373.5h4v4h-4zM155.5 373.5h4v4h-4zM283.5 373.5h4v4h-4zM79.5 377.5h4v4h-4zM207.5 377.5h4v4h-4zM311.5 377.5h4v4h-4zM367.5 377.5h8v4h-8zM315.5 381.5h4v4h-4zM123.5 385.5h4v4h-4zM167.5 385.5h4v4h-4zM235.5 385.5h4v4h-4zM191.5 389.5h4v4h-4zM347.5 389.5h4v4h-4zM231.5 393.5h4v4h-4zM375.5 393.5h4v4h-4zM351.5 397.5h4v4h-4zM119.5 401.5h4v4h-4zM147.5 401.5h8v4h-8zM323.5 401.5h4v4h-4zM371.5 401.5h4v4h-4zM151.5 405.5h4v4h-4zM307.5 405.5h4v4h-4zM339.5 405.5h4v4h-4zM103.5 409.5h4v4h-4zM151.5 409.5h4v4h-4zM303.5 409.5h4v4h-4zM135.5 413.5h4v4h-4zM199.5 413.5h4v4h-4zM227.5 413.5h4v4h-4zM103.5 417.5h4v4h-4zM119.5 417.5h4v4h-4zM283.5 417.5h4v4h-4zM327.5 417.5h4v4h-4zM119.5 421.5h4v4h-4zM151.5 421.5h4v4h-4zM335.5 421.5h4v4h-4zM319.5 425.5h4v4h-4zM319.5 429.5h4v4h-4zM91.5 433.5h4v4h-4zM315.5 433.5h8v4h-8zM367.5 433.5h4v4h-4zM267.5 437.5h4v4h-4zM315.5 437.5h4v4h-4zM367.5 437.5h4v4h-4zM307.5 445.5h4v4h-4zM143.5 449.5h4v4h-4zM319.5 449.5h4v4h-4zM379.5 449.5h4v4h-4zM103.5 453.5h4v4h-4zM151.5 453.5h4v4h-4zM179.5 453.5h4v4h-4zM239.5 453.5h4v4h-4zM79.5 457.5h4v4h-4zM287.5 457.5h4v4h-4zM311.5 457.5h4v4h-4zM87.5 461.5h8v4h-8zM143.5 461.5h4v4h-4zM87.5 465.5h4v4h-4zM119.5 465.5h4v4h-4zM211.5 465.5h4v4h-4zM359.5 465.5h4v4h-4zM139.5 469.5h4v4h-4zM247.5 469.5h4v4h-4zM343.5 469.5h8v4h-8zM111.5 473.5h4v4h-4zM159.5 473.5h4v4h-4zM235.5 473.5h4v4h-4zM315.5 473.5h4v4h-4zM351.5 473.5h4v4h-4zM243.5 477.5h4v4h-4zM263.5 477.5h4v4h-4zM267.5 481.5h4v4h-4zM175.5 485.5h4v4h-4zM119.5 489.5h4v4h-4zM159.5 489.5h4v4h-4zM175.5 489.5h4v4h-4zM227.5 489.5h4v4h-4zM239.5 493.5h4v4h-4zM331.5 493.5h4v4h-4zM171.5 497.5h4v4h-4zM83.5 501.5h4v4h-4zM251.5 501.5h4v4h-4zM271.5 501.5h4v4h-4zM339.5 501.5h4v4h-4zM243.5 505.5h4v4h-4zM179.5 509.5h4v4h-4zM191.5 509.5h4v4h-4zM271.5 509.5h4v4h-4zM151.5 513.5h4v4h-4zM123.5 517.5h4v4h-4zM143.5 517.5h4v4h-4zM79.5 521.5h4v4h-4zM119.5 521.5h4v4h-4zM283.5 521.5h4v4h-4zM331.5 521.5h4v4h-4zM123.5 525.5h4v4h-4zM227.5 525.5h4v4h-4zM287.5 525.5h4v4h-4zM207.5 529.5h4v4h-4zM295.5 529.5h4v4h-4zM323.5 529.5h4v4h-4zM379.5 533.5h4v4h-4zM131.5 541.5h4v4h-4zM207.5 545.5h4v4h-4zM231.5 545.5h4v4h-4zM179.5 553.5h4v4h-4zM195.5 553.5h4v4h-4zM203.5 557.5h4v4h-4zM263.5 561.5h4v4h-4zM295.5 561.5h4v4h-4zM103.5 573.5h4v4h-4zM295.5 573.5h4v4h-4zM335.5 573.5h4v4h-4zM123.5 577.5h4v4h-4zM211.5 577.5h8v4h-8zM107.5 581.5h4v4h-4zM179.5 581.5h4v4h-4zM215.5 581.5h4v4h-4zM307.5 581.5h4v4h-4zM379.5 581.5h4v4h-4zM179.5 585.5h4v4h-4zM99.5 589.5h4v4h-4zM111.5 589.5h4v4h-4zM271.5 589.5h4v4h-4zM183.5 593.5h4v4h-4zM247.5 593.5h4v4h-4zM99.5 597.5h4v4h-4zM103.5 601.5h4v4h-4zM155.5 601.5h4v4h-4zM159.5 605.5h4v4h-4zM219.5 605.5h4v4h-4zM267.5 609.5h4v4h-4zM311.5 609.5h4v4h-4zM87.5 613.5h4v4h-4zM131.5 613.5h4v4h-4zM171.5 613.5h4v4h-4zM215.5 613.5h4v4h-4zM255.5 613.5h4v4h-4zM367.5 613.5h4v4h-4zM87.5 617.5h4v4h-4zM115.5 617.5h4v4h-4zM175.5 617.5h4v4h-4zM191.5 621.5h4v4h-4zM215.5 621.5h4v4h-4zM271.5 621.5h4v4h-4zM279.5 621.5h4v4h-4zM215.5 625.5h4v4h-4zM275.5 625.5h4v4h-4zM291.5 625.5h4v4h-4zM323.5 625.5h4v4h-4zM351.5 629.5h4v4h-4zM175.5 633.5h4v4h-4zM299.5 633.5h4v4h-4zM323.5 633.5h4v4h-4zM171.5 641.5h4v4h-4zM203.5 641.5h4v4h-4zM251.5 641.5h8v4h-8zM315.5 641.5h12v4h-12zM295.5 645.5h4v4h-4zM355.5 645.5h4v4h-4zM267.5 649.5h4v4h-4zM279.5 649.5h4v4h-4z"/>
<path fill="#404040" d="M91.5 353.5h4v4h-4zM239.5 353.5h4v4h-4zM291.5 353.5h4v4h-4zM135.5 357.5h4v4h-4zM187.5 357.5h4v4h-4zM243.5 357.5h4v4h-4zM127.5 361.5h4v4h-4zM159.5 361.5h4v4h-4zM187.5 361.5h4v4h-4zM199.5 361.5h4v4h-4zM239.5 361.5h4v4h-4zM331.5 361.5h4v4h-4zM379.5 361.5h4v4h-4zM127.5 365.5h4v4h-4zM191.5 365.5h4v4h-4zM291.5 365.5h4v4h-4zM311.5 365.5h4v4h-4zM207.5 369.5h4v4h-4zM251.5 369.5h4v4h-4zM287.5 373.5h4v4h-4zM339.5 373.5h4v4h-4zM363.5 377.5h4v4h-4zM299.5 381.5h4v4h-4zM135.5 385.5h4v4h-4zM159.5 385.5h4v4h-4zM155.5 389.5h4v4h-4zM247.5 389.5h4v4h-4zM351.5 389.5h4v4h-4zM151.5 393.5h4v4h-4zM79.5 397.5h4v4h-4zM119.5 397.5h4v4h-4zM223.5 397.5h4v4h-4zM231.5 397.5h4v4h-4zM323.5 397.5h4v4h-4zM143.5 405.5h4v4h-4zM171.5 405.5h4v4h-4zM235.5 405.5h4v4h-4zM379.5 405.5h4v4h-4zM167.5 409.5h4v4h-4zM227.5 409.5h4v4h-4zM295.5 409.5h4v4h-4zM103.5 413.5h4v4h-4zM131.5 413.5h4v4h-4zM187.5 413.5h4v4h-4zM207.5 413.5h4v4h-4zM99.5 417.5h4v4h-4zM195.5 417.5h4v4h-4zM219.5 417.5h4v4h-4zM279.5 417.5h4v4h-4zM311.5 417.5h4v4h-4zM195.5 421.5h8v4h-8zM287.5 421.5h4v4h-4zM307.5 425.5h4v4h-4zM315.5 425.5h4v4h-4zM279.5 429.5h4v4h-4zM111.5 433.5h4v4h-4zM231.5 433.5h8v4h-8zM267.5 433.5h4v4h-4zM91.5 437.5h4v4h-4zM299.5 437.5h8v4h-8zM83.5 441.5h8v4h-8zM279.5 441.5h4v4h-4zM307.5 441.5h4v4h-4zM343.5 445.5h4v4h-4zM151.5 449.5h4v4h-4zM195.5 449.5h4v4h-4zM271.5 449.5h4v4h-4zM107.5 453.5h4v4h-4zM103.5 457.5h8v4h-8zM239.5 457.5h4v4h-4zM307.5 457.5h4v4h-4zM195.5 461.5h4v4h-4zM299.5 461.5h4v4h-4zM343.5 461.5h4v4h-4zM83.5 465.5h4v4h-4zM175.5 465.5h4v4h-4zM355.5 465.5h4v4h-4zM127.5 469.5h4v4h-4zM207.5 469.5h4v4h-4zM223.5 469.5h4v4h-4zM115.5 473.5h4v4h-4zM163.5 473.5h4v4h-4zM239.5 473.5h4v4h-4zM283.5 473.5h4v4h-4zM355.5 477.5h4v4h-4zM259.5 481.5h4v4h-4zM291.5 481.5h4v4h-4zM355.5 481.5h4v4h-4zM103.5 485.5h4v4h-4zM259.5 485.5h4v4h-4zM275.5 485.5h4v4h-4zM355.5 485.5h4v4h-4zM83.5 489.5h4v4h-4zM219.5 489.5h4v4h-4zM275.5 489.5h4v4h-4zM103.5 493.5h4v4h-4zM263.5 493.5h4v4h-4zM355.5 493.5h4v4h-4zM227.5 497.5h4v4h-4zM167.5 501.5h4v4h-4zM179.5 501.5h4v4h-4zM259.5 505.5h4v4h-4zM335.5 509.5h4v4h-4zM183.5 513.5h4v4h-4zM331.5 513.5h4v4h-4zM79.5 517.5h4v4h-4zM179.5 517.5h4v4h-4zM239.5 517.5h4v4h-4zM331.5 517.5h4v4h-4zM147.5 521.5h4v4h-4zM183.5 521.5h4v4h-4zM203.5 521.5h4v4h-4zM339.5 521.5h4v4h-4zM111.5 525.5h4v4h-4zM147.5 525.5h4v4h-4zM239.5 525.5h4v4h-4zM339.5 525.5h4v4h-4zM95.5 529.5h8v4h-8zM115.5 529.5h4v4h-4zM143.5 529.5h4v4h-4zM231.5 529.5h4v4h-4zM343.5 529.5h4v4h-4zM115.5 533.5h4v4h-4zM143.5 533.5h4v4h-4zM271.5 533.5h4v4h-4zM299.5 533.5h4v4h-4zM111.5 537.5h8v4h-8zM271.5 537.5h4v4h-4zM287.5 541.5h4v4h-4zM343.5 541.5h8v4h-8zM223.5 545.5h4v4h-4zM95.5 549.5h4v4h-4zM147.5 549.5h4v4h-4zM87.5 553.5h4v4h-4zM299.5 553.5h8v4h-8zM151.5 557.5h4v4h-4zM199.5 557.5h4v4h-4zM235.5 557.5h4v4h-4zM227.5 561.5h4v4h-4zM339.5 565.5h4v4h-4zM195.5 569.5h4v4h-4zM291.5 573.5h4v4h-4zM303.5 573.5h4v4h-4zM107.5 577.5h4v4h-4zM307.5 577.5h4v4h-4zM155.5 581.5h4v4h-4zM111.5 585.5h4v4h-4zM315.5 589.5h4v4h-4zM143.5 593.5h4v4h-4zM187.5 593.5h4v4h-4zM195.5 593.5h4v4h-4zM303.5 593.5h4v4h-4zM355.5 593.5h4v4h-4zM103.5 597.5h4v4h-4zM319.5 597.5h4v4h-4zM359.5 597.5h4v4h-4zM107.5 605.5h4v4h-4zM179.5 605.5h4v4h-4zM291.5 605.5h4v4h-4zM87.5 609.5h4v4h-4zM171.5 609.5h4v4h-4zM263.5 609.5h4v4h-4zM359.5 609.5h4v4h-4zM99.5 613.5h4v4h-4zM179.5 613.5h4v4h-4zM259.5 613.5h4v4h-4zM271.5 613.5h4v4h-4zM95.5 617.5h4v4h-4zM151.5 617.5h4v4h-4zM171.5 617.5h4v4h-4zM215.5 617.5h4v4h-4zM247.5 617.5h4v4h-4zM271.5 617.5h4v4h-4zM299.5 617.5h4v4h-4zM331.5 617.5h4v4h-4zM115.5 621.5h4v4h-4zM175.5 621.5h4v4h-4zM247.5 621.5h4v4h-4zM351.5 621.5h4v4h-4zM171.5 625.5h4v4h-4zM187.5 625.5h4v4h-4zM279.5 625.5h4v4h-4zM307.5 625.5h4v4h-4zM355.5 625.5h4v4h-4zM95.5 629.5h4v4h-4zM107.5 629.5h4v4h-4zM123.5 629.5h4v4h-4zM171.5 633.5h4v4h-4zM191.5 633.5h4v4h-4zM207.5 633.5h4v4h-4zM171.5 637.5h4v4h-4zM331.5 637.5h4v4h-4zM347.5 637.5h4v4h-4zM99.5 641.5h4v4h-4zM107.5 641.5h4v4h-4zM231.5 641.5h4v4h-4zM139.5 645.5h4v4h-4zM263.5 645.5h4v4h-4zM359.5 645.5h4v4h-4zM147.5 649.5h8v4h-8zM199.5 649.5h4v4h-4zM263.5 649.5h4v4h-4zM379.5 649.5h4v4h-4zM123.5 653.5h8v4h-8zM151.5 653.5h4v4h-4zM255.5 653.5h4v4h-4zM379.5 653.5h4v4h-4z"/>
<path fill="#444444" d="M155.5 353.5h4v4h-4zM243.5 353.5h4v4h-4zM119.5 357.5h4v4h-4zM175.5 357.5h4v4h-4zM231.5 357.5h8v4h-8zM295.5 357.5h4v4h-4zM231.5 361.5h4v4h-4zM323.5 361.5h4v4h-4zM199.5 365.5h4v4h-4zM231.5 369.5h4v4h-4zM295.5 369.5h4v4h-4zM207.5 373.5h4v4h-4zM231.5 373.5h4v4h-4zM135.5 377.5h4v4h-4zM155.5 377.5h4v4h-4zM183.5 377.5h4v4h-4zM203.5 377.5h4v4h-4zM235.5 377.5h4v4h-4zM155.5 381.5h4v4h-4zM183.5 381.5h8v4h-8zM127.5 389.5h4v4h-4zM275.5 389.5h4v4h-4zM303.5 389.5h4v4h-4zM311.5 389.5h4v4h-4zM187.5 393.5h4v4h-4zM227.5 393.5h4v4h-4zM151.5 397.5h4v4h-4zM343.5 401.5h4v4h-4zM139.5 409.5h4v4h-4zM219.5 409.5h4v4h-4zM279.5 409.5h4v4h-4zM219.5 413.5h4v4h-4zM239.5 413.5h4v4h-4zM279.5 413.5h4v4h-4zM203.5 417.5h4v4h-4zM227.5 417.5h4v4h-4zM235.5 417.5h4v4h-4zM319.5 417.5h4v4h-4zM147.5 421.5h4v4h-4zM171.5 421.5h4v4h-4zM319.5 421.5h4v4h-4zM355.5 421.5h4v4h-4zM171.5 425.5h4v4h-4zM311.5 425.5h4v4h-4zM355.5 425.5h4v4h-4zM231.5 429.5h8v4h-8zM95.5 433.5h4v4h-4zM107.5 433.5h4v4h-4zM99.5 437.5h4v4h-4zM179.5 441.5h8v4h-8zM263.5 441.5h4v4h-4zM311.5 441.5h4v4h-4zM343.5 441.5h8v4h-8zM295.5 445.5h4v4h-4zM339.5 445.5h4v4h-4zM175.5 449.5h4v4h-4zM291.5 449.5h4v4h-4zM143.5 453.5h4v4h-4zM287.5 453.5h8v4h-8zM231.5 457.5h4v4h-4zM83.5 461.5h4v4h-4zM207.5 461.5h4v4h-4zM247.5 461.5h4v4h-4zM355.5 461.5h4v4h-4zM207.5 465.5h4v4h-4zM271.5 465.5h4v4h-4zM311.5 465.5h4v4h-4zM111.5 469.5h4v4h-4zM211.5 469.5h4v4h-4zM311.5 469.5h4v4h-4zM323.5 469.5h4v4h-4zM139.5 473.5h4v4h-4zM155.5 473.5h4v4h-4zM243.5 473.5h4v4h-4zM319.5 473.5h4v4h-4zM351.5 477.5h4v4h-4zM171.5 485.5h4v4h-4zM271.5 485.5h4v4h-4zM283.5 485.5h4v4h-4zM291.5 485.5h4v4h-4zM315.5 485.5h4v4h-4zM351.5 485.5h4v4h-4zM163.5 489.5h12v4h-12zM223.5 493.5h4v4h-4zM235.5 497.5h4v4h-4zM271.5 497.5h4v4h-4zM335.5 497.5h4v4h-4zM79.5 501.5h4v4h-4zM175.5 501.5h4v4h-4zM243.5 501.5h4v4h-4zM247.5 505.5h8v4h-8zM275.5 505.5h4v4h-4zM143.5 513.5h8v4h-8zM179.5 513.5h4v4h-4zM335.5 513.5h4v4h-4zM335.5 517.5h4v4h-4zM115.5 521.5h4v4h-4zM207.5 521.5h4v4h-4zM287.5 521.5h4v4h-4zM115.5 525.5h4v4h-4zM147.5 529.5h4v4h-4zM291.5 529.5h4v4h-4zM151.5 533.5h4v4h-4zM367.5 533.5h4v4h-4zM155.5 537.5h4v4h-4zM223.5 537.5h4v4h-4zM299.5 537.5h4v4h-4zM91.5 541.5h4v4h-4zM123.5 541.5h4v4h-4zM211.5 541.5h4v4h-4zM283.5 541.5h4v4h-4zM291.5 541.5h4v4h-4zM123.5 545.5h4v4h-4zM367.5 545.5h4v4h-4zM91.5 549.5h4v4h-4zM191.5 549.5h4v4h-4zM299.5 549.5h4v4h-4zM287.5 553.5h4v4h-4zM307.5 553.5h4v4h-4zM323.5 553.5h4v4h-4zM259.5 557.5h4v4h-4zM295.5 557.5h4v4h-4zM203.5 565.5h4v4h-4zM295.5 565.5h4v4h-4zM199.5 573.5h4v4h-4zM299.5 573.5h4v4h-4zM339.5 573.5h4v4h-4zM103.5 577.5h4v4h-4zM127.5 577.5h4v4h-4zM295.5 577.5h4v4h-4zM87.5 581.5h4v4h-4zM107.5 585.5h4v4h-4zM211.5 589.5h4v4h-4zM219.5 589.5h4v4h-4zM251.5 589.5h4v4h-4zM319.5 589.5h4v4h-4zM95.5 593.5h4v4h-4zM103.5 593.5h4v4h-4zM255.5 593.5h4v4h-4zM315.5 593.5h4v4h-4zM187.5 597.5h4v4h-4zM211.5 597.5h4v4h-4zM323.5 597.5h4v4h-4zM83.5 601.5h4v4h-4zM135.5 601.5h4v4h-4zM91.5 605.5h4v4h-4zM183.5 605.5h4v4h-4zM227.5 605.5h4v4h-4zM351.5 605.5h4v4h-4zM95.5 609.5h4v4h-4zM111.5 609.5h4v4h-4zM167.5 609.5h4v4h-4zM175.5 609.5h4v4h-4zM315.5 609.5h4v4h-4zM311.5 613.5h4v4h-4zM315.5 617.5h8v4h-8zM171.5 621.5h4v4h-4zM275.5 621.5h4v4h-4zM327.5 621.5h4v4h-4zM131.5 625.5h4v4h-4zM347.5 625.5h4v4h-4zM199.5 629.5h4v4h-4zM207.5 629.5h4v4h-4zM307.5 629.5h4v4h-4zM291.5 633.5h4v4h-4zM195.5 637.5h4v4h-4zM299.5 637.5h4v4h-4zM95.5 641.5h4v4h-4zM295.5 641.5h4v4h-4zM327.5 641.5h4v4h-4zM343.5 641.5h4v4h-4zM179.5 645.5h4v4h-4zM219.5 645.5h4v4h-4zM235.5 645.5h8v4h-8zM267.5 645.5h4v4h-4zM279.5 645.5h4v4h-4zM207.5 649.5h4v4h-4zM223.5 649.5h4v4h-4zM87.5 653.5h4v4h-4z"/>
<path fill="#484848" d="M87.5 353.5h4v4h-4zM299.5 353.5h4v4h-4zM127.5 357.5h4v4h-4zM191.5 361.5h4v4h-4zM327.5 361.5h4v4h-4zM379.5 365.5h4v4h-4zM227.5 369.5h4v4h-4zM283.5 369.5h4v4h-4zM227.5 373.5h4v4h-4zM287.5 377.5h4v4h-4zM227.5 381.5h4v4h-4zM235.5 381.5h4v4h-4zM287.5 385.5h4v4h-4zM95.5 389.5h8v4h-8zM183.5 393.5h4v4h-4zM191.5 393.5h4v4h-4zM183.5 397.5h4v4h-4zM223.5 401.5h4v4h-4zM147.5 405.5h4v4h-4zM327.5 405.5h4v4h-4zM223.5 409.5h4v4h-4zM231.5 409.5h4v4h-4zM307.5 409.5h4v4h-4zM335.5 409.5h4v4h-4zM139.5 413.5h4v4h-4zM311.5 413.5h4v4h-4zM87.5 417.5h4v4h-4zM223.5 417.5h4v4h-4zM131.5 425.5h4v4h-4zM183.5 425.5h4v4h-4zM155.5 429.5h4v4h-4zM95.5 437.5h4v4h-4zM183.5 437.5h4v4h-4zM267.5 441.5h4v4h-4zM179.5 445.5h4v4h-4zM191.5 445.5h4v4h-4zM311.5 445.5h4v4h-4zM179.5 449.5h4v4h-4zM187.5 449.5h4v4h-4zM147.5 453.5h4v4h-4zM235.5 453.5h4v4h-4zM143.5 457.5h4v4h-4zM235.5 457.5h4v4h-4zM175.5 461.5h4v4h-4zM303.5 461.5h4v4h-4zM351.5 461.5h4v4h-4zM91.5 465.5h4v4h-4zM111.5 465.5h4v4h-4zM179.5 465.5h4v4h-4zM91.5 469.5h4v4h-4zM227.5 469.5h4v4h-4zM231.5 473.5h4v4h-4zM247.5 473.5h4v4h-4zM279.5 473.5h4v4h-4zM327.5 481.5h4v4h-4zM107.5 485.5h4v4h-4zM267.5 485.5h4v4h-4zM287.5 485.5h4v4h-4zM223.5 489.5h4v4h-4zM79.5 493.5h4v4h-4zM155.5 493.5h4v4h-4zM359.5 493.5h4v4h-4zM247.5 501.5h4v4h-4zM255.5 505.5h4v4h-4zM303.5 517.5h4v4h-4zM111.5 521.5h4v4h-4zM335.5 521.5h4v4h-4zM119.5 525.5h4v4h-4zM203.5 525.5h4v4h-4zM347.5 529.5h4v4h-4zM147.5 533.5h4v4h-4zM231.5 537.5h4v4h-4zM291.5 537.5h4v4h-4zM315.5 537.5h4v4h-4zM127.5 541.5h4v4h-4zM231.5 541.5h4v4h-4zM295.5 541.5h4v4h-4zM95.5 545.5h4v4h-4zM143.5 545.5h4v4h-4zM227.5 545.5h4v4h-4zM287.5 545.5h4v4h-4zM295.5 545.5h4v4h-4zM143.5 549.5h4v4h-4zM195.5 549.5h4v4h-4zM327.5 549.5h8v4h-8zM191.5 553.5h4v4h-4zM259.5 553.5h8v4h-8zM327.5 553.5h4v4h-4zM291.5 561.5h4v4h-4zM199.5 569.5h4v4h-4zM271.5 569.5h4v4h-4zM379.5 569.5h4v4h-4zM275.5 573.5h4v4h-4zM343.5 573.5h4v4h-4zM355.5 573.5h4v4h-4zM151.5 581.5h4v4h-4zM107.5 589.5h4v4h-4zM191.5 593.5h4v4h-4zM251.5 593.5h4v4h-4zM215.5 597.5h4v4h-4zM259.5 597.5h4v4h-4zM87.5 601.5h4v4h-4zM115.5 605.5h4v4h-4zM175.5 605.5h4v4h-4zM223.5 605.5h4v4h-4zM91.5 609.5h4v4h-4zM179.5 609.5h4v4h-4zM319.5 609.5h4v4h-4zM183.5 613.5h4v4h-4zM299.5 613.5h4v4h-4zM319.5 613.5h4v4h-4zM131.5 617.5h4v4h-4zM311.5 617.5h4v4h-4zM195.5 621.5h4v4h-4zM255.5 621.5h4v4h-4zM323.5 621.5h4v4h-4zM331.5 621.5h4v4h-4zM283.5 625.5h8v4h-8zM167.5 629.5h8v4h-8zM311.5 633.5h4v4h-4zM335.5 633.5h4v4h-4zM175.5 637.5h4v4h-4zM199.5 637.5h4v4h-4zM279.5 637.5h4v4h-4zM315.5 637.5h4v4h-4zM103.5 641.5h4v4h-4zM199.5 641.5h4v4h-4zM279.5 641.5h4v4h-4zM251.5 645.5h4v4h-4zM211.5 649.5h4v4h-4zM219.5 649.5h4v4h-4z"/>
<path fill="#4c4c4c" d="M83.5 353.5h4v4h-4zM147.5 353.5h4v4h-4zM375.5 361.5h4v4h-4zM171.5 365.5h4v4h-4zM203.5 369.5h4v4h-4zM287.5 369.5h4v4h-4zM227.5 377.5h4v4h-4zM303.5 377.5h4v4h-4zM127.5 385.5h4v4h-4zM243.5 385.5h4v4h-4zM291.5 385.5h4v4h-4zM179.5 393.5h4v4h-4zM347.5 393.5h4v4h-4zM379.5 393.5h4v4h-4zM115.5 397.5h4v4h-4zM179.5 397.5h4v4h-4zM219.5 405.5h4v4h-4zM343.5 405.5h4v4h-4zM143.5 409.5h8v4h-8zM235.5 409.5h4v4h-4zM319.5 409.5h4v4h-4zM203.5 413.5h4v4h-4zM223.5 413.5h4v4h-4zM231.5 413.5h4v4h-4zM323.5 417.5h4v4h-4zM175.5 421.5h4v4h-4zM283.5 421.5h4v4h-4zM135.5 425.5h4v4h-4zM179.5 425.5h4v4h-4zM299.5 429.5h4v4h-4zM87.5 433.5h4v4h-4zM299.5 433.5h8v4h-8zM179.5 437.5h4v4h-4zM279.5 437.5h4v4h-4zM275.5 441.5h4v4h-4zM267.5 445.5h4v4h-4zM147.5 449.5h4v4h-4zM307.5 449.5h4v4h-4zM319.5 453.5h4v4h-4zM179.5 461.5h4v4h-4zM307.5 461.5h4v4h-4zM79.5 465.5h4v4h-4zM115.5 465.5h4v4h-4zM299.5 465.5h4v4h-4zM323.5 473.5h4v4h-4zM379.5 477.5h4v4h-4zM263.5 481.5h4v4h-4zM331.5 481.5h4v4h-4zM107.5 489.5h4v4h-4zM231.5 489.5h4v4h-4zM263.5 489.5h4v4h-4zM167.5 493.5h4v4h-4zM227.5 493.5h4v4h-4zM267.5 493.5h4v4h-4zM335.5 493.5h4v4h-4zM231.5 497.5h4v4h-4zM183.5 509.5h8v4h-8zM151.5 517.5h4v4h-4zM207.5 525.5h4v4h-4zM119.5 529.5h4v4h-4zM279.5 533.5h4v4h-4zM371.5 533.5h4v4h-4zM207.5 541.5h4v4h-4zM315.5 541.5h4v4h-4zM91.5 545.5h4v4h-4zM127.5 545.5h4v4h-4zM291.5 545.5h4v4h-4zM363.5 545.5h4v4h-4zM151.5 553.5h4v4h-4zM251.5 553.5h4v4h-4zM291.5 557.5h4v4h-4zM119.5 561.5h4v4h-4zM231.5 561.5h4v4h-4zM199.5 565.5h4v4h-4zM319.5 569.5h4v4h-4zM287.5 573.5h4v4h-4zM319.5 573.5h4v4h-4zM347.5 573.5h4v4h-4zM355.5 577.5h4v4h-4zM151.5 585.5h4v4h-4zM103.5 589.5h4v4h-4zM255.5 589.5h4v4h-4zM263.5 589.5h4v4h-4zM211.5 593.5h4v4h-4zM263.5 593.5h4v4h-4zM323.5 593.5h4v4h-4zM195.5 597.5h4v4h-4zM219.5 597.5h4v4h-4zM267.5 597.5h4v4h-4zM355.5 597.5h4v4h-4zM107.5 601.5h4v4h-4zM163.5 605.5h4v4h-4zM351.5 609.5h4v4h-4zM115.5 613.5h4v4h-4zM303.5 613.5h8v4h-8zM315.5 613.5h4v4h-4zM259.5 617.5h4v4h-4zM123.5 621.5h12v4h-12zM251.5 621.5h4v4h-4zM283.5 621.5h4v4h-4zM335.5 621.5h4v4h-4zM195.5 625.5h4v4h-4zM295.5 637.5h4v4h-4zM323.5 637.5h4v4h-4zM339.5 637.5h4v4h-4zM175.5 641.5h4v4h-4zM239.5 641.5h4v4h-4zM135.5 645.5h4v4h-4zM175.5 645.5h4v4h-4zM207.5 645.5h4v4h-4zM303.5 645.5h4v4h-4zM83.5 649.5h4v4h-4zM215.5 649.5h4v4h-4zM255.5 649.5h4v4h-4z"/>
<path fill="#505050" d="M151.5 353.5h4v4h-4zM227.5 353.5h4v4h-4zM295.5 353.5h4v4h-4zM227.5 357.5h4v4h-4zM239.5 357.5h4v4h-4zM179.5 361.5h4v4h-4zM179.5 365.5h4v4h-4zM375.5 365.5h4v4h-4zM291.5 369.5h4v4h-4zM203.5 373.5h4v4h-4zM299.5 373.5h4v4h-4zM299.5 377.5h4v4h-4zM79.5 381.5h4v4h-4zM287.5 381.5h4v4h-4zM295.5 381.5h4v4h-4zM131.5 385.5h4v4h-4zM155.5 385.5h4v4h-4zM239.5 385.5h4v4h-4zM239.5 389.5h4v4h-4zM227.5 397.5h4v4h-4zM375.5 397.5h4v4h-4zM115.5 401.5h4v4h-4zM319.5 413.5h4v4h-4zM111.5 417.5h4v4h-4zM199.5 417.5h4v4h-4zM311.5 421.5h4v4h-4zM191.5 425.5h4v4h-4zM131.5 429.5h4v4h-4zM187.5 429.5h4v4h-4zM303.5 429.5h4v4h-4zM83.5 437.5h8v4h-8zM271.5 437.5h4v4h-4zM291.5 441.5h4v4h-4zM147.5 445.5h4v4h-4zM275.5 445.5h4v4h-4zM307.5 453.5h4v4h-4zM79.5 461.5h4v4h-4zM347.5 461.5h4v4h-4zM303.5 465.5h4v4h-4zM347.5 465.5h4v4h-4zM307.5 477.5h4v4h-4zM311.5 481.5h4v4h-4zM119.5 485.5h4v4h-4zM103.5 489.5h4v4h-4zM235.5 489.5h4v4h-4zM339.5 493.5h4v4h-4zM339.5 497.5h4v4h-4zM247.5 521.5h8v4h-8zM227.5 529.5h4v4h-4zM227.5 533.5h8v4h-8zM291.5 533.5h4v4h-4zM151.5 537.5h4v4h-4zM287.5 549.5h4v4h-4zM147.5 553.5h4v4h-4zM255.5 553.5h4v4h-4zM199.5 561.5h4v4h-4zM291.5 569.5h4v4h-4zM283.5 573.5h4v4h-4zM351.5 573.5h4v4h-4zM299.5 577.5h8v4h-8zM351.5 577.5h4v4h-4zM215.5 589.5h4v4h-4zM259.5 589.5h4v4h-4zM99.5 593.5h4v4h-4zM259.5 593.5h4v4h-4zM355.5 601.5h4v4h-4zM87.5 605.5h4v4h-4zM111.5 605.5h4v4h-4zM267.5 605.5h4v4h-4zM163.5 609.5h4v4h-4zM183.5 609.5h4v4h-4zM91.5 613.5h8v4h-8zM303.5 617.5h4v4h-4zM307.5 621.5h4v4h-4zM339.5 621.5h4v4h-4zM119.5 625.5h4v4h-4zM127.5 625.5h4v4h-4zM203.5 629.5h4v4h-4zM347.5 629.5h4v4h-4zM107.5 633.5h4v4h-4zM347.5 633.5h4v4h-4zM107.5 637.5h4v4h-4zM327.5 637.5h4v4h-4zM155.5 641.5h4v4h-4zM303.5 641.5h4v4h-4zM199.5 645.5h8v4h-8zM211.5 645.5h4v4h-4zM247.5 653.5h4v4h-4z"/>
<path fill="#545454" d="M223.5 357.5h4v4h-4zM327.5 357.5h4v4h-4zM339.5 357.5h4v4h-4zM123.5 361.5h4v4h-4zM195.5 361.5h4v4h-4zM315.5 361.5h8v4h-8zM291.5 373.5h4v4h-4zM131.5 389.5h8v4h-8zM351.5 393.5h4v4h-4zM231.5 401.5h4v4h-4zM311.5 405.5h4v4h-4zM231.5 417.5h4v4h-4zM315.5 417.5h4v4h-4zM115.5 421.5h4v4h-4zM151.5 429.5h4v4h-4zM175.5 429.5h4v4h-4zM183.5 433.5h4v4h-4zM271.5 441.5h4v4h-4zM315.5 449.5h4v4h-4zM203.5 453.5h4v4h-4zM243.5 457.5h4v4h-4zM343.5 465.5h4v4h-4zM131.5 473.5h4v4h-4zM315.5 481.5h4v4h-4zM263.5 485.5h4v4h-4zM267.5 489.5h4v4h-4zM87.5 493.5h4v4h-4zM271.5 493.5h4v4h-4zM79.5 497.5h4v4h-4zM87.5 497.5h4v4h-4zM163.5 501.5h4v4h-4zM147.5 517.5h4v4h-4zM239.5 521.5h4v4h-4zM251.5 525.5h4v4h-4zM371.5 537.5h4v4h-4zM311.5 541.5h4v4h-4zM303.5 549.5h4v4h-4zM203.5 561.5h4v4h-4zM287.5 565.5h4v4h-4zM335.5 565.5h4v4h-4zM283.5 569.5h4v4h-4zM191.5 597.5h4v4h-4zM259.5 605.5h4v4h-4zM115.5 609.5h4v4h-4zM359.5 613.5h4v4h-4zM307.5 617.5h4v4h-4zM287.5 621.5h4v4h-4zM319.5 621.5h4v4h-4zM195.5 629.5h4v4h-4zM203.5 633.5h4v4h-4zM295.5 633.5h4v4h-4zM319.5 637.5h4v4h-4zM235.5 641.5h4v4h-4zM215.5 645.5h4v4h-4zM255.5 645.5h4v4h-4z"/>
<path fill="#585858" d="M123.5 357.5h4v4h-4zM331.5 357.5h8v4h-8zM195.5 365.5h4v4h-4zM319.5 365.5h4v4h-4zM231.5 377.5h4v4h-4zM291.5 377.5h4v4h-4zM231.5 381.5h4v4h-4zM291.5 381.5h4v4h-4zM243.5 389.5h4v4h-4zM227.5 401.5h4v4h-4zM375.5 401.5h4v4h-4zM223.5 405.5h4v4h-4zM315.5 405.5h4v4h-4zM331.5 405.5h4v4h-4zM315.5 421.5h4v4h-4zM151.5 425.5h8v4h-8zM187.5 425.5h4v4h-4zM83.5 433.5h4v4h-4zM179.5 433.5h4v4h-4zM271.5 433.5h4v4h-4zM295.5 441.5h4v4h-4zM291.5 445.5h4v4h-4zM191.5 449.5h4v4h-4zM247.5 457.5h4v4h-4zM307.5 465.5h4v4h-4zM115.5 469.5h4v4h-4zM131.5 469.5h4v4h-4zM307.5 469.5h4v4h-4zM227.5 473.5h4v4h-4zM311.5 473.5h4v4h-4zM315.5 477.5h4v4h-4zM271.5 489.5h4v4h-4zM83.5 493.5h4v4h-4zM83.5 497.5h4v4h-4zM155.5 501.5h4v4h-4zM243.5 521.5h4v4h-4zM243.5 525.5h4v4h-4zM295.5 533.5h4v4h-4zM275.5 537.5h8v4h-8zM295.5 537.5h4v4h-4zM223.5 541.5h4v4h-4zM295.5 549.5h4v4h-4zM295.5 553.5h4v4h-4zM263.5 557.5h4v4h-4zM119.5 565.5h4v4h-4zM115.5 569.5h4v4h-4zM127.5 573.5h4v4h-4zM271.5 573.5h4v4h-4zM215.5 593.5h4v4h-4zM91.5 617.5h4v4h-4zM359.5 617.5h4v4h-4zM119.5 621.5h4v4h-4zM355.5 621.5h4v4h-4zM191.5 625.5h4v4h-4zM199.5 633.5h4v4h-4zM95.5 637.5h4v4h-4zM79.5 649.5h4v4h-4zM251.5 649.5h4v4h-4zM79.5 653.5h8v4h-8z"/>
<path fill="#5c5c5c" d="M219.5 357.5h4v4h-4zM175.5 361.5h4v4h-4zM315.5 365.5h4v4h-4zM315.5 413.5h4v4h-4zM191.5 417.5h4v4h-4zM175.5 425.5h4v4h-4zM307.5 473.5h4v4h-4zM131.5 477.5h8v4h-8zM167.5 497.5h4v4h-4zM247.5 525.5h4v4h-4zM275.5 533.5h4v4h-4zM227.5 537.5h4v4h-4zM363.5 537.5h4v4h-4zM291.5 565.5h4v4h-4zM219.5 593.5h4v4h-4zM319.5 593.5h4v4h-4zM355.5 605.5h4v4h-4zM335.5 625.5h4v4h-4zM335.5 629.5h4v4h-4zM195.5 633.5h4v4h-4zM251.5 653.5h4v4h-4z"/>
<path fill="#606060" d="M175.5 365.5h4v4h-4zM295.5 373.5h4v4h-4zM307.5 377.5h4v4h-4zM379.5 397.5h4v4h-4zM227.5 405.5h8v4h-8zM235.5 413.5h4v4h-4zM331.5 413.5h4v4h-4zM115.5 417.5h4v4h-4zM135.5 429.5h4v4h-4zM279.5 433.5h4v4h-4zM275.5 437.5h4v4h-4zM271.5 445.5h4v4h-4zM311.5 453.5h4v4h-4zM135.5 473.5h4v4h-4zM311.5 477.5h4v4h-4zM311.5 545.5h4v4h-4zM291.5 549.5h4v4h-4zM291.5 553.5h4v4h-4zM111.5 561.5h4v4h-4zM339.5 561.5h4v4h-4zM259.5 601.5h4v4h-4zM311.5 621.5h4v4h-4zM123.5 625.5h4v4h-4zM343.5 625.5h4v4h-4zM191.5 629.5h4v4h-4zM95.5 633.5h4v4h-4zM343.5 637.5h4v4h-4zM299.5 645.5h4v4h-4z"/>
<path fill="#646464" d="M219.5 353.5h8v4h-8zM295.5 377.5h4v4h-4zM307.5 389.5h4v4h-4zM379.5 401.5h4v4h-4zM311.5 409.5h4v4h-4zM311.5 449.5h4v4h-4zM195.5 453.5h4v4h-4zM315.5 453.5h4v4h-4zM287.5 477.5h4v4h-4zM231.5 493.5h8v4h-8zM155.5 497.5h4v4h-4zM159.5 501.5h4v4h-4zM363.5 541.5h4v4h-4zM307.5 545.5h4v4h-4zM127.5 569.5h4v4h-4zM287.5 569.5h4v4h-4zM251.5 617.5h8v4h-8zM351.5 617.5h4v4h-4zM315.5 621.5h4v4h-4zM103.5 629.5h4v4h-4zM299.5 641.5h4v4h-4z"/>
<path fill="#686868" d="M323.5 409.5h4v4h-4zM143.5 413.5h4v4h-4zM191.5 421.5h4v4h-4zM179.5 429.5h8v4h-8zM275.5 433.5h4v4h-4zM279.5 477.5h4v4h-4zM287.5 481.5h4v4h-4zM163.5 493.5h4v4h-4zM367.5 541.5h4v4h-4zM335.5 561.5h4v4h-4zM263.5 597.5h4v4h-4zM263.5 605.5h4v4h-4zM319.5 633.5h4v4h-4z"/>
<path fill="#6c6c6c" d="M147.5 413.5h4v4h-4zM143.5 417.5h4v4h-4zM203.5 461.5h4v4h-4zM127.5 465.5h8v4h-8zM159.5 493.5h4v4h-4zM227.5 541.5h4v4h-4zM111.5 565.5h4v4h-4zM355.5 609.5h4v4h-4zM351.5 613.5h4v4h-4zM343.5 629.5h4v4h-4zM103.5 637.5h4v4h-4z"/>
<path fill="#707070" d="M315.5 409.5h4v4h-4zM195.5 457.5h4v4h-4zM115.5 561.5h4v4h-4zM315.5 633.5h4v4h-4zM339.5 633.5h4v4h-4z"/>
<path fill="#747474" d="M187.5 417.5h4v4h-4zM187.5 421.5h4v4h-4zM279.5 481.5h4v4h-4zM267.5 601.5h4v4h-4zM339.5 625.5h4v4h-4zM343.5 633.5h4v4h-4z"/>
<path fill="#787878" d="M323.5 413.5h4v4h-4zM199.5 461.5h4v4h-4zM163.5 497.5h4v4h-4zM367.5 537.5h4v4h-4zM99.5 637.5h4v4h-4z"/>
<path fill="#7c7c7c" d="M303.5 385.5h4v4h-4zM311.5 385.5h4v4h-4zM339.5 629.5h4v4h-4z"/>
<path fill="#808080" d="M311.5 381.5h4v4h-4zM147.5 417.5h4v4h-4zM159.5 497.5h4v4h-4zM311.5 549.5h4v4h-4z"/>
<path fill="#848484" d="M303.5 381.5h4v4h-4zM319.5 625.5h4v4h-4zM311.5 629.5h4v4h-4zM319.5 629.5h4v4h-4zM103.5 633.5h4v4h-4z"/>
<path fill="#888888" d="M311.5 625.5h4v4h-4zM99.5 629.5h4v4h-4z"/>
<path fill="#8c8c8c" d="M283.5 477.5h4v4h-4z"/>
<path fill="#909090" d="M203.5 457.5h4v4h-4zM263.5 601.5h4v4h-4z"/>
<path fill="#989898" d="M327.5 413.5h4v4h-4zM355.5 617.5h4v4h-4z"/>
<path fill="#9c9c9c" d="M199.5 453.5h4v4h-4zM283.5 481.5h4v4h-4zM307.5 549.5h4v4h-4zM115.5 565.5h4v4h-4zM355.5 613.5h4v4h-4z"/>
<path fill="#a8a8a8" d="M331.5 409.5h4v4h-4z"/>
<path fill="#acacac" d="M327.5 409.5h4v4h-4z"/>
<path fill="#b4b4b4" d="M99.5 633.5h4v4h-4z"/>
<path fill="#c4c4c4" d="M315.5 625.5h4v4h-4zM315.5 629.5h4v4h-4z"/>
<path fill="#c8c8c8" d="M307.5 385.5h4v4h-4z"/>
<path fill="#cccccc" d="M307.5 381.5h4v4h-4z"/>
<path fill="#e0e0e0" d="M199.5 457.5h4v4h-4z"/>
</g>
<g fill="#fff" filter="url(#b26)">
<circle cx="202.3" cy="448.6" r="6" fill-opacity="0.97"/>
<circle cx="128.5" cy="423.4" r="6" fill-opacity="0.95"/>
<circle cx="282.7" cy="372.2" r="6" fill-opacity="0.56"/>
<circle cx="349.7" cy="424.4" r="6" fill-opacity="0.50"/>
<circle cx="301.2" cy="575.6" r="6" fill-opacity="0.56"/>
<circle cx="194.4" cy="615.5" r="6" fill-opacity="0.42"/>
<circle cx="198.5" cy="483.8" r="6" fill-opacity="0.42"/>
<circle cx="124.8" cy="401.9" r="6" fill-opacity="0.37"/>
</g>
<g fill="#fff" filter="url(#b4)" opacity="0.45">
<circle cx="202.1" cy="383.1" r="11.4"/>
<circle cx="158.1" cy="434.6" r="7.2"/>
<circle cx="106.8" cy="462.3" r="7.8"/>
<circle cx="360.5" cy="369.8" r="10.6"/>
<circle cx="276.6" cy="418.3" r="6.6"/>
<circle cx="271.5" cy="437.7" r="8.8"/>
<circle cx="133.0" cy="519.3" r="8.8"/>
<circle cx="163.3" cy="536.7" r="8.8"/>
<circle cx="155.9" cy="589.9" r="12.2"/>
<circle cx="238.1" cy="586.0" r="11.6"/>
<circle cx="281.5" cy="525.9" r="7.0"/>
<ellipse cx="139.1" cy="381.8" rx="10" ry="6.5" transform="rotate(-32 139.1 381.8)"/>
</g>
<g fill="#fff" filter="url(#b2)">
<circle cx="202.1" cy="383.1" r="9.5"/>
<circle cx="158.1" cy="434.6" r="5.300000000000001"/>
<circle cx="106.8" cy="462.3" r="5.9"/>
<circle cx="360.5" cy="369.8" r="8.7"/>
<circle cx="276.6" cy="418.3" r="4.7"/>
<circle cx="271.5" cy="437.7" r="6.9"/>
<circle cx="133.0" cy="519.3" r="6.9"/>
<circle cx="163.3" cy="536.7" r="6.9"/>
<circle cx="155.9" cy="589.9" r="10.299999999999999"/>
<circle cx="238.1" cy="586.0" r="9.7"/>
<circle cx="281.5" cy="525.9" r="5.1"/>
<ellipse cx="139.1" cy="381.8" rx="6.6" ry="3.6" transform="rotate(-32 139.1 381.8)"/>
</g>
</g>
<rect x="91.5" y="365.5" width="280.0" height="280.0" fill="none" stroke="#000" stroke-width="1.11"/>
<path d="M198.33 446.33L206.67 454.67M198.33 454.67L206.67 446.33" stroke="#0000ff" stroke-width="1.5" fill="none"/>
<path d="M227.33 501.33L235.67 509.67M227.33 509.67L235.67 501.33" stroke="#ff0000" stroke-width="1.5" fill="none"/>
<line x1="166.50" y1="365.50" x2="166.50" y2="360.64" stroke="#000" stroke-width="1.11" />
<line x1="246.50" y1="365.50" x2="246.50" y2="360.64" stroke="#000" stroke-width="1.11" />
<line x1="325.50" y1="365.50" x2="325.50" y2="360.64" stroke="#000" stroke-width="1.11" />
<line x1="168.50" y1="645.50" x2="168.50" y2="650.36" stroke="#000" stroke-width="1.11" />
<line x1="245.50" y1="645.50" x2="245.50" y2="650.36" stroke="#000" stroke-width="1.11" />
<line x1="323.50" y1="645.50" x2="323.50" y2="650.36" stroke="#000" stroke-width="1.11" />
<line x1="91.50" y1="416.50" x2="86.64" y2="416.50" stroke="#000" stroke-width="1.11" />
<line x1="371.50" y1="416.50" x2="376.36" y2="416.50" stroke="#000" stroke-width="1.11" />
<text x="30.48" y="419.80" font-size="14.31" textLength="51.12" lengthAdjust="spacingAndGlyphs" fill="#000">-55°30'</text>
<line x1="91.50" y1="486.50" x2="86.64" y2="486.50" stroke="#000" stroke-width="1.11" />
<line x1="371.50" y1="486.50" x2="376.36" y2="486.50" stroke="#000" stroke-width="1.11" />
<text x="60.11" y="489.80" font-size="14.31" textLength="21.49" lengthAdjust="spacingAndGlyphs" fill="#000">45'</text>
<line x1="91.50" y1="556.50" x2="86.64" y2="556.50" stroke="#000" stroke-width="1.11" />
<line x1="371.50" y1="556.50" x2="376.36" y2="556.50" stroke="#000" stroke-width="1.11" />
<text x="30.48" y="559.80" font-size="14.31" textLength="51.12" lengthAdjust="spacingAndGlyphs" fill="#000">-56°00'</text>
<line x1="91.50" y1="626.50" x2="86.64" y2="626.50" stroke="#000" stroke-width="1.11" />
<line x1="371.50" y1="626.50" x2="376.36" y2="626.50" stroke="#000" stroke-width="1.11" />
<text x="60.11" y="629.80" font-size="14.31" textLength="21.49" lengthAdjust="spacingAndGlyphs" fill="#000">15'</text>
<text x="202.24" y="355.40" font-size="17.17" textLength="58.51" lengthAdjust="spacingAndGlyphs" fill="#000">GLEAM</text>
<text transform="translate(20.60 507.20) rotate(-90)" x="-13.44" y="0" font-size="14.31" textLength="26.88" lengthAdjust="spacingAndGlyphs" fill="#000">Dec</text>
<text x="222.81" y="686.00" font-size="14.31" textLength="18.59" lengthAdjust="spacingAndGlyphs" fill="#000">RA</text>
<text x="142.40" y="664.90" font-size="14.31" textLength="17.67" lengthAdjust="spacingAndGlyphs" fill="#000">22</text>
<text x="159.60" y="660.30" font-size="10.01" textLength="6.16" lengthAdjust="spacingAndGlyphs" fill="#000">h</text>
<text x="166.30" y="664.90" font-size="14.31" textLength="17.67" lengthAdjust="spacingAndGlyphs" fill="#000">46</text>
<text x="183.80" y="660.30" font-size="10.01" textLength="9.47" lengthAdjust="spacingAndGlyphs" fill="#000">m</text>
<text x="232.40" y="664.90" font-size="14.31" textLength="17.67" lengthAdjust="spacingAndGlyphs" fill="#000">44</text>
<text x="249.30" y="660.30" font-size="10.01" textLength="9.47" lengthAdjust="spacingAndGlyphs" fill="#000">m</text>
<text x="310.00" y="664.90" font-size="14.31" textLength="17.67" lengthAdjust="spacingAndGlyphs" fill="#000">42</text>
<text x="327.00" y="660.30" font-size="10.01" textLength="9.47" lengthAdjust="spacingAndGlyphs" fill="#000">m</text>
<rect x="380.5" y="365.5" width="9.0" height="280.0" fill="url(#gr)" stroke="#000" stroke-width="1.11"/>
<line x1="389.50" y1="380.50" x2="394.36" y2="380.50" stroke="#000" stroke-width="1.11" />
<text x="399.40" y="385.90" font-size="14.31" textLength="17.67" lengthAdjust="spacingAndGlyphs" fill="#000">80</text>
<line x1="389.50" y1="434.50" x2="394.36" y2="434.50" stroke="#000" stroke-width="1.11" />
<text x="399.40" y="439.90" font-size="14.31" textLength="17.67" lengthAdjust="spacingAndGlyphs" fill="#000">60</text>
<line x1="389.50" y1="487.50" x2="394.36" y2="487.50" stroke="#000" stroke-width="1.11" />
<text x="399.40" y="492.90" font-size="14.31" textLength="17.67" lengthAdjust="spacingAndGlyphs" fill="#000">40</text>
<line x1="389.50" y1="541.50" x2="394.36" y2="541.50" stroke="#000" stroke-width="1.11" />
<text x="399.40" y="546.90" font-size="14.31" textLength="17.67" lengthAdjust="spacingAndGlyphs" fill="#000">20</text>
<line x1="389.50" y1="595.50" x2="394.36" y2="595.50" stroke="#000" stroke-width="1.11" />
<text x="399.40" y="600.90" font-size="14.31" textLength="8.84" lengthAdjust="spacingAndGlyphs" fill="#000">0</text>
<text transform="translate(432.20 505.20) rotate(-90)" x="-79.58" y="0" font-size="14.31" textLength="159.16" lengthAdjust="spacingAndGlyphs" fill="#000">Brightness (mJy/beam)</text>
<g clip-path="url(#cH)">
<path d="M470.50 645.5V498.5H472.16V447.0H473.82V472.5H475.48V498.5H477.14V547.0H478.80V569.5H480.46V585.0H482.12V603.8H483.78V614.0H485.44V622.7H487.10V627.9H488.76V632.0H490.42V634.0H492.08V636.0H493.74V637.5H495.40V639.0H497.06V640.0H498.72V641.0H500.38V641.8H502.04V642.4H503.70V643.0H505.36V643.2H507.02V643.4H508.68V643.6H510.34V643.7H512.00V643.8H513.66V644.0H515.32V644.1H516.98V644.2H518.64V644.3H520.30V644.4H521.96V644.4H523.62V644.5H525.28V644.5H526.94V644.5H528.60V644.6H530.26V644.6H531.92V644.6H533.58V644.7H535.24V644.7H536.90V644.7H538.56V644.8H540.22V644.8H541.88V644.8H543.54V644.8H545.20V644.8H546.86V644.8H548.52V644.8H550.18V644.8H551.84V644.8H553.50V645.5z" fill="#0000ff" fill-opacity="0.3"/>
<path d="M470.50 645.5V405.1H477.37V377.9H484.24V455.9H491.11V515.0H497.98V561.8H504.85V591.8H511.72V609.8H518.59V618.9H525.46V628.2H532.33V630.0H539.20V636.0H546.07V638.0H552.94V640.0H559.81V641.1H566.68V642.0H573.55V642.4H580.42V643.0H587.29V643.2H594.16V643.7H601.03V643.7H607.90V643.7H614.77V643.7H621.64V643.7H628.51V643.7H635.38V643.7H642.25V643.7H649.12V643.7H655.99V643.7H662.86V643.7H669.73V643.7H676.60V643.7H683.47V643.7H690.34V643.7H697.21V646.0H704.08V646.0H710.95V643.7H717.82V646.0H724.69V646.0H731.56V646.0H738.43V646.0H745.30V646.0H752.17V646.0H759.04V646.0H765.91V646.0H772.78V646.0H779.65V646.0H786.52V646.0H793.39V646.0H800.26V646.0H807.13V643.7H814.00V645.5z" fill="#ff0000" fill-opacity="0.3"/>
</g>
<line x1="479.00" y1="644.90" x2="479.00" y2="365.50" stroke="#000" stroke-width="2.08" stroke-dasharray="7.71 3.33"/>
<line x1="519.00" y1="645.50" x2="519.00" y2="365.50" stroke="#000" stroke-width="2.08" />
<rect x="470.5" y="365.5" width="360.0" height="280.0" fill="none" stroke="#000" stroke-width="1.11"/>
<line x1="470.50" y1="645.50" x2="470.50" y2="650.36" stroke="#000" stroke-width="1.11" />
<text x="466.08" y="665.90" font-size="14.31" textLength="8.84" lengthAdjust="spacingAndGlyphs" fill="#000">0</text>
<line x1="522.88" y1="645.50" x2="522.88" y2="650.36" stroke="#000" stroke-width="1.11" />
<text x="518.46" y="665.90" font-size="14.31" textLength="8.84" lengthAdjust="spacingAndGlyphs" fill="#000">5</text>
<line x1="575.26" y1="645.50" x2="575.26" y2="650.36" stroke="#000" stroke-width="1.11" />
<text x="566.42" y="665.90" font-size="14.31" textLength="17.67" lengthAdjust="spacingAndGlyphs" fill="#000">10</text>
<line x1="627.64" y1="645.50" x2="627.64" y2="650.36" stroke="#000" stroke-width="1.11" />
<text x="618.80" y="665.90" font-size="14.31" textLength="17.67" lengthAdjust="spacingAndGlyphs" fill="#000">15</text>
<line x1="680.02" y1="645.50" x2="680.02" y2="650.36" stroke="#000" stroke-width="1.11" />
<text x="671.18" y="665.90" font-size="14.31" textLength="17.67" lengthAdjust="spacingAndGlyphs" fill="#000">20</text>
<line x1="732.40" y1="645.50" x2="732.40" y2="650.36" stroke="#000" stroke-width="1.11" />
<text x="723.56" y="665.90" font-size="14.31" textLength="17.67" lengthAdjust="spacingAndGlyphs" fill="#000">25</text>
<line x1="784.78" y1="645.50" x2="784.78" y2="650.36" stroke="#000" stroke-width="1.11" />
<text x="775.94" y="665.90" font-size="14.31" textLength="17.67" lengthAdjust="spacingAndGlyphs" fill="#000">30</text>
<line x1="830.50" y1="645.50" x2="835.36" y2="645.50" stroke="#000" stroke-width="1.11" />
<text x="840.20" y="650.90" font-size="14.31" textLength="8.84" lengthAdjust="spacingAndGlyphs" fill="#000">0</text>
<line x1="830.50" y1="590.50" x2="835.36" y2="590.50" stroke="#000" stroke-width="1.11" />
<text x="840.20" y="595.90" font-size="14.31" textLength="26.51" lengthAdjust="spacingAndGlyphs" fill="#000">500</text>
<line x1="830.50" y1="535.50" x2="835.36" y2="535.50" stroke="#000" stroke-width="1.11" />
<text x="840.20" y="540.90" font-size="14.31" textLength="35.35" lengthAdjust="spacingAndGlyphs" fill="#000">1000</text>
<line x1="830.50" y1="480.50" x2="835.36" y2="480.50" stroke="#000" stroke-width="1.11" />
<text x="840.20" y="485.90" font-size="14.31" textLength="35.35" lengthAdjust="spacingAndGlyphs" fill="#000">1500</text>
<line x1="830.50" y1="425.50" x2="835.36" y2="425.50" stroke="#000" stroke-width="1.11" />
<text x="840.20" y="430.90" font-size="14.31" textLength="35.35" lengthAdjust="spacingAndGlyphs" fill="#000">2000</text>
<line x1="830.50" y1="370.50" x2="835.36" y2="370.50" stroke="#000" stroke-width="1.11" />
<text x="840.20" y="375.90" font-size="14.31" textLength="35.35" lengthAdjust="spacingAndGlyphs" fill="#000">2500</text>
<text x="512.13" y="684.60" font-size="14.31" textLength="276.34" lengthAdjust="spacingAndGlyphs" fill="#000">Normalised stdev or detection statistics</text>
<text transform="translate(890.40 505.40) rotate(-90)" x="-66.47" y="0" font-size="14.31" textLength="132.95" lengthAdjust="spacingAndGlyphs" fill="#000">Number of Sources</text>
<rect x="618.5" y="370.5" width="206" height="65.5" rx="2.2" ry="2.2" fill="#fff" fill-opacity="0.8" stroke="#cccccc" stroke-width="1.11"/>
<rect x="621.7" y="375.1" width="23.3" height="8" fill="#0000ff" fill-opacity="0.3"/>
<rect x="621.7" y="390.0" width="23.3" height="8" fill="#ff0000" fill-opacity="0.3"/>
<line x1="621.70" y1="409.90" x2="644.90" y2="409.90" stroke="#000" stroke-width="2.08" stroke-dasharray="7.71 3.33"/>
<line x1="621.70" y1="424.80" x2="644.90" y2="424.80" stroke="#000" stroke-width="2.08" />
<text x="653.30" y="382.90" font-size="11.44" textLength="110.36" lengthAdjust="spacingAndGlyphs" fill="#000">Known srcs residual</text>
<text x="653.30" y="397.90" font-size="11.44" textLength="166.08" lengthAdjust="spacingAndGlyphs" fill="#000">Known srcs detection statistic</text>
<text x="653.30" y="413.60" font-size="11.44" textLength="104.36" lengthAdjust="spacingAndGlyphs" fill="#000">Candidate residual</text>
<text x="653.30" y="428.50" font-size="11.44" textLength="160.08" lengthAdjust="spacingAndGlyphs" fill="#000">Candidate detection statistic</text>
</svg></body></html>
